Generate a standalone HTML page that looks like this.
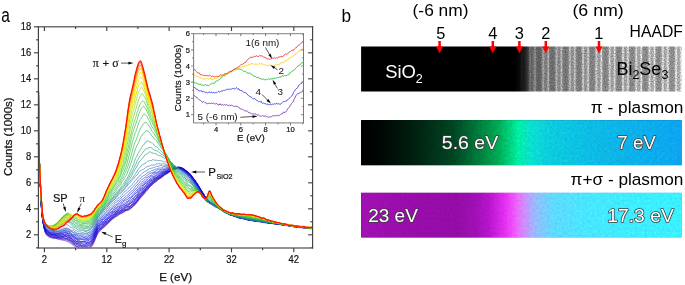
<!DOCTYPE html>
<html lang="en"><head><meta charset="utf-8"><title>EELS spectra and plasmon maps</title>
<style>
html,body{margin:0;padding:0;background:#fff;}
body{width:685px;height:285px;overflow:hidden;font-family:"Liberation Sans",sans-serif;}
svg{display:block;}
</style></head><body>
<svg width="685" height="285" viewBox="0 0 685 285" font-family="'Liberation Sans', sans-serif">
<defs>
<clipPath id="cm"><rect x="38.4" y="26.8" width="274.2" height="221.6"/></clipPath>
<clipPath id="ci"><rect x="193.6" y="33.6" width="109.9" height="89.3"/></clipPath>
<linearGradient id="gpi" x1="0" x2="1" y1="0" y2="0">
<stop offset="0" stop-color="#000000"/>
<stop offset="0.06" stop-color="#000603"/>
<stop offset="0.146" stop-color="#001a0c"/>
<stop offset="0.29" stop-color="#004422"/>
<stop offset="0.371" stop-color="#007c3c"/>
<stop offset="0.425" stop-color="#00a450"/>
<stop offset="0.464" stop-color="#00cc78"/>
<stop offset="0.49" stop-color="#00e8a0"/>
<stop offset="0.514" stop-color="#06e0b8"/>
<stop offset="0.534" stop-color="#0ad8cc"/>
<stop offset="0.589" stop-color="#0cc6d8"/>
<stop offset="0.745" stop-color="#0cb4e0"/>
<stop offset="1" stop-color="#0ca0ea"/>
</linearGradient>
<linearGradient id="gps" x1="0" x2="1" y1="0" y2="0">
<stop offset="0" stop-color="#9c10ae"/>
<stop offset="0.15" stop-color="#940ca6"/>
<stop offset="0.30" stop-color="#900ca2"/>
<stop offset="0.36" stop-color="#9c10b0"/>
<stop offset="0.40" stop-color="#b414c8"/>
<stop offset="0.445" stop-color="#da2ce8"/>
<stop offset="0.47" stop-color="#e848f4"/>
<stop offset="0.49" stop-color="#e06cf6"/>
<stop offset="0.515" stop-color="#c090f8"/>
<stop offset="0.545" stop-color="#90b8f8"/>
<stop offset="0.60" stop-color="#5cd4fa"/>
<stop offset="0.70" stop-color="#46e0fe"/>
<stop offset="0.85" stop-color="#3ce6ff"/>
<stop offset="1" stop-color="#38eaff"/>
</linearGradient>
<filter id="nz" x="0" y="0" width="100%" height="100%" color-interpolation-filters="sRGB">
<feTurbulence type="fractalNoise" baseFrequency="0.6" numOctaves="2" seed="3" result="t"/>
<feColorMatrix in="t" type="matrix" values="0 0 0 0 0  0 0 0 0 0  0 0 0 0 0  1.4 0 0 0 -0.45" result="a"/>
<feComposite in="SourceGraphic" in2="a" operator="in"/>
</filter>
</defs>
<rect width="685" height="285" fill="#fff"/>
<g clip-path="url(#cm)" fill="none" stroke-width="0.8" stroke-linejoin="round">
<path d="M38.2,-518.9 L38.3,-10.5 L38.5,89.7 L38.6,121.2 L38.8,134.0 L38.9,142.2 L39.1,149.7 L39.3,155.6 L39.4,160.5 L39.6,165.1 L39.7,170.0 L39.9,174.6 L40.0,178.3 L40.2,181.8 L40.3,185.4 L40.5,189.1 L40.7,192.8 L40.8,196.0 L41.0,199.3 L41.1,202.4 L41.3,205.1 L41.4,207.6 L41.6,209.9 L41.8,211.8 L41.9,213.3 L42.1,215.0 L42.2,216.6 L42.4,218.2 L42.5,219.3 L42.7,220.6 L42.8,221.5 L43.0,222.6 L43.2,223.4 L43.3,224.4 L43.5,225.3 L43.6,226.2 L43.8,227.1 L43.9,227.7 L44.1,228.5 L44.2,228.8 L44.4,229.4 L45.0,231.9 L45.6,233.7 L46.3,235.1 L46.9,235.6 L47.5,236.3 L48.1,236.8 L48.8,237.2 L49.4,237.6 L50.0,237.4 L50.6,237.7 L51.3,237.8 L51.9,238.3 L52.5,238.3 L53.1,238.7 L53.8,238.5 L54.4,238.5 L55.0,238.2 L55.6,238.4 L56.2,238.5 L56.9,238.9 L57.5,239.2 L58.1,239.4 L58.7,239.4 L59.4,239.5 L60.0,239.6 L60.6,239.9 L61.2,239.8 L61.9,240.0 L62.5,240.2 L63.1,240.3 L63.7,240.4 L64.4,240.6 L65.0,240.7 L65.6,241.1 L66.2,241.3 L66.8,241.8 L67.5,241.7 L68.1,241.9 L68.7,242.1 L69.3,242.8 L70.0,243.0 L70.6,243.4 L71.2,243.8 L71.8,244.3 L72.5,244.8 L73.1,245.3 L73.7,245.9 L74.3,246.3 L75.0,246.8 L75.6,247.0 L76.2,247.4 L76.8,247.9 L77.4,248.8 L78.1,249.0 L78.7,249.2 L79.3,249.1 L79.9,249.5 L80.6,249.9 L81.2,250.3 L81.8,250.6 L82.4,250.6 L83.1,250.5 L83.7,250.3 L84.3,250.0 L84.9,249.8 L85.6,249.9 L86.2,249.8 L86.8,249.7 L87.4,249.4 L88.0,249.3 L88.7,249.1 L89.3,248.8 L89.9,248.6 L90.5,248.3 L91.2,247.6 L91.8,246.7 L92.4,245.7 L93.0,244.6 L93.7,243.1 L94.3,241.8 L94.9,240.3 L95.5,239.0 L96.2,237.4 L96.8,236.0 L97.4,234.6 L98.0,233.3 L98.6,232.5 L99.3,231.8 L99.9,231.2 L100.5,230.6 L101.1,229.9 L101.8,229.5 L102.4,228.9 L103.0,228.1 L103.6,227.5 L104.3,227.0 L104.9,226.6 L105.5,226.2 L106.1,225.7 L106.8,225.0 L107.4,224.1 L108.0,223.2 L108.6,222.7 L109.2,222.3 L109.9,221.6 L110.5,220.8 L111.1,220.2 L111.7,219.7 L112.4,219.3 L113.0,218.9 L113.6,218.7 L114.2,218.4 L114.9,217.4 L115.5,217.0 L116.1,216.5 L116.7,216.4 L117.3,215.9 L118.0,215.6 L118.6,215.2 L119.2,214.6 L119.8,214.0 L120.5,213.8 L121.1,213.8 L121.7,213.6 L122.3,213.2 L123.0,212.8 L123.6,212.8 L124.2,212.1 L124.8,211.5 L125.5,211.1 L126.1,211.0 L126.7,210.6 L127.3,210.6 L127.9,210.5 L128.6,210.5 L129.2,209.8 L129.8,209.4 L130.4,209.0 L131.1,208.7 L131.7,207.9 L132.3,207.0 L132.9,206.5 L133.6,206.4 L134.2,205.7 L134.8,205.1 L135.4,204.4 L136.1,204.1 L136.7,203.1 L137.3,202.1 L137.9,201.3 L138.5,200.7 L139.2,200.0 L139.8,199.2 L140.4,198.0 L141.0,197.3 L141.7,196.8 L142.3,196.5 L142.9,195.5 L143.5,194.6 L144.2,194.0 L144.8,193.5 L145.4,192.7 L146.0,191.5 L146.7,190.8 L147.3,190.0 L147.9,189.3 L148.5,188.6 L149.1,188.1 L149.8,187.2 L150.4,186.2 L151.0,185.4 L151.6,185.0 L152.3,184.5 L152.9,184.0 L153.5,183.5 L154.1,183.2 L154.8,182.7 L155.4,182.1 L156.0,181.1 L156.6,180.6 L157.3,179.9 L157.9,179.7 L158.5,179.2 L159.1,178.7 L159.7,178.8 L160.4,178.3 L161.0,177.9 L161.6,177.5 L162.2,177.2 L162.9,176.8 L163.5,176.0 L164.1,175.5 L164.7,175.3 L165.4,174.9 L166.0,174.2 L166.6,173.7 L167.2,173.2 L167.9,173.0 L168.5,172.7 L169.1,172.1 L169.7,171.5 L170.3,171.0 L171.0,170.8 L171.6,170.7 L172.2,170.5 L172.8,170.0 L173.5,169.4 L174.1,169.1 L174.7,169.1 L175.3,168.9 L176.0,168.5 L176.6,168.1 L177.2,168.0 L177.8,167.7 L178.5,167.5 L179.1,167.2 L179.7,167.2 L180.3,167.1 L180.9,167.3 L181.6,167.7 L182.2,168.1 L182.8,168.5 L183.4,168.8 L184.1,169.1 L184.7,169.4 L185.3,169.9 L185.9,170.7 L186.6,171.1 L187.2,171.5 L187.8,171.6 L188.4,172.5 L189.1,172.8 L189.7,173.4 L190.3,173.9 L190.9,174.8 L191.5,175.7 L192.2,176.5 L192.8,177.3 L193.4,178.3 L194.0,178.9 L194.7,179.7 L195.3,180.5 L195.9,181.5 L196.5,182.8 L197.2,183.7 L197.8,184.8 L198.4,185.4 L199.0,186.5 L199.7,187.7 L200.3,188.5 L200.9,189.7 L201.5,190.7 L202.1,192.0 L202.8,193.0 L203.4,193.8 L204.0,194.9 L204.6,196.1 L205.3,197.1 L205.9,198.0 L206.5,198.3 L207.1,199.2 L207.8,199.9 L208.4,200.8 L209.0,201.3 L209.6,201.7 L210.3,202.1 L210.9,202.5 L211.5,202.8 L212.1,203.2 L212.7,203.9 L213.4,204.8 L214.0,205.3 L214.6,205.6 L215.2,205.9 L215.9,206.2 L216.5,206.4 L217.1,207.1 L217.7,207.5 L218.4,207.7 L219.0,207.6 L219.6,207.7 L220.2,208.4 L220.9,208.7 L221.5,209.1 L222.1,209.6 L222.7,210.5 L223.3,211.0 L224.0,211.5 L224.6,211.9 L225.2,212.4 L225.8,212.6 L226.5,212.9 L227.1,213.0 L227.7,213.6 L228.3,213.8 L229.0,213.9 L229.6,214.0 L230.2,214.0 L230.8,214.4 L231.5,214.4 L232.1,214.7 L232.7,215.3 L233.3,215.8 L233.9,216.2 L234.6,216.4 L235.2,216.6 L235.8,217.0 L236.4,217.2 L237.1,217.3 L237.7,217.3 L238.3,217.3 L238.9,217.7 L239.6,217.9 L240.2,218.0 L240.8,218.1 L241.4,218.2 L242.0,218.3 L242.7,218.4 L243.3,218.4 L243.9,218.5 L244.5,218.8 L245.2,219.1 L245.8,219.2 L246.4,219.3 L247.0,219.3 L247.7,219.9 L248.3,220.4 L248.9,220.4 L249.5,220.1 L250.2,219.6 L250.8,219.7 L251.4,219.8 L252.0,220.1 L252.6,220.6 L253.3,220.6 L253.9,220.8 L254.5,220.6 L255.1,220.8 L255.8,220.7 L256.4,220.8 L257.0,221.0 L257.6,221.2 L258.3,221.5 L258.9,221.6 L259.5,221.4 L260.1,221.4 L260.8,221.2 L261.4,221.5 L262.0,221.4 L262.6,221.5 L263.2,221.9 L263.9,222.0 L264.5,222.0 L265.1,222.0 L265.7,222.2 L266.4,222.6 L267.0,222.6 L267.6,222.8 L268.2,222.5 L268.9,222.7 L269.5,222.9 L270.1,222.9 L270.7,222.8 L271.4,222.6 L272.0,222.9 L272.6,223.2 L273.2,223.4 L273.8,223.4 L274.5,223.3 L275.1,223.2 L275.7,223.4 L276.3,223.6 L277.0,223.9 L277.6,223.8 L278.2,223.6 L278.8,223.7 L279.5,224.1 L280.1,224.2 L280.7,224.1 L281.3,224.0 L282.0,224.5 L282.6,224.7 L283.2,225.0 L283.8,224.9 L284.4,225.2 L285.1,225.0 L285.7,225.1 L286.3,224.9 L286.9,225.3 L287.6,225.5 L288.2,225.4 L288.8,225.6 L289.4,225.6 L290.1,225.8 L290.7,225.8 L291.3,225.8 L291.9,226.1 L292.6,225.9 L293.2,226.0 L293.8,226.0 L294.4,226.0 L295.0,226.0 L295.7,226.0 L296.3,226.5 L296.9,226.8 L297.5,227.0 L298.2,226.7 L298.8,226.7 L299.4,226.8 L300.0,227.2 L300.7,227.2 L301.3,227.5 L301.9,227.4 L302.5,227.6 L303.2,227.6 L303.8,227.7 L304.4,227.4 L305.0,227.5 L305.6,227.7 L306.3,227.8 L306.9,227.8 L307.5,227.5 L308.1,227.7 L308.8,227.7 L309.4,227.9 L310.0,227.8 L310.6,227.7 L311.3,227.8 L311.9,228.0 L312.5,228.2" stroke="rgb(125,80,205)" stroke-width="0.55"/>
<path d="M38.2,-519.6 L38.3,-10.9 L38.5,89.6 L38.6,121.7 L38.8,133.9 L38.9,141.8 L39.1,149.0 L39.3,155.1 L39.4,160.4 L39.6,165.4 L39.7,170.1 L39.9,174.5 L40.0,178.4 L40.2,182.0 L40.3,185.2 L40.5,188.5 L40.7,191.5 L40.8,195.1 L41.0,198.4 L41.1,201.9 L41.3,204.9 L41.4,207.7 L41.6,209.8 L41.8,211.8 L41.9,213.7 L42.1,215.3 L42.2,216.6 L42.4,217.5 L42.5,218.8 L42.7,219.8 L42.8,221.1 L43.0,222.0 L43.2,223.0 L43.3,223.8 L43.5,224.8 L43.6,225.6 L43.8,226.7 L43.9,227.2 L44.1,227.9 L44.2,228.6 L44.4,229.1 L45.0,231.4 L45.6,232.9 L46.3,234.3 L46.9,234.8 L47.5,235.4 L48.1,235.8 L48.8,236.4 L49.4,236.9 L50.0,237.2 L50.6,237.3 L51.3,237.3 L51.9,237.6 L52.5,238.1 L53.1,238.5 L53.8,238.7 L54.4,238.5 L55.0,238.5 L55.6,238.5 L56.2,238.6 L56.9,238.6 L57.5,238.7 L58.1,238.7 L58.7,239.0 L59.4,239.0 L60.0,239.6 L60.6,239.5 L61.2,239.6 L61.9,239.5 L62.5,239.9 L63.1,240.0 L63.7,240.1 L64.4,240.0 L65.0,240.3 L65.6,240.3 L66.2,240.7 L66.8,240.8 L67.5,241.2 L68.1,241.1 L68.7,241.6 L69.3,241.9 L70.0,242.3 L70.6,242.5 L71.2,243.0 L71.8,243.7 L72.5,244.1 L73.1,244.4 L73.7,245.1 L74.3,245.6 L75.0,246.1 L75.6,246.2 L76.2,246.8 L76.8,247.0 L77.4,247.6 L78.1,248.0 L78.7,248.6 L79.3,248.8 L79.9,248.9 L80.6,249.0 L81.2,249.3 L81.8,249.4 L82.4,249.6 L83.1,249.4 L83.7,249.7 L84.3,249.9 L84.9,250.1 L85.6,249.8 L86.2,249.8 L86.8,249.7 L87.4,249.5 L88.0,249.3 L88.7,248.8 L89.3,248.1 L89.9,247.2 L90.5,247.0 L91.2,246.6 L91.8,246.2 L92.4,245.3 L93.0,244.3 L93.7,242.7 L94.3,241.4 L94.9,239.7 L95.5,238.0 L96.2,236.2 L96.8,235.0 L97.4,234.1 L98.0,233.2 L98.6,232.3 L99.3,231.3 L99.9,230.7 L100.5,230.1 L101.1,229.5 L101.8,229.0 L102.4,228.4 L103.0,228.1 L103.6,227.3 L104.3,226.8 L104.9,225.9 L105.5,225.5 L106.1,224.8 L106.8,224.3 L107.4,223.7 L108.0,223.2 L108.6,222.7 L109.2,222.2 L109.9,221.6 L110.5,220.9 L111.1,220.3 L111.7,219.4 L112.4,219.0 L113.0,218.4 L113.6,217.9 L114.2,217.4 L114.9,216.8 L115.5,216.6 L116.1,216.1 L116.7,216.1 L117.3,216.0 L118.0,215.6 L118.6,214.9 L119.2,214.6 L119.8,214.2 L120.5,214.0 L121.1,213.2 L121.7,212.9 L122.3,212.6 L123.0,212.5 L123.6,212.2 L124.2,211.5 L124.8,210.7 L125.5,210.4 L126.1,210.2 L126.7,210.3 L127.3,210.1 L127.9,209.7 L128.6,209.5 L129.2,209.2 L129.8,209.1 L130.4,208.8 L131.1,208.2 L131.7,207.6 L132.3,206.8 L132.9,206.3 L133.6,205.7 L134.2,205.1 L134.8,204.7 L135.4,203.9 L136.1,203.1 L136.7,202.3 L137.3,201.7 L137.9,201.0 L138.5,200.0 L139.2,199.1 L139.8,198.4 L140.4,197.7 L141.0,197.0 L141.7,196.5 L142.3,195.9 L142.9,195.1 L143.5,194.4 L144.2,193.6 L144.8,192.9 L145.4,191.8 L146.0,191.4 L146.7,190.7 L147.3,190.3 L147.9,189.2 L148.5,188.2 L149.1,187.1 L149.8,186.4 L150.4,185.8 L151.0,185.2 L151.6,185.1 L152.3,184.6 L152.9,184.2 L153.5,183.4 L154.1,183.1 L154.8,182.3 L155.4,181.7 L156.0,181.2 L156.6,180.8 L157.3,180.4 L157.9,179.9 L158.5,179.5 L159.1,179.2 L159.7,178.9 L160.4,178.7 L161.0,178.0 L161.6,177.2 L162.2,176.5 L162.9,176.3 L163.5,176.0 L164.1,175.6 L164.7,174.9 L165.4,174.5 L166.0,174.2 L166.6,173.8 L167.2,173.2 L167.9,172.7 L168.5,172.6 L169.1,172.3 L169.7,171.6 L170.3,171.0 L171.0,170.5 L171.6,170.6 L172.2,170.1 L172.8,169.4 L173.5,168.7 L174.1,168.5 L174.7,168.7 L175.3,168.8 L176.0,168.6 L176.6,168.2 L177.2,167.7 L177.8,167.7 L178.5,167.7 L179.1,167.6 L179.7,167.6 L180.3,167.6 L180.9,167.9 L181.6,167.9 L182.2,168.0 L182.8,168.1 L183.4,168.7 L184.1,169.3 L184.7,170.0 L185.3,170.1 L185.9,170.7 L186.6,170.9 L187.2,171.4 L187.8,171.7 L188.4,172.5 L189.1,173.2 L189.7,174.0 L190.3,174.4 L190.9,174.9 L191.5,175.7 L192.2,176.7 L192.8,177.7 L193.4,178.4 L194.0,178.9 L194.7,179.7 L195.3,180.5 L195.9,181.8 L196.5,182.5 L197.2,183.4 L197.8,184.1 L198.4,185.3 L199.0,186.7 L199.7,188.1 L200.3,189.4 L200.9,190.0 L201.5,190.9 L202.1,191.7 L202.8,192.8 L203.4,193.7 L204.0,194.7 L204.6,195.8 L205.3,197.0 L205.9,198.1 L206.5,198.7 L207.1,199.3 L207.8,199.7 L208.4,200.3 L209.0,200.9 L209.6,201.6 L210.3,202.6 L210.9,202.8 L211.5,203.5 L212.1,203.9 L212.7,204.4 L213.4,204.8 L214.0,205.0 L214.6,205.3 L215.2,205.6 L215.9,206.0 L216.5,206.2 L217.1,206.2 L217.7,206.5 L218.4,207.1 L219.0,208.1 L219.6,208.4 L220.2,208.8 L220.9,209.1 L221.5,209.9 L222.1,210.4 L222.7,211.1 L223.3,211.0 L224.0,211.3 L224.6,211.9 L225.2,212.4 L225.8,212.5 L226.5,212.3 L227.1,213.2 L227.7,213.6 L228.3,214.0 L229.0,213.8 L229.6,214.1 L230.2,214.7 L230.8,215.1 L231.5,215.4 L232.1,215.2 L232.7,215.3 L233.3,215.5 L233.9,215.7 L234.6,216.1 L235.2,216.4 L235.8,216.7 L236.4,216.7 L237.1,216.8 L237.7,216.8 L238.3,217.0 L238.9,217.3 L239.6,217.6 L240.2,218.0 L240.8,218.2 L241.4,218.6 L242.0,218.4 L242.7,218.2 L243.3,218.4 L243.9,218.6 L244.5,218.7 L245.2,218.7 L245.8,218.9 L246.4,218.8 L247.0,218.9 L247.7,219.0 L248.3,219.3 L248.9,219.6 L249.5,220.0 L250.2,220.5 L250.8,220.5 L251.4,220.2 L252.0,220.3 L252.6,220.6 L253.3,220.8 L253.9,220.8 L254.5,220.6 L255.1,220.8 L255.8,220.8 L256.4,221.0 L257.0,221.1 L257.6,221.3 L258.3,221.5 L258.9,221.4 L259.5,220.9 L260.1,220.6 L260.8,221.2 L261.4,221.8 L262.0,221.8 L262.6,221.9 L263.2,222.1 L263.9,222.4 L264.5,222.4 L265.1,222.5 L265.7,222.4 L266.4,222.4 L267.0,222.4 L267.6,222.4 L268.2,222.5 L268.9,222.9 L269.5,223.1 L270.1,222.8 L270.7,222.5 L271.4,222.7 L272.0,223.3 L272.6,223.5 L273.2,223.4 L273.8,223.1 L274.5,223.0 L275.1,223.4 L275.7,223.8 L276.3,224.2 L277.0,224.3 L277.6,224.1 L278.2,224.2 L278.8,224.1 L279.5,224.2 L280.1,224.1 L280.7,224.1 L281.3,224.2 L282.0,224.4 L282.6,224.8 L283.2,225.0 L283.8,225.1 L284.4,225.0 L285.1,225.0 L285.7,225.2 L286.3,225.0 L286.9,225.2 L287.6,225.2 L288.2,225.4 L288.8,225.5 L289.4,225.5 L290.1,225.6 L290.7,225.5 L291.3,225.8 L291.9,226.2 L292.6,226.5 L293.2,226.5 L293.8,226.7 L294.4,226.8 L295.0,227.1 L295.7,227.0 L296.3,227.1 L296.9,226.9 L297.5,226.8 L298.2,226.6 L298.8,226.9 L299.4,227.2 L300.0,227.4 L300.7,227.1 L301.3,226.8 L301.9,226.9 L302.5,227.1 L303.2,227.1 L303.8,227.3 L304.4,227.4 L305.0,227.6 L305.6,227.4 L306.3,227.6 L306.9,227.6 L307.5,227.7 L308.1,227.5 L308.8,227.9 L309.4,228.2 L310.0,228.1 L310.6,227.9 L311.3,227.8 L311.9,228.1 L312.5,228.2" stroke="rgb(107,62,203)" stroke-width="0.55"/>
<path d="M38.2,-519.2 L38.3,-10.9 L38.5,89.6 L38.6,121.6 L38.8,134.6 L38.9,142.5 L39.1,149.4 L39.3,155.4 L39.4,160.7 L39.6,165.6 L39.7,170.0 L39.9,174.1 L40.0,178.2 L40.2,181.9 L40.3,185.3 L40.5,188.8 L40.7,192.2 L40.8,196.0 L41.0,199.3 L41.1,202.6 L41.3,205.2 L41.4,207.8 L41.6,209.7 L41.8,211.6 L41.9,213.1 L42.1,215.1 L42.2,216.6 L42.4,218.0 L42.5,218.9 L42.7,220.2 L42.8,221.3 L43.0,222.5 L43.2,223.4 L43.3,224.0 L43.5,224.8 L43.6,225.4 L43.8,226.2 L43.9,226.9 L44.1,227.6 L44.2,228.4 L44.4,229.0 L45.0,231.4 L45.6,233.0 L46.3,233.9 L46.9,234.8 L47.5,235.2 L48.1,235.9 L48.8,236.1 L49.4,236.2 L50.0,236.4 L50.6,236.7 L51.3,237.2 L51.9,237.4 L52.5,237.4 L53.1,237.5 L53.8,237.7 L54.4,237.7 L55.0,237.8 L55.6,238.0 L56.2,238.2 L56.9,238.6 L57.5,238.5 L58.1,238.8 L58.7,238.9 L59.4,239.0 L60.0,238.8 L60.6,238.6 L61.2,238.8 L61.9,239.2 L62.5,239.4 L63.1,239.5 L63.7,239.6 L64.4,239.8 L65.0,239.4 L65.6,239.4 L66.2,239.6 L66.8,240.0 L67.5,240.4 L68.1,240.4 L68.7,240.7 L69.3,241.1 L70.0,241.6 L70.6,241.9 L71.2,242.3 L71.8,243.0 L72.5,243.5 L73.1,244.1 L73.7,244.3 L74.3,244.7 L75.0,245.1 L75.6,245.6 L76.2,246.1 L76.8,246.3 L77.4,246.7 L78.1,246.9 L78.7,247.5 L79.3,247.8 L79.9,248.4 L80.6,248.8 L81.2,249.2 L81.8,249.3 L82.4,249.1 L83.1,248.7 L83.7,248.6 L84.3,248.7 L84.9,248.9 L85.6,248.6 L86.2,248.4 L86.8,248.3 L87.4,248.1 L88.0,247.8 L88.7,247.7 L89.3,247.5 L89.9,247.2 L90.5,246.7 L91.2,246.1 L91.8,245.5 L92.4,244.4 L93.0,243.3 L93.7,241.8 L94.3,240.7 L94.9,239.3 L95.5,238.1 L96.2,236.6 L96.8,235.0 L97.4,233.7 L98.0,232.3 L98.6,231.9 L99.3,230.8 L99.9,230.5 L100.5,229.6 L101.1,229.2 L101.8,228.8 L102.4,228.2 L103.0,227.5 L103.6,226.7 L104.3,226.3 L104.9,226.0 L105.5,225.5 L106.1,224.8 L106.8,224.2 L107.4,223.4 L108.0,223.1 L108.6,222.5 L109.2,222.0 L109.9,221.1 L110.5,220.4 L111.1,219.5 L111.7,219.1 L112.4,218.7 L113.0,218.4 L113.6,218.0 L114.2,217.4 L114.9,217.0 L115.5,216.5 L116.1,216.3 L116.7,215.9 L117.3,215.2 L118.0,214.7 L118.6,214.4 L119.2,214.2 L119.8,213.5 L120.5,213.2 L121.1,213.0 L121.7,213.0 L122.3,212.7 L123.0,212.2 L123.6,211.8 L124.2,211.2 L124.8,211.1 L125.5,210.7 L126.1,210.5 L126.7,210.2 L127.3,210.1 L127.9,209.9 L128.6,209.4 L129.2,209.0 L129.8,208.5 L130.4,208.3 L131.1,207.9 L131.7,207.5 L132.3,206.9 L132.9,206.3 L133.6,205.6 L134.2,205.1 L134.8,204.3 L135.4,203.5 L136.1,202.7 L136.7,202.2 L137.3,201.8 L137.9,200.9 L138.5,199.9 L139.2,198.9 L139.8,198.2 L140.4,197.4 L141.0,196.5 L141.7,195.7 L142.3,195.1 L142.9,194.3 L143.5,193.9 L144.2,192.9 L144.8,192.3 L145.4,191.2 L146.0,190.4 L146.7,189.5 L147.3,189.1 L147.9,189.0 L148.5,188.4 L149.1,187.7 L149.8,186.8 L150.4,186.1 L151.0,185.6 L151.6,185.3 L152.3,184.8 L152.9,183.9 L153.5,183.1 L154.1,182.6 L154.8,182.2 L155.4,181.8 L156.0,181.4 L156.6,180.9 L157.3,180.5 L157.9,179.9 L158.5,179.3 L159.1,178.5 L159.7,178.3 L160.4,178.0 L161.0,177.7 L161.6,177.3 L162.2,176.7 L162.9,176.2 L163.5,175.6 L164.1,175.2 L164.7,174.3 L165.4,174.2 L166.0,173.7 L166.6,173.6 L167.2,173.0 L167.9,172.9 L168.5,172.6 L169.1,172.1 L169.7,171.5 L170.3,171.1 L171.0,170.8 L171.6,170.2 L172.2,169.9 L172.8,169.8 L173.5,169.7 L174.1,169.7 L174.7,169.6 L175.3,169.3 L176.0,168.6 L176.6,167.9 L177.2,167.8 L177.8,168.0 L178.5,167.7 L179.1,167.5 L179.7,167.4 L180.3,167.7 L180.9,167.9 L181.6,167.9 L182.2,168.1 L182.8,168.4 L183.4,169.0 L184.1,169.4 L184.7,169.9 L185.3,170.0 L185.9,170.7 L186.6,171.1 L187.2,171.8 L187.8,172.3 L188.4,172.5 L189.1,172.9 L189.7,173.3 L190.3,174.1 L190.9,174.9 L191.5,176.0 L192.2,176.9 L192.8,177.7 L193.4,178.2 L194.0,179.2 L194.7,180.1 L195.3,181.0 L195.9,181.6 L196.5,182.4 L197.2,183.4 L197.8,184.3 L198.4,185.4 L199.0,186.5 L199.7,188.1 L200.3,188.8 L200.9,189.6 L201.5,190.2 L202.1,191.4 L202.8,192.6 L203.4,193.8 L204.0,195.0 L204.6,196.1 L205.3,197.0 L205.9,197.6 L206.5,198.3 L207.1,199.0 L207.8,200.0 L208.4,200.9 L209.0,201.2 L209.6,201.6 L210.3,202.0 L210.9,202.8 L211.5,203.5 L212.1,203.9 L212.7,204.1 L213.4,204.4 L214.0,204.8 L214.6,205.3 L215.2,205.6 L215.9,206.1 L216.5,206.5 L217.1,207.0 L217.7,207.0 L218.4,207.5 L219.0,207.7 L219.6,208.1 L220.2,208.4 L220.9,209.0 L221.5,209.7 L222.1,210.0 L222.7,210.5 L223.3,210.9 L224.0,211.0 L224.6,211.3 L225.2,211.8 L225.8,212.6 L226.5,212.9 L227.1,213.4 L227.7,213.7 L228.3,213.9 L229.0,214.1 L229.6,214.0 L230.2,214.2 L230.8,214.3 L231.5,214.6 L232.1,214.8 L232.7,215.1 L233.3,215.5 L233.9,216.2 L234.6,216.4 L235.2,216.3 L235.8,216.1 L236.4,216.4 L237.1,217.0 L237.7,217.4 L238.3,217.4 L238.9,217.5 L239.6,217.5 L240.2,217.7 L240.8,217.9 L241.4,218.1 L242.0,218.2 L242.7,218.3 L243.3,218.4 L243.9,218.3 L244.5,218.3 L245.2,218.5 L245.8,219.2 L246.4,219.4 L247.0,219.8 L247.7,219.9 L248.3,220.0 L248.9,219.7 L249.5,219.6 L250.2,220.1 L250.8,220.4 L251.4,220.6 L252.0,220.3 L252.6,220.0 L253.3,220.0 L253.9,220.3 L254.5,220.9 L255.1,221.1 L255.8,221.1 L256.4,221.2 L257.0,221.2 L257.6,221.5 L258.3,221.2 L258.9,221.2 L259.5,220.9 L260.1,221.3 L260.8,221.4 L261.4,221.7 L262.0,221.8 L262.6,222.0 L263.2,222.3 L263.9,222.5 L264.5,222.4 L265.1,222.4 L265.7,222.2 L266.4,222.2 L267.0,222.6 L267.6,222.8 L268.2,223.0 L268.9,222.8 L269.5,222.8 L270.1,222.8 L270.7,222.9 L271.4,223.1 L272.0,223.5 L272.6,223.5 L273.2,223.3 L273.8,223.5 L274.5,223.5 L275.1,223.6 L275.7,223.2 L276.3,223.5 L277.0,223.7 L277.6,224.2 L278.2,223.8 L278.8,223.9 L279.5,223.5 L280.1,224.1 L280.7,224.1 L281.3,224.7 L282.0,224.8 L282.6,224.7 L283.2,224.8 L283.8,224.6 L284.4,224.8 L285.1,224.9 L285.7,225.2 L286.3,225.5 L286.9,225.4 L287.6,225.5 L288.2,225.7 L288.8,225.8 L289.4,226.0 L290.1,226.1 L290.7,226.2 L291.3,226.0 L291.9,226.1 L292.6,226.2 L293.2,226.6 L293.8,226.6 L294.4,226.5 L295.0,226.6 L295.7,226.3 L296.3,226.6 L296.9,226.6 L297.5,226.9 L298.2,227.0 L298.8,227.0 L299.4,227.1 L300.0,226.9 L300.7,227.1 L301.3,227.3 L301.9,227.5 L302.5,227.5 L303.2,227.3 L303.8,227.5 L304.4,227.6 L305.0,228.0 L305.6,227.9 L306.3,228.1 L306.9,228.2 L307.5,228.3 L308.1,228.1 L308.8,228.1 L309.4,228.3 L310.0,228.6 L310.6,228.6 L311.3,228.4 L311.9,228.5 L312.5,228.4" stroke="rgb(87,42,200)" stroke-width="0.7"/>
<path d="M38.2,-518.7 L38.3,-10.2 L38.5,89.9 L38.6,122.0 L38.8,134.6 L38.9,142.8 L39.1,149.5 L39.3,155.4 L39.4,160.3 L39.6,165.1 L39.7,169.7 L39.9,173.9 L40.0,177.7 L40.2,181.4 L40.3,184.9 L40.5,188.6 L40.7,191.7 L40.8,195.2 L41.0,198.5 L41.1,201.7 L41.3,204.4 L41.4,207.2 L41.6,209.5 L41.8,211.5 L41.9,213.0 L42.1,214.6 L42.2,216.0 L42.4,217.6 L42.5,218.6 L42.7,220.0 L42.8,221.1 L43.0,222.4 L43.2,223.0 L43.3,223.6 L43.5,224.1 L43.6,224.9 L43.8,225.7 L43.9,227.0 L44.1,228.1 L44.2,228.5 L44.4,228.8 L45.0,231.1 L45.6,233.0 L46.3,233.9 L46.9,234.6 L47.5,234.8 L48.1,235.1 L48.8,235.6 L49.4,236.1 L50.0,236.7 L50.6,236.8 L51.3,237.1 L51.9,237.3 L52.5,237.2 L53.1,237.1 L53.8,237.0 L54.4,237.1 L55.0,237.1 L55.6,237.3 L56.2,237.8 L56.9,238.1 L57.5,238.0 L58.1,238.2 L58.7,237.8 L59.4,238.1 L60.0,238.2 L60.6,238.6 L61.2,238.5 L61.9,238.5 L62.5,238.3 L63.1,238.5 L63.7,238.6 L64.4,238.6 L65.0,238.6 L65.6,238.7 L66.2,238.9 L66.8,239.0 L67.5,239.4 L68.1,240.2 L68.7,240.3 L69.3,240.5 L70.0,240.3 L70.6,241.1 L71.2,241.3 L71.8,241.9 L72.5,242.3 L73.1,243.2 L73.7,243.8 L74.3,244.4 L75.0,244.8 L75.6,245.5 L76.2,245.8 L76.8,246.1 L77.4,246.4 L78.1,246.6 L78.7,246.8 L79.3,246.9 L79.9,247.3 L80.6,247.8 L81.2,247.9 L81.8,248.3 L82.4,248.3 L83.1,248.5 L83.7,248.2 L84.3,248.1 L84.9,248.1 L85.6,247.7 L86.2,247.5 L86.8,247.4 L87.4,247.7 L88.0,247.5 L88.7,247.0 L89.3,246.7 L89.9,246.3 L90.5,246.1 L91.2,245.4 L91.8,244.7 L92.4,243.4 L93.0,242.3 L93.7,241.1 L94.3,239.8 L94.9,238.6 L95.5,237.0 L96.2,235.5 L96.8,233.7 L97.4,232.4 L98.0,231.5 L98.6,230.8 L99.3,230.4 L99.9,229.7 L100.5,229.3 L101.1,228.8 L101.8,228.5 L102.4,227.9 L103.0,227.1 L103.6,226.5 L104.3,225.8 L104.9,225.2 L105.5,224.6 L106.1,224.3 L106.8,223.7 L107.4,223.0 L108.0,222.6 L108.6,222.2 L109.2,221.6 L109.9,220.9 L110.5,220.3 L111.1,220.0 L111.7,219.1 L112.4,218.5 L113.0,217.7 L113.6,217.1 L114.2,216.7 L114.9,216.3 L115.5,215.8 L116.1,215.5 L116.7,215.0 L117.3,215.1 L118.0,214.4 L118.6,213.8 L119.2,213.2 L119.8,213.0 L120.5,212.6 L121.1,212.4 L121.7,212.0 L122.3,212.0 L123.0,211.7 L123.6,211.2 L124.2,210.7 L124.8,210.1 L125.5,209.9 L126.1,209.8 L126.7,209.5 L127.3,209.8 L127.9,209.5 L128.6,209.3 L129.2,208.8 L129.8,208.4 L130.4,208.1 L131.1,207.3 L131.7,206.9 L132.3,206.3 L132.9,205.6 L133.6,205.2 L134.2,204.7 L134.8,204.1 L135.4,203.3 L136.1,202.7 L136.7,201.7 L137.3,200.8 L137.9,199.7 L138.5,198.8 L139.2,197.9 L139.8,197.4 L140.4,197.1 L141.0,196.6 L141.7,195.7 L142.3,194.9 L142.9,193.9 L143.5,193.0 L144.2,192.3 L144.8,191.5 L145.4,191.1 L146.0,190.5 L146.7,190.2 L147.3,189.5 L147.9,188.9 L148.5,188.0 L149.1,187.0 L149.8,186.3 L150.4,185.7 L151.0,185.1 L151.6,184.3 L152.3,183.6 L152.9,183.3 L153.5,182.6 L154.1,182.0 L154.8,181.6 L155.4,181.7 L156.0,181.6 L156.6,180.9 L157.3,180.1 L157.9,179.0 L158.5,178.6 L159.1,178.3 L159.7,178.0 L160.4,177.5 L161.0,177.0 L161.6,176.7 L162.2,176.2 L162.9,175.9 L163.5,175.5 L164.1,175.2 L164.7,174.5 L165.4,174.1 L166.0,174.1 L166.6,173.7 L167.2,172.9 L167.9,172.2 L168.5,171.8 L169.1,171.4 L169.7,171.1 L170.3,170.9 L171.0,170.4 L171.6,170.3 L172.2,169.8 L172.8,169.8 L173.5,169.0 L174.1,168.8 L174.7,168.6 L175.3,168.8 L176.0,168.5 L176.6,168.2 L177.2,167.6 L177.8,167.6 L178.5,167.6 L179.1,167.8 L179.7,167.8 L180.3,168.0 L180.9,167.8 L181.6,168.0 L182.2,168.2 L182.8,168.8 L183.4,169.2 L184.1,169.7 L184.7,170.0 L185.3,170.3 L185.9,170.8 L186.6,171.1 L187.2,171.8 L187.8,172.1 L188.4,172.9 L189.1,173.3 L189.7,174.0 L190.3,174.4 L190.9,175.0 L191.5,175.5 L192.2,176.5 L192.8,177.4 L193.4,178.2 L194.0,179.2 L194.7,180.2 L195.3,181.3 L195.9,181.7 L196.5,182.6 L197.2,183.4 L197.8,184.4 L198.4,185.3 L199.0,186.5 L199.7,187.5 L200.3,188.6 L200.9,189.8 L201.5,191.0 L202.1,192.0 L202.8,192.7 L203.4,193.8 L204.0,195.1 L204.6,196.3 L205.3,197.3 L205.9,198.0 L206.5,198.6 L207.1,199.6 L207.8,200.4 L208.4,201.2 L209.0,201.5 L209.6,202.1 L210.3,202.6 L210.9,203.3 L211.5,203.7 L212.1,204.1 L212.7,204.6 L213.4,204.8 L214.0,205.0 L214.6,205.4 L215.2,205.8 L215.9,206.3 L216.5,206.7 L217.1,207.2 L217.7,207.6 L218.4,207.9 L219.0,208.2 L219.6,207.9 L220.2,208.5 L220.9,208.7 L221.5,209.9 L222.1,210.2 L222.7,210.8 L223.3,211.0 L224.0,211.2 L224.6,211.5 L225.2,212.1 L225.8,212.6 L226.5,213.1 L227.1,213.3 L227.7,213.4 L228.3,213.4 L229.0,213.5 L229.6,213.9 L230.2,214.3 L230.8,214.9 L231.5,215.3 L232.1,215.6 L232.7,215.5 L233.3,215.5 L233.9,215.5 L234.6,216.0 L235.2,216.0 L235.8,216.1 L236.4,216.2 L237.1,216.6 L237.7,216.9 L238.3,217.1 L238.9,217.3 L239.6,217.5 L240.2,217.7 L240.8,217.8 L241.4,218.3 L242.0,218.7 L242.7,218.6 L243.3,218.7 L243.9,218.5 L244.5,218.9 L245.2,218.8 L245.8,219.1 L246.4,219.1 L247.0,219.2 L247.7,219.3 L248.3,219.8 L248.9,220.0 L249.5,220.1 L250.2,220.2 L250.8,220.3 L251.4,220.2 L252.0,220.0 L252.6,220.1 L253.3,220.4 L253.9,220.4 L254.5,220.4 L255.1,220.1 L255.8,220.3 L256.4,220.7 L257.0,221.0 L257.6,220.8 L258.3,220.7 L258.9,221.0 L259.5,221.5 L260.1,221.3 L260.8,221.4 L261.4,221.5 L262.0,221.8 L262.6,222.1 L263.2,222.2 L263.9,222.5 L264.5,222.4 L265.1,222.3 L265.7,222.1 L266.4,222.2 L267.0,222.3 L267.6,222.5 L268.2,222.8 L268.9,222.9 L269.5,223.0 L270.1,222.8 L270.7,223.4 L271.4,223.4 L272.0,223.5 L272.6,223.1 L273.2,223.1 L273.8,223.2 L274.5,223.0 L275.1,223.2 L275.7,223.1 L276.3,223.9 L277.0,224.4 L277.6,224.3 L278.2,223.9 L278.8,223.6 L279.5,224.0 L280.1,224.1 L280.7,224.2 L281.3,224.4 L282.0,224.3 L282.6,224.6 L283.2,224.5 L283.8,224.9 L284.4,224.8 L285.1,224.7 L285.7,224.9 L286.3,225.0 L286.9,225.3 L287.6,225.1 L288.2,225.2 L288.8,225.4 L289.4,225.6 L290.1,225.5 L290.7,225.4 L291.3,225.5 L291.9,225.8 L292.6,226.2 L293.2,226.4 L293.8,226.6 L294.4,226.5 L295.0,226.7 L295.7,226.7 L296.3,226.6 L296.9,226.3 L297.5,226.5 L298.2,226.8 L298.8,227.0 L299.4,226.9 L300.0,227.0 L300.7,227.0 L301.3,227.1 L301.9,227.1 L302.5,227.5 L303.2,227.7 L303.8,227.7 L304.4,227.8 L305.0,227.3 L305.6,227.4 L306.3,227.3 L306.9,227.9 L307.5,227.9 L308.1,227.8 L308.8,227.7 L309.4,228.0 L310.0,228.2 L310.6,228.6 L311.3,228.2 L311.9,228.1 L312.5,227.9" stroke="rgb(75,34,201)" stroke-width="0.7"/>
<path d="M38.2,-519.1 L38.3,-10.5 L38.5,89.6 L38.6,121.4 L38.8,134.0 L38.9,142.1 L39.1,149.5 L39.3,155.5 L39.4,160.9 L39.6,166.0 L39.7,170.2 L39.9,174.2 L40.0,177.4 L40.2,181.1 L40.3,184.5 L40.5,188.4 L40.7,191.7 L40.8,195.1 L41.0,198.0 L41.1,201.4 L41.3,204.1 L41.4,207.2 L41.6,209.0 L41.8,211.0 L41.9,212.5 L42.1,214.3 L42.2,215.9 L42.4,217.1 L42.5,218.7 L42.7,219.6 L42.8,221.0 L43.0,222.1 L43.2,223.2 L43.3,224.1 L43.5,224.6 L43.6,225.2 L43.8,225.6 L43.9,226.4 L44.1,227.1 L44.2,227.8 L44.4,228.3 L45.0,230.4 L45.6,232.0 L46.3,233.4 L46.9,234.2 L47.5,234.8 L48.1,234.9 L48.8,235.4 L49.4,235.8 L50.0,236.4 L50.6,236.3 L51.3,236.4 L51.9,236.7 L52.5,237.0 L53.1,237.2 L53.8,237.0 L54.4,237.2 L55.0,237.3 L55.6,237.6 L56.2,237.5 L56.9,237.5 L57.5,237.8 L58.1,237.5 L58.7,237.6 L59.4,237.5 L60.0,238.0 L60.6,238.1 L61.2,238.1 L61.9,237.9 L62.5,237.9 L63.1,237.9 L63.7,238.3 L64.4,238.5 L65.0,238.8 L65.6,238.7 L66.2,238.6 L66.8,238.9 L67.5,239.2 L68.1,239.4 L68.7,239.4 L69.3,239.8 L70.0,240.2 L70.6,240.7 L71.2,241.0 L71.8,241.2 L72.5,241.9 L73.1,242.4 L73.7,243.2 L74.3,243.5 L75.0,243.9 L75.6,244.2 L76.2,244.4 L76.8,244.5 L77.4,244.9 L78.1,245.4 L78.7,246.0 L79.3,246.1 L79.9,246.5 L80.6,246.3 L81.2,246.9 L81.8,246.9 L82.4,247.4 L83.1,247.2 L83.7,247.3 L84.3,246.9 L84.9,246.9 L85.6,246.7 L86.2,246.9 L86.8,246.8 L87.4,246.7 L88.0,246.1 L88.7,245.7 L89.3,245.6 L89.9,245.3 L90.5,245.4 L91.2,244.3 L91.8,244.1 L92.4,243.0 L93.0,242.0 L93.7,240.5 L94.3,239.3 L94.9,237.9 L95.5,236.6 L96.2,235.1 L96.8,233.6 L97.4,232.2 L98.0,230.9 L98.6,230.3 L99.3,229.5 L99.9,229.0 L100.5,228.6 L101.1,228.0 L101.8,227.4 L102.4,226.7 L103.0,226.2 L103.6,225.7 L104.3,225.3 L104.9,224.9 L105.5,224.7 L106.1,223.9 L106.8,223.0 L107.4,222.2 L108.0,222.0 L108.6,221.7 L109.2,221.0 L109.9,220.1 L110.5,219.4 L111.1,218.7 L111.7,218.1 L112.4,217.8 L113.0,217.4 L113.6,217.2 L114.2,216.5 L114.9,215.9 L115.5,215.1 L116.1,214.6 L116.7,214.5 L117.3,214.4 L118.0,214.0 L118.6,213.7 L119.2,213.3 L119.8,212.9 L120.5,212.2 L121.1,211.9 L121.7,211.6 L122.3,211.2 L123.0,210.8 L123.6,210.8 L124.2,210.6 L124.8,210.3 L125.5,209.8 L126.1,209.5 L126.7,209.5 L127.3,208.9 L127.9,208.6 L128.6,208.1 L129.2,208.0 L129.8,207.7 L130.4,207.3 L131.1,207.3 L131.7,207.3 L132.3,206.3 L132.9,205.5 L133.6,204.5 L134.2,204.1 L134.8,203.4 L135.4,202.5 L136.1,202.0 L136.7,201.1 L137.3,200.9 L137.9,199.8 L138.5,199.0 L139.2,197.8 L139.8,197.1 L140.4,196.4 L141.0,195.6 L141.7,194.8 L142.3,194.2 L142.9,193.4 L143.5,193.0 L144.2,192.1 L144.8,191.5 L145.4,190.6 L146.0,190.0 L146.7,189.2 L147.3,188.6 L147.9,188.1 L148.5,187.3 L149.1,186.5 L149.8,185.6 L150.4,185.0 L151.0,184.6 L151.6,184.0 L152.3,183.7 L152.9,182.9 L153.5,182.5 L154.1,181.8 L154.8,181.2 L155.4,180.7 L156.0,180.4 L156.6,179.9 L157.3,179.2 L157.9,178.5 L158.5,178.1 L159.1,178.1 L159.7,177.8 L160.4,177.5 L161.0,177.1 L161.6,176.7 L162.2,176.2 L162.9,175.8 L163.5,175.5 L164.1,175.1 L164.7,174.3 L165.4,173.7 L166.0,173.5 L166.6,173.4 L167.2,173.2 L167.9,172.6 L168.5,172.2 L169.1,171.8 L169.7,171.3 L170.3,170.7 L171.0,170.3 L171.6,170.2 L172.2,170.0 L172.8,169.6 L173.5,169.0 L174.1,168.5 L174.7,168.5 L175.3,168.4 L176.0,168.6 L176.6,168.7 L177.2,168.6 L177.8,168.6 L178.5,167.8 L179.1,167.6 L179.7,167.5 L180.3,167.8 L180.9,168.0 L181.6,167.8 L182.2,168.0 L182.8,168.1 L183.4,168.7 L184.1,169.0 L184.7,169.4 L185.3,169.8 L185.9,170.4 L186.6,170.9 L187.2,171.6 L187.8,171.9 L188.4,172.6 L189.1,173.3 L189.7,173.8 L190.3,174.4 L190.9,175.0 L191.5,176.2 L192.2,177.0 L192.8,177.9 L193.4,178.7 L194.0,179.3 L194.7,180.2 L195.3,181.1 L195.9,182.0 L196.5,182.8 L197.2,183.9 L197.8,185.1 L198.4,186.1 L199.0,186.8 L199.7,187.8 L200.3,189.1 L200.9,190.3 L201.5,191.4 L202.1,192.3 L202.8,192.8 L203.4,193.8 L204.0,195.0 L204.6,196.1 L205.3,197.0 L205.9,197.8 L206.5,198.7 L207.1,199.5 L207.8,200.1 L208.4,200.6 L209.0,201.4 L209.6,201.9 L210.3,202.5 L210.9,202.7 L211.5,203.5 L212.1,204.0 L212.7,204.6 L213.4,205.1 L214.0,205.4 L214.6,205.6 L215.2,205.5 L215.9,205.9 L216.5,206.2 L217.1,206.5 L217.7,206.7 L218.4,206.9 L219.0,207.1 L219.6,207.5 L220.2,208.1 L220.9,208.6 L221.5,209.3 L222.1,209.9 L222.7,210.6 L223.3,211.1 L224.0,211.3 L224.6,211.5 L225.2,211.8 L225.8,212.5 L226.5,212.9 L227.1,212.9 L227.7,213.3 L228.3,213.7 L229.0,214.2 L229.6,214.5 L230.2,214.9 L230.8,215.2 L231.5,215.1 L232.1,215.3 L232.7,215.4 L233.3,215.7 L233.9,215.9 L234.6,216.0 L235.2,216.1 L235.8,216.1 L236.4,216.5 L237.1,217.0 L237.7,217.4 L238.3,217.2 L238.9,217.2 L239.6,217.4 L240.2,217.9 L240.8,218.3 L241.4,218.4 L242.0,218.5 L242.7,218.5 L243.3,218.5 L243.9,218.5 L244.5,218.5 L245.2,219.1 L245.8,219.1 L246.4,219.3 L247.0,219.4 L247.7,219.3 L248.3,219.5 L248.9,219.6 L249.5,219.9 L250.2,219.9 L250.8,220.1 L251.4,220.2 L252.0,220.6 L252.6,220.4 L253.3,220.7 L253.9,220.6 L254.5,220.6 L255.1,220.7 L255.8,220.7 L256.4,220.8 L257.0,220.8 L257.6,220.9 L258.3,221.1 L258.9,221.2 L259.5,221.1 L260.1,221.0 L260.8,220.9 L261.4,221.3 L262.0,221.6 L262.6,221.9 L263.2,221.7 L263.9,221.6 L264.5,222.0 L265.1,222.2 L265.7,222.7 L266.4,222.7 L267.0,222.9 L267.6,222.9 L268.2,222.6 L268.9,222.7 L269.5,222.7 L270.1,223.1 L270.7,222.9 L271.4,223.2 L272.0,223.0 L272.6,223.4 L273.2,223.3 L273.8,223.7 L274.5,223.5 L275.1,223.0 L275.7,223.0 L276.3,223.3 L277.0,223.8 L277.6,224.2 L278.2,224.0 L278.8,224.0 L279.5,224.0 L280.1,224.0 L280.7,224.4 L281.3,224.5 L282.0,224.9 L282.6,224.9 L283.2,225.1 L283.8,224.9 L284.4,225.1 L285.1,225.0 L285.7,225.0 L286.3,224.7 L286.9,224.6 L287.6,225.3 L288.2,225.7 L288.8,226.0 L289.4,225.9 L290.1,226.0 L290.7,226.2 L291.3,226.1 L291.9,226.1 L292.6,226.3 L293.2,226.7 L293.8,226.7 L294.4,226.9 L295.0,226.6 L295.7,226.8 L296.3,226.7 L296.9,226.9 L297.5,226.9 L298.2,226.8 L298.8,227.1 L299.4,227.4 L300.0,227.3 L300.7,227.1 L301.3,227.3 L301.9,227.4 L302.5,227.7 L303.2,227.1 L303.8,227.1 L304.4,226.9 L305.0,227.2 L305.6,227.7 L306.3,227.7 L306.9,227.9 L307.5,227.6 L308.1,227.9 L308.8,228.1 L309.4,228.4 L310.0,228.4 L310.6,228.3 L311.3,228.2 L311.9,228.4 L312.5,228.4" stroke="rgb(62,27,203)" stroke-width="0.7"/>
<path d="M38.2,-518.9 L38.3,-10.5 L38.5,89.7 L38.6,121.5 L38.8,134.2 L38.9,142.2 L39.1,149.2 L39.3,155.2 L39.4,160.6 L39.6,165.6 L39.7,170.3 L39.9,174.4 L40.0,178.1 L40.2,181.7 L40.3,185.3 L40.5,188.6 L40.7,192.1 L40.8,195.3 L41.0,198.5 L41.1,201.4 L41.3,204.4 L41.4,207.2 L41.6,209.2 L41.8,211.0 L41.9,212.9 L42.1,214.6 L42.2,215.9 L42.4,216.8 L42.5,217.9 L42.7,219.3 L42.8,220.8 L43.0,221.9 L43.2,222.8 L43.3,223.4 L43.5,223.9 L43.6,224.6 L43.8,225.3 L43.9,226.1 L44.1,226.8 L44.2,227.6 L44.4,228.4 L45.0,230.3 L45.6,231.6 L46.3,232.6 L46.9,233.4 L47.5,234.0 L48.1,234.6 L48.8,235.1 L49.4,235.5 L50.0,235.8 L50.6,236.0 L51.3,236.2 L51.9,236.2 L52.5,236.3 L53.1,236.8 L53.8,237.0 L54.4,237.3 L55.0,237.0 L55.6,237.1 L56.2,237.2 L56.9,237.5 L57.5,237.5 L58.1,237.3 L58.7,237.4 L59.4,237.8 L60.0,237.9 L60.6,237.8 L61.2,237.6 L61.9,237.5 L62.5,237.4 L63.1,237.4 L63.7,237.6 L64.4,237.7 L65.0,237.7 L65.6,238.0 L66.2,238.2 L66.8,238.5 L67.5,238.4 L68.1,238.8 L68.7,239.0 L69.3,239.3 L70.0,239.6 L70.6,240.0 L71.2,240.6 L71.8,240.8 L72.5,241.0 L73.1,241.6 L73.7,242.6 L74.3,243.1 L75.0,243.5 L75.6,243.7 L76.2,244.0 L76.8,244.2 L77.4,244.5 L78.1,245.0 L78.7,245.3 L79.3,245.5 L79.9,245.4 L80.6,245.5 L81.2,245.9 L81.8,246.2 L82.4,246.4 L83.1,246.6 L83.7,246.7 L84.3,246.5 L84.9,246.3 L85.6,246.0 L86.2,246.1 L86.8,245.9 L87.4,246.1 L88.0,245.5 L88.7,245.1 L89.3,244.5 L89.9,244.5 L90.5,244.3 L91.2,243.7 L91.8,243.1 L92.4,241.8 L93.0,241.0 L93.7,239.3 L94.3,238.4 L94.9,237.3 L95.5,235.9 L96.2,234.3 L96.8,232.6 L97.4,231.3 L98.0,230.4 L98.6,229.8 L99.3,229.5 L99.9,229.1 L100.5,228.7 L101.1,228.2 L101.8,227.6 L102.4,226.9 L103.0,226.3 L103.6,225.7 L104.3,224.9 L104.9,224.2 L105.5,223.6 L106.1,223.3 L106.8,222.7 L107.4,222.1 L108.0,221.4 L108.6,221.1 L109.2,220.6 L109.9,219.9 L110.5,218.9 L111.1,218.3 L111.7,217.6 L112.4,217.6 L113.0,217.2 L113.6,217.0 L114.2,216.3 L114.9,215.8 L115.5,215.3 L116.1,214.6 L116.7,214.1 L117.3,213.5 L118.0,213.4 L118.6,213.0 L119.2,213.1 L119.8,212.7 L120.5,212.3 L121.1,211.7 L121.7,211.5 L122.3,211.4 L123.0,210.6 L123.6,210.3 L124.2,209.9 L124.8,210.3 L125.5,210.1 L126.1,209.6 L126.7,209.1 L127.3,209.0 L127.9,208.8 L128.6,208.2 L129.2,207.5 L129.8,207.0 L130.4,206.7 L131.1,205.9 L131.7,205.5 L132.3,204.8 L132.9,204.9 L133.6,204.3 L134.2,204.0 L134.8,203.1 L135.4,202.4 L136.1,201.6 L136.7,201.2 L137.3,200.3 L137.9,199.2 L138.5,198.0 L139.2,197.3 L139.8,196.6 L140.4,195.8 L141.0,195.0 L141.7,194.1 L142.3,193.5 L142.9,192.9 L143.5,192.6 L144.2,191.5 L144.8,190.9 L145.4,189.9 L146.0,189.4 L146.7,188.7 L147.3,188.1 L147.9,187.5 L148.5,186.7 L149.1,186.1 L149.8,185.6 L150.4,185.1 L151.0,184.5 L151.6,183.8 L152.3,183.0 L152.9,182.2 L153.5,181.7 L154.1,181.4 L154.8,180.9 L155.4,180.4 L156.0,179.7 L156.6,179.3 L157.3,178.8 L157.9,178.5 L158.5,178.0 L159.1,177.8 L159.7,177.4 L160.4,177.1 L161.0,176.3 L161.6,175.9 L162.2,175.4 L162.9,175.3 L163.5,175.2 L164.1,174.7 L164.7,174.1 L165.4,173.3 L166.0,173.3 L166.6,172.9 L167.2,172.7 L167.9,172.4 L168.5,172.0 L169.1,171.8 L169.7,171.1 L170.3,171.1 L171.0,170.8 L171.6,170.6 L172.2,170.2 L172.8,169.7 L173.5,169.1 L174.1,168.6 L174.7,168.3 L175.3,168.1 L176.0,167.8 L176.6,167.8 L177.2,168.1 L177.8,168.0 L178.5,167.9 L179.1,167.7 L179.7,167.7 L180.3,167.8 L180.9,168.1 L181.6,168.4 L182.2,168.8 L182.8,168.7 L183.4,169.1 L184.1,169.4 L184.7,170.0 L185.3,170.5 L185.9,171.1 L186.6,171.5 L187.2,172.0 L187.8,172.3 L188.4,172.9 L189.1,173.4 L189.7,174.4 L190.3,175.1 L190.9,175.9 L191.5,176.7 L192.2,177.2 L192.8,178.1 L193.4,178.7 L194.0,179.5 L194.7,180.1 L195.3,180.9 L195.9,182.2 L196.5,183.4 L197.2,184.3 L197.8,184.8 L198.4,185.8 L199.0,186.9 L199.7,188.0 L200.3,188.9 L200.9,189.8 L201.5,190.9 L202.1,192.0 L202.8,192.7 L203.4,193.9 L204.0,195.0 L204.6,196.4 L205.3,197.2 L205.9,198.0 L206.5,198.7 L207.1,199.3 L207.8,199.7 L208.4,200.4 L209.0,201.2 L209.6,202.1 L210.3,202.8 L210.9,203.4 L211.5,203.8 L212.1,203.9 L212.7,203.7 L213.4,203.9 L214.0,204.2 L214.6,204.7 L215.2,205.4 L215.9,205.9 L216.5,206.6 L217.1,206.9 L217.7,206.9 L218.4,207.2 L219.0,207.7 L219.6,208.5 L220.2,208.7 L220.9,209.0 L221.5,209.3 L222.1,210.0 L222.7,210.6 L223.3,211.2 L224.0,211.4 L224.6,211.5 L225.2,212.0 L225.8,212.3 L226.5,212.9 L227.1,213.0 L227.7,213.5 L228.3,214.0 L229.0,214.1 L229.6,214.2 L230.2,214.6 L230.8,214.9 L231.5,215.3 L232.1,215.3 L232.7,215.6 L233.3,215.9 L233.9,215.9 L234.6,216.2 L235.2,215.9 L235.8,216.2 L236.4,216.3 L237.1,216.7 L237.7,216.6 L238.3,217.0 L238.9,217.4 L239.6,217.9 L240.2,217.8 L240.8,217.7 L241.4,217.7 L242.0,218.0 L242.7,218.5 L243.3,218.5 L243.9,218.7 L244.5,218.6 L245.2,219.0 L245.8,219.0 L246.4,219.2 L247.0,219.2 L247.7,219.4 L248.3,219.6 L248.9,219.8 L249.5,219.9 L250.2,219.9 L250.8,219.8 L251.4,219.7 L252.0,220.1 L252.6,220.6 L253.3,221.0 L253.9,220.7 L254.5,220.5 L255.1,220.9 L255.8,220.9 L256.4,220.9 L257.0,221.0 L257.6,221.4 L258.3,221.6 L258.9,221.5 L259.5,221.5 L260.1,221.5 L260.8,221.5 L261.4,221.4 L262.0,221.6 L262.6,221.5 L263.2,221.8 L263.9,222.1 L264.5,222.7 L265.1,222.8 L265.7,222.7 L266.4,222.4 L267.0,222.8 L267.6,222.9 L268.2,223.3 L268.9,222.8 L269.5,222.9 L270.1,222.8 L270.7,222.8 L271.4,222.7 L272.0,222.9 L272.6,223.1 L273.2,223.2 L273.8,223.2 L274.5,223.7 L275.1,223.9 L275.7,224.2 L276.3,224.0 L277.0,223.9 L277.6,223.8 L278.2,223.6 L278.8,223.9 L279.5,224.0 L280.1,224.3 L280.7,224.4 L281.3,224.5 L282.0,224.4 L282.6,224.2 L283.2,224.4 L283.8,224.5 L284.4,224.9 L285.1,224.7 L285.7,224.6 L286.3,224.6 L286.9,224.9 L287.6,225.4 L288.2,225.6 L288.8,225.8 L289.4,225.7 L290.1,226.0 L290.7,225.8 L291.3,225.9 L291.9,225.6 L292.6,225.9 L293.2,226.0 L293.8,226.0 L294.4,226.0 L295.0,226.3 L295.7,226.6 L296.3,226.9 L296.9,226.9 L297.5,226.6 L298.2,226.9 L298.8,226.6 L299.4,227.2 L300.0,226.9 L300.7,227.3 L301.3,227.4 L301.9,227.7 L302.5,227.6 L303.2,227.5 L303.8,227.4 L304.4,227.8 L305.0,227.5 L305.6,227.7 L306.3,227.2 L306.9,227.5 L307.5,227.5 L308.1,227.9 L308.8,227.8 L309.4,228.0 L310.0,227.8 L310.6,228.2 L311.3,228.2 L311.9,228.3 L312.5,228.2" stroke="rgb(47,19,204)" stroke-width="0.7"/>
<path d="M38.2,-519.4 L38.3,-11.2 L38.5,89.2 L38.6,121.3 L38.8,134.4 L38.9,142.3 L39.1,149.5 L39.3,155.4 L39.4,160.9 L39.6,165.5 L39.7,170.0 L39.9,173.7 L40.0,177.8 L40.2,181.4 L40.3,184.9 L40.5,188.1 L40.7,191.4 L40.8,194.8 L41.0,198.0 L41.1,201.2 L41.3,204.2 L41.4,206.8 L41.6,209.1 L41.8,211.1 L41.9,213.0 L42.1,214.5 L42.2,215.9 L42.4,217.4 L42.5,218.6 L42.7,219.5 L42.8,220.4 L43.0,221.5 L43.2,222.5 L43.3,223.1 L43.5,223.8 L43.6,224.5 L43.8,225.2 L43.9,225.8 L44.1,226.6 L44.2,227.4 L44.4,227.9 L45.0,229.6 L45.6,231.3 L46.3,232.4 L46.9,233.5 L47.5,234.2 L48.1,234.5 L48.8,234.7 L49.4,235.0 L50.0,235.0 L50.6,235.2 L51.3,235.2 L51.9,235.5 L52.5,235.6 L53.1,236.0 L53.8,236.1 L54.4,236.3 L55.0,236.5 L55.6,236.6 L56.2,236.8 L56.9,236.5 L57.5,236.7 L58.1,236.7 L58.7,236.8 L59.4,236.9 L60.0,236.8 L60.6,236.9 L61.2,236.7 L61.9,236.9 L62.5,236.7 L63.1,236.7 L63.7,236.7 L64.4,236.8 L65.0,236.8 L65.6,236.6 L66.2,237.0 L66.8,237.2 L67.5,237.7 L68.1,237.7 L68.7,238.3 L69.3,238.6 L70.0,239.1 L70.6,239.2 L71.2,239.6 L71.8,240.1 L72.5,240.7 L73.1,241.6 L73.7,241.8 L74.3,242.0 L75.0,242.0 L75.6,242.7 L76.2,243.3 L76.8,243.8 L77.4,243.6 L78.1,243.7 L78.7,244.2 L79.3,244.7 L79.9,245.0 L80.6,245.2 L81.2,245.6 L81.8,245.7 L82.4,245.7 L83.1,245.6 L83.7,245.7 L84.3,245.8 L84.9,245.8 L85.6,245.5 L86.2,245.2 L86.8,245.2 L87.4,245.0 L88.0,244.7 L88.7,243.9 L89.3,243.8 L89.9,243.5 L90.5,243.6 L91.2,242.9 L91.8,241.7 L92.4,240.8 L93.0,240.1 L93.7,239.1 L94.3,237.8 L94.9,236.5 L95.5,235.1 L96.2,233.5 L96.8,231.8 L97.4,230.5 L98.0,229.4 L98.6,228.9 L99.3,228.2 L99.9,228.2 L100.5,227.8 L101.1,227.3 L101.8,226.5 L102.4,225.7 L103.0,225.2 L103.6,224.4 L104.3,223.8 L104.9,223.2 L105.5,222.8 L106.1,222.5 L106.8,222.2 L107.4,221.7 L108.0,221.2 L108.6,220.5 L109.2,219.9 L109.9,219.1 L110.5,218.5 L111.1,218.2 L111.7,217.7 L112.4,217.1 L113.0,216.2 L113.6,215.6 L114.2,215.3 L114.9,215.1 L115.5,214.5 L116.1,213.8 L116.7,213.0 L117.3,212.6 L118.0,212.4 L118.6,212.2 L119.2,212.1 L119.8,211.5 L120.5,211.1 L121.1,210.8 L121.7,210.5 L122.3,210.5 L123.0,210.2 L123.6,210.0 L124.2,209.4 L124.8,209.1 L125.5,208.6 L126.1,208.1 L126.7,207.7 L127.3,207.4 L127.9,207.2 L128.6,207.0 L129.2,206.8 L129.8,206.5 L130.4,206.0 L131.1,205.5 L131.7,204.8 L132.3,204.5 L132.9,203.8 L133.6,203.4 L134.2,202.7 L134.8,202.2 L135.4,201.5 L136.1,200.7 L136.7,200.0 L137.3,199.3 L137.9,198.7 L138.5,197.6 L139.2,196.7 L139.8,195.9 L140.4,195.4 L141.0,194.9 L141.7,193.7 L142.3,193.2 L142.9,192.2 L143.5,191.6 L144.2,190.9 L144.8,190.2 L145.4,189.4 L146.0,188.5 L146.7,187.8 L147.3,187.1 L147.9,186.5 L148.5,185.9 L149.1,185.4 L149.8,184.7 L150.4,184.3 L151.0,183.6 L151.6,183.2 L152.3,182.6 L152.9,182.1 L153.5,181.3 L154.1,180.5 L154.8,180.1 L155.4,179.8 L156.0,179.5 L156.6,179.0 L157.3,178.7 L157.9,178.5 L158.5,178.1 L159.1,177.8 L159.7,177.2 L160.4,177.0 L161.0,176.7 L161.6,176.3 L162.2,175.6 L162.9,174.7 L163.5,174.2 L164.1,173.7 L164.7,173.7 L165.4,173.6 L166.0,173.3 L166.6,172.9 L167.2,172.3 L167.9,171.9 L168.5,171.5 L169.1,171.3 L169.7,171.2 L170.3,171.0 L171.0,170.5 L171.6,170.0 L172.2,169.5 L172.8,168.9 L173.5,168.6 L174.1,168.4 L174.7,168.3 L175.3,167.9 L176.0,167.7 L176.6,167.8 L177.2,167.6 L177.8,167.3 L178.5,167.1 L179.1,167.3 L179.7,167.6 L180.3,167.7 L180.9,167.8 L181.6,168.2 L182.2,168.4 L182.8,168.9 L183.4,169.2 L184.1,169.8 L184.7,170.2 L185.3,170.5 L185.9,170.9 L186.6,171.4 L187.2,172.0 L187.8,172.6 L188.4,173.3 L189.1,174.0 L189.7,174.5 L190.3,174.8 L190.9,175.3 L191.5,176.1 L192.2,176.9 L192.8,177.8 L193.4,178.5 L194.0,179.4 L194.7,180.1 L195.3,181.1 L195.9,182.2 L196.5,183.3 L197.2,184.1 L197.8,184.9 L198.4,185.8 L199.0,187.0 L199.7,188.1 L200.3,189.1 L200.9,190.3 L201.5,191.2 L202.1,192.5 L202.8,193.3 L203.4,194.4 L204.0,195.5 L204.6,196.7 L205.3,197.6 L205.9,198.2 L206.5,199.1 L207.1,199.6 L207.8,199.8 L208.4,200.4 L209.0,201.0 L209.6,202.2 L210.3,202.4 L210.9,203.2 L211.5,203.8 L212.1,204.2 L212.7,204.3 L213.4,204.2 L214.0,204.8 L214.6,205.1 L215.2,205.2 L215.9,205.6 L216.5,206.1 L217.1,207.0 L217.7,207.2 L218.4,207.4 L219.0,207.8 L219.6,208.3 L220.2,208.8 L220.9,208.9 L221.5,209.0 L222.1,209.9 L222.7,210.7 L223.3,211.4 L224.0,211.3 L224.6,211.7 L225.2,211.7 L225.8,212.0 L226.5,212.2 L227.1,212.8 L227.7,213.3 L228.3,213.7 L229.0,213.8 L229.6,213.9 L230.2,214.3 L230.8,214.5 L231.5,214.8 L232.1,215.0 L232.7,215.5 L233.3,215.9 L233.9,216.2 L234.6,216.7 L235.2,216.6 L235.8,216.6 L236.4,216.4 L237.1,216.6 L237.7,216.8 L238.3,216.9 L238.9,217.6 L239.6,217.9 L240.2,218.0 L240.8,217.6 L241.4,217.4 L242.0,217.4 L242.7,218.0 L243.3,218.8 L243.9,219.0 L244.5,219.0 L245.2,218.7 L245.8,218.9 L246.4,219.0 L247.0,219.5 L247.7,219.6 L248.3,219.8 L248.9,219.6 L249.5,219.7 L250.2,219.8 L250.8,219.9 L251.4,220.1 L252.0,220.1 L252.6,220.2 L253.3,220.3 L253.9,220.6 L254.5,220.6 L255.1,220.6 L255.8,220.4 L256.4,220.8 L257.0,220.9 L257.6,221.3 L258.3,221.4 L258.9,221.4 L259.5,221.3 L260.1,221.6 L260.8,221.8 L261.4,222.0 L262.0,221.6 L262.6,222.0 L263.2,222.0 L263.9,222.4 L264.5,222.1 L265.1,222.3 L265.7,222.2 L266.4,222.2 L267.0,222.1 L267.6,222.2 L268.2,222.5 L268.9,222.7 L269.5,222.8 L270.1,223.0 L270.7,223.1 L271.4,223.2 L272.0,223.3 L272.6,223.2 L273.2,223.2 L273.8,223.4 L274.5,223.3 L275.1,223.3 L275.7,223.1 L276.3,223.3 L277.0,223.5 L277.6,223.9 L278.2,224.1 L278.8,224.0 L279.5,224.0 L280.1,224.3 L280.7,224.5 L281.3,224.8 L282.0,224.7 L282.6,224.9 L283.2,225.0 L283.8,225.1 L284.4,225.0 L285.1,225.2 L285.7,225.2 L286.3,224.9 L286.9,225.0 L287.6,225.0 L288.2,225.5 L288.8,225.4 L289.4,225.8 L290.1,226.1 L290.7,225.9 L291.3,225.9 L291.9,225.9 L292.6,226.2 L293.2,226.6 L293.8,226.6 L294.4,226.5 L295.0,226.7 L295.7,226.8 L296.3,227.0 L296.9,226.6 L297.5,226.4 L298.2,226.6 L298.8,226.9 L299.4,227.1 L300.0,227.2 L300.7,227.2 L301.3,227.2 L301.9,226.9 L302.5,226.9 L303.2,227.2 L303.8,227.4 L304.4,227.8 L305.0,227.8 L305.6,228.1 L306.3,227.6 L306.9,227.5 L307.5,227.4 L308.1,227.8 L308.8,228.4 L309.4,228.3 L310.0,228.1 L310.6,227.9 L311.3,228.0 L311.9,228.1 L312.5,228.1" stroke="rgb(38,14,206)" stroke-width="0.7"/>
<path d="M38.2,-519.4 L38.3,-11.1 L38.5,89.1 L38.6,120.9 L38.8,134.0 L38.9,142.3 L39.1,150.0 L39.3,155.9 L39.4,160.8 L39.6,165.4 L39.7,169.7 L39.9,174.2 L40.0,178.0 L40.2,181.8 L40.3,184.6 L40.5,187.8 L40.7,190.9 L40.8,194.4 L41.0,197.7 L41.1,200.8 L41.3,203.6 L41.4,206.4 L41.6,208.8 L41.8,210.8 L41.9,212.5 L42.1,214.1 L42.2,215.6 L42.4,216.8 L42.5,218.3 L42.7,219.2 L42.8,220.5 L43.0,221.4 L43.2,222.6 L43.3,223.3 L43.5,224.0 L43.6,224.5 L43.8,225.2 L43.9,225.8 L44.1,226.2 L44.2,226.6 L44.4,227.3 L45.0,229.4 L45.6,230.8 L46.3,231.7 L46.9,232.5 L47.5,233.1 L48.1,234.0 L48.8,234.6 L49.4,234.8 L50.0,234.9 L50.6,234.9 L51.3,235.0 L51.9,235.2 L52.5,235.2 L53.1,235.3 L53.8,235.1 L54.4,235.3 L55.0,235.4 L55.6,235.4 L56.2,235.6 L56.9,235.8 L57.5,236.2 L58.1,236.3 L58.7,236.6 L59.4,236.8 L60.0,236.6 L60.6,236.3 L61.2,236.4 L61.9,236.7 L62.5,236.9 L63.1,236.7 L63.7,236.4 L64.4,236.3 L65.0,236.1 L65.6,236.1 L66.2,236.2 L66.8,236.8 L67.5,237.2 L68.1,237.5 L68.7,237.6 L69.3,237.6 L70.0,237.9 L70.6,238.3 L71.2,238.6 L71.8,239.4 L72.5,240.1 L73.1,240.7 L73.7,240.8 L74.3,241.4 L75.0,241.8 L75.6,242.3 L76.2,242.4 L76.8,242.9 L77.4,243.0 L78.1,243.4 L78.7,243.6 L79.3,243.9 L79.9,244.0 L80.6,244.5 L81.2,245.1 L81.8,245.2 L82.4,245.2 L83.1,245.0 L83.7,244.9 L84.3,244.9 L84.9,244.7 L85.6,244.4 L86.2,244.3 L86.8,244.2 L87.4,244.1 L88.0,243.6 L88.7,243.3 L89.3,243.0 L89.9,243.1 L90.5,242.4 L91.2,241.8 L91.8,240.7 L92.4,240.1 L93.0,239.3 L93.7,238.2 L94.3,236.8 L94.9,235.5 L95.5,234.4 L96.2,233.0 L96.8,231.4 L97.4,229.6 L98.0,228.8 L98.6,228.1 L99.3,227.9 L99.9,227.5 L100.5,227.0 L101.1,226.3 L101.8,225.5 L102.4,225.0 L103.0,224.9 L103.6,224.2 L104.3,223.5 L104.9,222.7 L105.5,222.3 L106.1,221.8 L106.8,221.3 L107.4,220.7 L108.0,220.1 L108.6,219.9 L109.2,219.4 L109.9,218.9 L110.5,218.1 L111.1,217.5 L111.7,216.9 L112.4,216.2 L113.0,215.5 L113.6,215.0 L114.2,214.6 L114.9,214.2 L115.5,213.9 L116.1,213.7 L116.7,213.1 L117.3,212.7 L118.0,212.2 L118.6,212.1 L119.2,211.7 L119.8,211.4 L120.5,211.0 L121.1,210.4 L121.7,209.9 L122.3,209.7 L123.0,209.5 L123.6,209.1 L124.2,208.4 L124.8,207.9 L125.5,207.5 L126.1,207.1 L126.7,206.8 L127.3,206.7 L127.9,206.5 L128.6,206.4 L129.2,206.3 L129.8,206.2 L130.4,205.4 L131.1,204.7 L131.7,204.3 L132.3,204.2 L132.9,203.2 L133.6,202.2 L134.2,201.5 L134.8,201.1 L135.4,200.4 L136.1,199.6 L136.7,198.7 L137.3,197.9 L137.9,197.2 L138.5,196.4 L139.2,195.6 L139.8,194.9 L140.4,194.3 L141.0,193.7 L141.7,192.8 L142.3,192.2 L142.9,191.4 L143.5,191.1 L144.2,190.6 L144.8,189.6 L145.4,188.8 L146.0,187.9 L146.7,187.5 L147.3,186.6 L147.9,185.9 L148.5,185.4 L149.1,184.9 L149.8,184.4 L150.4,183.6 L151.0,183.0 L151.6,182.5 L152.3,181.9 L152.9,181.1 L153.5,180.5 L154.1,180.2 L154.8,179.8 L155.4,179.5 L156.0,178.8 L156.6,178.2 L157.3,177.8 L157.9,177.4 L158.5,177.5 L159.1,177.1 L159.7,176.8 L160.4,176.0 L161.0,175.5 L161.6,175.1 L162.2,174.7 L162.9,174.6 L163.5,174.0 L164.1,173.7 L164.7,173.1 L165.4,172.9 L166.0,172.7 L166.6,172.5 L167.2,172.0 L167.9,172.0 L168.5,171.7 L169.1,171.4 L169.7,170.8 L170.3,170.7 L171.0,170.5 L171.6,170.2 L172.2,169.4 L172.8,168.9 L173.5,168.5 L174.1,168.7 L174.7,168.7 L175.3,168.7 L176.0,168.2 L176.6,167.7 L177.2,167.4 L177.8,167.1 L178.5,167.1 L179.1,167.1 L179.7,167.6 L180.3,168.0 L180.9,168.5 L181.6,168.4 L182.2,168.7 L182.8,168.6 L183.4,169.1 L184.1,169.8 L184.7,170.3 L185.3,170.6 L185.9,170.5 L186.6,171.3 L187.2,172.0 L187.8,172.8 L188.4,173.4 L189.1,174.0 L189.7,174.8 L190.3,174.9 L190.9,175.5 L191.5,176.2 L192.2,177.5 L192.8,178.2 L193.4,178.7 L194.0,179.3 L194.7,180.1 L195.3,181.1 L195.9,182.2 L196.5,183.3 L197.2,184.5 L197.8,185.2 L198.4,186.1 L199.0,186.8 L199.7,188.2 L200.3,189.1 L200.9,190.4 L201.5,191.5 L202.1,192.5 L202.8,193.5 L203.4,194.2 L204.0,195.2 L204.6,196.1 L205.3,197.1 L205.9,197.9 L206.5,199.1 L207.1,200.0 L207.8,200.4 L208.4,200.7 L209.0,201.1 L209.6,201.9 L210.3,202.5 L210.9,202.8 L211.5,203.1 L212.1,203.2 L212.7,203.8 L213.4,204.3 L214.0,205.2 L214.6,205.6 L215.2,206.2 L215.9,206.5 L216.5,206.7 L217.1,206.7 L217.7,206.7 L218.4,207.3 L219.0,207.8 L219.6,208.3 L220.2,208.7 L220.9,209.1 L221.5,209.4 L222.1,210.3 L222.7,210.6 L223.3,211.2 L224.0,211.1 L224.6,211.4 L225.2,211.9 L225.8,212.2 L226.5,212.6 L227.1,213.0 L227.7,213.5 L228.3,213.9 L229.0,214.4 L229.6,214.6 L230.2,214.9 L230.8,214.8 L231.5,215.2 L232.1,215.6 L232.7,215.5 L233.3,215.3 L233.9,215.4 L234.6,216.0 L235.2,216.4 L235.8,216.6 L236.4,216.7 L237.1,217.0 L237.7,217.1 L238.3,217.0 L238.9,217.5 L239.6,217.6 L240.2,217.9 L240.8,217.5 L241.4,217.8 L242.0,217.9 L242.7,218.0 L243.3,218.6 L243.9,218.6 L244.5,218.9 L245.2,218.9 L245.8,219.7 L246.4,219.8 L247.0,219.8 L247.7,219.4 L248.3,219.5 L248.9,219.5 L249.5,219.6 L250.2,219.7 L250.8,219.7 L251.4,219.8 L252.0,219.9 L252.6,220.0 L253.3,220.1 L253.9,220.5 L254.5,220.8 L255.1,221.0 L255.8,221.0 L256.4,221.3 L257.0,221.4 L257.6,221.4 L258.3,221.2 L258.9,221.0 L259.5,221.2 L260.1,221.4 L260.8,221.8 L261.4,221.9 L262.0,222.0 L262.6,222.3 L263.2,222.3 L263.9,222.1 L264.5,221.7 L265.1,222.0 L265.7,222.3 L266.4,222.3 L267.0,222.2 L267.6,222.2 L268.2,222.6 L268.9,222.5 L269.5,222.5 L270.1,222.2 L270.7,222.4 L271.4,222.6 L272.0,223.2 L272.6,223.4 L273.2,223.7 L273.8,223.6 L274.5,223.8 L275.1,223.6 L275.7,223.8 L276.3,223.6 L277.0,224.1 L277.6,224.0 L278.2,223.8 L278.8,223.8 L279.5,223.9 L280.1,224.3 L280.7,224.2 L281.3,224.3 L282.0,224.4 L282.6,224.6 L283.2,224.8 L283.8,225.0 L284.4,225.2 L285.1,225.1 L285.7,225.2 L286.3,225.0 L286.9,225.2 L287.6,225.3 L288.2,225.3 L288.8,225.7 L289.4,225.5 L290.1,225.5 L290.7,225.6 L291.3,226.0 L291.9,226.4 L292.6,226.1 L293.2,226.1 L293.8,226.2 L294.4,226.5 L295.0,226.6 L295.7,226.5 L296.3,226.8 L296.9,227.2 L297.5,227.4 L298.2,227.5 L298.8,227.5 L299.4,227.6 L300.0,227.6 L300.7,227.4 L301.3,227.1 L301.9,227.0 L302.5,227.3 L303.2,227.6 L303.8,227.7 L304.4,227.6 L305.0,227.4 L305.6,227.5 L306.3,227.6 L306.9,227.8 L307.5,228.0 L308.1,228.2 L308.8,228.2 L309.4,228.3 L310.0,228.2 L310.6,228.2 L311.3,228.1 L311.9,228.0 L312.5,228.2" stroke="rgb(34,13,208)" stroke-width="0.7"/>
<path d="M38.2,-519.0 L38.3,-10.8 L38.5,89.8 L38.6,121.0 L38.8,133.9 L38.9,141.8 L39.1,149.2 L39.3,155.4 L39.4,160.8 L39.6,165.5 L39.7,169.8 L39.9,174.0 L40.0,177.7 L40.2,181.1 L40.3,184.5 L40.5,188.0 L40.7,191.7 L40.8,194.6 L41.0,197.8 L41.1,200.3 L41.3,203.3 L41.4,205.6 L41.6,207.9 L41.8,209.8 L41.9,211.6 L42.1,213.6 L42.2,214.9 L42.4,216.7 L42.5,217.8 L42.7,219.1 L42.8,219.9 L43.0,221.0 L43.2,222.2 L43.3,223.0 L43.5,223.5 L43.6,224.0 L43.8,224.6 L43.9,225.6 L44.1,226.2 L44.2,227.0 L44.4,227.4 L45.0,229.5 L45.6,230.5 L46.3,231.4 L46.9,232.0 L47.5,232.7 L48.1,233.3 L48.8,233.7 L49.4,233.9 L50.0,234.1 L50.6,234.3 L51.3,234.7 L51.9,234.7 L52.5,234.8 L53.1,234.8 L53.8,235.0 L54.4,235.0 L55.0,235.2 L55.6,235.4 L56.2,235.9 L56.9,235.8 L57.5,235.9 L58.1,235.9 L58.7,235.9 L59.4,235.6 L60.0,235.4 L60.6,235.9 L61.2,236.2 L61.9,236.4 L62.5,236.2 L63.1,236.1 L63.7,235.6 L64.4,235.5 L65.0,235.6 L65.6,235.8 L66.2,235.8 L66.8,235.9 L67.5,236.3 L68.1,236.6 L68.7,236.9 L69.3,237.4 L70.0,238.0 L70.6,238.2 L71.2,238.2 L71.8,238.5 L72.5,239.3 L73.1,239.9 L73.7,240.5 L74.3,240.8 L75.0,241.0 L75.6,241.2 L76.2,241.2 L76.8,241.8 L77.4,242.1 L78.1,242.3 L78.7,242.7 L79.3,243.1 L79.9,243.5 L80.6,243.5 L81.2,243.5 L81.8,243.5 L82.4,243.8 L83.1,244.1 L83.7,244.3 L84.3,244.2 L84.9,243.7 L85.6,243.7 L86.2,243.4 L86.8,243.7 L87.4,243.2 L88.0,243.0 L88.7,242.5 L89.3,242.3 L89.9,241.8 L90.5,241.5 L91.2,241.0 L91.8,240.7 L92.4,239.6 L93.0,238.5 L93.7,237.3 L94.3,236.3 L94.9,234.6 L95.5,233.0 L96.2,231.4 L96.8,230.3 L97.4,229.1 L98.0,228.3 L98.6,227.7 L99.3,227.1 L99.9,226.8 L100.5,225.8 L101.1,225.2 L101.8,224.3 L102.4,224.2 L103.0,223.9 L103.6,223.3 L104.3,222.7 L104.9,222.0 L105.5,221.8 L106.1,221.2 L106.8,220.4 L107.4,219.7 L108.0,219.0 L108.6,218.7 L109.2,217.9 L109.9,217.3 L110.5,216.8 L111.1,216.5 L111.7,216.1 L112.4,215.6 L113.0,215.1 L113.6,214.6 L114.2,214.1 L114.9,213.7 L115.5,213.3 L116.1,212.5 L116.7,211.8 L117.3,211.4 L118.0,211.0 L118.6,210.8 L119.2,210.8 L119.8,211.1 L120.5,210.8 L121.1,210.1 L121.7,209.2 L122.3,209.0 L123.0,208.5 L123.6,208.5 L124.2,207.7 L124.8,207.5 L125.5,206.9 L126.1,206.5 L126.7,206.2 L127.3,206.1 L127.9,205.8 L128.6,205.3 L129.2,204.6 L129.8,203.9 L130.4,203.4 L131.1,203.0 L131.7,202.6 L132.3,202.2 L132.9,201.9 L133.6,201.9 L134.2,201.1 L134.8,200.2 L135.4,199.0 L136.1,198.6 L136.7,197.9 L137.3,196.9 L137.9,196.1 L138.5,195.5 L139.2,195.1 L139.8,194.2 L140.4,193.4 L141.0,193.0 L141.7,192.9 L142.3,192.2 L142.9,191.0 L143.5,189.9 L144.2,189.1 L144.8,188.8 L145.4,188.1 L146.0,187.4 L146.7,186.6 L147.3,186.0 L147.9,185.5 L148.5,184.5 L149.1,184.2 L149.8,183.5 L150.4,183.4 L151.0,182.3 L151.6,181.8 L152.3,181.1 L152.9,180.6 L153.5,180.0 L154.1,179.4 L154.8,179.3 L155.4,178.7 L156.0,178.5 L156.6,177.8 L157.3,177.3 L157.9,176.7 L158.5,176.0 L159.1,176.2 L159.7,176.2 L160.4,175.9 L161.0,175.4 L161.6,174.9 L162.2,174.4 L162.9,173.8 L163.5,173.5 L164.1,173.4 L164.7,173.0 L165.4,172.5 L166.0,172.3 L166.6,172.0 L167.2,171.9 L167.9,171.6 L168.5,171.4 L169.1,170.8 L169.7,170.5 L170.3,170.2 L171.0,169.8 L171.6,169.5 L172.2,169.1 L172.8,168.8 L173.5,168.6 L174.1,168.5 L174.7,168.4 L175.3,168.2 L176.0,167.9 L176.6,168.1 L177.2,168.1 L177.8,168.5 L178.5,168.2 L179.1,168.1 L179.7,167.9 L180.3,167.9 L180.9,168.1 L181.6,168.8 L182.2,169.4 L182.8,169.5 L183.4,169.2 L184.1,169.5 L184.7,170.4 L185.3,170.7 L185.9,171.5 L186.6,171.7 L187.2,172.5 L187.8,172.7 L188.4,173.5 L189.1,174.1 L189.7,174.6 L190.3,175.2 L190.9,176.0 L191.5,176.9 L192.2,177.6 L192.8,178.3 L193.4,179.2 L194.0,180.0 L194.7,180.8 L195.3,181.8 L195.9,182.7 L196.5,183.7 L197.2,184.4 L197.8,185.6 L198.4,186.8 L199.0,187.7 L199.7,188.4 L200.3,189.2 L200.9,190.3 L201.5,191.3 L202.1,192.3 L202.8,193.1 L203.4,194.1 L204.0,195.4 L204.6,196.5 L205.3,197.8 L205.9,198.5 L206.5,199.4 L207.1,199.8 L207.8,200.4 L208.4,200.9 L209.0,201.7 L209.6,202.4 L210.3,203.0 L210.9,203.2 L211.5,203.5 L212.1,204.0 L212.7,204.2 L213.4,204.5 L214.0,204.7 L214.6,205.1 L215.2,205.8 L215.9,206.2 L216.5,206.6 L217.1,207.0 L217.7,207.4 L218.4,208.0 L219.0,208.0 L219.6,208.2 L220.2,208.5 L220.9,209.1 L221.5,210.1 L222.1,210.3 L222.7,210.7 L223.3,210.5 L224.0,211.4 L224.6,211.8 L225.2,212.4 L225.8,212.8 L226.5,213.4 L227.1,213.6 L227.7,213.4 L228.3,213.6 L229.0,213.9 L229.6,214.2 L230.2,214.5 L230.8,214.8 L231.5,215.2 L232.1,215.4 L232.7,215.5 L233.3,215.3 L233.9,215.6 L234.6,215.6 L235.2,216.0 L235.8,216.0 L236.4,216.5 L237.1,216.9 L237.7,217.3 L238.3,217.2 L238.9,217.2 L239.6,217.3 L240.2,217.5 L240.8,217.5 L241.4,217.8 L242.0,218.1 L242.7,218.3 L243.3,218.5 L243.9,218.3 L244.5,218.5 L245.2,218.6 L245.8,219.1 L246.4,219.0 L247.0,219.0 L247.7,219.0 L248.3,219.5 L248.9,220.0 L249.5,220.1 L250.2,220.0 L250.8,219.6 L251.4,220.0 L252.0,220.3 L252.6,220.9 L253.3,220.9 L253.9,221.0 L254.5,220.7 L255.1,220.7 L255.8,220.9 L256.4,221.2 L257.0,221.0 L257.6,220.6 L258.3,220.9 L258.9,221.2 L259.5,221.7 L260.1,221.4 L260.8,221.4 L261.4,221.2 L262.0,221.6 L262.6,221.8 L263.2,222.1 L263.9,222.2 L264.5,222.4 L265.1,222.6 L265.7,222.1 L266.4,222.1 L267.0,222.2 L267.6,222.7 L268.2,222.6 L268.9,222.6 L269.5,222.5 L270.1,222.8 L270.7,222.6 L271.4,222.7 L272.0,222.9 L272.6,223.2 L273.2,223.7 L273.8,223.7 L274.5,223.7 L275.1,223.6 L275.7,223.7 L276.3,224.0 L277.0,223.6 L277.6,223.8 L278.2,223.8 L278.8,224.3 L279.5,224.4 L280.1,224.2 L280.7,224.5 L281.3,224.5 L282.0,224.8 L282.6,224.6 L283.2,224.6 L283.8,224.5 L284.4,224.7 L285.1,224.9 L285.7,224.8 L286.3,224.6 L286.9,224.6 L287.6,225.0 L288.2,225.1 L288.8,225.3 L289.4,225.5 L290.1,225.9 L290.7,226.0 L291.3,225.9 L291.9,225.7 L292.6,225.9 L293.2,225.9 L293.8,226.2 L294.4,226.0 L295.0,226.3 L295.7,226.4 L296.3,226.8 L296.9,227.0 L297.5,227.0 L298.2,226.8 L298.8,226.9 L299.4,227.2 L300.0,227.4 L300.7,227.1 L301.3,226.7 L301.9,226.8 L302.5,227.3 L303.2,227.5 L303.8,227.6 L304.4,227.7 L305.0,227.8 L305.6,227.9 L306.3,228.0 L306.9,228.1 L307.5,228.0 L308.1,228.1 L308.8,228.1 L309.4,228.4 L310.0,228.4 L310.6,228.6 L311.3,227.9 L311.9,227.6 L312.5,227.5" stroke="rgb(29,12,210)" stroke-width="0.7"/>
<path d="M38.2,-519.2 L38.3,-10.6 L38.5,90.3 L38.6,122.1 L38.8,134.5 L38.9,142.1 L39.1,149.2 L39.3,155.3 L39.4,160.7 L39.6,165.1 L39.7,169.8 L39.9,173.6 L40.0,177.3 L40.2,180.7 L40.3,184.1 L40.5,187.9 L40.7,191.2 L40.8,194.8 L41.0,197.9 L41.1,200.7 L41.3,203.2 L41.4,205.7 L41.6,208.2 L41.8,210.1 L41.9,211.8 L42.1,213.4 L42.2,215.1 L42.4,216.5 L42.5,218.0 L42.7,218.8 L42.8,220.0 L43.0,221.0 L43.2,222.0 L43.3,222.9 L43.5,223.3 L43.6,224.0 L43.8,224.3 L43.9,225.3 L44.1,225.6 L44.2,226.3 L44.4,226.5 L45.0,228.4 L45.6,229.9 L46.3,231.0 L46.9,232.0 L47.5,232.3 L48.1,232.6 L48.8,232.9 L49.4,233.2 L50.0,233.9 L50.6,234.2 L51.3,234.4 L51.9,234.2 L52.5,234.5 L53.1,234.6 L53.8,234.8 L54.4,235.0 L55.0,235.3 L55.6,235.4 L56.2,235.4 L56.9,235.5 L57.5,235.5 L58.1,235.3 L58.7,235.1 L59.4,235.2 L60.0,235.3 L60.6,235.3 L61.2,235.3 L61.9,235.2 L62.5,234.9 L63.1,234.9 L63.7,234.9 L64.4,235.1 L65.0,235.2 L65.6,235.2 L66.2,235.1 L66.8,235.2 L67.5,235.4 L68.1,235.9 L68.7,235.9 L69.3,236.2 L70.0,236.5 L70.6,237.3 L71.2,237.9 L71.8,238.5 L72.5,238.9 L73.1,239.3 L73.7,239.4 L74.3,239.6 L75.0,240.0 L75.6,240.9 L76.2,241.3 L76.8,241.8 L77.4,241.7 L78.1,241.9 L78.7,241.9 L79.3,242.2 L79.9,242.4 L80.6,242.5 L81.2,242.6 L81.8,242.8 L82.4,243.0 L83.1,243.0 L83.7,242.7 L84.3,242.6 L84.9,242.4 L85.6,242.6 L86.2,242.5 L86.8,242.9 L87.4,242.5 L88.0,242.4 L88.7,242.0 L89.3,241.6 L89.9,241.2 L90.5,240.7 L91.2,240.1 L91.8,239.3 L92.4,238.3 L93.0,237.5 L93.7,236.2 L94.3,234.9 L94.9,233.6 L95.5,232.0 L96.2,230.8 L96.8,229.5 L97.4,228.5 L98.0,227.4 L98.6,226.6 L99.3,226.1 L99.9,225.6 L100.5,224.9 L101.1,224.4 L101.8,224.1 L102.4,223.8 L103.0,223.1 L103.6,222.4 L104.3,221.9 L104.9,221.7 L105.5,221.1 L106.1,220.6 L106.8,219.6 L107.4,219.0 L108.0,218.3 L108.6,218.0 L109.2,217.4 L109.9,217.2 L110.5,216.6 L111.1,215.9 L111.7,215.0 L112.4,214.7 L113.0,214.3 L113.6,214.1 L114.2,213.4 L114.9,213.0 L115.5,212.5 L116.1,211.7 L116.7,211.5 L117.3,211.2 L118.0,211.0 L118.6,210.7 L119.2,210.0 L119.8,209.3 L120.5,208.7 L121.1,208.5 L121.7,208.4 L122.3,207.9 L123.0,207.7 L123.6,207.1 L124.2,207.0 L124.8,206.3 L125.5,206.0 L126.1,205.1 L126.7,205.2 L127.3,204.9 L127.9,205.1 L128.6,204.5 L129.2,204.0 L129.8,203.6 L130.4,203.3 L131.1,203.2 L131.7,202.5 L132.3,201.5 L132.9,200.5 L133.6,199.9 L134.2,199.6 L134.8,199.2 L135.4,198.7 L136.1,198.1 L136.7,197.2 L137.3,196.2 L137.9,195.1 L138.5,194.6 L139.2,193.6 L139.8,192.6 L140.4,192.0 L141.0,191.5 L141.7,191.2 L142.3,190.1 L142.9,189.2 L143.5,188.5 L144.2,187.6 L144.8,187.1 L145.4,186.6 L146.0,186.6 L146.7,186.0 L147.3,185.2 L147.9,184.4 L148.5,183.7 L149.1,183.0 L149.8,182.3 L150.4,181.7 L151.0,181.1 L151.6,180.5 L152.3,180.2 L152.9,179.8 L153.5,179.4 L154.1,178.5 L154.8,178.2 L155.4,178.1 L156.0,177.9 L156.6,177.4 L157.3,176.8 L157.9,176.4 L158.5,176.0 L159.1,175.4 L159.7,175.3 L160.4,175.1 L161.0,174.9 L161.6,174.5 L162.2,173.9 L162.9,173.4 L163.5,173.0 L164.1,172.6 L164.7,172.3 L165.4,171.8 L166.0,171.6 L166.6,171.4 L167.2,171.3 L167.9,171.1 L168.5,170.9 L169.1,170.7 L169.7,170.3 L170.3,169.8 L171.0,169.6 L171.6,169.0 L172.2,169.0 L172.8,168.5 L173.5,168.5 L174.1,168.0 L174.7,168.0 L175.3,168.0 L176.0,168.2 L176.6,167.8 L177.2,167.6 L177.8,167.5 L178.5,167.6 L179.1,167.4 L179.7,167.5 L180.3,167.6 L180.9,168.3 L181.6,168.5 L182.2,169.1 L182.8,169.2 L183.4,169.7 L184.1,170.0 L184.7,170.8 L185.3,171.3 L185.9,171.6 L186.6,172.0 L187.2,172.5 L187.8,173.1 L188.4,173.7 L189.1,174.2 L189.7,174.7 L190.3,175.1 L190.9,175.7 L191.5,176.6 L192.2,177.3 L192.8,178.0 L193.4,178.8 L194.0,179.8 L194.7,180.9 L195.3,181.8 L195.9,183.0 L196.5,183.6 L197.2,184.4 L197.8,185.2 L198.4,186.4 L199.0,187.5 L199.7,188.6 L200.3,189.5 L200.9,190.2 L201.5,191.4 L202.1,192.2 L202.8,193.5 L203.4,194.6 L204.0,195.7 L204.6,196.5 L205.3,197.0 L205.9,197.9 L206.5,198.8 L207.1,200.0 L207.8,200.6 L208.4,201.2 L209.0,201.6 L209.6,202.2 L210.3,202.8 L210.9,202.8 L211.5,203.4 L212.1,203.8 L212.7,204.9 L213.4,205.1 L214.0,205.3 L214.6,205.4 L215.2,205.8 L215.9,206.0 L216.5,206.3 L217.1,206.4 L217.7,207.0 L218.4,207.7 L219.0,208.3 L219.6,208.8 L220.2,208.8 L220.9,209.3 L221.5,209.6 L222.1,210.2 L222.7,210.7 L223.3,211.2 L224.0,211.4 L224.6,211.7 L225.2,212.0 L225.8,212.5 L226.5,212.9 L227.1,213.2 L227.7,213.5 L228.3,213.8 L229.0,214.0 L229.6,214.3 L230.2,214.7 L230.8,215.1 L231.5,215.0 L232.1,214.9 L232.7,214.9 L233.3,215.3 L233.9,215.5 L234.6,215.6 L235.2,216.0 L235.8,216.6 L236.4,217.1 L237.1,217.3 L237.7,217.0 L238.3,216.8 L238.9,216.9 L239.6,217.4 L240.2,217.6 L240.8,217.4 L241.4,217.6 L242.0,217.9 L242.7,218.3 L243.3,218.4 L243.9,218.7 L244.5,218.9 L245.2,219.0 L245.8,219.3 L246.4,219.4 L247.0,219.4 L247.7,219.2 L248.3,219.2 L248.9,219.3 L249.5,219.5 L250.2,219.5 L250.8,219.7 L251.4,219.8 L252.0,220.0 L252.6,220.1 L253.3,220.4 L253.9,220.8 L254.5,221.0 L255.1,220.9 L255.8,221.0 L256.4,220.8 L257.0,220.8 L257.6,220.8 L258.3,221.1 L258.9,221.1 L259.5,221.1 L260.1,220.8 L260.8,221.2 L261.4,221.4 L262.0,221.6 L262.6,221.8 L263.2,221.8 L263.9,222.1 L264.5,222.0 L265.1,222.3 L265.7,222.4 L266.4,222.7 L267.0,222.4 L267.6,222.6 L268.2,222.5 L268.9,222.7 L269.5,222.7 L270.1,222.8 L270.7,222.8 L271.4,223.0 L272.0,223.1 L272.6,223.4 L273.2,223.6 L273.8,223.8 L274.5,223.9 L275.1,224.0 L275.7,224.0 L276.3,223.9 L277.0,223.7 L277.6,223.7 L278.2,223.9 L278.8,224.0 L279.5,223.6 L280.1,223.9 L280.7,224.0 L281.3,224.7 L282.0,224.4 L282.6,224.6 L283.2,224.4 L283.8,224.6 L284.4,224.6 L285.1,225.2 L285.7,225.5 L286.3,225.7 L286.9,225.6 L287.6,225.4 L288.2,225.3 L288.8,225.4 L289.4,225.7 L290.1,225.9 L290.7,225.5 L291.3,225.4 L291.9,225.5 L292.6,226.0 L293.2,226.2 L293.8,226.4 L294.4,226.4 L295.0,226.5 L295.7,226.6 L296.3,226.7 L296.9,226.5 L297.5,226.5 L298.2,226.3 L298.8,226.7 L299.4,226.8 L300.0,227.3 L300.7,227.4 L301.3,227.2 L301.9,227.1 L302.5,227.4 L303.2,227.5 L303.8,227.7 L304.4,227.5 L305.0,227.8 L305.6,228.0 L306.3,227.8 L306.9,227.7 L307.5,227.5 L308.1,227.7 L308.8,228.0 L309.4,228.1 L310.0,228.3 L310.6,228.5 L311.3,228.5 L311.9,228.6 L312.5,228.4" stroke="rgb(24,11,213)" stroke-width="0.7"/>
<path d="M38.2,-518.8 L38.3,-10.5 L38.5,89.6 L38.6,121.3 L38.8,134.1 L38.9,142.3 L39.1,149.4 L39.3,155.7 L39.4,160.4 L39.6,165.2 L39.7,169.5 L39.9,173.8 L40.0,177.6 L40.2,181.0 L40.3,184.1 L40.5,187.4 L40.7,190.5 L40.8,193.8 L41.0,197.1 L41.1,200.5 L41.3,203.7 L41.4,206.2 L41.6,208.2 L41.8,209.7 L41.9,211.5 L42.1,213.2 L42.2,215.0 L42.4,216.4 L42.5,218.1 L42.7,219.0 L42.8,220.1 L43.0,220.8 L43.2,221.7 L43.3,222.3 L43.5,223.2 L43.6,223.7 L43.8,224.2 L43.9,224.5 L44.1,225.4 L44.2,226.3 L44.4,227.2 L45.0,228.8 L45.6,229.9 L46.3,230.7 L46.9,231.1 L47.5,231.7 L48.1,231.9 L48.8,232.5 L49.4,233.1 L50.0,233.4 L50.6,233.7 L51.3,233.9 L51.9,234.1 L52.5,234.1 L53.1,233.8 L53.8,233.9 L54.4,234.4 L55.0,234.6 L55.6,234.9 L56.2,234.8 L56.9,234.8 L57.5,234.6 L58.1,234.5 L58.7,234.6 L59.4,234.6 L60.0,234.4 L60.6,234.1 L61.2,234.4 L61.9,234.8 L62.5,234.8 L63.1,234.7 L63.7,234.6 L64.4,234.7 L65.0,234.4 L65.6,234.3 L66.2,234.2 L66.8,234.6 L67.5,234.9 L68.1,235.3 L68.7,235.5 L69.3,235.7 L70.0,236.1 L70.6,236.5 L71.2,237.0 L71.8,237.0 L72.5,237.0 L73.1,237.5 L73.7,237.9 L74.3,238.6 L75.0,238.8 L75.6,239.1 L76.2,239.4 L76.8,240.0 L77.4,240.8 L78.1,241.1 L78.7,241.3 L79.3,241.5 L79.9,241.5 L80.6,241.8 L81.2,241.8 L81.8,241.8 L82.4,241.6 L83.1,241.6 L83.7,241.6 L84.3,241.6 L84.9,241.6 L85.6,241.7 L86.2,242.2 L86.8,242.0 L87.4,241.5 L88.0,240.9 L88.7,240.3 L89.3,239.9 L89.9,239.4 L90.5,239.2 L91.2,239.0 L91.8,238.5 L92.4,237.6 L93.0,236.5 L93.7,235.3 L94.3,234.3 L94.9,232.9 L95.5,231.8 L96.2,230.4 L96.8,229.1 L97.4,227.5 L98.0,226.4 L98.6,225.7 L99.3,225.3 L99.9,225.0 L100.5,224.2 L101.1,223.5 L101.8,222.8 L102.4,222.6 L103.0,222.3 L103.6,221.6 L104.3,221.0 L104.9,220.2 L105.5,219.6 L106.1,219.3 L106.8,218.9 L107.4,218.5 L108.0,217.7 L108.6,217.1 L109.2,216.6 L109.9,216.2 L110.5,215.6 L111.1,215.0 L111.7,214.4 L112.4,213.6 L113.0,213.1 L113.6,212.4 L114.2,212.2 L114.9,211.8 L115.5,211.8 L116.1,211.5 L116.7,211.3 L117.3,210.6 L118.0,209.8 L118.6,209.4 L119.2,208.9 L119.8,208.4 L120.5,207.8 L121.1,207.6 L121.7,207.4 L122.3,207.1 L123.0,206.4 L123.6,206.0 L124.2,205.5 L124.8,205.5 L125.5,205.2 L126.1,204.9 L126.7,204.4 L127.3,204.1 L127.9,203.8 L128.6,203.5 L129.2,202.8 L129.8,202.4 L130.4,202.0 L131.1,201.6 L131.7,201.0 L132.3,200.4 L132.9,199.7 L133.6,198.8 L134.2,198.1 L134.8,197.4 L135.4,196.8 L136.1,196.2 L136.7,196.0 L137.3,195.1 L137.9,194.2 L138.5,193.2 L139.2,192.2 L139.8,191.4 L140.4,190.4 L141.0,190.2 L141.7,189.6 L142.3,189.0 L142.9,188.5 L143.5,187.9 L144.2,187.3 L144.8,186.6 L145.4,185.9 L146.0,184.9 L146.7,183.9 L147.3,183.5 L147.9,183.3 L148.5,182.7 L149.1,182.1 L149.8,181.5 L150.4,181.1 L151.0,180.4 L151.6,179.7 L152.3,179.4 L152.9,178.8 L153.5,178.6 L154.1,177.9 L154.8,177.9 L155.4,177.5 L156.0,177.1 L156.6,177.0 L157.3,176.8 L157.9,176.6 L158.5,175.9 L159.1,175.5 L159.7,175.1 L160.4,174.3 L161.0,173.8 L161.6,173.3 L162.2,173.0 L162.9,172.5 L163.5,172.1 L164.1,172.2 L164.7,172.2 L165.4,171.7 L166.0,171.4 L166.6,171.2 L167.2,170.9 L167.9,170.3 L168.5,169.9 L169.1,169.7 L169.7,169.7 L170.3,169.6 L171.0,169.3 L171.6,168.8 L172.2,168.6 L172.8,168.6 L173.5,168.4 L174.1,168.0 L174.7,167.9 L175.3,168.2 L176.0,168.3 L176.6,168.0 L177.2,167.5 L177.8,167.4 L178.5,167.8 L179.1,168.0 L179.7,168.4 L180.3,168.4 L180.9,168.3 L181.6,168.5 L182.2,168.7 L182.8,169.5 L183.4,169.7 L184.1,170.0 L184.7,170.5 L185.3,171.0 L185.9,171.7 L186.6,172.3 L187.2,172.9 L187.8,173.3 L188.4,173.7 L189.1,174.3 L189.7,175.3 L190.3,175.9 L190.9,176.5 L191.5,176.7 L192.2,177.7 L192.8,178.8 L193.4,180.1 L194.0,181.0 L194.7,181.6 L195.3,182.2 L195.9,183.2 L196.5,184.2 L197.2,185.0 L197.8,185.8 L198.4,186.7 L199.0,187.9 L199.7,189.2 L200.3,190.4 L200.9,191.5 L201.5,192.0 L202.1,192.7 L202.8,193.6 L203.4,194.7 L204.0,195.8 L204.6,196.6 L205.3,197.6 L205.9,198.5 L206.5,199.2 L207.1,200.0 L207.8,200.6 L208.4,201.3 L209.0,201.6 L209.6,202.1 L210.3,202.5 L210.9,202.9 L211.5,203.1 L212.1,203.6 L212.7,203.8 L213.4,204.4 L214.0,204.9 L214.6,205.5 L215.2,205.9 L215.9,206.4 L216.5,207.0 L217.1,207.1 L217.7,207.4 L218.4,207.8 L219.0,208.1 L219.6,208.3 L220.2,208.5 L220.9,209.3 L221.5,209.8 L222.1,210.3 L222.7,210.5 L223.3,211.0 L224.0,211.3 L224.6,211.7 L225.2,212.2 L225.8,212.6 L226.5,213.1 L227.1,213.3 L227.7,213.4 L228.3,213.5 L229.0,214.1 L229.6,214.2 L230.2,214.6 L230.8,214.5 L231.5,215.0 L232.1,215.2 L232.7,215.2 L233.3,215.4 L233.9,215.6 L234.6,215.8 L235.2,215.9 L235.8,216.3 L236.4,216.8 L237.1,217.4 L237.7,217.8 L238.3,217.7 L238.9,217.6 L239.6,217.5 L240.2,217.6 L240.8,217.7 L241.4,217.7 L242.0,217.7 L242.7,218.0 L243.3,218.1 L243.9,218.3 L244.5,218.5 L245.2,218.8 L245.8,219.2 L246.4,219.4 L247.0,219.6 L247.7,219.9 L248.3,219.7 L248.9,220.0 L249.5,219.9 L250.2,219.9 L250.8,219.9 L251.4,220.1 L252.0,220.3 L252.6,220.3 L253.3,220.1 L253.9,220.4 L254.5,220.4 L255.1,220.7 L255.8,220.7 L256.4,220.8 L257.0,220.8 L257.6,220.7 L258.3,221.0 L258.9,221.4 L259.5,221.5 L260.1,221.6 L260.8,221.4 L261.4,221.3 L262.0,221.5 L262.6,221.3 L263.2,221.4 L263.9,221.6 L264.5,222.1 L265.1,222.4 L265.7,222.4 L266.4,222.3 L267.0,222.4 L267.6,222.6 L268.2,222.5 L268.9,222.5 L269.5,222.4 L270.1,222.5 L270.7,222.6 L271.4,223.1 L272.0,223.3 L272.6,223.5 L273.2,223.1 L273.8,223.5 L274.5,223.5 L275.1,223.6 L275.7,223.2 L276.3,223.2 L277.0,223.2 L277.6,223.5 L278.2,223.7 L278.8,224.1 L279.5,224.1 L280.1,223.9 L280.7,223.7 L281.3,224.1 L282.0,224.6 L282.6,224.9 L283.2,224.6 L283.8,224.5 L284.4,224.6 L285.1,225.0 L285.7,225.0 L286.3,225.1 L286.9,225.2 L287.6,225.5 L288.2,225.7 L288.8,225.4 L289.4,225.5 L290.1,225.5 L290.7,225.7 L291.3,225.7 L291.9,225.9 L292.6,226.2 L293.2,226.2 L293.8,226.3 L294.4,226.4 L295.0,226.6 L295.7,226.6 L296.3,226.4 L296.9,226.4 L297.5,226.4 L298.2,226.8 L298.8,226.9 L299.4,227.3 L300.0,227.3 L300.7,227.4 L301.3,227.3 L301.9,227.4 L302.5,227.1 L303.2,227.3 L303.8,227.2 L304.4,227.3 L305.0,227.1 L305.6,227.4 L306.3,227.6 L306.9,227.8 L307.5,227.8 L308.1,227.8 L308.8,227.8 L309.4,227.8 L310.0,227.9 L310.6,227.9 L311.3,228.1 L311.9,228.3 L312.5,228.3" stroke="rgb(21,12,216)" stroke-width="0.7"/>
<path d="M38.2,-519.2 L38.3,-11.0 L38.5,89.1 L38.6,120.8 L38.8,133.8 L38.9,142.0 L39.1,149.5 L39.3,155.8 L39.4,161.2 L39.6,165.8 L39.7,170.1 L39.9,174.0 L40.0,177.5 L40.2,180.8 L40.3,184.0 L40.5,187.4 L40.7,190.7 L40.8,194.3 L41.0,197.3 L41.1,200.5 L41.3,203.0 L41.4,205.8 L41.6,207.8 L41.8,209.8 L41.9,211.6 L42.1,213.0 L42.2,214.8 L42.4,216.0 L42.5,217.7 L42.7,218.5 L42.8,219.8 L43.0,220.4 L43.2,221.3 L43.3,222.2 L43.5,223.0 L43.6,223.8 L43.8,223.9 L43.9,224.3 L44.1,224.8 L44.2,225.4 L44.4,226.0 L45.0,227.8 L45.6,229.1 L46.3,229.9 L46.9,230.6 L47.5,231.1 L48.1,231.5 L48.8,231.9 L49.4,232.4 L50.0,233.0 L50.6,233.3 L51.3,233.5 L51.9,233.8 L52.5,234.2 L53.1,234.1 L53.8,234.0 L54.4,234.0 L55.0,234.0 L55.6,234.2 L56.2,233.9 L56.9,234.0 L57.5,234.0 L58.1,234.0 L58.7,234.1 L59.4,234.1 L60.0,234.3 L60.6,234.2 L61.2,234.1 L61.9,233.9 L62.5,233.7 L63.1,233.6 L63.7,233.5 L64.4,233.1 L65.0,232.9 L65.6,233.3 L66.2,233.5 L66.8,233.7 L67.5,233.6 L68.1,234.2 L68.7,234.7 L69.3,235.2 L70.0,235.6 L70.6,235.7 L71.2,235.9 L71.8,236.1 L72.5,236.8 L73.1,237.2 L73.7,237.6 L74.3,237.7 L75.0,238.3 L75.6,238.4 L76.2,238.9 L76.8,238.8 L77.4,239.7 L78.1,239.9 L78.7,240.4 L79.3,240.7 L79.9,241.0 L80.6,241.4 L81.2,241.4 L81.8,241.6 L82.4,241.6 L83.1,241.4 L83.7,241.1 L84.3,240.9 L84.9,241.0 L85.6,241.0 L86.2,240.7 L86.8,240.5 L87.4,240.2 L88.0,240.3 L88.7,239.9 L89.3,239.4 L89.9,238.7 L90.5,238.3 L91.2,237.7 L91.8,237.2 L92.4,236.3 L93.0,235.6 L93.7,234.4 L94.3,233.2 L94.9,232.0 L95.5,230.6 L96.2,229.3 L96.8,228.0 L97.4,227.1 L98.0,226.5 L98.6,225.7 L99.3,224.7 L99.9,223.9 L100.5,223.0 L101.1,222.1 L101.8,221.7 L102.4,221.7 L103.0,221.7 L103.6,221.4 L104.3,220.6 L104.9,220.0 L105.5,218.9 L106.1,218.5 L106.8,217.9 L107.4,217.6 L108.0,216.8 L108.6,216.3 L109.2,215.4 L109.9,214.8 L110.5,214.2 L111.1,213.8 L111.7,213.2 L112.4,212.5 L113.0,212.3 L113.6,211.9 L114.2,211.7 L114.9,211.1 L115.5,210.5 L116.1,210.0 L116.7,209.9 L117.3,209.5 L118.0,209.2 L118.6,208.3 L119.2,207.9 L119.8,207.0 L120.5,206.5 L121.1,206.3 L121.7,206.1 L122.3,205.7 L123.0,205.1 L123.6,204.8 L124.2,204.6 L124.8,204.2 L125.5,204.0 L126.1,203.3 L126.7,202.8 L127.3,202.5 L127.9,202.1 L128.6,201.8 L129.2,201.1 L129.8,200.8 L130.4,200.1 L131.1,200.0 L131.7,199.5 L132.3,199.0 L132.9,198.0 L133.6,197.7 L134.2,197.3 L134.8,196.6 L135.4,195.4 L136.1,194.8 L136.7,194.2 L137.3,193.6 L137.9,192.5 L138.5,191.6 L139.2,190.7 L139.8,189.9 L140.4,189.5 L141.0,189.0 L141.7,188.6 L142.3,187.7 L142.9,186.8 L143.5,185.8 L144.2,184.8 L144.8,184.2 L145.4,183.6 L146.0,183.2 L146.7,182.9 L147.3,182.5 L147.9,182.0 L148.5,181.3 L149.1,180.6 L149.8,180.3 L150.4,180.1 L151.0,179.8 L151.6,178.9 L152.3,178.3 L152.9,177.6 L153.5,177.4 L154.1,177.0 L154.8,176.8 L155.4,176.4 L156.0,176.0 L156.6,175.5 L157.3,175.3 L157.9,174.9 L158.5,174.8 L159.1,174.3 L159.7,173.9 L160.4,173.3 L161.0,173.1 L161.6,172.9 L162.2,172.7 L162.9,172.0 L163.5,172.0 L164.1,171.8 L164.7,171.7 L165.4,171.3 L166.0,171.0 L166.6,170.8 L167.2,170.4 L167.9,170.2 L168.5,169.8 L169.1,169.8 L169.7,169.4 L170.3,169.2 L171.0,168.6 L171.6,168.8 L172.2,168.4 L172.8,168.5 L173.5,168.2 L174.1,168.1 L174.7,168.1 L175.3,168.1 L176.0,167.9 L176.6,167.8 L177.2,168.1 L177.8,168.2 L178.5,168.3 L179.1,168.0 L179.7,168.3 L180.3,168.5 L180.9,168.9 L181.6,169.1 L182.2,169.2 L182.8,169.7 L183.4,170.4 L184.1,171.1 L184.7,171.1 L185.3,171.4 L185.9,171.8 L186.6,172.5 L187.2,172.8 L187.8,173.4 L188.4,174.0 L189.1,174.7 L189.7,175.1 L190.3,175.6 L190.9,176.5 L191.5,177.4 L192.2,178.7 L192.8,179.4 L193.4,180.3 L194.0,180.9 L194.7,181.5 L195.3,182.3 L195.9,183.2 L196.5,184.2 L197.2,184.8 L197.8,185.9 L198.4,186.8 L199.0,188.2 L199.7,189.3 L200.3,190.6 L200.9,191.5 L201.5,192.3 L202.1,193.2 L202.8,194.3 L203.4,195.3 L204.0,196.3 L204.6,197.3 L205.3,198.1 L205.9,199.1 L206.5,199.7 L207.1,200.5 L207.8,200.7 L208.4,201.5 L209.0,202.2 L209.6,202.8 L210.3,202.9 L210.9,203.3 L211.5,203.7 L212.1,204.2 L212.7,204.5 L213.4,204.8 L214.0,205.3 L214.6,205.4 L215.2,205.6 L215.9,205.9 L216.5,206.5 L217.1,207.0 L217.7,207.6 L218.4,208.1 L219.0,208.5 L219.6,208.3 L220.2,208.4 L220.9,208.8 L221.5,209.6 L222.1,210.2 L222.7,210.6 L223.3,211.1 L224.0,211.6 L224.6,212.2 L225.2,212.4 L225.8,213.3 L226.5,213.2 L227.1,213.5 L227.7,213.5 L228.3,214.1 L229.0,214.5 L229.6,214.6 L230.2,214.6 L230.8,214.5 L231.5,214.8 L232.1,215.2 L232.7,215.5 L233.3,215.7 L233.9,216.0 L234.6,216.2 L235.2,216.3 L235.8,216.5 L236.4,216.6 L237.1,217.0 L237.7,217.4 L238.3,217.9 L238.9,217.9 L239.6,217.9 L240.2,217.8 L240.8,218.1 L241.4,218.2 L242.0,218.3 L242.7,218.6 L243.3,218.7 L243.9,218.7 L244.5,218.3 L245.2,218.3 L245.8,218.7 L246.4,219.2 L247.0,219.5 L247.7,219.5 L248.3,219.4 L248.9,219.3 L249.5,219.4 L250.2,219.8 L250.8,219.8 L251.4,220.0 L252.0,220.1 L252.6,220.2 L253.3,220.5 L253.9,220.6 L254.5,220.9 L255.1,221.0 L255.8,221.1 L256.4,221.1 L257.0,221.0 L257.6,221.0 L258.3,221.1 L258.9,221.2 L259.5,221.1 L260.1,221.2 L260.8,221.2 L261.4,221.5 L262.0,221.6 L262.6,221.8 L263.2,221.7 L263.9,221.9 L264.5,221.9 L265.1,222.0 L265.7,222.2 L266.4,222.3 L267.0,222.5 L267.6,222.6 L268.2,222.8 L268.9,222.9 L269.5,222.9 L270.1,223.0 L270.7,223.1 L271.4,223.3 L272.0,222.9 L272.6,223.0 L273.2,222.9 L273.8,223.4 L274.5,223.5 L275.1,223.7 L275.7,224.0 L276.3,224.1 L277.0,223.9 L277.6,224.0 L278.2,224.0 L278.8,224.2 L279.5,224.3 L280.1,224.0 L280.7,224.3 L281.3,223.9 L282.0,224.4 L282.6,224.6 L283.2,224.7 L283.8,224.8 L284.4,224.9 L285.1,225.0 L285.7,225.0 L286.3,225.1 L286.9,225.4 L287.6,225.4 L288.2,225.4 L288.8,225.2 L289.4,225.3 L290.1,225.3 L290.7,225.8 L291.3,225.8 L291.9,226.0 L292.6,226.1 L293.2,226.4 L293.8,226.4 L294.4,226.5 L295.0,227.0 L295.7,227.2 L296.3,227.2 L296.9,226.7 L297.5,226.9 L298.2,226.9 L298.8,227.2 L299.4,227.1 L300.0,226.9 L300.7,226.7 L301.3,226.5 L301.9,227.0 L302.5,227.4 L303.2,227.7 L303.8,227.7 L304.4,227.5 L305.0,227.2 L305.6,227.3 L306.3,227.3 L306.9,227.9 L307.5,227.7 L308.1,227.9 L308.8,228.2 L309.4,228.5 L310.0,228.6 L310.6,228.6 L311.3,228.6 L311.9,228.5 L312.5,228.3" stroke="rgb(23,19,218)" stroke-width="0.68"/>
<path d="M38.2,-519.4 L38.3,-11.0 L38.5,89.7 L38.6,122.0 L38.8,134.7 L38.9,142.7 L39.1,149.8 L39.3,155.9 L39.4,161.0 L39.6,165.9 L39.7,170.1 L39.9,174.3 L40.0,177.4 L40.2,180.9 L40.3,183.9 L40.5,187.2 L40.7,190.6 L40.8,193.6 L41.0,196.9 L41.1,199.7 L41.3,202.4 L41.4,205.1 L41.6,207.7 L41.8,209.8 L41.9,211.5 L42.1,213.3 L42.2,214.5 L42.4,216.2 L42.5,217.5 L42.7,219.2 L42.8,219.9 L43.0,220.3 L43.2,221.0 L43.3,221.8 L43.5,222.7 L43.6,223.3 L43.8,223.9 L43.9,224.6 L44.1,225.0 L44.2,225.5 L44.4,226.1 L45.0,227.8 L45.6,229.1 L46.3,229.5 L46.9,230.3 L47.5,231.1 L48.1,231.9 L48.8,232.2 L49.4,232.5 L50.0,232.8 L50.6,232.9 L51.3,233.1 L51.9,233.2 L52.5,233.5 L53.1,233.4 L53.8,233.2 L54.4,233.4 L55.0,233.8 L55.6,234.0 L56.2,233.8 L56.9,233.9 L57.5,233.9 L58.1,233.9 L58.7,233.6 L59.4,233.4 L60.0,233.4 L60.6,233.5 L61.2,233.6 L61.9,233.3 L62.5,233.2 L63.1,232.8 L63.7,233.1 L64.4,232.4 L65.0,232.8 L65.6,232.3 L66.2,233.0 L66.8,232.8 L67.5,233.3 L68.1,233.6 L68.7,233.5 L69.3,233.9 L70.0,234.3 L70.6,234.9 L71.2,235.2 L71.8,235.5 L72.5,236.0 L73.1,236.5 L73.7,236.7 L74.3,237.0 L75.0,237.4 L75.6,237.9 L76.2,238.2 L76.8,238.4 L77.4,238.8 L78.1,239.3 L78.7,239.6 L79.3,239.6 L79.9,239.4 L80.6,239.5 L81.2,239.6 L81.8,239.8 L82.4,239.7 L83.1,239.7 L83.7,239.7 L84.3,239.7 L84.9,239.7 L85.6,239.7 L86.2,239.5 L86.8,239.5 L87.4,239.6 L88.0,239.5 L88.7,238.8 L89.3,238.3 L89.9,237.7 L90.5,237.3 L91.2,236.7 L91.8,236.6 L92.4,235.9 L93.0,234.9 L93.7,233.6 L94.3,232.3 L94.9,231.1 L95.5,229.5 L96.2,228.3 L96.8,227.0 L97.4,225.9 L98.0,224.7 L98.6,223.9 L99.3,223.4 L99.9,223.0 L100.5,222.4 L101.1,221.7 L101.8,221.4 L102.4,220.7 L103.0,220.2 L103.6,219.2 L104.3,218.9 L104.9,218.2 L105.5,217.9 L106.1,217.3 L106.8,216.3 L107.4,215.8 L108.0,215.0 L108.6,214.7 L109.2,214.2 L109.9,213.7 L110.5,213.1 L111.1,212.4 L111.7,212.2 L112.4,211.8 L113.0,211.5 L113.6,210.8 L114.2,210.4 L114.9,209.9 L115.5,209.1 L116.1,208.6 L116.7,208.4 L117.3,208.0 L118.0,207.6 L118.6,206.8 L119.2,206.8 L119.8,206.3 L120.5,206.0 L121.1,205.1 L121.7,204.7 L122.3,204.1 L123.0,203.9 L123.6,203.8 L124.2,203.3 L124.8,202.8 L125.5,202.1 L126.1,201.9 L126.7,201.7 L127.3,201.5 L127.9,201.1 L128.6,200.6 L129.2,199.6 L129.8,198.9 L130.4,198.2 L131.1,198.0 L131.7,197.3 L132.3,197.0 L132.9,196.0 L133.6,195.4 L134.2,194.7 L134.8,194.3 L135.4,193.6 L136.1,193.0 L136.7,192.6 L137.3,191.9 L137.9,190.7 L138.5,189.9 L139.2,189.2 L139.8,189.0 L140.4,188.0 L141.0,187.6 L141.7,186.6 L142.3,186.0 L142.9,185.2 L143.5,184.9 L144.2,184.1 L144.8,183.5 L145.4,182.8 L146.0,182.4 L146.7,182.0 L147.3,181.4 L147.9,181.1 L148.5,180.4 L149.1,179.9 L149.8,179.2 L150.4,178.7 L151.0,178.3 L151.6,177.7 L152.3,177.2 L152.9,176.8 L153.5,176.5 L154.1,176.2 L154.8,175.8 L155.4,175.4 L156.0,175.2 L156.6,174.6 L157.3,174.3 L157.9,173.8 L158.5,173.7 L159.1,173.7 L159.7,173.3 L160.4,173.1 L161.0,172.5 L161.6,172.1 L162.2,172.0 L162.9,171.7 L163.5,171.5 L164.1,171.1 L164.7,171.0 L165.4,170.7 L166.0,170.4 L166.6,170.1 L167.2,170.0 L167.9,169.8 L168.5,169.3 L169.1,168.9 L169.7,168.8 L170.3,168.8 L171.0,168.9 L171.6,168.5 L172.2,168.3 L172.8,168.0 L173.5,167.7 L174.1,167.6 L174.7,167.5 L175.3,167.7 L176.0,167.8 L176.6,167.9 L177.2,168.0 L177.8,168.0 L178.5,167.9 L179.1,167.9 L179.7,168.4 L180.3,169.0 L180.9,169.4 L181.6,169.3 L182.2,169.6 L182.8,170.0 L183.4,170.5 L184.1,170.9 L184.7,171.2 L185.3,171.6 L185.9,172.1 L186.6,172.8 L187.2,173.3 L187.8,173.9 L188.4,174.5 L189.1,175.1 L189.7,175.4 L190.3,176.3 L190.9,176.7 L191.5,177.8 L192.2,178.1 L192.8,179.5 L193.4,180.1 L194.0,181.1 L194.7,181.7 L195.3,182.8 L195.9,183.7 L196.5,184.5 L197.2,185.5 L197.8,186.5 L198.4,187.6 L199.0,188.8 L199.7,189.8 L200.3,190.7 L200.9,191.6 L201.5,192.8 L202.1,193.8 L202.8,194.7 L203.4,195.5 L204.0,196.4 L204.6,197.5 L205.3,198.2 L205.9,198.8 L206.5,199.2 L207.1,199.9 L207.8,200.4 L208.4,201.0 L209.0,201.4 L209.6,202.1 L210.3,202.7 L210.9,203.2 L211.5,203.7 L212.1,204.2 L212.7,204.6 L213.4,205.0 L214.0,205.6 L214.6,206.1 L215.2,206.5 L215.9,206.3 L216.5,206.9 L217.1,207.2 L217.7,207.5 L218.4,208.0 L219.0,208.3 L219.6,209.0 L220.2,209.3 L220.9,209.7 L221.5,210.2 L222.1,210.7 L222.7,211.2 L223.3,211.7 L224.0,211.5 L224.6,211.8 L225.2,212.1 L225.8,212.6 L226.5,212.7 L227.1,213.0 L227.7,213.5 L228.3,214.1 L229.0,214.2 L229.6,214.2 L230.2,214.7 L230.8,214.9 L231.5,215.3 L232.1,215.5 L232.7,215.6 L233.3,215.7 L233.9,215.7 L234.6,216.1 L235.2,216.2 L235.8,216.4 L236.4,216.5 L237.1,216.6 L237.7,216.9 L238.3,216.9 L238.9,217.1 L239.6,217.0 L240.2,217.3 L240.8,217.6 L241.4,217.9 L242.0,218.2 L242.7,218.2 L243.3,218.1 L243.9,218.0 L244.5,217.6 L245.2,217.8 L245.8,217.9 L246.4,218.6 L247.0,219.1 L247.7,219.5 L248.3,219.6 L248.9,219.8 L249.5,219.9 L250.2,220.0 L250.8,219.9 L251.4,219.8 L252.0,219.9 L252.6,220.0 L253.3,220.0 L253.9,220.2 L254.5,220.4 L255.1,220.5 L255.8,220.4 L256.4,220.7 L257.0,221.0 L257.6,221.0 L258.3,220.8 L258.9,220.7 L259.5,221.3 L260.1,221.4 L260.8,222.0 L261.4,221.7 L262.0,222.1 L262.6,221.6 L263.2,221.9 L263.9,221.8 L264.5,222.1 L265.1,222.1 L265.7,222.4 L266.4,222.4 L267.0,222.6 L267.6,222.1 L268.2,222.3 L268.9,222.3 L269.5,222.8 L270.1,222.6 L270.7,222.5 L271.4,222.4 L272.0,222.6 L272.6,223.0 L273.2,223.3 L273.8,223.4 L274.5,223.5 L275.1,223.4 L275.7,224.0 L276.3,224.0 L277.0,223.9 L277.6,223.8 L278.2,224.0 L278.8,224.1 L279.5,224.1 L280.1,224.4 L280.7,224.7 L281.3,224.9 L282.0,224.7 L282.6,224.6 L283.2,224.5 L283.8,224.5 L284.4,224.6 L285.1,224.7 L285.7,224.5 L286.3,224.7 L286.9,224.7 L287.6,225.3 L288.2,225.2 L288.8,225.4 L289.4,225.4 L290.1,225.8 L290.7,226.0 L291.3,225.7 L291.9,225.6 L292.6,225.7 L293.2,226.0 L293.8,226.3 L294.4,226.6 L295.0,226.7 L295.7,226.9 L296.3,226.9 L296.9,226.8 L297.5,226.8 L298.2,227.1 L298.8,227.1 L299.4,227.1 L300.0,226.8 L300.7,227.2 L301.3,227.3 L301.9,227.5 L302.5,227.2 L303.2,227.4 L303.8,227.3 L304.4,227.6 L305.0,227.4 L305.6,227.7 L306.3,228.0 L306.9,228.0 L307.5,228.1 L308.1,227.8 L308.8,227.9 L309.4,228.1 L310.0,228.3 L310.6,228.5 L311.3,228.2 L311.9,228.1 L312.5,228.1" stroke="rgb(25,26,220)" stroke-width="0.68"/>
<path d="M38.2,-519.0 L38.3,-10.7 L38.5,89.7 L38.6,121.2 L38.8,133.9 L38.9,141.9 L39.1,149.3 L39.3,155.3 L39.4,160.1 L39.6,165.0 L39.7,169.4 L39.9,173.7 L40.0,177.2 L40.2,180.6 L40.3,183.9 L40.5,186.9 L40.7,190.4 L40.8,193.6 L41.0,196.8 L41.1,199.7 L41.3,202.5 L41.4,205.2 L41.6,207.5 L41.8,209.5 L41.9,211.1 L42.1,212.7 L42.2,214.2 L42.4,215.7 L42.5,216.9 L42.7,218.2 L42.8,219.2 L43.0,220.3 L43.2,221.0 L43.3,221.6 L43.5,222.2 L43.6,223.0 L43.8,223.4 L43.9,223.8 L44.1,224.4 L44.2,225.2 L44.4,225.7 L45.0,227.0 L45.6,228.2 L46.3,229.2 L46.9,229.8 L47.5,230.6 L48.1,231.2 L48.8,232.0 L49.4,232.2 L50.0,232.4 L50.6,232.5 L51.3,232.4 L51.9,232.7 L52.5,232.3 L53.1,232.5 L53.8,232.5 L54.4,233.1 L55.0,233.3 L55.6,233.6 L56.2,233.5 L56.9,233.6 L57.5,233.4 L58.1,233.5 L58.7,233.4 L59.4,233.2 L60.0,233.1 L60.6,232.7 L61.2,232.8 L61.9,232.5 L62.5,232.7 L63.1,232.3 L63.7,232.1 L64.4,231.9 L65.0,231.9 L65.6,231.8 L66.2,232.0 L66.8,232.1 L67.5,232.5 L68.1,232.8 L68.7,233.2 L69.3,233.6 L70.0,233.7 L70.6,234.0 L71.2,234.4 L71.8,234.8 L72.5,235.2 L73.1,235.8 L73.7,236.1 L74.3,236.4 L75.0,236.6 L75.6,237.0 L76.2,237.5 L76.8,237.8 L77.4,238.1 L78.1,238.4 L78.7,238.6 L79.3,238.6 L79.9,238.4 L80.6,238.6 L81.2,239.0 L81.8,239.1 L82.4,239.1 L83.1,239.1 L83.7,239.1 L84.3,239.0 L84.9,238.6 L85.6,238.6 L86.2,238.5 L86.8,238.6 L87.4,238.4 L88.0,238.3 L88.7,238.0 L89.3,237.6 L89.9,236.8 L90.5,235.9 L91.2,235.3 L91.8,235.3 L92.4,234.9 L93.0,233.7 L93.7,232.3 L94.3,231.0 L94.9,229.8 L95.5,228.5 L96.2,227.3 L96.8,226.3 L97.4,225.1 L98.0,224.2 L98.6,223.4 L99.3,222.4 L99.9,221.7 L100.5,220.8 L101.1,220.4 L101.8,220.1 L102.4,219.7 L103.0,219.2 L103.6,218.6 L104.3,218.1 L104.9,217.3 L105.5,216.4 L106.1,215.8 L106.8,215.5 L107.4,215.2 L108.0,214.5 L108.6,213.6 L109.2,213.1 L109.9,212.7 L110.5,212.4 L111.1,212.1 L111.7,211.4 L112.4,210.8 L113.0,210.3 L113.6,209.6 L114.2,209.3 L114.9,208.5 L115.5,208.2 L116.1,207.7 L116.7,207.1 L117.3,206.7 L118.0,206.5 L118.6,205.9 L119.2,205.4 L119.8,204.5 L120.5,204.1 L121.1,203.5 L121.7,203.1 L122.3,202.8 L123.0,202.1 L123.6,201.4 L124.2,200.8 L124.8,200.6 L125.5,200.1 L126.1,200.1 L126.7,199.9 L127.3,199.6 L127.9,198.8 L128.6,198.3 L129.2,197.8 L129.8,197.6 L130.4,197.0 L131.1,196.8 L131.7,196.1 L132.3,195.2 L132.9,194.5 L133.6,193.7 L134.2,193.4 L134.8,192.8 L135.4,191.8 L136.1,191.0 L136.7,190.1 L137.3,189.8 L137.9,189.3 L138.5,188.6 L139.2,187.7 L139.8,186.8 L140.4,186.2 L141.0,185.8 L141.7,184.9 L142.3,184.2 L142.9,183.4 L143.5,182.7 L144.2,182.3 L144.8,182.0 L145.4,181.6 L146.0,180.9 L146.7,180.0 L147.3,179.3 L147.9,178.8 L148.5,178.3 L149.1,177.9 L149.8,177.3 L150.4,176.8 L151.0,176.5 L151.6,176.0 L152.3,175.9 L152.9,175.6 L153.5,175.0 L154.1,174.3 L154.8,173.8 L155.4,173.5 L156.0,173.5 L156.6,173.3 L157.3,173.1 L157.9,172.5 L158.5,172.2 L159.1,172.0 L159.7,171.9 L160.4,171.8 L161.0,171.9 L161.6,171.6 L162.2,171.4 L162.9,170.7 L163.5,170.4 L164.1,169.9 L164.7,169.8 L165.4,169.8 L166.0,169.8 L166.6,169.6 L167.2,169.1 L167.9,168.7 L168.5,168.6 L169.1,168.8 L169.7,168.5 L170.3,168.4 L171.0,167.9 L171.6,167.8 L172.2,167.4 L172.8,167.2 L173.5,167.2 L174.1,167.6 L174.7,167.3 L175.3,167.7 L176.0,167.6 L176.6,168.1 L177.2,168.0 L177.8,168.2 L178.5,168.3 L179.1,168.6 L179.7,168.8 L180.3,169.0 L180.9,169.4 L181.6,169.7 L182.2,170.1 L182.8,170.2 L183.4,170.7 L184.1,171.2 L184.7,171.7 L185.3,172.3 L185.9,172.6 L186.6,173.0 L187.2,173.4 L187.8,173.8 L188.4,174.2 L189.1,174.9 L189.7,175.5 L190.3,176.3 L190.9,176.8 L191.5,178.1 L192.2,178.7 L192.8,179.7 L193.4,180.4 L194.0,181.6 L194.7,182.8 L195.3,183.8 L195.9,184.7 L196.5,185.0 L197.2,185.7 L197.8,186.6 L198.4,187.6 L199.0,188.6 L199.7,189.7 L200.3,191.0 L200.9,192.4 L201.5,193.3 L202.1,194.4 L202.8,195.0 L203.4,196.2 L204.0,196.8 L204.6,197.6 L205.3,198.3 L205.9,199.1 L206.5,199.6 L207.1,200.2 L207.8,200.6 L208.4,201.3 L209.0,202.0 L209.6,202.6 L210.3,203.4 L210.9,203.5 L211.5,204.0 L212.1,204.0 L212.7,204.4 L213.4,204.7 L214.0,205.2 L214.6,205.2 L215.2,205.5 L215.9,205.6 L216.5,206.4 L217.1,207.0 L217.7,207.5 L218.4,207.9 L219.0,208.1 L219.6,208.7 L220.2,208.6 L220.9,208.8 L221.5,208.8 L222.1,209.5 L222.7,210.1 L223.3,210.9 L224.0,211.1 L224.6,211.6 L225.2,212.0 L225.8,212.8 L226.5,212.8 L227.1,213.1 L227.7,213.1 L228.3,213.4 L229.0,213.2 L229.6,213.4 L230.2,214.2 L230.8,215.2 L231.5,215.6 L232.1,215.2 L232.7,215.3 L233.3,215.5 L233.9,216.2 L234.6,216.3 L235.2,216.4 L235.8,216.4 L236.4,216.5 L237.1,216.6 L237.7,216.8 L238.3,217.1 L238.9,217.8 L239.6,218.2 L240.2,218.0 L240.8,218.0 L241.4,218.0 L242.0,218.5 L242.7,218.5 L243.3,218.5 L243.9,218.6 L244.5,218.9 L245.2,219.0 L245.8,219.3 L246.4,219.2 L247.0,219.5 L247.7,219.5 L248.3,219.5 L248.9,219.4 L249.5,219.3 L250.2,219.7 L250.8,219.9 L251.4,220.3 L252.0,220.4 L252.6,220.6 L253.3,220.5 L253.9,220.5 L254.5,220.5 L255.1,220.8 L255.8,220.9 L256.4,221.0 L257.0,220.6 L257.6,220.8 L258.3,220.8 L258.9,221.1 L259.5,220.7 L260.1,220.8 L260.8,220.6 L261.4,221.0 L262.0,221.4 L262.6,221.9 L263.2,222.1 L263.9,222.2 L264.5,222.1 L265.1,222.3 L265.7,222.2 L266.4,222.6 L267.0,222.3 L267.6,222.6 L268.2,222.4 L268.9,222.9 L269.5,222.8 L270.1,222.7 L270.7,222.5 L271.4,222.9 L272.0,223.1 L272.6,223.2 L273.2,222.8 L273.8,223.0 L274.5,223.3 L275.1,223.9 L275.7,223.5 L276.3,223.6 L277.0,223.4 L277.6,224.0 L278.2,224.0 L278.8,223.9 L279.5,223.7 L280.1,223.9 L280.7,224.3 L281.3,224.4 L282.0,224.5 L282.6,224.1 L283.2,224.2 L283.8,224.3 L284.4,224.5 L285.1,224.9 L285.7,225.0 L286.3,225.2 L286.9,225.0 L287.6,225.3 L288.2,225.4 L288.8,225.5 L289.4,225.3 L290.1,225.4 L290.7,225.8 L291.3,226.0 L291.9,226.3 L292.6,226.2 L293.2,226.4 L293.8,225.9 L294.4,226.0 L295.0,226.2 L295.7,226.8 L296.3,226.8 L296.9,226.7 L297.5,226.4 L298.2,226.6 L298.8,226.4 L299.4,226.6 L300.0,226.8 L300.7,227.0 L301.3,227.3 L301.9,227.2 L302.5,227.4 L303.2,227.3 L303.8,227.5 L304.4,227.5 L305.0,227.8 L305.6,227.9 L306.3,227.9 L306.9,227.8 L307.5,228.0 L308.1,228.4 L308.8,228.4 L309.4,228.1 L310.0,228.0 L310.6,227.9 L311.3,228.2 L311.9,228.3 L312.5,228.4" stroke="rgb(28,34,223)" stroke-width="0.68"/>
<path d="M38.2,-519.3 L38.3,-11.0 L38.5,89.4 L38.6,121.3 L38.8,134.4 L38.9,142.3 L39.1,149.7 L39.3,155.5 L39.4,160.7 L39.6,165.5 L39.7,169.8 L39.9,173.7 L40.0,177.3 L40.2,180.5 L40.3,183.7 L40.5,186.9 L40.7,190.6 L40.8,193.8 L41.0,196.7 L41.1,199.6 L41.3,202.2 L41.4,204.8 L41.6,207.1 L41.8,209.4 L41.9,211.2 L42.1,212.9 L42.2,214.4 L42.4,216.1 L42.5,217.2 L42.7,218.2 L42.8,219.2 L43.0,220.1 L43.2,221.2 L43.3,221.7 L43.5,222.5 L43.6,223.0 L43.8,223.6 L43.9,224.3 L44.1,224.5 L44.2,224.9 L44.4,224.9 L45.0,226.7 L45.6,227.6 L46.3,228.7 L46.9,229.1 L47.5,229.9 L48.1,230.1 L48.8,230.5 L49.4,230.8 L50.0,231.3 L50.6,232.1 L51.3,232.3 L51.9,232.4 L52.5,232.2 L53.1,232.3 L53.8,232.1 L54.4,232.1 L55.0,232.3 L55.6,232.7 L56.2,232.7 L56.9,232.5 L57.5,232.3 L58.1,232.2 L58.7,232.4 L59.4,232.5 L60.0,232.3 L60.6,232.0 L61.2,232.0 L61.9,232.1 L62.5,231.9 L63.1,231.4 L63.7,231.2 L64.4,230.9 L65.0,230.8 L65.6,230.5 L66.2,230.8 L66.8,231.4 L67.5,231.6 L68.1,231.6 L68.7,231.6 L69.3,232.2 L70.0,232.7 L70.6,233.3 L71.2,233.8 L71.8,234.3 L72.5,235.0 L73.1,235.1 L73.7,235.4 L74.3,235.2 L75.0,235.1 L75.6,235.5 L76.2,236.1 L76.8,236.6 L77.4,236.9 L78.1,237.0 L78.7,237.6 L79.3,237.9 L79.9,238.0 L80.6,238.0 L81.2,238.1 L81.8,238.0 L82.4,237.9 L83.1,237.6 L83.7,237.8 L84.3,237.7 L84.9,238.1 L85.6,237.9 L86.2,238.1 L86.8,237.9 L87.4,237.5 L88.0,237.2 L88.7,236.4 L89.3,235.9 L89.9,235.2 L90.5,235.0 L91.2,234.8 L91.8,234.3 L92.4,233.4 L93.0,232.5 L93.7,231.2 L94.3,230.2 L94.9,228.8 L95.5,227.8 L96.2,226.3 L96.8,225.0 L97.4,223.7 L98.0,222.6 L98.6,221.7 L99.3,220.7 L99.9,220.5 L100.5,220.1 L101.1,219.9 L101.8,219.1 L102.4,218.8 L103.0,217.9 L103.6,217.4 L104.3,216.6 L104.9,215.9 L105.5,215.3 L106.1,214.7 L106.8,214.3 L107.4,213.7 L108.0,213.2 L108.6,212.7 L109.2,212.2 L109.9,211.4 L110.5,210.6 L111.1,209.9 L111.7,209.4 L112.4,208.9 L113.0,208.3 L113.6,208.2 L114.2,207.8 L114.9,207.2 L115.5,206.3 L116.1,205.8 L116.7,205.6 L117.3,205.1 L118.0,204.6 L118.6,203.9 L119.2,203.5 L119.8,202.9 L120.5,202.5 L121.1,201.8 L121.7,201.4 L122.3,200.9 L123.0,200.7 L123.6,200.3 L124.2,199.9 L124.8,199.3 L125.5,198.6 L126.1,198.1 L126.7,197.8 L127.3,197.5 L127.9,197.0 L128.6,196.2 L129.2,195.6 L129.8,195.0 L130.4,194.5 L131.1,193.9 L131.7,193.2 L132.3,193.0 L132.9,192.2 L133.6,191.4 L134.2,190.6 L134.8,189.9 L135.4,189.2 L136.1,188.9 L136.7,188.1 L137.3,187.7 L137.9,186.5 L138.5,185.9 L139.2,185.0 L139.8,184.4 L140.4,183.8 L141.0,183.3 L141.7,182.7 L142.3,182.1 L142.9,181.5 L143.5,180.8 L144.2,180.2 L144.8,179.6 L145.4,179.2 L146.0,178.6 L146.7,178.0 L147.3,177.2 L147.9,177.0 L148.5,176.5 L149.1,176.3 L149.8,175.9 L150.4,175.7 L151.0,175.5 L151.6,174.7 L152.3,174.1 L152.9,173.3 L153.5,173.1 L154.1,172.7 L154.8,172.6 L155.4,172.3 L156.0,172.4 L156.6,172.3 L157.3,172.2 L157.9,171.8 L158.5,171.6 L159.1,171.4 L159.7,170.9 L160.4,170.4 L161.0,170.1 L161.6,170.1 L162.2,170.0 L162.9,169.9 L163.5,169.7 L164.1,169.5 L164.7,169.3 L165.4,169.1 L166.0,168.9 L166.6,168.7 L167.2,168.5 L167.9,168.5 L168.5,168.5 L169.1,168.5 L169.7,168.4 L170.3,167.9 L171.0,167.8 L171.6,167.5 L172.2,167.5 L172.8,167.1 L173.5,167.1 L174.1,167.3 L174.7,167.5 L175.3,167.3 L176.0,167.4 L176.6,167.4 L177.2,167.6 L177.8,167.9 L178.5,168.0 L179.1,168.3 L179.7,168.6 L180.3,168.9 L180.9,169.2 L181.6,169.3 L182.2,169.7 L182.8,170.2 L183.4,170.6 L184.1,171.3 L184.7,172.0 L185.3,172.7 L185.9,173.1 L186.6,173.4 L187.2,174.0 L187.8,174.6 L188.4,175.4 L189.1,175.7 L189.7,176.0 L190.3,176.5 L190.9,177.3 L191.5,178.2 L192.2,179.2 L192.8,180.3 L193.4,181.2 L194.0,181.8 L194.7,182.9 L195.3,184.0 L195.9,184.9 L196.5,185.7 L197.2,186.4 L197.8,187.2 L198.4,187.8 L199.0,189.1 L199.7,190.3 L200.3,191.4 L200.9,192.3 L201.5,193.3 L202.1,194.4 L202.8,195.3 L203.4,196.4 L204.0,197.2 L204.6,197.8 L205.3,198.3 L205.9,199.1 L206.5,200.0 L207.1,200.9 L207.8,201.2 L208.4,201.7 L209.0,201.9 L209.6,202.5 L210.3,203.1 L210.9,203.6 L211.5,204.2 L212.1,204.5 L212.7,204.8 L213.4,205.0 L214.0,205.8 L214.6,206.4 L215.2,206.4 L215.9,206.4 L216.5,206.8 L217.1,207.5 L217.7,207.6 L218.4,207.9 L219.0,208.3 L219.6,208.7 L220.2,209.0 L220.9,209.1 L221.5,210.0 L222.1,210.2 L222.7,210.7 L223.3,210.6 L224.0,211.0 L224.6,211.4 L225.2,212.0 L225.8,212.5 L226.5,212.4 L227.1,212.6 L227.7,212.7 L228.3,213.3 L229.0,214.0 L229.6,214.6 L230.2,214.7 L230.8,214.6 L231.5,214.8 L232.1,215.1 L232.7,215.4 L233.3,215.1 L233.9,215.5 L234.6,215.8 L235.2,216.3 L235.8,216.3 L236.4,216.3 L237.1,216.5 L237.7,216.8 L238.3,217.0 L238.9,217.3 L239.6,217.5 L240.2,217.6 L240.8,217.8 L241.4,217.7 L242.0,218.2 L242.7,218.6 L243.3,218.5 L243.9,218.6 L244.5,218.3 L245.2,218.8 L245.8,218.6 L246.4,218.5 L247.0,218.6 L247.7,218.8 L248.3,219.3 L248.9,219.4 L249.5,219.8 L250.2,219.7 L250.8,219.9 L251.4,219.9 L252.0,220.3 L252.6,220.4 L253.3,220.2 L253.9,220.5 L254.5,220.7 L255.1,220.9 L255.8,220.8 L256.4,220.8 L257.0,220.9 L257.6,221.1 L258.3,221.1 L258.9,221.5 L259.5,221.7 L260.1,221.8 L260.8,221.8 L261.4,221.8 L262.0,222.1 L262.6,222.0 L263.2,222.0 L263.9,221.9 L264.5,222.0 L265.1,221.7 L265.7,221.9 L266.4,221.8 L267.0,222.3 L267.6,222.4 L268.2,222.7 L268.9,222.8 L269.5,222.4 L270.1,222.7 L270.7,222.7 L271.4,222.9 L272.0,222.8 L272.6,222.6 L273.2,223.0 L273.8,223.1 L274.5,223.5 L275.1,223.2 L275.7,223.5 L276.3,223.8 L277.0,224.2 L277.6,224.0 L278.2,223.9 L278.8,224.0 L279.5,224.2 L280.1,224.1 L280.7,224.0 L281.3,224.1 L282.0,224.4 L282.6,224.6 L283.2,224.7 L283.8,224.4 L284.4,224.6 L285.1,224.5 L285.7,225.0 L286.3,225.0 L286.9,225.3 L287.6,225.3 L288.2,225.5 L288.8,225.5 L289.4,225.4 L290.1,225.5 L290.7,225.5 L291.3,225.7 L291.9,225.9 L292.6,225.9 L293.2,226.1 L293.8,226.2 L294.4,226.5 L295.0,226.5 L295.7,226.7 L296.3,226.9 L296.9,227.2 L297.5,227.2 L298.2,227.1 L298.8,227.0 L299.4,226.7 L300.0,226.7 L300.7,226.9 L301.3,227.4 L301.9,227.6 L302.5,227.8 L303.2,227.9 L303.8,228.0 L304.4,227.7 L305.0,227.6 L305.6,227.6 L306.3,227.8 L306.9,227.9 L307.5,228.0 L308.1,228.2 L308.8,228.1 L309.4,228.2 L310.0,228.1 L310.6,228.5 L311.3,228.3 L311.9,228.1 L312.5,227.9" stroke="rgb(33,48,223)" stroke-width="0.68"/>
<path d="M38.2,-519.3 L38.3,-11.2 L38.5,89.0 L38.6,121.1 L38.8,134.2 L38.9,142.4 L39.1,149.9 L39.3,156.0 L39.4,161.0 L39.6,165.5 L39.7,169.6 L39.9,173.7 L40.0,177.5 L40.2,181.1 L40.3,184.3 L40.5,187.3 L40.7,190.3 L40.8,193.3 L41.0,196.5 L41.1,199.6 L41.3,202.2 L41.4,204.9 L41.6,207.0 L41.8,208.9 L41.9,210.8 L42.1,212.6 L42.2,214.6 L42.4,215.6 L42.5,216.9 L42.7,218.1 L42.8,219.2 L43.0,219.9 L43.2,221.0 L43.3,221.6 L43.5,221.9 L43.6,222.1 L43.8,222.8 L43.9,223.6 L44.1,224.6 L44.2,224.8 L44.4,224.9 L45.0,225.8 L45.6,227.4 L46.3,228.5 L46.9,229.3 L47.5,229.5 L48.1,229.8 L48.8,230.6 L49.4,231.1 L50.0,231.5 L50.6,231.3 L51.3,231.3 L51.9,231.3 L52.5,231.4 L53.1,231.7 L53.8,231.7 L54.4,231.9 L55.0,232.1 L55.6,232.2 L56.2,231.9 L56.9,231.6 L57.5,231.5 L58.1,231.6 L58.7,232.0 L59.4,231.9 L60.0,231.8 L60.6,231.7 L61.2,231.7 L61.9,231.7 L62.5,231.0 L63.1,230.8 L63.7,230.4 L64.4,230.4 L65.0,230.5 L65.6,230.8 L66.2,230.8 L66.8,230.8 L67.5,230.7 L68.1,231.0 L68.7,231.4 L69.3,231.6 L70.0,231.9 L70.6,232.3 L71.2,233.0 L71.8,233.8 L72.5,234.3 L73.1,234.5 L73.7,234.3 L74.3,234.5 L75.0,234.7 L75.6,235.0 L76.2,234.8 L76.8,235.1 L77.4,235.3 L78.1,235.8 L78.7,236.2 L79.3,237.0 L79.9,237.1 L80.6,236.9 L81.2,236.3 L81.8,236.5 L82.4,236.6 L83.1,237.0 L83.7,237.2 L84.3,237.2 L84.9,237.1 L85.6,236.8 L86.2,236.5 L86.8,236.4 L87.4,236.0 L88.0,236.0 L88.7,235.6 L89.3,235.3 L89.9,234.6 L90.5,234.1 L91.2,233.7 L91.8,232.9 L92.4,231.9 L93.0,230.8 L93.7,230.0 L94.3,229.1 L94.9,227.9 L95.5,226.5 L96.2,225.3 L96.8,223.9 L97.4,222.7 L98.0,221.4 L98.6,220.7 L99.3,220.2 L99.9,219.6 L100.5,219.2 L101.1,218.3 L101.8,217.7 L102.4,216.8 L103.0,216.5 L103.6,215.7 L104.3,215.0 L104.9,214.5 L105.5,214.0 L106.1,213.5 L106.8,212.9 L107.4,212.2 L108.0,211.3 L108.6,210.8 L109.2,210.4 L109.9,210.2 L110.5,209.6 L111.1,209.2 L111.7,208.4 L112.4,207.9 L113.0,207.4 L113.6,206.9 L114.2,206.2 L114.9,205.3 L115.5,204.9 L116.1,204.4 L116.7,204.2 L117.3,203.8 L118.0,203.2 L118.6,202.4 L119.2,201.4 L119.8,201.0 L120.5,200.5 L121.1,200.1 L121.7,199.6 L122.3,199.3 L123.0,198.8 L123.6,198.4 L124.2,197.7 L124.8,197.3 L125.5,196.7 L126.1,196.3 L126.7,195.7 L127.3,195.3 L127.9,194.9 L128.6,194.4 L129.2,193.5 L129.8,192.7 L130.4,191.9 L131.1,191.4 L131.7,191.0 L132.3,190.7 L132.9,190.0 L133.6,189.2 L134.2,188.3 L134.8,187.5 L135.4,186.4 L136.1,185.9 L136.7,185.2 L137.3,185.0 L137.9,184.0 L138.5,183.5 L139.2,182.5 L139.8,182.2 L140.4,181.1 L141.0,180.4 L141.7,179.5 L142.3,179.2 L142.9,178.7 L143.5,178.4 L144.2,178.0 L144.8,177.3 L145.4,176.9 L146.0,176.4 L146.7,175.9 L147.3,175.0 L147.9,174.5 L148.5,174.3 L149.1,173.9 L149.8,173.6 L150.4,173.3 L151.0,173.3 L151.6,172.9 L152.3,172.6 L152.9,172.0 L153.5,172.1 L154.1,172.0 L154.8,171.8 L155.4,171.3 L156.0,170.8 L156.6,170.2 L157.3,169.8 L157.9,169.7 L158.5,169.8 L159.1,169.7 L159.7,169.8 L160.4,169.5 L161.0,169.4 L161.6,169.1 L162.2,169.1 L162.9,169.0 L163.5,168.9 L164.1,168.7 L164.7,168.2 L165.4,168.0 L166.0,167.6 L166.6,167.6 L167.2,167.5 L167.9,167.5 L168.5,167.5 L169.1,167.3 L169.7,167.2 L170.3,167.1 L171.0,166.9 L171.6,167.0 L172.2,167.1 L172.8,167.4 L173.5,167.2 L174.1,167.2 L174.7,167.1 L175.3,167.3 L176.0,167.3 L176.6,167.8 L177.2,167.8 L177.8,168.0 L178.5,168.2 L179.1,168.5 L179.7,168.8 L180.3,169.1 L180.9,169.8 L181.6,170.2 L182.2,170.6 L182.8,171.0 L183.4,171.5 L184.1,171.9 L184.7,172.3 L185.3,172.6 L185.9,172.9 L186.6,173.1 L187.2,173.9 L187.8,174.8 L188.4,175.8 L189.1,176.4 L189.7,177.2 L190.3,177.6 L190.9,178.4 L191.5,178.9 L192.2,179.8 L192.8,180.5 L193.4,181.4 L194.0,182.6 L194.7,183.6 L195.3,184.6 L195.9,185.1 L196.5,185.8 L197.2,186.8 L197.8,187.7 L198.4,188.7 L199.0,189.7 L199.7,191.0 L200.3,191.8 L200.9,192.7 L201.5,193.5 L202.1,194.5 L202.8,195.8 L203.4,196.6 L204.0,197.8 L204.6,198.4 L205.3,199.7 L205.9,200.2 L206.5,200.8 L207.1,200.8 L207.8,201.4 L208.4,202.2 L209.0,203.0 L209.6,203.3 L210.3,203.2 L210.9,203.5 L211.5,204.1 L212.1,204.7 L212.7,205.2 L213.4,205.3 L214.0,205.6 L214.6,205.9 L215.2,206.2 L215.9,206.8 L216.5,207.3 L217.1,207.5 L217.7,207.4 L218.4,207.6 L219.0,208.1 L219.6,208.5 L220.2,208.7 L220.9,209.2 L221.5,209.8 L222.1,210.2 L222.7,210.7 L223.3,211.1 L224.0,211.5 L224.6,211.9 L225.2,212.1 L225.8,212.6 L226.5,212.8 L227.1,213.0 L227.7,213.3 L228.3,213.9 L229.0,214.4 L229.6,214.8 L230.2,215.0 L230.8,214.8 L231.5,214.9 L232.1,215.1 L232.7,215.2 L233.3,215.3 L233.9,215.5 L234.6,215.9 L235.2,216.1 L235.8,216.0 L236.4,216.2 L237.1,216.5 L237.7,216.7 L238.3,217.2 L238.9,216.9 L239.6,217.2 L240.2,217.4 L240.8,217.5 L241.4,217.9 L242.0,218.1 L242.7,218.3 L243.3,218.4 L243.9,218.2 L244.5,218.7 L245.2,218.7 L245.8,218.7 L246.4,219.1 L247.0,218.8 L247.7,218.9 L248.3,218.8 L248.9,219.2 L249.5,219.4 L250.2,219.4 L250.8,219.5 L251.4,219.5 L252.0,219.7 L252.6,219.9 L253.3,220.1 L253.9,220.4 L254.5,220.4 L255.1,220.7 L255.8,221.0 L256.4,221.1 L257.0,221.2 L257.6,221.0 L258.3,221.1 L258.9,221.4 L259.5,221.5 L260.1,221.4 L260.8,221.3 L261.4,221.1 L262.0,221.7 L262.6,222.0 L263.2,222.5 L263.9,222.5 L264.5,222.2 L265.1,222.2 L265.7,222.2 L266.4,222.6 L267.0,222.4 L267.6,222.7 L268.2,222.9 L268.9,223.3 L269.5,223.1 L270.1,222.8 L270.7,222.6 L271.4,222.8 L272.0,222.9 L272.6,223.4 L273.2,222.9 L273.8,223.1 L274.5,223.2 L275.1,223.5 L275.7,223.6 L276.3,223.2 L277.0,223.3 L277.6,223.7 L278.2,223.9 L278.8,224.1 L279.5,224.0 L280.1,224.2 L280.7,224.3 L281.3,224.3 L282.0,224.2 L282.6,224.2 L283.2,224.3 L283.8,224.3 L284.4,224.5 L285.1,224.5 L285.7,224.8 L286.3,224.7 L286.9,225.0 L287.6,225.1 L288.2,225.2 L288.8,225.1 L289.4,225.2 L290.1,225.5 L290.7,225.5 L291.3,225.7 L291.9,225.7 L292.6,225.9 L293.2,226.0 L293.8,226.2 L294.4,226.4 L295.0,226.0 L295.7,226.0 L296.3,226.0 L296.9,226.5 L297.5,226.6 L298.2,226.7 L298.8,226.8 L299.4,227.1 L300.0,227.2 L300.7,227.3 L301.3,227.4 L301.9,227.4 L302.5,227.6 L303.2,227.4 L303.8,227.4 L304.4,227.3 L305.0,227.6 L305.6,227.7 L306.3,227.7 L306.9,227.7 L307.5,227.9 L308.1,227.9 L308.8,228.1 L309.4,228.1 L310.0,228.1 L310.6,228.1 L311.3,228.3 L311.9,228.5 L312.5,228.5" stroke="rgb(43,68,217)" stroke-width="0.68"/>
<path d="M38.2,-519.5 L38.3,-10.9 L38.5,89.3 L38.6,121.4 L38.8,134.1 L38.9,142.5 L39.1,149.9 L39.3,155.9 L39.4,160.9 L39.6,165.3 L39.7,169.4 L39.9,173.7 L40.0,177.6 L40.2,180.8 L40.3,183.6 L40.5,186.2 L40.7,189.4 L40.8,192.8 L41.0,196.0 L41.1,199.0 L41.3,201.5 L41.4,204.4 L41.6,206.8 L41.8,208.9 L41.9,210.4 L42.1,212.0 L42.2,213.3 L42.4,214.9 L42.5,216.2 L42.7,217.6 L42.8,218.7 L43.0,219.9 L43.2,220.6 L43.3,221.0 L43.5,221.5 L43.6,222.1 L43.8,222.8 L43.9,223.2 L44.1,223.8 L44.2,224.1 L44.4,224.3 L45.0,225.6 L45.6,226.5 L46.3,227.7 L46.9,228.3 L47.5,229.2 L48.1,229.6 L48.8,230.1 L49.4,230.4 L50.0,230.8 L50.6,230.8 L51.3,230.6 L51.9,230.9 L52.5,231.0 L53.1,231.5 L53.8,231.5 L54.4,231.7 L55.0,231.5 L55.6,231.6 L56.2,231.7 L56.9,231.7 L57.5,231.6 L58.1,231.5 L58.7,231.3 L59.4,230.9 L60.0,230.6 L60.6,230.6 L61.2,230.5 L61.9,230.5 L62.5,230.4 L63.1,230.3 L63.7,230.0 L64.4,229.8 L65.0,229.5 L65.6,229.5 L66.2,229.4 L66.8,229.2 L67.5,229.5 L68.1,229.9 L68.7,230.4 L69.3,230.9 L70.0,231.0 L70.6,231.2 L71.2,231.3 L71.8,231.9 L72.5,232.3 L73.1,232.6 L73.7,232.9 L74.3,233.4 L75.0,234.2 L75.6,234.4 L76.2,234.6 L76.8,234.7 L77.4,235.0 L78.1,235.1 L78.7,235.3 L79.3,235.6 L79.9,235.8 L80.6,235.5 L81.2,235.9 L81.8,236.0 L82.4,236.2 L83.1,235.7 L83.7,235.8 L84.3,236.1 L84.9,236.4 L85.6,236.1 L86.2,235.4 L86.8,234.8 L87.4,234.6 L88.0,234.5 L88.7,234.3 L89.3,233.9 L89.9,233.3 L90.5,232.9 L91.2,232.1 L91.8,231.5 L92.4,230.8 L93.0,230.0 L93.7,228.8 L94.3,227.6 L94.9,226.6 L95.5,225.4 L96.2,223.8 L96.8,222.3 L97.4,221.1 L98.0,220.1 L98.6,219.6 L99.3,219.2 L99.9,218.8 L100.5,218.0 L101.1,217.3 L101.8,216.5 L102.4,215.9 L103.0,215.2 L103.6,214.8 L104.3,214.2 L104.9,213.3 L105.5,212.4 L106.1,211.6 L106.8,211.1 L107.4,210.5 L108.0,209.8 L108.6,209.3 L109.2,208.5 L109.9,208.1 L110.5,207.8 L111.1,207.5 L111.7,206.9 L112.4,206.0 L113.0,205.3 L113.6,204.7 L114.2,204.2 L114.9,203.5 L115.5,202.9 L116.1,202.1 L116.7,201.9 L117.3,201.3 L118.0,200.9 L118.6,200.0 L119.2,199.5 L119.8,199.1 L120.5,198.8 L121.1,198.0 L121.7,197.3 L122.3,196.8 L123.0,196.3 L123.6,195.9 L124.2,195.2 L124.8,194.7 L125.5,194.2 L126.1,193.5 L126.7,192.9 L127.3,192.2 L127.9,191.5 L128.6,191.0 L129.2,190.7 L129.8,190.3 L130.4,189.6 L131.1,188.7 L131.7,187.9 L132.3,187.1 L132.9,186.5 L133.6,185.9 L134.2,185.5 L134.8,184.6 L135.4,184.0 L136.1,183.2 L136.7,182.8 L137.3,182.1 L137.9,180.9 L138.5,179.9 L139.2,179.4 L139.8,179.0 L140.4,178.4 L141.0,177.5 L141.7,176.9 L142.3,176.5 L142.9,176.0 L143.5,175.7 L144.2,175.4 L144.8,175.1 L145.4,174.7 L146.0,173.8 L146.7,173.1 L147.3,172.7 L147.9,172.5 L148.5,172.3 L149.1,172.0 L149.8,172.0 L150.4,171.7 L151.0,171.1 L151.6,170.6 L152.3,170.7 L152.9,170.5 L153.5,170.2 L154.1,169.7 L154.8,169.5 L155.4,169.4 L156.0,169.0 L156.6,168.8 L157.3,168.5 L157.9,168.4 L158.5,168.2 L159.1,168.2 L159.7,168.1 L160.4,168.0 L161.0,168.0 L161.6,167.9 L162.2,167.7 L162.9,167.4 L163.5,167.0 L164.1,166.7 L164.7,166.6 L165.4,166.6 L166.0,166.5 L166.6,166.4 L167.2,166.6 L167.9,166.9 L168.5,167.0 L169.1,167.0 L169.7,166.9 L170.3,166.7 L171.0,166.4 L171.6,166.4 L172.2,166.5 L172.8,166.6 L173.5,166.8 L174.1,166.9 L174.7,167.2 L175.3,167.3 L176.0,167.5 L176.6,167.5 L177.2,167.7 L177.8,167.7 L178.5,168.2 L179.1,168.8 L179.7,169.4 L180.3,169.6 L180.9,169.7 L181.6,170.2 L182.2,170.7 L182.8,171.3 L183.4,171.4 L184.1,171.6 L184.7,172.3 L185.3,173.0 L185.9,173.9 L186.6,174.2 L187.2,174.6 L187.8,175.2 L188.4,176.0 L189.1,176.7 L189.7,177.2 L190.3,177.9 L190.9,178.8 L191.5,179.7 L192.2,180.4 L192.8,181.1 L193.4,182.2 L194.0,183.1 L194.7,184.3 L195.3,185.0 L195.9,185.6 L196.5,186.5 L197.2,187.5 L197.8,188.5 L198.4,189.2 L199.0,190.4 L199.7,191.4 L200.3,192.6 L200.9,193.1 L201.5,194.3 L202.1,195.1 L202.8,196.2 L203.4,197.0 L204.0,197.7 L204.6,198.4 L205.3,199.1 L205.9,199.7 L206.5,200.3 L207.1,200.8 L207.8,201.5 L208.4,202.1 L209.0,202.6 L209.6,202.9 L210.3,203.3 L210.9,203.7 L211.5,204.0 L212.1,204.5 L212.7,204.8 L213.4,205.1 L214.0,205.6 L214.6,206.0 L215.2,206.2 L215.9,206.6 L216.5,206.7 L217.1,207.5 L217.7,207.6 L218.4,208.3 L219.0,208.6 L219.6,209.1 L220.2,209.4 L220.9,209.6 L221.5,209.8 L222.1,210.0 L222.7,210.5 L223.3,210.7 L224.0,211.1 L224.6,211.4 L225.2,212.2 L225.8,212.6 L226.5,212.8 L227.1,213.0 L227.7,213.3 L228.3,213.5 L229.0,213.8 L229.6,214.1 L230.2,214.4 L230.8,214.5 L231.5,214.9 L232.1,215.2 L232.7,215.5 L233.3,215.4 L233.9,215.2 L234.6,215.5 L235.2,216.0 L235.8,216.6 L236.4,216.9 L237.1,217.0 L237.7,217.0 L238.3,217.2 L238.9,217.2 L239.6,217.3 L240.2,217.1 L240.8,217.1 L241.4,217.2 L242.0,217.3 L242.7,217.8 L243.3,218.0 L243.9,218.5 L244.5,218.5 L245.2,218.5 L245.8,218.7 L246.4,218.6 L247.0,218.7 L247.7,218.8 L248.3,219.1 L248.9,219.5 L249.5,220.1 L250.2,220.3 L250.8,220.2 L251.4,219.9 L252.0,220.1 L252.6,220.4 L253.3,220.2 L253.9,220.1 L254.5,220.0 L255.1,220.4 L255.8,220.5 L256.4,220.5 L257.0,220.4 L257.6,220.7 L258.3,221.0 L258.9,221.3 L259.5,221.4 L260.1,221.4 L260.8,221.5 L261.4,221.5 L262.0,221.5 L262.6,221.5 L263.2,221.5 L263.9,221.8 L264.5,222.0 L265.1,222.2 L265.7,222.3 L266.4,222.6 L267.0,222.8 L267.6,222.9 L268.2,222.5 L268.9,222.5 L269.5,222.5 L270.1,222.7 L270.7,222.7 L271.4,222.8 L272.0,222.7 L272.6,222.7 L273.2,223.1 L273.8,223.2 L274.5,223.4 L275.1,223.0 L275.7,223.2 L276.3,223.3 L277.0,223.2 L277.6,223.0 L278.2,223.0 L278.8,223.2 L279.5,223.4 L280.1,223.6 L280.7,224.0 L281.3,223.9 L282.0,224.1 L282.6,224.0 L283.2,224.4 L283.8,224.4 L284.4,224.9 L285.1,225.0 L285.7,225.4 L286.3,225.3 L286.9,225.7 L287.6,225.9 L288.2,225.7 L288.8,225.6 L289.4,225.5 L290.1,225.7 L290.7,225.9 L291.3,226.1 L291.9,226.4 L292.6,226.4 L293.2,226.7 L293.8,226.6 L294.4,226.6 L295.0,226.1 L295.7,226.0 L296.3,226.1 L296.9,226.5 L297.5,226.7 L298.2,226.7 L298.8,226.6 L299.4,227.0 L300.0,227.1 L300.7,227.0 L301.3,226.8 L301.9,227.0 L302.5,227.2 L303.2,227.3 L303.8,227.3 L304.4,227.4 L305.0,227.4 L305.6,227.5 L306.3,227.6 L306.9,227.8 L307.5,228.1 L308.1,228.1 L308.8,228.1 L309.4,228.0 L310.0,228.4 L310.6,228.2 L311.3,228.3 L311.9,227.8 L312.5,228.1" stroke="rgb(54,92,211)" stroke-width="0.68"/>
<path d="M38.2,-518.8 L38.3,-10.3 L38.5,90.0 L38.6,121.5 L38.8,134.3 L38.9,142.2 L39.1,149.4 L39.3,155.3 L39.4,160.8 L39.6,165.6 L39.7,169.6 L39.9,173.0 L40.0,176.5 L40.2,179.7 L40.3,183.3 L40.5,186.7 L40.7,190.3 L40.8,193.5 L41.0,196.5 L41.1,199.1 L41.3,201.8 L41.4,204.2 L41.6,206.6 L41.8,208.5 L41.9,210.6 L42.1,211.8 L42.2,213.2 L42.4,214.7 L42.5,216.4 L42.7,217.4 L42.8,218.4 L43.0,219.1 L43.2,219.9 L43.3,220.8 L43.5,221.3 L43.6,222.1 L43.8,222.4 L43.9,223.1 L44.1,223.4 L44.2,223.6 L44.4,223.8 L45.0,225.2 L45.6,226.1 L46.3,226.7 L46.9,227.0 L47.5,227.6 L48.1,228.1 L48.8,228.6 L49.4,229.1 L50.0,229.6 L50.6,230.1 L51.3,230.2 L51.9,230.2 L52.5,230.7 L53.1,230.9 L53.8,231.0 L54.4,231.1 L55.0,231.3 L55.6,231.1 L56.2,231.0 L56.9,230.9 L57.5,231.0 L58.1,230.8 L58.7,230.7 L59.4,230.7 L60.0,230.5 L60.6,230.2 L61.2,229.9 L61.9,229.5 L62.5,229.1 L63.1,228.7 L63.7,228.6 L64.4,228.4 L65.0,228.4 L65.6,228.4 L66.2,228.5 L66.8,228.6 L67.5,228.9 L68.1,229.1 L68.7,229.4 L69.3,229.6 L70.0,230.1 L70.6,231.0 L71.2,231.1 L71.8,231.4 L72.5,231.7 L73.1,232.2 L73.7,232.7 L74.3,232.6 L75.0,233.0 L75.6,233.0 L76.2,233.3 L76.8,233.4 L77.4,233.8 L78.1,233.8 L78.7,234.2 L79.3,234.2 L79.9,234.4 L80.6,234.3 L81.2,234.6 L81.8,234.8 L82.4,234.7 L83.1,234.6 L83.7,234.6 L84.3,234.4 L84.9,234.3 L85.6,234.0 L86.2,233.7 L86.8,233.7 L87.4,233.5 L88.0,233.1 L88.7,232.7 L89.3,232.3 L89.9,232.2 L90.5,231.5 L91.2,230.9 L91.8,230.3 L92.4,229.8 L93.0,228.8 L93.7,227.9 L94.3,226.7 L94.9,225.5 L95.5,224.1 L96.2,222.7 L96.8,221.6 L97.4,220.5 L98.0,219.4 L98.6,218.5 L99.3,217.7 L99.9,217.2 L100.5,216.4 L101.1,215.8 L101.8,214.8 L102.4,214.2 L103.0,213.4 L103.6,212.8 L104.3,211.9 L104.9,211.0 L105.5,210.5 L106.1,209.9 L106.8,209.4 L107.4,208.4 L108.0,207.8 L108.6,207.3 L109.2,206.8 L109.9,206.4 L110.5,205.7 L111.1,204.8 L111.7,204.1 L112.4,203.7 L113.0,203.0 L113.6,202.5 L114.2,201.8 L114.9,201.6 L115.5,201.0 L116.1,200.3 L116.7,199.5 L117.3,198.8 L118.0,198.3 L118.6,197.8 L119.2,197.5 L119.8,196.9 L120.5,196.4 L121.1,195.7 L121.7,195.1 L122.3,194.2 L123.0,193.6 L123.6,192.9 L124.2,192.2 L124.8,191.4 L125.5,191.0 L126.1,190.6 L126.7,190.0 L127.3,189.5 L127.9,188.8 L128.6,188.0 L129.2,187.3 L129.8,186.7 L130.4,186.3 L131.1,185.6 L131.7,185.0 L132.3,184.4 L132.9,183.5 L133.6,182.7 L134.2,181.8 L134.8,181.0 L135.4,180.3 L136.1,179.5 L136.7,179.2 L137.3,178.5 L137.9,177.7 L138.5,176.8 L139.2,176.2 L139.8,175.9 L140.4,175.2 L141.0,174.6 L141.7,173.8 L142.3,173.3 L142.9,172.7 L143.5,172.4 L144.2,171.9 L144.8,171.4 L145.4,171.1 L146.0,170.8 L146.7,170.5 L147.3,170.1 L147.9,169.7 L148.5,169.3 L149.1,168.8 L149.8,168.6 L150.4,168.5 L151.0,168.4 L151.6,168.1 L152.3,167.9 L152.9,167.7 L153.5,167.7 L154.1,167.5 L154.8,167.3 L155.4,166.7 L156.0,166.5 L156.6,166.3 L157.3,166.5 L157.9,166.3 L158.5,166.3 L159.1,165.9 L159.7,165.8 L160.4,165.5 L161.0,165.6 L161.6,165.6 L162.2,165.9 L162.9,166.0 L163.5,166.0 L164.1,165.7 L164.7,165.6 L165.4,165.3 L166.0,165.6 L166.6,165.6 L167.2,165.8 L167.9,165.2 L168.5,165.3 L169.1,165.2 L169.7,165.5 L170.3,165.6 L171.0,165.8 L171.6,166.0 L172.2,165.9 L172.8,166.0 L173.5,166.2 L174.1,166.5 L174.7,166.7 L175.3,167.1 L176.0,167.7 L176.6,168.0 L177.2,168.2 L177.8,168.2 L178.5,168.5 L179.1,168.8 L179.7,169.4 L180.3,169.8 L180.9,170.3 L181.6,170.7 L182.2,171.3 L182.8,171.4 L183.4,171.8 L184.1,172.4 L184.7,173.1 L185.3,173.4 L185.9,173.9 L186.6,174.4 L187.2,175.3 L187.8,176.0 L188.4,177.0 L189.1,177.3 L189.7,177.9 L190.3,178.0 L190.9,178.9 L191.5,179.7 L192.2,181.1 L192.8,182.2 L193.4,183.2 L194.0,183.7 L194.7,184.5 L195.3,185.7 L195.9,186.5 L196.5,187.1 L197.2,187.8 L197.8,188.8 L198.4,189.8 L199.0,190.5 L199.7,191.9 L200.3,193.0 L200.9,194.3 L201.5,194.8 L202.1,195.7 L202.8,196.6 L203.4,197.6 L204.0,198.3 L204.6,199.2 L205.3,200.1 L205.9,200.9 L206.5,201.3 L207.1,201.7 L207.8,202.4 L208.4,203.0 L209.0,203.4 L209.6,203.5 L210.3,203.8 L210.9,204.1 L211.5,204.3 L212.1,204.5 L212.7,205.0 L213.4,205.7 L214.0,205.9 L214.6,206.1 L215.2,206.3 L215.9,206.8 L216.5,207.1 L217.1,207.4 L217.7,207.7 L218.4,208.0 L219.0,208.7 L219.6,208.9 L220.2,209.5 L220.9,209.5 L221.5,209.7 L222.1,210.0 L222.7,210.6 L223.3,211.2 L224.0,211.4 L224.6,211.5 L225.2,211.8 L225.8,212.2 L226.5,212.5 L227.1,212.8 L227.7,213.4 L228.3,214.0 L229.0,214.4 L229.6,214.4 L230.2,214.6 L230.8,214.5 L231.5,214.9 L232.1,214.8 L232.7,215.3 L233.3,215.2 L233.9,215.6 L234.6,215.5 L235.2,215.6 L235.8,215.6 L236.4,215.8 L237.1,216.4 L237.7,216.9 L238.3,217.7 L238.9,217.6 L239.6,217.4 L240.2,217.0 L240.8,217.5 L241.4,217.4 L242.0,217.8 L242.7,217.7 L243.3,218.5 L243.9,218.6 L244.5,218.7 L245.2,218.4 L245.8,218.6 L246.4,219.0 L247.0,219.1 L247.7,219.3 L248.3,219.3 L248.9,219.8 L249.5,219.6 L250.2,219.9 L250.8,219.6 L251.4,219.9 L252.0,220.0 L252.6,220.3 L253.3,220.5 L253.9,220.6 L254.5,220.8 L255.1,220.8 L255.8,220.8 L256.4,220.8 L257.0,220.6 L257.6,220.7 L258.3,220.6 L258.9,221.1 L259.5,221.2 L260.1,221.2 L260.8,221.0 L261.4,220.9 L262.0,221.0 L262.6,221.5 L263.2,221.7 L263.9,221.9 L264.5,221.8 L265.1,222.1 L265.7,222.3 L266.4,222.4 L267.0,222.0 L267.6,221.9 L268.2,222.0 L268.9,222.5 L269.5,223.0 L270.1,223.0 L270.7,223.0 L271.4,222.7 L272.0,222.9 L272.6,222.9 L273.2,223.3 L273.8,223.1 L274.5,223.3 L275.1,223.5 L275.7,223.6 L276.3,223.5 L277.0,223.6 L277.6,223.7 L278.2,223.8 L278.8,223.6 L279.5,223.8 L280.1,223.8 L280.7,223.9 L281.3,224.0 L282.0,224.0 L282.6,224.1 L283.2,224.0 L283.8,224.2 L284.4,224.3 L285.1,224.4 L285.7,224.6 L286.3,225.1 L286.9,225.3 L287.6,225.4 L288.2,225.3 L288.8,225.1 L289.4,225.3 L290.1,225.5 L290.7,225.7 L291.3,225.7 L291.9,225.5 L292.6,225.8 L293.2,226.1 L293.8,226.4 L294.4,226.2 L295.0,226.1 L295.7,226.1 L296.3,226.3 L296.9,226.6 L297.5,226.8 L298.2,227.0 L298.8,227.0 L299.4,227.2 L300.0,227.5 L300.7,227.8 L301.3,227.7 L301.9,227.4 L302.5,227.5 L303.2,227.6 L303.8,228.0 L304.4,228.0 L305.0,228.1 L305.6,228.0 L306.3,228.2 L306.9,227.8 L307.5,227.7 L308.1,227.7 L308.8,228.1 L309.4,228.1 L310.0,227.9 L310.6,227.8 L311.3,228.3 L311.9,228.4 L312.5,228.4" stroke="rgb(57,108,199)" stroke-width="0.68"/>
<path d="M38.2,-519.3 L38.3,-11.0 L38.5,89.8 L38.6,121.7 L38.8,134.8 L38.9,142.4 L39.1,149.6 L39.3,155.3 L39.4,160.5 L39.6,165.2 L39.7,169.6 L39.9,173.6 L40.0,176.9 L40.2,180.2 L40.3,183.4 L40.5,186.8 L40.7,189.9 L40.8,193.0 L41.0,195.8 L41.1,198.7 L41.3,201.4 L41.4,204.1 L41.6,206.4 L41.8,208.6 L41.9,210.3 L42.1,211.7 L42.2,213.1 L42.4,214.6 L42.5,215.7 L42.7,216.9 L42.8,218.2 L43.0,219.7 L43.2,220.0 L43.3,220.1 L43.5,220.7 L43.6,221.4 L43.8,222.2 L43.9,222.5 L44.1,223.3 L44.2,223.5 L44.4,223.9 L45.0,224.7 L45.6,225.8 L46.3,226.1 L46.9,226.6 L47.5,227.4 L48.1,228.2 L48.8,228.8 L49.4,229.4 L50.0,229.8 L50.6,230.1 L51.3,230.2 L51.9,230.4 L52.5,230.8 L53.1,230.5 L53.8,230.5 L54.4,230.1 L55.0,230.1 L55.6,230.0 L56.2,230.2 L56.9,230.1 L57.5,230.1 L58.1,230.1 L58.7,229.9 L59.4,229.5 L60.0,228.8 L60.6,228.8 L61.2,228.8 L61.9,229.2 L62.5,229.6 L63.1,229.4 L63.7,228.9 L64.4,228.3 L65.0,228.3 L65.6,228.1 L66.2,228.0 L66.8,227.8 L67.5,228.1 L68.1,228.3 L68.7,228.6 L69.3,229.1 L70.0,229.5 L70.6,230.0 L71.2,229.9 L71.8,230.3 L72.5,230.4 L73.1,230.8 L73.7,230.7 L74.3,231.4 L75.0,231.7 L75.6,232.1 L76.2,232.5 L76.8,232.8 L77.4,233.2 L78.1,233.3 L78.7,233.5 L79.3,233.7 L79.9,233.7 L80.6,233.6 L81.2,233.6 L81.8,233.8 L82.4,233.7 L83.1,233.6 L83.7,233.3 L84.3,233.4 L84.9,233.4 L85.6,233.2 L86.2,233.1 L86.8,232.8 L87.4,232.9 L88.0,232.8 L88.7,232.4 L89.3,231.4 L89.9,230.6 L90.5,229.6 L91.2,229.2 L91.8,228.4 L92.4,227.9 L93.0,227.0 L93.7,225.8 L94.3,224.4 L94.9,223.4 L95.5,222.6 L96.2,221.3 L96.8,220.1 L97.4,218.7 L98.0,218.0 L98.6,216.9 L99.3,216.0 L99.9,215.0 L100.5,214.3 L101.1,213.7 L101.8,213.1 L102.4,212.4 L103.0,211.5 L103.6,210.6 L104.3,209.8 L104.9,209.5 L105.5,209.1 L106.1,208.4 L106.8,207.5 L107.4,207.0 L108.0,206.3 L108.6,205.2 L109.2,204.5 L109.9,204.0 L110.5,203.5 L111.1,202.7 L111.7,202.2 L112.4,201.7 L113.0,201.0 L113.6,200.3 L114.2,199.5 L114.9,199.3 L115.5,198.4 L116.1,197.9 L116.7,197.0 L117.3,196.4 L118.0,195.8 L118.6,194.9 L119.2,194.4 L119.8,193.7 L120.5,193.5 L121.1,193.0 L121.7,192.3 L122.3,191.7 L123.0,191.0 L123.6,190.6 L124.2,189.7 L124.8,188.9 L125.5,187.9 L126.1,187.4 L126.7,186.8 L127.3,186.1 L127.9,184.9 L128.6,183.9 L129.2,183.5 L129.8,183.1 L130.4,182.5 L131.1,181.4 L131.7,180.6 L132.3,179.9 L132.9,179.3 L133.6,178.7 L134.2,178.0 L134.8,177.2 L135.4,176.4 L136.1,175.5 L136.7,175.3 L137.3,174.6 L137.9,173.8 L138.5,172.5 L139.2,171.6 L139.8,171.2 L140.4,170.9 L141.0,170.7 L141.7,170.0 L142.3,169.7 L142.9,169.3 L143.5,169.4 L144.2,168.8 L144.8,168.3 L145.4,167.7 L146.0,167.4 L146.7,166.8 L147.3,166.5 L147.9,166.2 L148.5,166.3 L149.1,166.4 L149.8,166.1 L150.4,165.4 L151.0,165.0 L151.6,165.0 L152.3,165.2 L152.9,165.1 L153.5,164.9 L154.1,165.1 L154.8,164.9 L155.4,164.5 L156.0,163.9 L156.6,163.7 L157.3,163.8 L157.9,163.9 L158.5,163.8 L159.1,163.8 L159.7,163.8 L160.4,164.0 L161.0,163.8 L161.6,164.0 L162.2,163.8 L162.9,163.9 L163.5,163.7 L164.1,163.7 L164.7,163.9 L165.4,164.2 L166.0,164.4 L166.6,164.5 L167.2,164.6 L167.9,164.7 L168.5,164.8 L169.1,164.8 L169.7,164.8 L170.3,164.9 L171.0,164.8 L171.6,164.8 L172.2,164.7 L172.8,164.9 L173.5,165.2 L174.1,165.7 L174.7,165.7 L175.3,166.0 L176.0,166.3 L176.6,167.1 L177.2,167.7 L177.8,168.2 L178.5,168.6 L179.1,169.1 L179.7,169.5 L180.3,170.2 L180.9,170.9 L181.6,171.6 L182.2,172.1 L182.8,172.3 L183.4,172.8 L184.1,173.2 L184.7,174.1 L185.3,174.2 L185.9,174.7 L186.6,175.1 L187.2,175.9 L187.8,176.4 L188.4,176.8 L189.1,177.6 L189.7,178.4 L190.3,179.1 L190.9,180.1 L191.5,181.2 L192.2,182.3 L192.8,182.8 L193.4,183.2 L194.0,184.0 L194.7,184.7 L195.3,185.6 L195.9,186.5 L196.5,187.7 L197.2,188.9 L197.8,189.8 L198.4,190.5 L199.0,191.3 L199.7,192.5 L200.3,193.9 L200.9,194.9 L201.5,195.6 L202.1,196.4 L202.8,197.2 L203.4,197.8 L204.0,198.3 L204.6,199.1 L205.3,199.8 L205.9,200.6 L206.5,201.2 L207.1,202.1 L207.8,202.2 L208.4,202.2 L209.0,202.5 L209.6,203.1 L210.3,203.7 L210.9,203.9 L211.5,204.2 L212.1,204.5 L212.7,205.0 L213.4,205.6 L214.0,206.2 L214.6,206.9 L215.2,207.1 L215.9,207.4 L216.5,207.4 L217.1,207.7 L217.7,208.1 L218.4,208.5 L219.0,208.8 L219.6,209.0 L220.2,209.4 L220.9,210.0 L221.5,210.3 L222.1,210.5 L222.7,210.7 L223.3,211.2 L224.0,211.4 L224.6,211.8 L225.2,211.8 L225.8,212.3 L226.5,212.7 L227.1,213.1 L227.7,213.3 L228.3,213.6 L229.0,214.1 L229.6,214.6 L230.2,214.7 L230.8,215.0 L231.5,214.8 L232.1,215.2 L232.7,215.2 L233.3,215.4 L233.9,215.5 L234.6,215.8 L235.2,216.2 L235.8,216.4 L236.4,216.9 L237.1,217.1 L237.7,217.2 L238.3,217.1 L238.9,217.0 L239.6,217.3 L240.2,217.5 L240.8,217.9 L241.4,217.9 L242.0,217.9 L242.7,217.8 L243.3,217.9 L243.9,218.3 L244.5,218.5 L245.2,218.9 L245.8,219.2 L246.4,219.4 L247.0,219.3 L247.7,219.0 L248.3,219.1 L248.9,219.4 L249.5,219.8 L250.2,220.0 L250.8,219.9 L251.4,219.8 L252.0,220.1 L252.6,220.3 L253.3,220.3 L253.9,220.0 L254.5,220.2 L255.1,220.2 L255.8,220.6 L256.4,220.7 L257.0,220.9 L257.6,221.1 L258.3,221.1 L258.9,221.3 L259.5,221.1 L260.1,221.0 L260.8,221.3 L261.4,221.8 L262.0,221.9 L262.6,222.2 L263.2,222.3 L263.9,222.2 L264.5,221.9 L265.1,221.5 L265.7,221.7 L266.4,222.1 L267.0,222.3 L267.6,222.7 L268.2,222.5 L268.9,222.5 L269.5,222.4 L270.1,222.5 L270.7,222.8 L271.4,222.7 L272.0,223.3 L272.6,223.4 L273.2,223.3 L273.8,223.3 L274.5,223.5 L275.1,223.8 L275.7,223.8 L276.3,223.7 L277.0,223.7 L277.6,223.5 L278.2,223.6 L278.8,223.8 L279.5,223.4 L280.1,223.7 L280.7,223.8 L281.3,224.3 L282.0,224.3 L282.6,224.3 L283.2,224.7 L283.8,224.7 L284.4,224.6 L285.1,224.5 L285.7,224.6 L286.3,224.8 L286.9,224.8 L287.6,225.0 L288.2,224.9 L288.8,225.4 L289.4,225.4 L290.1,225.5 L290.7,225.1 L291.3,225.4 L291.9,225.3 L292.6,225.7 L293.2,225.5 L293.8,225.8 L294.4,225.9 L295.0,226.6 L295.7,226.9 L296.3,226.9 L296.9,226.6 L297.5,226.3 L298.2,226.6 L298.8,226.6 L299.4,226.9 L300.0,226.9 L300.7,226.9 L301.3,226.8 L301.9,226.9 L302.5,227.2 L303.2,227.4 L303.8,227.4 L304.4,227.5 L305.0,227.7 L305.6,227.7 L306.3,227.9 L306.9,228.0 L307.5,227.9 L308.1,227.6 L308.8,227.2 L309.4,227.4 L310.0,227.8 L310.6,228.0 L311.3,227.9 L311.9,227.9 L312.5,228.0" stroke="rgb(60,125,185)" stroke-width="0.68"/>
<path d="M38.2,-519.5 L38.3,-11.0 L38.5,89.6 L38.6,121.6 L38.8,134.3 L38.9,142.2 L39.1,149.6 L39.3,155.5 L39.4,161.0 L39.6,165.5 L39.7,169.7 L39.9,173.2 L40.0,176.7 L40.2,179.9 L40.3,183.0 L40.5,186.2 L40.7,189.5 L40.8,192.7 L41.0,195.5 L41.1,198.5 L41.3,201.0 L41.4,203.9 L41.6,205.8 L41.8,207.9 L41.9,209.2 L42.1,211.1 L42.2,213.0 L42.4,214.9 L42.5,216.2 L42.7,216.8 L42.8,217.6 L43.0,218.3 L43.2,219.5 L43.3,220.3 L43.5,221.1 L43.6,221.3 L43.8,221.7 L43.9,222.1 L44.1,222.5 L44.2,222.9 L44.4,223.2 L45.0,224.8 L45.6,225.6 L46.3,226.2 L46.9,226.4 L47.5,227.1 L48.1,228.1 L48.8,228.7 L49.4,228.7 L50.0,228.7 L50.6,228.9 L51.3,229.2 L51.9,229.4 L52.5,229.8 L53.1,229.8 L53.8,229.3 L54.4,229.1 L55.0,229.1 L55.6,229.2 L56.2,229.0 L56.9,229.0 L57.5,228.5 L58.1,228.2 L58.7,227.7 L59.4,227.7 L60.0,227.3 L60.6,227.0 L61.2,226.6 L61.9,226.5 L62.5,226.1 L63.1,225.8 L63.7,225.3 L64.4,225.3 L65.0,225.1 L65.6,225.2 L66.2,224.7 L66.8,224.7 L67.5,224.6 L68.1,225.4 L68.7,225.8 L69.3,226.5 L70.0,226.8 L70.6,227.2 L71.2,227.2 L71.8,227.8 L72.5,228.0 L73.1,228.7 L73.7,229.0 L74.3,229.7 L75.0,230.0 L75.6,230.5 L76.2,230.7 L76.8,230.9 L77.4,231.4 L78.1,231.5 L78.7,231.9 L79.3,231.8 L79.9,232.0 L80.6,232.0 L81.2,232.3 L81.8,232.2 L82.4,232.5 L83.1,232.4 L83.7,232.2 L84.3,231.6 L84.9,231.8 L85.6,231.6 L86.2,231.8 L86.8,231.0 L87.4,230.9 L88.0,230.6 L88.7,230.2 L89.3,229.7 L89.9,229.2 L90.5,228.9 L91.2,228.3 L91.8,227.3 L92.4,226.6 L93.0,225.5 L93.7,225.1 L94.3,223.8 L94.9,223.0 L95.5,221.3 L96.2,220.1 L96.8,218.7 L97.4,217.6 L98.0,216.7 L98.6,216.2 L99.3,215.5 L99.9,215.0 L100.5,213.8 L101.1,213.2 L101.8,212.2 L102.4,211.8 L103.0,210.9 L103.6,210.2 L104.3,209.3 L104.9,208.8 L105.5,208.0 L106.1,207.5 L106.8,206.7 L107.4,206.6 L108.0,205.8 L108.6,205.0 L109.2,203.7 L109.9,203.0 L110.5,202.5 L111.1,202.1 L111.7,201.6 L112.4,201.1 L113.0,200.3 L113.6,199.7 L114.2,199.1 L114.9,198.4 L115.5,197.5 L116.1,196.8 L116.7,196.3 L117.3,195.6 L118.0,194.9 L118.6,193.9 L119.2,193.2 L119.8,192.4 L120.5,192.2 L121.1,191.3 L121.7,191.0 L122.3,190.1 L123.0,189.8 L123.6,189.0 L124.2,188.3 L124.8,187.7 L125.5,186.9 L126.1,186.0 L126.7,185.0 L127.3,184.1 L127.9,183.1 L128.6,182.4 L129.2,181.9 L129.8,181.0 L130.4,180.2 L131.1,179.7 L131.7,179.1 L132.3,178.3 L132.9,177.2 L133.6,176.6 L134.2,175.7 L134.8,174.8 L135.4,173.8 L136.1,173.0 L136.7,171.9 L137.3,171.0 L137.9,170.0 L138.5,168.8 L139.2,168.0 L139.8,167.4 L140.4,166.9 L141.0,166.1 L141.7,165.1 L142.3,164.7 L142.9,164.4 L143.5,164.2 L144.2,163.6 L144.8,163.5 L145.4,163.2 L146.0,162.8 L146.7,162.1 L147.3,161.5 L147.9,161.2 L148.5,161.0 L149.1,160.8 L149.8,160.4 L150.4,160.6 L151.0,160.6 L151.6,160.5 L152.3,159.9 L152.9,159.8 L153.5,159.7 L154.1,160.3 L154.8,160.0 L155.4,160.3 L156.0,159.9 L156.6,160.3 L157.3,160.5 L157.9,160.6 L158.5,160.5 L159.1,160.6 L159.7,160.5 L160.4,160.7 L161.0,160.6 L161.6,160.9 L162.2,161.1 L162.9,161.3 L163.5,161.6 L164.1,161.5 L164.7,161.9 L165.4,161.8 L166.0,162.3 L166.6,162.4 L167.2,162.8 L167.9,162.6 L168.5,162.6 L169.1,162.8 L169.7,163.1 L170.3,163.6 L171.0,163.8 L171.6,164.0 L172.2,164.1 L172.8,164.6 L173.5,165.4 L174.1,166.1 L174.7,166.7 L175.3,166.9 L176.0,167.4 L176.6,167.6 L177.2,168.0 L177.8,168.5 L178.5,169.2 L179.1,169.6 L179.7,170.3 L180.3,170.7 L180.9,171.4 L181.6,171.8 L182.2,172.4 L182.8,173.0 L183.4,173.5 L184.1,174.1 L184.7,174.4 L185.3,174.7 L185.9,175.7 L186.6,176.3 L187.2,177.2 L187.8,177.3 L188.4,177.9 L189.1,178.7 L189.7,179.7 L190.3,180.6 L190.9,181.1 L191.5,181.9 L192.2,182.4 L192.8,183.4 L193.4,184.4 L194.0,185.3 L194.7,186.1 L195.3,186.3 L195.9,187.1 L196.5,188.0 L197.2,189.2 L197.8,189.9 L198.4,190.6 L199.0,191.4 L199.7,192.4 L200.3,193.6 L200.9,194.5 L201.5,195.5 L202.1,196.5 L202.8,197.6 L203.4,198.2 L204.0,198.8 L204.6,199.4 L205.3,200.3 L205.9,200.7 L206.5,201.1 L207.1,201.4 L207.8,201.9 L208.4,202.5 L209.0,202.9 L209.6,203.1 L210.3,203.1 L210.9,203.3 L211.5,203.6 L212.1,204.0 L212.7,204.4 L213.4,204.7 L214.0,205.1 L214.6,205.9 L215.2,206.4 L215.9,207.0 L216.5,207.3 L217.1,207.4 L217.7,207.6 L218.4,207.9 L219.0,208.8 L219.6,209.2 L220.2,209.5 L220.9,209.7 L221.5,210.1 L222.1,210.6 L222.7,210.7 L223.3,211.4 L224.0,211.9 L224.6,212.2 L225.2,212.4 L225.8,212.6 L226.5,213.2 L227.1,213.3 L227.7,213.3 L228.3,213.5 L229.0,213.6 L229.6,214.0 L230.2,214.3 L230.8,214.4 L231.5,214.5 L232.1,214.7 L232.7,215.2 L233.3,215.7 L233.9,216.1 L234.6,216.3 L235.2,216.1 L235.8,216.5 L236.4,216.8 L237.1,216.8 L237.7,216.2 L238.3,216.5 L238.9,217.0 L239.6,217.2 L240.2,217.4 L240.8,217.4 L241.4,217.9 L242.0,217.8 L242.7,217.9 L243.3,217.7 L243.9,218.0 L244.5,218.4 L245.2,218.9 L245.8,218.8 L246.4,218.8 L247.0,218.4 L247.7,218.7 L248.3,218.8 L248.9,219.1 L249.5,218.9 L250.2,219.0 L250.8,219.1 L251.4,219.7 L252.0,220.0 L252.6,220.1 L253.3,219.9 L253.9,219.8 L254.5,219.9 L255.1,220.0 L255.8,220.1 L256.4,220.4 L257.0,220.6 L257.6,220.9 L258.3,221.1 L258.9,221.3 L259.5,221.1 L260.1,220.7 L260.8,220.5 L261.4,220.4 L262.0,221.0 L262.6,221.3 L263.2,221.7 L263.9,221.5 L264.5,221.2 L265.1,221.1 L265.7,221.3 L266.4,221.7 L267.0,222.0 L267.6,222.1 L268.2,222.1 L268.9,222.1 L269.5,222.4 L270.1,222.6 L270.7,222.7 L271.4,222.8 L272.0,222.7 L272.6,222.8 L273.2,222.6 L273.8,223.1 L274.5,223.2 L275.1,223.5 L275.7,223.6 L276.3,223.6 L277.0,223.6 L277.6,223.7 L278.2,223.9 L278.8,223.9 L279.5,223.8 L280.1,223.5 L280.7,224.0 L281.3,223.9 L282.0,224.2 L282.6,223.9 L283.2,224.2 L283.8,224.5 L284.4,225.0 L285.1,224.9 L285.7,225.0 L286.3,224.9 L286.9,224.8 L287.6,225.0 L288.2,225.0 L288.8,225.3 L289.4,225.3 L290.1,225.3 L290.7,225.5 L291.3,225.5 L291.9,225.8 L292.6,226.2 L293.2,226.1 L293.8,226.0 L294.4,225.9 L295.0,226.3 L295.7,226.2 L296.3,226.3 L296.9,226.5 L297.5,226.6 L298.2,226.8 L298.8,226.8 L299.4,227.0 L300.0,227.1 L300.7,227.1 L301.3,227.1 L301.9,226.9 L302.5,227.1 L303.2,226.9 L303.8,227.1 L304.4,227.2 L305.0,227.5 L305.6,227.6 L306.3,228.0 L306.9,227.9 L307.5,228.1 L308.1,228.1 L308.8,228.3 L309.4,228.2 L310.0,227.8 L310.6,227.8 L311.3,227.6 L311.9,227.8 L312.5,228.1" stroke="rgb(50,137,163)" stroke-width="0.68"/>
<path d="M38.2,-519.3 L38.3,-10.9 L38.5,89.8 L38.6,121.7 L38.8,134.3 L38.9,141.9 L39.1,149.2 L39.3,155.1 L39.4,160.2 L39.6,164.8 L39.7,169.3 L39.9,173.2 L40.0,176.7 L40.2,179.8 L40.3,182.9 L40.5,185.7 L40.7,188.9 L40.8,192.1 L41.0,195.3 L41.1,198.0 L41.3,200.6 L41.4,203.1 L41.6,205.3 L41.8,207.3 L41.9,209.1 L42.1,211.1 L42.2,212.9 L42.4,214.5 L42.5,215.5 L42.7,216.7 L42.8,217.5 L43.0,218.5 L43.2,219.1 L43.3,219.9 L43.5,220.4 L43.6,220.8 L43.8,221.3 L43.9,221.6 L44.1,222.2 L44.2,222.4 L44.4,223.0 L45.0,224.1 L45.6,224.9 L46.3,225.6 L46.9,225.9 L47.5,226.5 L48.1,227.0 L48.8,227.6 L49.4,227.5 L50.0,227.6 L50.6,227.7 L51.3,227.7 L51.9,227.8 L52.5,227.9 L53.1,228.0 L53.8,227.9 L54.4,227.7 L55.0,227.3 L55.6,227.3 L56.2,227.1 L56.9,227.0 L57.5,227.0 L58.1,226.7 L58.7,226.5 L59.4,225.8 L60.0,225.4 L60.6,225.1 L61.2,224.7 L61.9,224.3 L62.5,223.7 L63.1,223.5 L63.7,222.9 L64.4,222.4 L65.0,222.1 L65.6,221.6 L66.2,221.4 L66.8,221.0 L67.5,221.3 L68.1,221.5 L68.7,222.3 L69.3,223.1 L70.0,223.7 L70.6,224.2 L71.2,224.7 L71.8,225.2 L72.5,226.1 L73.1,226.8 L73.7,227.2 L74.3,227.5 L75.0,227.8 L75.6,228.4 L76.2,228.6 L76.8,228.9 L77.4,229.5 L78.1,229.8 L78.7,230.2 L79.3,230.0 L79.9,230.3 L80.6,230.3 L81.2,230.7 L81.8,230.5 L82.4,230.5 L83.1,230.4 L83.7,230.6 L84.3,230.6 L84.9,230.8 L85.6,230.6 L86.2,230.4 L86.8,230.3 L87.4,230.3 L88.0,229.9 L88.7,229.4 L89.3,228.8 L89.9,228.5 L90.5,228.1 L91.2,227.4 L91.8,226.6 L92.4,225.7 L93.0,224.9 L93.7,223.8 L94.3,222.7 L94.9,221.6 L95.5,220.7 L96.2,219.5 L96.8,218.5 L97.4,217.2 L98.0,215.9 L98.6,215.2 L99.3,214.6 L99.9,214.1 L100.5,213.4 L101.1,212.1 L101.8,211.4 L102.4,210.1 L103.0,209.8 L103.6,208.8 L104.3,208.2 L104.9,207.5 L105.5,206.9 L106.1,206.4 L106.8,205.8 L107.4,204.9 L108.0,204.3 L108.6,203.7 L109.2,202.8 L109.9,202.1 L110.5,201.2 L111.1,200.7 L111.7,200.1 L112.4,199.5 L113.0,198.8 L113.6,198.0 L114.2,197.2 L114.9,196.8 L115.5,196.0 L116.1,195.6 L116.7,194.8 L117.3,194.0 L118.0,193.0 L118.6,192.3 L119.2,191.7 L119.8,190.8 L120.5,190.0 L121.1,189.3 L121.7,189.0 L122.3,188.5 L123.0,187.8 L123.6,187.2 L124.2,186.3 L124.8,185.6 L125.5,184.7 L126.1,183.8 L126.7,182.8 L127.3,181.9 L127.9,181.0 L128.6,180.4 L129.2,179.3 L129.8,178.6 L130.4,177.8 L131.1,177.1 L131.7,175.7 L132.3,174.3 L132.9,172.9 L133.6,171.8 L134.2,170.7 L134.8,169.7 L135.4,168.8 L136.1,167.7 L136.7,166.6 L137.3,165.3 L137.9,164.2 L138.5,163.1 L139.2,162.1 L139.8,161.0 L140.4,160.2 L141.0,159.6 L141.7,159.0 L142.3,158.5 L142.9,157.9 L143.5,156.9 L144.2,155.9 L144.8,155.1 L145.4,154.6 L146.0,154.1 L146.7,154.1 L147.3,153.9 L147.9,153.5 L148.5,152.6 L149.1,152.2 L149.8,151.9 L150.4,152.0 L151.0,152.0 L151.6,152.5 L152.3,153.0 L152.9,153.2 L153.5,153.2 L154.1,153.3 L154.8,153.5 L155.4,153.7 L156.0,154.0 L156.6,154.3 L157.3,154.6 L157.9,155.1 L158.5,155.6 L159.1,155.8 L159.7,155.7 L160.4,155.7 L161.0,156.1 L161.6,156.5 L162.2,156.9 L162.9,157.2 L163.5,157.9 L164.1,158.3 L164.7,158.6 L165.4,158.7 L166.0,158.8 L166.6,159.5 L167.2,160.2 L167.9,160.5 L168.5,160.9 L169.1,161.5 L169.7,162.5 L170.3,162.8 L171.0,163.0 L171.6,163.6 L172.2,164.1 L172.8,164.3 L173.5,164.8 L174.1,165.5 L174.7,166.6 L175.3,167.3 L176.0,167.6 L176.6,168.3 L177.2,169.2 L177.8,170.3 L178.5,170.6 L179.1,170.9 L179.7,171.5 L180.3,172.2 L180.9,172.6 L181.6,173.1 L182.2,173.3 L182.8,174.1 L183.4,174.6 L184.1,175.5 L184.7,175.7 L185.3,176.5 L185.9,177.1 L186.6,178.0 L187.2,178.6 L187.8,179.2 L188.4,179.8 L189.1,180.4 L189.7,180.7 L190.3,181.5 L190.9,181.9 L191.5,183.0 L192.2,183.8 L192.8,185.0 L193.4,185.5 L194.0,186.1 L194.7,186.4 L195.3,187.2 L195.9,187.7 L196.5,188.5 L197.2,188.8 L197.8,189.6 L198.4,190.7 L199.0,192.3 L199.7,193.1 L200.3,193.8 L200.9,194.2 L201.5,195.4 L202.1,196.3 L202.8,197.5 L203.4,198.0 L204.0,198.8 L204.6,199.2 L205.3,199.9 L205.9,200.4 L206.5,201.0 L207.1,201.2 L207.8,201.2 L208.4,201.2 L209.0,201.5 L209.6,202.1 L210.3,202.7 L210.9,203.1 L211.5,203.6 L212.1,203.9 L212.7,204.2 L213.4,204.5 L214.0,204.9 L214.6,205.5 L215.2,206.0 L215.9,206.5 L216.5,206.8 L217.1,207.2 L217.7,207.5 L218.4,208.0 L219.0,208.2 L219.6,208.6 L220.2,208.8 L220.9,209.3 L221.5,209.9 L222.1,210.5 L222.7,211.2 L223.3,211.6 L224.0,211.7 L224.6,211.8 L225.2,211.7 L225.8,212.4 L226.5,212.6 L227.1,213.4 L227.7,213.6 L228.3,214.2 L229.0,214.0 L229.6,214.0 L230.2,213.9 L230.8,214.3 L231.5,214.4 L232.1,214.7 L232.7,214.8 L233.3,215.1 L233.9,215.2 L234.6,215.5 L235.2,215.6 L235.8,216.0 L236.4,216.2 L237.1,216.7 L237.7,216.9 L238.3,216.7 L238.9,216.6 L239.6,216.8 L240.2,217.3 L240.8,217.3 L241.4,217.0 L242.0,217.4 L242.7,217.9 L243.3,218.6 L243.9,218.6 L244.5,218.6 L245.2,218.2 L245.8,218.1 L246.4,218.2 L247.0,218.1 L247.7,218.4 L248.3,218.4 L248.9,218.8 L249.5,218.9 L250.2,219.1 L250.8,219.3 L251.4,219.3 L252.0,219.3 L252.6,219.5 L253.3,219.6 L253.9,219.7 L254.5,219.9 L255.1,219.8 L255.8,220.1 L256.4,220.1 L257.0,220.2 L257.6,220.4 L258.3,220.6 L258.9,220.8 L259.5,220.4 L260.1,220.7 L260.8,220.6 L261.4,221.3 L262.0,221.4 L262.6,221.9 L263.2,221.6 L263.9,221.8 L264.5,221.4 L265.1,221.4 L265.7,221.2 L266.4,221.6 L267.0,222.2 L267.6,222.5 L268.2,222.3 L268.9,222.0 L269.5,221.8 L270.1,222.1 L270.7,222.4 L271.4,222.7 L272.0,222.6 L272.6,222.6 L273.2,222.9 L273.8,223.2 L274.5,223.0 L275.1,223.3 L275.7,223.1 L276.3,223.5 L277.0,223.0 L277.6,223.2 L278.2,223.4 L278.8,223.7 L279.5,224.0 L280.1,224.0 L280.7,224.3 L281.3,224.2 L282.0,224.5 L282.6,224.3 L283.2,224.3 L283.8,224.0 L284.4,223.9 L285.1,224.2 L285.7,224.2 L286.3,224.7 L286.9,224.9 L287.6,225.1 L288.2,225.1 L288.8,225.3 L289.4,225.7 L290.1,225.8 L290.7,225.7 L291.3,225.6 L291.9,226.0 L292.6,226.2 L293.2,226.5 L293.8,226.2 L294.4,226.4 L295.0,226.4 L295.7,226.7 L296.3,226.7 L296.9,226.7 L297.5,226.5 L298.2,226.7 L298.8,226.9 L299.4,227.2 L300.0,226.8 L300.7,226.8 L301.3,226.7 L301.9,226.8 L302.5,227.4 L303.2,227.6 L303.8,227.9 L304.4,227.5 L305.0,227.4 L305.6,227.6 L306.3,227.7 L306.9,227.8 L307.5,227.6 L308.1,227.3 L308.8,227.5 L309.4,227.7 L310.0,228.4 L310.6,228.4 L311.3,228.4 L311.9,228.3 L312.5,228.3" stroke="rgb(39,148,138)" stroke-width="0.68"/>
<path d="M38.2,-518.5 L38.3,-10.4 L38.5,89.4 L38.6,120.7 L38.8,133.7 L38.9,142.1 L39.1,149.5 L39.3,155.4 L39.4,160.5 L39.6,165.0 L39.7,169.2 L39.9,172.9 L40.0,176.3 L40.2,179.7 L40.3,183.0 L40.5,186.2 L40.7,189.2 L40.8,192.5 L41.0,195.3 L41.1,198.0 L41.3,200.3 L41.4,202.9 L41.6,204.9 L41.8,206.9 L41.9,208.5 L42.1,210.5 L42.2,212.5 L42.4,213.7 L42.5,215.0 L42.7,215.7 L42.8,217.2 L43.0,218.3 L43.2,219.4 L43.3,220.1 L43.5,220.5 L43.6,220.7 L43.8,220.8 L43.9,220.8 L44.1,221.4 L44.2,221.8 L44.4,222.7 L45.0,224.1 L45.6,225.0 L46.3,225.7 L46.9,226.1 L47.5,226.7 L48.1,227.2 L48.8,227.2 L49.4,227.8 L50.0,227.8 L50.6,228.1 L51.3,227.6 L51.9,227.6 L52.5,227.8 L53.1,227.5 L53.8,226.9 L54.4,226.5 L55.0,226.7 L55.6,226.8 L56.2,226.7 L56.9,226.4 L57.5,225.9 L58.1,225.2 L58.7,224.9 L59.4,224.5 L60.0,224.3 L60.6,223.9 L61.2,223.6 L61.9,222.9 L62.5,222.0 L63.1,221.7 L63.7,221.2 L64.4,221.0 L65.0,220.5 L65.6,220.5 L66.2,220.4 L66.8,220.2 L67.5,220.2 L68.1,220.6 L68.7,221.1 L69.3,221.7 L70.0,221.9 L70.6,222.3 L71.2,222.9 L71.8,223.7 L72.5,224.2 L73.1,224.8 L73.7,225.4 L74.3,226.2 L75.0,226.5 L75.6,226.8 L76.2,227.2 L76.8,227.7 L77.4,227.9 L78.1,228.1 L78.7,228.3 L79.3,228.8 L79.9,229.0 L80.6,229.0 L81.2,229.1 L81.8,229.0 L82.4,229.2 L83.1,228.9 L83.7,229.3 L84.3,229.0 L84.9,229.1 L85.6,228.7 L86.2,228.7 L86.8,228.3 L87.4,228.2 L88.0,227.9 L88.7,227.8 L89.3,227.5 L89.9,227.3 L90.5,227.0 L91.2,226.3 L91.8,225.4 L92.4,224.3 L93.0,223.2 L93.7,222.2 L94.3,221.4 L94.9,220.2 L95.5,219.1 L96.2,217.9 L96.8,217.3 L97.4,216.1 L98.0,215.3 L98.6,214.1 L99.3,213.4 L99.9,212.7 L100.5,212.2 L101.1,211.3 L101.8,210.6 L102.4,209.9 L103.0,209.8 L103.6,208.7 L104.3,207.7 L104.9,206.6 L105.5,206.0 L106.1,205.6 L106.8,204.9 L107.4,204.3 L108.0,203.4 L108.6,202.5 L109.2,202.1 L109.9,202.0 L110.5,201.3 L111.1,200.1 L111.7,199.2 L112.4,198.7 L113.0,198.1 L113.6,197.0 L114.2,196.3 L114.9,195.5 L115.5,195.0 L116.1,194.1 L116.7,193.5 L117.3,192.8 L118.0,192.2 L118.6,191.6 L119.2,190.7 L119.8,189.9 L120.5,189.0 L121.1,188.4 L121.7,187.6 L122.3,186.9 L123.0,186.3 L123.6,186.0 L124.2,185.3 L124.8,184.3 L125.5,182.7 L126.1,181.5 L126.7,180.5 L127.3,179.5 L127.9,178.8 L128.6,177.9 L129.2,177.1 L129.8,175.9 L130.4,174.9 L131.1,173.8 L131.7,172.6 L132.3,171.1 L132.9,170.2 L133.6,168.8 L134.2,167.5 L134.8,166.0 L135.4,164.8 L136.1,163.6 L136.7,162.1 L137.3,160.6 L137.9,159.5 L138.5,158.3 L139.2,157.2 L139.8,156.6 L140.4,155.7 L141.0,154.9 L141.7,153.9 L142.3,153.3 L142.9,152.4 L143.5,151.6 L144.2,150.6 L144.8,150.0 L145.4,149.2 L146.0,148.9 L146.7,148.6 L147.3,148.4 L147.9,148.1 L148.5,147.9 L149.1,147.6 L149.8,147.4 L150.4,147.4 L151.0,147.7 L151.6,147.8 L152.3,148.5 L152.9,148.8 L153.5,149.4 L154.1,149.8 L154.8,150.4 L155.4,150.5 L156.0,150.5 L156.6,150.5 L157.3,151.1 L157.9,151.4 L158.5,152.0 L159.1,152.4 L159.7,152.8 L160.4,153.2 L161.0,153.9 L161.6,154.4 L162.2,155.0 L162.9,154.9 L163.5,155.5 L164.1,155.9 L164.7,157.0 L165.4,157.3 L166.0,157.8 L166.6,158.2 L167.2,159.0 L167.9,159.9 L168.5,160.0 L169.1,160.7 L169.7,161.0 L170.3,162.1 L171.0,162.2 L171.6,162.8 L172.2,163.2 L172.8,164.3 L173.5,165.4 L174.1,166.2 L174.7,166.9 L175.3,167.8 L176.0,168.5 L176.6,169.2 L177.2,169.8 L177.8,170.6 L178.5,171.3 L179.1,171.7 L179.7,172.3 L180.3,172.9 L180.9,173.8 L181.6,174.1 L182.2,174.7 L182.8,175.2 L183.4,175.9 L184.1,176.7 L184.7,177.2 L185.3,178.3 L185.9,178.8 L186.6,179.6 L187.2,179.9 L187.8,180.2 L188.4,180.4 L189.1,181.0 L189.7,181.5 L190.3,182.0 L190.9,182.4 L191.5,183.4 L192.2,184.4 L192.8,185.0 L193.4,185.6 L194.0,186.0 L194.7,186.8 L195.3,186.8 L195.9,187.5 L196.5,188.1 L197.2,189.2 L197.8,190.1 L198.4,191.1 L199.0,192.1 L199.7,192.7 L200.3,193.4 L200.9,194.2 L201.5,195.2 L202.1,196.2 L202.8,197.2 L203.4,198.0 L204.0,198.7 L204.6,199.3 L205.3,199.9 L205.9,200.3 L206.5,200.8 L207.1,201.0 L207.8,200.8 L208.4,200.6 L209.0,200.7 L209.6,201.3 L210.3,202.0 L210.9,202.5 L211.5,202.9 L212.1,203.2 L212.7,203.8 L213.4,204.4 L214.0,205.0 L214.6,205.1 L215.2,205.6 L215.9,205.8 L216.5,206.5 L217.1,207.0 L217.7,207.6 L218.4,207.9 L219.0,208.3 L219.6,208.6 L220.2,209.2 L220.9,209.5 L221.5,210.1 L222.1,210.4 L222.7,210.7 L223.3,211.3 L224.0,211.7 L224.6,212.1 L225.2,212.2 L225.8,212.1 L226.5,212.4 L227.1,212.7 L227.7,213.1 L228.3,213.4 L229.0,213.8 L229.6,214.0 L230.2,214.3 L230.8,214.2 L231.5,214.8 L232.1,214.8 L232.7,214.9 L233.3,214.8 L233.9,214.8 L234.6,215.4 L235.2,215.7 L235.8,216.2 L236.4,216.1 L237.1,216.1 L237.7,216.2 L238.3,216.3 L238.9,216.6 L239.6,216.6 L240.2,216.6 L240.8,216.8 L241.4,217.2 L242.0,217.6 L242.7,217.8 L243.3,217.8 L243.9,217.8 L244.5,217.7 L245.2,218.1 L245.8,218.2 L246.4,218.4 L247.0,218.2 L247.7,218.3 L248.3,218.3 L248.9,218.5 L249.5,218.8 L250.2,219.0 L250.8,218.9 L251.4,218.7 L252.0,218.7 L252.6,219.3 L253.3,219.4 L253.9,219.5 L254.5,219.4 L255.1,219.8 L255.8,219.9 L256.4,220.1 L257.0,219.9 L257.6,220.1 L258.3,220.0 L258.9,220.0 L259.5,220.6 L260.1,220.9 L260.8,221.2 L261.4,221.0 L262.0,221.2 L262.6,220.9 L263.2,221.2 L263.9,221.0 L264.5,221.4 L265.1,221.2 L265.7,221.6 L266.4,221.7 L267.0,222.0 L267.6,221.9 L268.2,221.9 L268.9,221.9 L269.5,222.2 L270.1,222.3 L270.7,222.4 L271.4,222.5 L272.0,222.5 L272.6,222.3 L273.2,222.6 L273.8,223.1 L274.5,223.5 L275.1,223.2 L275.7,222.9 L276.3,222.9 L277.0,223.3 L277.6,223.7 L278.2,223.6 L278.8,223.5 L279.5,223.1 L280.1,223.6 L280.7,223.6 L281.3,223.8 L282.0,223.7 L282.6,224.1 L283.2,224.4 L283.8,224.7 L284.4,224.6 L285.1,225.0 L285.7,225.2 L286.3,225.3 L286.9,225.5 L287.6,225.4 L288.2,225.3 L288.8,225.2 L289.4,225.4 L290.1,225.6 L290.7,225.5 L291.3,225.5 L291.9,225.4 L292.6,225.6 L293.2,225.7 L293.8,225.9 L294.4,225.9 L295.0,225.6 L295.7,225.7 L296.3,226.0 L296.9,226.5 L297.5,226.9 L298.2,226.9 L298.8,226.8 L299.4,226.9 L300.0,227.1 L300.7,227.1 L301.3,226.9 L301.9,226.9 L302.5,226.7 L303.2,226.9 L303.8,226.9 L304.4,227.4 L305.0,227.4 L305.6,227.6 L306.3,227.6 L306.9,228.0 L307.5,227.9 L308.1,227.6 L308.8,227.4 L309.4,227.6 L310.0,228.0 L310.6,228.1 L311.3,228.0 L311.9,228.0 L312.5,228.0" stroke="rgb(36,156,120)" stroke-width="0.68"/>
<path d="M38.2,-519.6 L38.3,-11.4 L38.5,89.3 L38.6,121.2 L38.8,134.2 L38.9,142.1 L39.1,149.3 L39.3,155.5 L39.4,160.8 L39.6,165.7 L39.7,169.9 L39.9,173.7 L40.0,177.0 L40.2,179.9 L40.3,183.0 L40.5,186.0 L40.7,189.0 L40.8,191.6 L41.0,194.6 L41.1,197.4 L41.3,200.1 L41.4,202.3 L41.6,204.7 L41.8,206.7 L41.9,208.5 L42.1,210.3 L42.2,211.9 L42.4,213.8 L42.5,214.9 L42.7,216.4 L42.8,217.1 L43.0,218.1 L43.2,218.6 L43.3,219.6 L43.5,220.0 L43.6,220.4 L43.8,220.8 L43.9,221.2 L44.1,221.7 L44.2,222.0 L44.4,222.6 L45.0,223.8 L45.6,224.7 L46.3,225.1 L46.9,225.6 L47.5,225.8 L48.1,226.4 L48.8,226.8 L49.4,227.3 L50.0,227.3 L50.6,227.4 L51.3,227.4 L51.9,227.2 L52.5,227.1 L53.1,227.1 L53.8,227.0 L54.4,226.7 L55.0,226.5 L55.6,226.3 L56.2,225.8 L56.9,225.3 L57.5,224.9 L58.1,224.8 L58.7,224.1 L59.4,223.4 L60.0,223.1 L60.6,222.7 L61.2,222.4 L61.9,221.7 L62.5,221.5 L63.1,221.0 L63.7,220.6 L64.4,220.1 L65.0,219.5 L65.6,218.7 L66.2,218.2 L66.8,218.2 L67.5,218.8 L68.1,219.1 L68.7,219.6 L69.3,220.2 L70.0,220.6 L70.6,221.1 L71.2,221.6 L71.8,222.5 L72.5,223.1 L73.1,223.4 L73.7,223.6 L74.3,224.3 L75.0,224.8 L75.6,225.4 L76.2,226.0 L76.8,226.2 L77.4,226.2 L78.1,226.3 L78.7,226.9 L79.3,227.1 L79.9,227.5 L80.6,227.6 L81.2,227.9 L81.8,227.6 L82.4,227.8 L83.1,228.0 L83.7,228.2 L84.3,228.1 L84.9,227.7 L85.6,227.7 L86.2,227.5 L86.8,227.5 L87.4,227.3 L88.0,227.3 L88.7,226.7 L89.3,226.3 L89.9,225.4 L90.5,225.0 L91.2,224.6 L91.8,224.1 L92.4,223.5 L93.0,222.3 L93.7,221.3 L94.3,220.6 L94.9,219.8 L95.5,218.8 L96.2,217.2 L96.8,216.1 L97.4,214.8 L98.0,214.1 L98.6,213.1 L99.3,212.6 L99.9,212.0 L100.5,211.3 L101.1,210.4 L101.8,209.5 L102.4,209.0 L103.0,208.4 L103.6,207.6 L104.3,206.6 L104.9,205.9 L105.5,205.4 L106.1,204.5 L106.8,203.6 L107.4,203.0 L108.0,202.2 L108.6,201.5 L109.2,200.4 L109.9,200.1 L110.5,199.6 L111.1,199.1 L111.7,198.4 L112.4,197.7 L113.0,197.1 L113.6,196.1 L114.2,194.9 L114.9,193.8 L115.5,193.3 L116.1,192.8 L116.7,192.2 L117.3,191.5 L118.0,190.8 L118.6,190.0 L119.2,189.2 L119.8,188.4 L120.5,187.6 L121.1,186.8 L121.7,185.8 L122.3,185.1 L123.0,184.4 L123.6,183.7 L124.2,182.5 L124.8,181.2 L125.5,180.1 L126.1,179.5 L126.7,178.8 L127.3,178.1 L127.9,176.8 L128.6,175.5 L129.2,174.2 L129.8,172.8 L130.4,171.3 L131.1,169.7 L131.7,168.4 L132.3,167.4 L132.9,165.8 L133.6,164.4 L134.2,162.1 L134.8,160.4 L135.4,158.7 L136.1,157.5 L136.7,156.3 L137.3,155.0 L137.9,153.7 L138.5,152.6 L139.2,151.3 L139.8,150.3 L140.4,149.5 L141.0,148.6 L141.7,147.6 L142.3,146.3 L142.9,145.4 L143.5,144.7 L144.2,144.2 L144.8,143.9 L145.4,143.0 L146.0,141.9 L146.7,141.0 L147.3,140.9 L147.9,141.0 L148.5,141.2 L149.1,141.5 L149.8,141.7 L150.4,142.1 L151.0,142.2 L151.6,142.8 L152.3,142.9 L152.9,143.5 L153.5,144.0 L154.1,145.2 L154.8,145.9 L155.4,146.4 L156.0,146.4 L156.6,146.8 L157.3,147.0 L157.9,147.7 L158.5,148.5 L159.1,149.3 L159.7,150.0 L160.4,150.4 L161.0,151.3 L161.6,151.6 L162.2,152.4 L162.9,152.9 L163.5,154.0 L164.1,154.4 L164.7,155.4 L165.4,155.7 L166.0,156.4 L166.6,156.9 L167.2,157.7 L167.9,158.4 L168.5,159.0 L169.1,159.7 L169.7,160.5 L170.3,161.2 L171.0,162.0 L171.6,163.0 L172.2,164.2 L172.8,165.5 L173.5,166.6 L174.1,167.1 L174.7,167.7 L175.3,168.5 L176.0,169.4 L176.6,170.0 L177.2,170.6 L177.8,171.4 L178.5,172.1 L179.1,172.9 L179.7,173.5 L180.3,174.0 L180.9,174.1 L181.6,175.0 L182.2,175.9 L182.8,177.1 L183.4,177.5 L184.1,177.8 L184.7,177.8 L185.3,178.1 L185.9,179.1 L186.6,180.5 L187.2,181.6 L187.8,181.9 L188.4,182.0 L189.1,182.2 L189.7,182.7 L190.3,183.3 L190.9,183.6 L191.5,184.4 L192.2,184.8 L192.8,185.7 L193.4,186.1 L194.0,186.6 L194.7,186.9 L195.3,187.5 L195.9,188.2 L196.5,188.7 L197.2,189.5 L197.8,190.4 L198.4,191.2 L199.0,191.6 L199.7,192.4 L200.3,193.3 L200.9,194.4 L201.5,195.6 L202.1,196.5 L202.8,197.7 L203.4,198.1 L204.0,198.8 L204.6,199.4 L205.3,200.1 L205.9,200.4 L206.5,200.6 L207.1,200.8 L207.8,200.5 L208.4,200.6 L209.0,200.2 L209.6,200.5 L210.3,200.7 L210.9,201.4 L211.5,202.4 L212.1,202.8 L212.7,203.4 L213.4,203.7 L214.0,204.2 L214.6,204.5 L215.2,204.9 L215.9,205.4 L216.5,205.8 L217.1,206.6 L217.7,207.0 L218.4,207.9 L219.0,208.2 L219.6,209.3 L220.2,209.4 L220.9,209.5 L221.5,209.7 L222.1,210.3 L222.7,211.0 L223.3,211.2 L224.0,211.2 L224.6,211.7 L225.2,211.6 L225.8,211.9 L226.5,212.1 L227.1,212.5 L227.7,212.9 L228.3,213.2 L229.0,213.7 L229.6,213.7 L230.2,213.9 L230.8,214.1 L231.5,214.5 L232.1,214.9 L232.7,214.9 L233.3,215.1 L233.9,215.3 L234.6,215.6 L235.2,215.8 L235.8,216.0 L236.4,216.1 L237.1,216.3 L237.7,216.2 L238.3,216.5 L238.9,216.4 L239.6,216.7 L240.2,216.7 L240.8,216.8 L241.4,216.8 L242.0,216.8 L242.7,217.0 L243.3,217.4 L243.9,217.4 L244.5,217.5 L245.2,217.5 L245.8,218.1 L246.4,218.2 L247.0,218.5 L247.7,218.5 L248.3,218.5 L248.9,218.4 L249.5,218.1 L250.2,218.2 L250.8,218.0 L251.4,218.6 L252.0,219.0 L252.6,219.5 L253.3,219.4 L253.9,219.5 L254.5,219.4 L255.1,219.7 L255.8,219.4 L256.4,219.7 L257.0,219.8 L257.6,219.9 L258.3,220.2 L258.9,220.2 L259.5,220.4 L260.1,220.3 L260.8,220.5 L261.4,220.5 L262.0,220.4 L262.6,220.3 L263.2,220.4 L263.9,220.8 L264.5,221.0 L265.1,221.2 L265.7,220.9 L266.4,221.0 L267.0,221.1 L267.6,221.7 L268.2,221.9 L268.9,222.0 L269.5,222.0 L270.1,222.4 L270.7,222.6 L271.4,222.4 L272.0,222.3 L272.6,222.4 L273.2,222.7 L273.8,222.6 L274.5,222.7 L275.1,222.8 L275.7,223.4 L276.3,223.6 L277.0,224.0 L277.6,223.6 L278.2,223.6 L278.8,223.4 L279.5,224.0 L280.1,224.3 L280.7,224.5 L281.3,224.2 L282.0,223.8 L282.6,223.7 L283.2,224.0 L283.8,224.6 L284.4,225.1 L285.1,224.8 L285.7,224.6 L286.3,224.5 L286.9,224.7 L287.6,224.9 L288.2,225.1 L288.8,225.1 L289.4,225.6 L290.1,225.4 L290.7,225.8 L291.3,225.7 L291.9,225.8 L292.6,226.1 L293.2,225.8 L293.8,226.0 L294.4,226.3 L295.0,226.7 L295.7,226.8 L296.3,226.6 L296.9,226.7 L297.5,226.9 L298.2,226.9 L298.8,226.6 L299.4,226.6 L300.0,226.6 L300.7,226.8 L301.3,226.8 L301.9,226.9 L302.5,227.1 L303.2,227.2 L303.8,227.2 L304.4,227.2 L305.0,227.4 L305.6,227.4 L306.3,227.4 L306.9,227.8 L307.5,227.9 L308.1,228.0 L308.8,227.9 L309.4,228.1 L310.0,228.1 L310.6,228.1 L311.3,227.9 L311.9,228.0 L312.5,228.0" stroke="rgb(35,164,103)" stroke-width="0.68"/>
<path d="M38.2,-519.1 L38.3,-10.8 L38.5,89.5 L38.6,121.3 L38.8,134.0 L38.9,142.0 L39.1,149.4 L39.3,155.6 L39.4,160.9 L39.6,165.2 L39.7,169.4 L39.9,172.9 L40.0,176.5 L40.2,179.4 L40.3,182.6 L40.5,185.5 L40.7,188.6 L40.8,191.1 L41.0,193.8 L41.1,196.5 L41.3,199.8 L41.4,202.1 L41.6,204.5 L41.8,206.1 L41.9,207.8 L42.1,209.7 L42.2,211.5 L42.4,213.1 L42.5,214.1 L42.7,215.3 L42.8,216.9 L43.0,218.2 L43.2,219.1 L43.3,219.5 L43.5,219.8 L43.6,220.2 L43.8,220.6 L43.9,221.1 L44.1,221.6 L44.2,222.0 L44.4,222.7 L45.0,223.8 L45.6,224.6 L46.3,224.9 L46.9,225.1 L47.5,225.9 L48.1,226.3 L48.8,227.0 L49.4,227.0 L50.0,227.6 L50.6,227.5 L51.3,227.6 L51.9,227.4 L52.5,227.3 L53.1,226.8 L53.8,226.1 L54.4,225.6 L55.0,225.7 L55.6,225.6 L56.2,225.3 L56.9,224.5 L57.5,223.8 L58.1,223.1 L58.7,223.0 L59.4,222.5 L60.0,222.0 L60.6,221.4 L61.2,220.9 L61.9,220.4 L62.5,219.9 L63.1,219.5 L63.7,218.9 L64.4,218.4 L65.0,217.7 L65.6,217.4 L66.2,217.2 L66.8,217.1 L67.5,217.1 L68.1,217.0 L68.7,217.3 L69.3,217.8 L70.0,218.3 L70.6,218.8 L71.2,219.6 L71.8,220.2 L72.5,221.1 L73.1,221.7 L73.7,222.3 L74.3,222.7 L75.0,223.4 L75.6,223.9 L76.2,224.3 L76.8,224.2 L77.4,224.7 L78.1,225.3 L78.7,225.7 L79.3,225.9 L79.9,225.8 L80.6,226.2 L81.2,226.4 L81.8,226.7 L82.4,226.8 L83.1,226.9 L83.7,226.7 L84.3,226.8 L84.9,226.8 L85.6,226.8 L86.2,226.2 L86.8,226.3 L87.4,226.3 L88.0,226.7 L88.7,225.9 L89.3,225.4 L89.9,224.9 L90.5,224.3 L91.2,223.9 L91.8,222.7 L92.4,221.9 L93.0,220.7 L93.7,220.1 L94.3,219.1 L94.9,218.1 L95.5,217.2 L96.2,216.3 L96.8,215.3 L97.4,214.2 L98.0,213.3 L98.6,212.4 L99.3,211.7 L99.9,211.0 L100.5,210.1 L101.1,209.7 L101.8,209.0 L102.4,208.7 L103.0,207.5 L103.6,206.7 L104.3,205.6 L104.9,205.1 L105.5,204.1 L106.1,203.3 L106.8,202.3 L107.4,201.3 L108.0,200.4 L108.6,199.7 L109.2,199.4 L109.9,198.9 L110.5,198.0 L111.1,197.0 L111.7,195.9 L112.4,195.5 L113.0,194.5 L113.6,193.9 L114.2,192.9 L114.9,192.3 L115.5,191.5 L116.1,190.6 L116.7,189.5 L117.3,188.6 L118.0,187.7 L118.6,187.0 L119.2,186.3 L119.8,185.8 L120.5,184.9 L121.1,183.8 L121.7,182.4 L122.3,181.4 L123.0,180.6 L123.6,179.9 L124.2,178.7 L124.8,177.6 L125.5,176.3 L126.1,175.7 L126.7,174.6 L127.3,172.9 L127.9,171.1 L128.6,169.4 L129.2,168.2 L129.8,166.4 L130.4,164.7 L131.1,162.9 L131.7,161.2 L132.3,159.3 L132.9,157.0 L133.6,154.9 L134.2,152.8 L134.8,151.1 L135.4,149.2 L136.1,147.4 L136.7,146.0 L137.3,144.9 L137.9,143.9 L138.5,142.5 L139.2,141.0 L139.8,139.2 L140.4,138.0 L141.0,136.7 L141.7,135.9 L142.3,134.8 L142.9,134.0 L143.5,133.2 L144.2,132.5 L144.8,132.0 L145.4,131.5 L146.0,131.2 L146.7,130.7 L147.3,130.8 L147.9,131.2 L148.5,131.7 L149.1,132.2 L149.8,132.9 L150.4,133.6 L151.0,134.8 L151.6,135.5 L152.3,136.3 L152.9,137.1 L153.5,137.9 L154.1,138.6 L154.8,139.2 L155.4,139.8 L156.0,140.6 L156.6,141.0 L157.3,142.0 L157.9,143.0 L158.5,143.9 L159.1,144.6 L159.7,145.5 L160.4,146.7 L161.0,147.6 L161.6,148.4 L162.2,149.2 L162.9,150.4 L163.5,151.3 L164.1,152.7 L164.7,153.5 L165.4,154.6 L166.0,154.8 L166.6,155.6 L167.2,156.2 L167.9,157.3 L168.5,158.5 L169.1,159.7 L169.7,160.7 L170.3,161.6 L171.0,162.6 L171.6,163.3 L172.2,164.4 L172.8,165.5 L173.5,167.0 L174.1,167.8 L174.7,168.8 L175.3,169.8 L176.0,170.5 L176.6,171.3 L177.2,172.0 L177.8,172.9 L178.5,173.6 L179.1,174.4 L179.7,175.2 L180.3,175.9 L180.9,176.5 L181.6,177.3 L182.2,177.8 L182.8,178.6 L183.4,178.9 L184.1,179.3 L184.7,179.8 L185.3,180.4 L185.9,181.4 L186.6,182.3 L187.2,183.6 L187.8,184.5 L188.4,185.0 L189.1,185.1 L189.7,185.0 L190.3,185.4 L190.9,185.9 L191.5,186.6 L192.2,187.0 L192.8,187.3 L193.4,187.1 L194.0,187.4 L194.7,187.9 L195.3,188.5 L195.9,188.8 L196.5,189.3 L197.2,189.9 L197.8,190.4 L198.4,191.0 L199.0,192.1 L199.7,192.9 L200.3,193.7 L200.9,194.4 L201.5,195.1 L202.1,196.0 L202.8,197.1 L203.4,198.0 L204.0,198.9 L204.6,199.5 L205.3,200.1 L205.9,200.4 L206.5,200.2 L207.1,200.2 L207.8,199.7 L208.4,199.5 L209.0,199.0 L209.6,199.3 L210.3,199.8 L210.9,200.5 L211.5,201.3 L212.1,201.8 L212.7,202.6 L213.4,203.0 L214.0,203.5 L214.6,204.1 L215.2,204.8 L215.9,205.4 L216.5,206.0 L217.1,206.3 L217.7,207.0 L218.4,207.6 L219.0,208.2 L219.6,208.5 L220.2,208.9 L220.9,209.0 L221.5,209.5 L222.1,209.6 L222.7,210.1 L223.3,210.4 L224.0,210.9 L224.6,211.5 L225.2,212.2 L225.8,212.4 L226.5,212.6 L227.1,212.7 L227.7,213.0 L228.3,213.0 L229.0,213.4 L229.6,213.9 L230.2,214.1 L230.8,214.2 L231.5,214.4 L232.1,214.8 L232.7,214.7 L233.3,214.8 L233.9,214.7 L234.6,215.3 L235.2,215.5 L235.8,215.8 L236.4,215.9 L237.1,215.6 L237.7,215.8 L238.3,215.8 L238.9,216.0 L239.6,216.3 L240.2,216.6 L240.8,216.9 L241.4,216.8 L242.0,217.0 L242.7,216.9 L243.3,216.8 L243.9,216.9 L244.5,216.9 L245.2,217.2 L245.8,217.3 L246.4,217.6 L247.0,217.8 L247.7,218.2 L248.3,218.1 L248.9,218.0 L249.5,217.6 L250.2,217.7 L250.8,218.0 L251.4,218.2 L252.0,218.5 L252.6,218.6 L253.3,218.8 L253.9,218.7 L254.5,218.3 L255.1,218.4 L255.8,218.6 L256.4,219.1 L257.0,219.3 L257.6,219.5 L258.3,219.6 L258.9,219.3 L259.5,219.4 L260.1,219.2 L260.8,219.9 L261.4,220.0 L262.0,220.3 L262.6,220.5 L263.2,220.8 L263.9,220.8 L264.5,221.1 L265.1,220.7 L265.7,220.9 L266.4,220.9 L267.0,221.2 L267.6,221.3 L268.2,221.1 L268.9,221.7 L269.5,221.7 L270.1,222.1 L270.7,222.2 L271.4,222.4 L272.0,222.7 L272.6,222.7 L273.2,222.8 L273.8,222.9 L274.5,223.2 L275.1,223.2 L275.7,223.3 L276.3,223.0 L277.0,223.1 L277.6,223.2 L278.2,223.4 L278.8,223.6 L279.5,223.8 L280.1,223.8 L280.7,223.8 L281.3,223.8 L282.0,224.0 L282.6,224.1 L283.2,224.3 L283.8,224.5 L284.4,224.5 L285.1,224.5 L285.7,224.8 L286.3,225.1 L286.9,225.2 L287.6,225.2 L288.2,225.2 L288.8,225.1 L289.4,225.5 L290.1,225.8 L290.7,225.8 L291.3,225.9 L291.9,225.8 L292.6,226.3 L293.2,226.2 L293.8,226.1 L294.4,226.1 L295.0,226.2 L295.7,226.4 L296.3,226.4 L296.9,226.5 L297.5,226.5 L298.2,226.8 L298.8,226.7 L299.4,226.8 L300.0,226.6 L300.7,227.0 L301.3,227.3 L301.9,227.3 L302.5,227.1 L303.2,227.2 L303.8,227.5 L304.4,227.5 L305.0,227.5 L305.6,227.4 L306.3,227.5 L306.9,227.4 L307.5,227.5 L308.1,227.5 L308.8,227.6 L309.4,227.7 L310.0,227.8 L310.6,228.0 L311.3,228.2 L311.9,228.1 L312.5,228.0" stroke="rgb(35,177,80)" stroke-width="0.68"/>
<path d="M38.2,-519.3 L38.3,-10.9 L38.5,89.4 L38.6,121.3 L38.8,134.1 L38.9,142.1 L39.1,149.4 L39.3,155.4 L39.4,160.8 L39.6,165.4 L39.7,169.6 L39.9,173.4 L40.0,177.1 L40.2,180.0 L40.3,182.9 L40.5,185.6 L40.7,188.6 L40.8,191.3 L41.0,193.9 L41.1,196.4 L41.3,198.9 L41.4,200.9 L41.6,203.2 L41.8,205.4 L41.9,208.1 L42.1,210.1 L42.2,211.4 L42.4,212.2 L42.5,213.4 L42.7,215.1 L42.8,216.6 L43.0,218.0 L43.2,218.9 L43.3,219.6 L43.5,219.5 L43.6,220.1 L43.8,220.4 L43.9,221.0 L44.1,221.0 L44.2,221.5 L44.4,222.1 L45.0,223.7 L45.6,224.4 L46.3,224.8 L46.9,225.0 L47.5,225.6 L48.1,226.4 L48.8,226.7 L49.4,226.9 L50.0,226.9 L50.6,226.9 L51.3,226.7 L51.9,226.4 L52.5,226.3 L53.1,226.0 L53.8,225.6 L54.4,225.1 L55.0,224.9 L55.6,224.6 L56.2,224.2 L56.9,224.0 L57.5,223.5 L58.1,223.2 L58.7,222.4 L59.4,222.0 L60.0,221.2 L60.6,220.3 L61.2,219.6 L61.9,219.2 L62.5,218.8 L63.1,218.3 L63.7,218.0 L64.4,217.8 L65.0,217.5 L65.6,216.5 L66.2,216.0 L66.8,215.6 L67.5,215.6 L68.1,215.9 L68.7,216.1 L69.3,216.6 L70.0,216.9 L70.6,217.6 L71.2,218.7 L71.8,219.4 L72.5,220.4 L73.1,220.7 L73.7,221.2 L74.3,221.5 L75.0,221.9 L75.6,222.6 L76.2,222.9 L76.8,223.0 L77.4,223.1 L78.1,223.7 L78.7,224.3 L79.3,224.8 L79.9,224.8 L80.6,225.3 L81.2,225.4 L81.8,225.6 L82.4,225.7 L83.1,225.7 L83.7,225.4 L84.3,225.0 L84.9,225.4 L85.6,225.4 L86.2,225.4 L86.8,224.9 L87.4,224.8 L88.0,224.5 L88.7,224.1 L89.3,223.8 L89.9,223.4 L90.5,223.0 L91.2,222.5 L91.8,221.9 L92.4,221.2 L93.0,220.5 L93.7,219.6 L94.3,218.8 L94.9,217.4 L95.5,216.3 L96.2,214.8 L96.8,214.1 L97.4,212.9 L98.0,212.1 L98.6,211.2 L99.3,210.4 L99.9,209.9 L100.5,209.2 L101.1,208.8 L101.8,207.9 L102.4,206.9 L103.0,205.7 L103.6,205.1 L104.3,204.7 L104.9,204.1 L105.5,203.3 L106.1,202.4 L106.8,201.5 L107.4,200.2 L108.0,199.3 L108.6,198.5 L109.2,197.9 L109.9,196.9 L110.5,195.8 L111.1,194.9 L111.7,194.2 L112.4,193.2 L113.0,192.5 L113.6,191.7 L114.2,191.2 L114.9,190.3 L115.5,189.1 L116.1,188.4 L116.7,187.5 L117.3,186.8 L118.0,185.8 L118.6,185.2 L119.2,184.3 L119.8,183.5 L120.5,181.8 L121.1,180.9 L121.7,179.7 L122.3,178.8 L123.0,177.6 L123.6,176.4 L124.2,175.2 L124.8,173.5 L125.5,172.1 L126.1,170.7 L126.7,169.3 L127.3,167.9 L127.9,166.2 L128.6,164.4 L129.2,162.4 L129.8,160.3 L130.4,157.9 L131.1,155.9 L131.7,153.5 L132.3,151.4 L132.9,149.0 L133.6,146.6 L134.2,144.7 L134.8,142.7 L135.4,141.5 L136.1,140.0 L136.7,138.7 L137.3,136.9 L137.9,134.9 L138.5,133.4 L139.2,131.7 L139.8,130.4 L140.4,128.7 L141.0,127.5 L141.7,126.3 L142.3,125.4 L142.9,124.9 L143.5,124.1 L144.2,123.2 L144.8,122.4 L145.4,122.3 L146.0,122.5 L146.7,122.8 L147.3,123.6 L147.9,124.4 L148.5,125.4 L149.1,126.1 L149.8,126.7 L150.4,127.9 L151.0,129.1 L151.6,130.5 L152.3,131.6 L152.9,132.3 L153.5,133.0 L154.1,133.8 L154.8,134.9 L155.4,135.8 L156.0,136.8 L156.6,137.7 L157.3,138.9 L157.9,140.1 L158.5,141.2 L159.1,142.2 L159.7,143.3 L160.4,144.7 L161.0,145.5 L161.6,146.6 L162.2,147.6 L162.9,149.1 L163.5,150.2 L164.1,151.2 L164.7,152.2 L165.4,153.1 L166.0,154.1 L166.6,155.1 L167.2,156.3 L167.9,157.1 L168.5,158.3 L169.1,159.3 L169.7,161.0 L170.3,162.1 L171.0,163.0 L171.6,163.9 L172.2,165.1 L172.8,166.5 L173.5,167.4 L174.1,168.5 L174.7,169.7 L175.3,170.9 L176.0,171.9 L176.6,172.6 L177.2,173.7 L177.8,174.4 L178.5,175.1 L179.1,176.0 L179.7,176.7 L180.3,177.6 L180.9,177.9 L181.6,178.8 L182.2,179.4 L182.8,180.0 L183.4,180.7 L184.1,181.6 L184.7,182.2 L185.3,182.9 L185.9,183.2 L186.6,184.4 L187.2,185.1 L187.8,185.8 L188.4,185.8 L189.1,186.1 L189.7,186.1 L190.3,186.4 L190.9,186.6 L191.5,187.5 L192.2,187.7 L192.8,188.0 L193.4,187.9 L194.0,188.2 L194.7,188.5 L195.3,188.7 L195.9,189.1 L196.5,189.5 L197.2,190.0 L197.8,190.8 L198.4,191.2 L199.0,192.0 L199.7,192.5 L200.3,193.5 L200.9,194.4 L201.5,195.3 L202.1,195.8 L202.8,196.9 L203.4,198.0 L204.0,199.1 L204.6,199.3 L205.3,199.5 L205.9,199.4 L206.5,199.6 L207.1,199.6 L207.8,199.4 L208.4,198.8 L209.0,198.3 L209.6,198.2 L210.3,198.8 L210.9,199.6 L211.5,200.4 L212.1,201.3 L212.7,202.2 L213.4,202.9 L214.0,203.2 L214.6,203.6 L215.2,204.2 L215.9,204.4 L216.5,205.0 L217.1,205.4 L217.7,206.2 L218.4,206.8 L219.0,207.4 L219.6,208.0 L220.2,208.6 L220.9,209.1 L221.5,209.5 L222.1,210.0 L222.7,210.1 L223.3,210.5 L224.0,210.8 L224.6,211.8 L225.2,212.2 L225.8,212.4 L226.5,212.3 L227.1,212.6 L227.7,212.9 L228.3,213.4 L229.0,213.4 L229.6,213.8 L230.2,213.9 L230.8,214.0 L231.5,214.1 L232.1,214.0 L232.7,214.2 L233.3,214.2 L233.9,214.9 L234.6,215.0 L235.2,215.2 L235.8,214.8 L236.4,215.2 L237.1,215.3 L237.7,215.3 L238.3,215.3 L238.9,215.5 L239.6,215.9 L240.2,215.8 L240.8,216.0 L241.4,216.2 L242.0,216.7 L242.7,217.0 L243.3,217.2 L243.9,217.2 L244.5,217.3 L245.2,217.5 L245.8,217.6 L246.4,217.4 L247.0,217.2 L247.7,217.0 L248.3,217.2 L248.9,217.4 L249.5,217.8 L250.2,217.8 L250.8,217.8 L251.4,217.7 L252.0,218.0 L252.6,218.3 L253.3,218.6 L253.9,218.1 L254.5,218.1 L255.1,218.1 L255.8,218.7 L256.4,219.0 L257.0,218.8 L257.6,219.1 L258.3,219.2 L258.9,219.6 L259.5,219.8 L260.1,219.9 L260.8,220.2 L261.4,220.1 L262.0,220.2 L262.6,220.1 L263.2,220.1 L263.9,220.5 L264.5,220.7 L265.1,221.0 L265.7,220.9 L266.4,221.0 L267.0,221.1 L267.6,221.3 L268.2,221.8 L268.9,222.0 L269.5,221.9 L270.1,221.9 L270.7,221.7 L271.4,222.2 L272.0,222.1 L272.6,222.7 L273.2,222.3 L273.8,222.4 L274.5,222.3 L275.1,222.7 L275.7,223.0 L276.3,223.0 L277.0,223.1 L277.6,223.2 L278.2,223.6 L278.8,223.7 L279.5,224.1 L280.1,223.7 L280.7,223.6 L281.3,223.6 L282.0,224.2 L282.6,224.5 L283.2,224.3 L283.8,224.2 L284.4,224.5 L285.1,224.7 L285.7,224.9 L286.3,224.9 L286.9,224.9 L287.6,224.9 L288.2,224.8 L288.8,225.1 L289.4,225.3 L290.1,225.1 L290.7,225.3 L291.3,225.7 L291.9,226.2 L292.6,226.4 L293.2,226.1 L293.8,225.9 L294.4,225.9 L295.0,226.1 L295.7,226.4 L296.3,226.2 L296.9,226.2 L297.5,226.2 L298.2,226.4 L298.8,226.8 L299.4,227.3 L300.0,227.4 L300.7,227.4 L301.3,227.2 L301.9,227.1 L302.5,227.0 L303.2,227.0 L303.8,227.0 L304.4,227.4 L305.0,227.3 L305.6,227.7 L306.3,227.5 L306.9,227.5 L307.5,227.2 L308.1,227.3 L308.8,227.6 L309.4,227.7 L310.0,227.6 L310.6,227.6 L311.3,227.8 L311.9,228.1 L312.5,228.3" stroke="rgb(38,184,66)" stroke-width="0.68"/>
<path d="M38.2,-519.7 L38.3,-11.2 L38.5,89.4 L38.6,121.5 L38.8,133.8 L38.9,141.9 L39.1,148.9 L39.3,155.4 L39.4,160.3 L39.6,165.1 L39.7,169.1 L39.9,172.8 L40.0,176.1 L40.2,179.1 L40.3,182.1 L40.5,184.9 L40.7,187.6 L40.8,190.5 L41.0,193.4 L41.1,196.3 L41.3,199.1 L41.4,201.4 L41.6,203.8 L41.8,205.8 L41.9,207.9 L42.1,209.6 L42.2,211.0 L42.4,212.5 L42.5,214.1 L42.7,215.7 L42.8,216.8 L43.0,217.9 L43.2,218.7 L43.3,219.4 L43.5,219.7 L43.6,219.8 L43.8,220.1 L43.9,220.2 L44.1,221.0 L44.2,221.5 L44.4,222.2 L45.0,223.2 L45.6,223.9 L46.3,224.5 L46.9,225.0 L47.5,225.4 L48.1,225.9 L48.8,226.0 L49.4,226.3 L50.0,226.4 L50.6,226.5 L51.3,226.5 L51.9,226.3 L52.5,226.1 L53.1,225.8 L53.8,225.2 L54.4,225.0 L55.0,224.7 L55.6,224.9 L56.2,224.6 L56.9,224.2 L57.5,223.4 L58.1,222.8 L58.7,221.8 L59.4,221.4 L60.0,220.6 L60.6,219.8 L61.2,218.9 L61.9,218.6 L62.5,218.1 L63.1,217.7 L63.7,216.7 L64.4,216.1 L65.0,215.3 L65.6,215.0 L66.2,214.9 L66.8,215.0 L67.5,214.7 L68.1,214.8 L68.7,214.9 L69.3,215.2 L70.0,215.6 L70.6,216.4 L71.2,217.3 L71.8,217.9 L72.5,218.6 L73.1,219.2 L73.7,219.7 L74.3,219.9 L75.0,220.5 L75.6,220.7 L76.2,221.3 L76.8,221.5 L77.4,222.3 L78.1,222.6 L78.7,223.2 L79.3,223.5 L79.9,224.2 L80.6,224.6 L81.2,224.7 L81.8,224.7 L82.4,224.7 L83.1,224.2 L83.7,224.0 L84.3,223.7 L84.9,223.9 L85.6,223.6 L86.2,223.6 L86.8,223.6 L87.4,223.5 L88.0,223.0 L88.7,222.9 L89.3,222.6 L89.9,222.4 L90.5,221.9 L91.2,221.3 L91.8,220.8 L92.4,219.7 L93.0,218.8 L93.7,217.9 L94.3,217.0 L94.9,216.4 L95.5,215.1 L96.2,214.0 L96.8,212.9 L97.4,212.3 L98.0,211.6 L98.6,210.7 L99.3,209.8 L99.9,209.2 L100.5,208.4 L101.1,207.8 L101.8,206.9 L102.4,206.5 L103.0,205.7 L103.6,204.9 L104.3,203.9 L104.9,202.9 L105.5,202.0 L106.1,201.1 L106.8,199.9 L107.4,199.1 L108.0,197.6 L108.6,196.7 L109.2,195.5 L109.9,194.8 L110.5,194.2 L111.1,193.1 L111.7,192.0 L112.4,191.1 L113.0,190.2 L113.6,189.5 L114.2,188.4 L114.9,187.7 L115.5,187.0 L116.1,186.3 L116.7,185.4 L117.3,184.3 L118.0,183.5 L118.6,182.5 L119.2,181.9 L119.8,180.6 L120.5,179.5 L121.1,178.3 L121.7,176.9 L122.3,175.5 L123.0,174.2 L123.6,172.9 L124.2,171.5 L124.8,169.8 L125.5,167.9 L126.1,166.7 L126.7,164.7 L127.3,162.7 L127.9,160.0 L128.6,157.3 L129.2,155.0 L129.8,152.6 L130.4,150.3 L131.1,147.6 L131.7,144.7 L132.3,142.3 L132.9,140.1 L133.6,138.2 L134.2,136.1 L134.8,134.1 L135.4,132.4 L136.1,131.0 L136.7,129.4 L137.3,127.4 L137.9,125.5 L138.5,123.7 L139.2,121.8 L139.8,120.5 L140.4,119.3 L141.0,118.5 L141.7,117.3 L142.3,116.6 L142.9,115.3 L143.5,114.6 L144.2,113.9 L144.8,114.4 L145.4,115.0 L146.0,115.4 L146.7,116.2 L147.3,116.9 L147.9,118.4 L148.5,119.5 L149.1,120.5 L149.8,121.8 L150.4,123.7 L151.0,125.3 L151.6,126.6 L152.3,127.1 L152.9,128.1 L153.5,128.8 L154.1,129.9 L154.8,131.0 L155.4,132.1 L156.0,133.4 L156.6,134.8 L157.3,136.4 L157.9,137.9 L158.5,139.5 L159.1,140.7 L159.7,142.0 L160.4,143.1 L161.0,144.8 L161.6,146.3 L162.2,147.3 L162.9,148.2 L163.5,149.3 L164.1,150.6 L164.7,151.8 L165.4,153.0 L166.0,154.1 L166.6,155.2 L167.2,156.4 L167.9,157.8 L168.5,159.1 L169.1,160.1 L169.7,161.1 L170.3,162.3 L171.0,163.6 L171.6,165.1 L172.2,166.2 L172.8,167.4 L173.5,168.2 L174.1,169.6 L174.7,171.0 L175.3,172.3 L176.0,173.4 L176.6,174.1 L177.2,175.0 L177.8,175.7 L178.5,176.5 L179.1,176.9 L179.7,178.0 L180.3,178.6 L180.9,179.7 L181.6,180.1 L182.2,180.9 L182.8,181.3 L183.4,181.9 L184.1,182.7 L184.7,183.3 L185.3,184.2 L185.9,184.9 L186.6,186.0 L187.2,186.4 L187.8,187.1 L188.4,187.5 L189.1,188.1 L189.7,188.5 L190.3,188.5 L190.9,188.4 L191.5,188.4 L192.2,188.6 L192.8,189.2 L193.4,189.3 L194.0,189.4 L194.7,189.1 L195.3,189.5 L195.9,189.9 L196.5,190.3 L197.2,190.4 L197.8,190.9 L198.4,191.4 L199.0,191.9 L199.7,192.5 L200.3,193.3 L200.9,194.2 L201.5,195.3 L202.1,196.1 L202.8,197.1 L203.4,197.5 L204.0,198.4 L204.6,198.8 L205.3,199.4 L205.9,199.1 L206.5,198.9 L207.1,198.6 L207.8,198.4 L208.4,197.6 L209.0,196.8 L209.6,196.6 L210.3,197.1 L210.9,198.4 L211.5,199.2 L212.1,200.4 L212.7,201.1 L213.4,202.0 L214.0,202.6 L214.6,203.4 L215.2,204.1 L215.9,204.6 L216.5,205.2 L217.1,206.0 L217.7,206.8 L218.4,207.1 L219.0,207.3 L219.6,207.7 L220.2,208.1 L220.9,208.8 L221.5,209.4 L222.1,210.0 L222.7,209.9 L223.3,210.1 L224.0,210.8 L224.6,211.2 L225.2,211.5 L225.8,211.8 L226.5,212.6 L227.1,213.0 L227.7,213.2 L228.3,213.3 L229.0,213.6 L229.6,213.8 L230.2,213.9 L230.8,214.0 L231.5,213.9 L232.1,214.3 L232.7,214.6 L233.3,215.0 L233.9,214.8 L234.6,214.7 L235.2,214.9 L235.8,215.1 L236.4,215.2 L237.1,215.2 L237.7,215.2 L238.3,215.4 L238.9,215.5 L239.6,215.7 L240.2,215.8 L240.8,215.9 L241.4,215.9 L242.0,216.0 L242.7,216.1 L243.3,216.3 L243.9,216.0 L244.5,216.4 L245.2,216.4 L245.8,216.8 L246.4,216.9 L247.0,217.1 L247.7,217.1 L248.3,217.1 L248.9,217.0 L249.5,217.3 L250.2,217.2 L250.8,217.4 L251.4,217.5 L252.0,218.1 L252.6,218.2 L253.3,218.3 L253.9,218.8 L254.5,218.8 L255.1,218.8 L255.8,218.2 L256.4,218.3 L257.0,217.9 L257.6,218.1 L258.3,218.2 L258.9,218.6 L259.5,218.5 L260.1,218.8 L260.8,219.1 L261.4,219.4 L262.0,219.8 L262.6,219.9 L263.2,219.9 L263.9,219.8 L264.5,219.9 L265.1,220.5 L265.7,220.5 L266.4,221.1 L267.0,221.1 L267.6,221.3 L268.2,221.3 L268.9,221.3 L269.5,221.7 L270.1,221.8 L270.7,222.0 L271.4,222.0 L272.0,222.2 L272.6,222.4 L273.2,222.7 L273.8,222.8 L274.5,223.0 L275.1,223.0 L275.7,222.8 L276.3,222.4 L277.0,222.4 L277.6,222.6 L278.2,223.2 L278.8,223.5 L279.5,223.6 L280.1,223.4 L280.7,223.5 L281.3,223.8 L282.0,223.9 L282.6,223.7 L283.2,223.6 L283.8,224.0 L284.4,224.4 L285.1,224.6 L285.7,225.0 L286.3,225.0 L286.9,225.0 L287.6,224.8 L288.2,224.9 L288.8,225.3 L289.4,225.4 L290.1,225.5 L290.7,225.5 L291.3,225.6 L291.9,226.0 L292.6,226.1 L293.2,226.3 L293.8,226.3 L294.4,226.4 L295.0,226.7 L295.7,226.6 L296.3,226.4 L296.9,226.1 L297.5,226.2 L298.2,226.5 L298.8,226.7 L299.4,226.7 L300.0,226.9 L300.7,227.0 L301.3,227.1 L301.9,227.1 L302.5,227.0 L303.2,227.0 L303.8,227.1 L304.4,227.2 L305.0,227.4 L305.6,227.5 L306.3,227.8 L306.9,227.8 L307.5,227.6 L308.1,227.9 L308.8,227.8 L309.4,228.2 L310.0,228.1 L310.6,228.0 L311.3,228.0 L311.9,228.1 L312.5,228.3" stroke="rgb(42,190,54)" stroke-width="0.68"/>
<path d="M38.2,-519.3 L38.3,-11.1 L38.5,89.4 L38.6,121.2 L38.8,134.0 L38.9,141.8 L39.1,149.2 L39.3,155.2 L39.4,160.7 L39.6,165.0 L39.7,169.0 L39.9,172.5 L40.0,176.0 L40.2,179.2 L40.3,182.3 L40.5,185.2 L40.7,188.2 L40.8,190.8 L41.0,193.7 L41.1,196.3 L41.3,198.8 L41.4,201.0 L41.6,203.5 L41.8,205.6 L41.9,207.7 L42.1,209.4 L42.2,211.0 L42.4,212.3 L42.5,213.6 L42.7,215.1 L42.8,216.5 L43.0,217.8 L43.2,218.4 L43.3,218.8 L43.5,219.1 L43.6,219.5 L43.8,220.1 L43.9,220.3 L44.1,221.1 L44.2,221.8 L44.4,222.4 L45.0,223.2 L45.6,223.8 L46.3,224.4 L46.9,225.2 L47.5,225.7 L48.1,226.3 L48.8,226.3 L49.4,226.2 L50.0,226.4 L50.6,226.4 L51.3,226.5 L51.9,226.3 L52.5,226.3 L53.1,226.0 L53.8,225.8 L54.4,225.3 L55.0,225.0 L55.6,224.6 L56.2,224.1 L56.9,223.5 L57.5,222.8 L58.1,222.2 L58.7,221.4 L59.4,220.9 L60.0,220.1 L60.6,219.3 L61.2,218.6 L61.9,217.8 L62.5,217.1 L63.1,216.4 L63.7,216.3 L64.4,216.3 L65.0,215.8 L65.6,214.9 L66.2,214.2 L66.8,213.7 L67.5,213.9 L68.1,214.1 L68.7,214.4 L69.3,214.9 L70.0,215.3 L70.6,215.9 L71.2,216.4 L71.8,216.9 L72.5,217.6 L73.1,218.1 L73.7,218.5 L74.3,219.1 L75.0,219.7 L75.6,220.3 L76.2,220.3 L76.8,220.5 L77.4,220.8 L78.1,221.4 L78.7,221.8 L79.3,222.0 L79.9,222.4 L80.6,223.0 L81.2,223.3 L81.8,223.4 L82.4,223.3 L83.1,223.4 L83.7,223.5 L84.3,223.6 L84.9,223.4 L85.6,222.9 L86.2,222.4 L86.8,222.4 L87.4,222.3 L88.0,222.3 L88.7,222.0 L89.3,221.8 L89.9,221.4 L90.5,220.9 L91.2,220.1 L91.8,219.8 L92.4,219.0 L93.0,218.3 L93.7,217.2 L94.3,216.3 L94.9,215.3 L95.5,214.2 L96.2,213.2 L96.8,212.5 L97.4,211.2 L98.0,209.9 L98.6,208.7 L99.3,208.4 L99.9,208.0 L100.5,207.5 L101.1,206.9 L101.8,206.2 L102.4,205.4 L103.0,204.5 L103.6,203.8 L104.3,203.1 L104.9,202.0 L105.5,200.8 L106.1,199.6 L106.8,198.3 L107.4,197.2 L108.0,196.2 L108.6,195.4 L109.2,194.1 L109.9,193.2 L110.5,192.0 L111.1,191.2 L111.7,190.1 L112.4,189.5 L113.0,188.6 L113.6,187.7 L114.2,186.8 L114.9,185.8 L115.5,184.9 L116.1,183.8 L116.7,183.1 L117.3,182.2 L118.0,181.2 L118.6,180.1 L119.2,178.8 L119.8,177.5 L120.5,175.9 L121.1,174.4 L121.7,172.9 L122.3,171.5 L123.0,170.2 L123.6,168.6 L124.2,167.2 L124.8,165.4 L125.5,163.5 L126.1,161.3 L126.7,158.6 L127.3,156.3 L127.9,153.7 L128.6,151.4 L129.2,148.7 L129.8,145.7 L130.4,142.7 L131.1,139.5 L131.7,136.7 L132.3,134.1 L132.9,132.1 L133.6,130.0 L134.2,128.3 L134.8,126.7 L135.4,124.9 L136.1,123.1 L136.7,120.9 L137.3,119.2 L137.9,116.9 L138.5,115.1 L139.2,113.4 L139.8,111.9 L140.4,110.1 L141.0,108.9 L141.7,108.1 L142.3,107.6 L142.9,106.6 L143.5,106.5 L144.2,106.7 L144.8,107.6 L145.4,108.6 L146.0,109.5 L146.7,110.9 L147.3,111.9 L147.9,113.3 L148.5,114.6 L149.1,116.2 L149.8,117.9 L150.4,119.1 L151.0,120.3 L151.6,121.4 L152.3,122.7 L152.9,124.1 L153.5,125.0 L154.1,126.4 L154.8,127.9 L155.4,129.3 L156.0,130.9 L156.6,132.3 L157.3,133.9 L157.9,135.3 L158.5,136.8 L159.1,138.8 L159.7,140.4 L160.4,142.1 L161.0,143.2 L161.6,144.7 L162.2,145.9 L162.9,147.4 L163.5,148.8 L164.1,150.3 L164.7,152.0 L165.4,153.2 L166.0,154.5 L166.6,155.7 L167.2,156.9 L167.9,158.2 L168.5,159.3 L169.1,160.6 L169.7,161.9 L170.3,163.1 L171.0,164.4 L171.6,165.8 L172.2,167.3 L172.8,168.6 L173.5,169.7 L174.1,170.9 L174.7,172.3 L175.3,173.5 L176.0,174.3 L176.6,175.1 L177.2,176.0 L177.8,177.0 L178.5,178.0 L179.1,178.9 L179.7,179.7 L180.3,180.2 L180.9,181.3 L181.6,181.9 L182.2,182.5 L182.8,182.9 L183.4,183.5 L184.1,184.3 L184.7,184.9 L185.3,185.7 L185.9,186.4 L186.6,187.3 L187.2,188.1 L187.8,188.7 L188.4,189.1 L189.1,189.1 L189.7,189.3 L190.3,189.3 L190.9,189.6 L191.5,189.7 L192.2,189.8 L192.8,189.9 L193.4,189.9 L194.0,189.8 L194.7,189.8 L195.3,189.8 L195.9,189.6 L196.5,189.8 L197.2,190.2 L197.8,191.0 L198.4,191.7 L199.0,192.2 L199.7,192.7 L200.3,193.4 L200.9,194.3 L201.5,195.3 L202.1,195.8 L202.8,196.7 L203.4,197.5 L204.0,198.8 L204.6,199.3 L205.3,199.5 L205.9,199.5 L206.5,199.0 L207.1,199.0 L207.8,198.2 L208.4,197.6 L209.0,196.5 L209.6,196.3 L210.3,196.6 L210.9,197.7 L211.5,198.7 L212.1,199.8 L212.7,200.6 L213.4,201.6 L214.0,202.3 L214.6,203.2 L215.2,203.6 L215.9,203.9 L216.5,204.4 L217.1,204.8 L217.7,205.9 L218.4,206.6 L219.0,207.3 L219.6,207.6 L220.2,207.9 L220.9,208.2 L221.5,208.7 L222.1,209.1 L222.7,209.7 L223.3,210.5 L224.0,211.2 L224.6,211.7 L225.2,211.6 L225.8,211.7 L226.5,212.0 L227.1,212.1 L227.7,212.6 L228.3,212.8 L229.0,213.1 L229.6,213.3 L230.2,213.3 L230.8,213.5 L231.5,213.5 L232.1,213.9 L232.7,214.2 L233.3,214.3 L233.9,214.3 L234.6,214.3 L235.2,214.7 L235.8,215.2 L236.4,215.3 L237.1,215.7 L237.7,215.8 L238.3,216.0 L238.9,215.8 L239.6,215.4 L240.2,215.4 L240.8,214.9 L241.4,215.2 L242.0,215.1 L242.7,215.6 L243.3,215.7 L243.9,215.8 L244.5,215.9 L245.2,215.9 L245.8,216.3 L246.4,216.5 L247.0,216.5 L247.7,216.5 L248.3,216.4 L248.9,216.6 L249.5,216.6 L250.2,216.8 L250.8,216.8 L251.4,216.9 L252.0,216.8 L252.6,216.9 L253.3,217.3 L253.9,217.7 L254.5,217.8 L255.1,218.1 L255.8,218.2 L256.4,218.3 L257.0,218.2 L257.6,218.4 L258.3,218.5 L258.9,219.0 L259.5,219.0 L260.1,219.4 L260.8,219.3 L261.4,219.3 L262.0,219.1 L262.6,219.1 L263.2,219.3 L263.9,219.6 L264.5,220.0 L265.1,220.3 L265.7,220.7 L266.4,220.9 L267.0,221.0 L267.6,220.9 L268.2,220.9 L268.9,221.4 L269.5,221.6 L270.1,222.0 L270.7,221.7 L271.4,221.8 L272.0,221.9 L272.6,222.3 L273.2,222.5 L273.8,222.7 L274.5,222.8 L275.1,222.5 L275.7,222.6 L276.3,222.7 L277.0,223.3 L277.6,223.0 L278.2,223.2 L278.8,223.4 L279.5,223.6 L280.1,223.3 L280.7,223.3 L281.3,223.5 L282.0,224.3 L282.6,225.0 L283.2,225.0 L283.8,224.8 L284.4,224.1 L285.1,224.2 L285.7,224.4 L286.3,224.5 L286.9,224.4 L287.6,224.6 L288.2,224.7 L288.8,224.9 L289.4,225.1 L290.1,225.2 L290.7,225.5 L291.3,225.3 L291.9,225.4 L292.6,225.8 L293.2,226.1 L293.8,226.2 L294.4,225.9 L295.0,226.1 L295.7,226.4 L296.3,226.8 L296.9,226.6 L297.5,226.8 L298.2,226.6 L298.8,226.6 L299.4,226.2 L300.0,226.3 L300.7,226.3 L301.3,226.5 L301.9,226.7 L302.5,227.2 L303.2,227.3 L303.8,227.6 L304.4,227.7 L305.0,227.6 L305.6,227.5 L306.3,227.5 L306.9,227.7 L307.5,227.7 L308.1,227.5 L308.8,227.4 L309.4,227.6 L310.0,227.6 L310.6,228.0 L311.3,227.8 L311.9,227.9 L312.5,227.8" stroke="rgb(49,197,43)" stroke-width="0.68"/>
<path d="M38.2,-519.6 L38.3,-11.2 L38.5,89.1 L38.6,121.2 L38.8,134.3 L38.9,142.2 L39.1,149.3 L39.3,155.5 L39.4,161.1 L39.6,165.8 L39.7,169.4 L39.9,172.7 L40.0,175.8 L40.2,179.0 L40.3,182.0 L40.5,185.0 L40.7,187.7 L40.8,190.7 L41.0,193.5 L41.1,196.0 L41.3,198.4 L41.4,200.6 L41.6,203.1 L41.8,205.2 L41.9,207.2 L42.1,208.7 L42.2,210.1 L42.4,211.6 L42.5,213.4 L42.7,214.6 L42.8,215.8 L43.0,216.6 L43.2,217.9 L43.3,218.6 L43.5,219.2 L43.6,219.9 L43.8,220.4 L43.9,220.8 L44.1,220.6 L44.2,220.8 L44.4,221.3 L45.0,223.1 L45.6,223.9 L46.3,224.5 L46.9,224.9 L47.5,225.2 L48.1,225.5 L48.8,225.8 L49.4,226.4 L50.0,226.4 L50.6,226.1 L51.3,226.0 L51.9,226.2 L52.5,226.3 L53.1,225.7 L53.8,225.2 L54.4,225.0 L55.0,224.8 L55.6,224.3 L56.2,223.6 L56.9,223.0 L57.5,222.6 L58.1,222.0 L58.7,221.5 L59.4,221.0 L60.0,220.5 L60.6,220.0 L61.2,219.1 L61.9,218.2 L62.5,217.2 L63.1,216.6 L63.7,216.1 L64.4,215.6 L65.0,215.2 L65.6,214.7 L66.2,214.2 L66.8,214.2 L67.5,214.0 L68.1,213.9 L68.7,213.8 L69.3,214.2 L70.0,215.0 L70.6,215.6 L71.2,215.8 L71.8,216.3 L72.5,216.5 L73.1,217.3 L73.7,217.4 L74.3,218.0 L75.0,218.2 L75.6,218.6 L76.2,218.7 L76.8,219.4 L77.4,220.0 L78.1,220.7 L78.7,221.0 L79.3,221.4 L79.9,221.6 L80.6,221.8 L81.2,222.1 L81.8,222.4 L82.4,222.7 L83.1,222.5 L83.7,222.5 L84.3,222.3 L84.9,222.3 L85.6,221.8 L86.2,221.7 L86.8,221.2 L87.4,221.5 L88.0,221.3 L88.7,221.2 L89.3,220.4 L89.9,219.9 L90.5,219.3 L91.2,219.2 L91.8,218.5 L92.4,218.1 L93.0,217.4 L93.7,217.0 L94.3,215.9 L94.9,214.6 L95.5,213.3 L96.2,212.3 L96.8,211.2 L97.4,210.0 L98.0,209.2 L98.6,208.6 L99.3,208.2 L99.9,207.8 L100.5,207.2 L101.1,206.2 L101.8,205.3 L102.4,204.1 L103.0,203.4 L103.6,202.2 L104.3,201.4 L104.9,200.4 L105.5,199.4 L106.1,198.2 L106.8,197.2 L107.4,196.1 L108.0,195.4 L108.6,194.2 L109.2,192.7 L109.9,191.3 L110.5,190.5 L111.1,190.3 L111.7,189.5 L112.4,188.3 L113.0,187.2 L113.6,186.1 L114.2,185.2 L114.9,184.1 L115.5,183.2 L116.1,182.1 L116.7,181.2 L117.3,180.3 L118.0,179.2 L118.6,177.9 L119.2,176.7 L119.8,175.5 L120.5,174.1 L121.1,172.3 L121.7,170.3 L122.3,168.3 L123.0,166.6 L123.6,165.5 L124.2,163.8 L124.8,161.8 L125.5,159.2 L126.1,156.7 L126.7,153.8 L127.3,151.1 L127.9,148.6 L128.6,145.8 L129.2,142.8 L129.8,139.4 L130.4,136.1 L131.1,133.3 L131.7,130.5 L132.3,128.4 L132.9,126.2 L133.6,124.1 L134.2,122.3 L134.8,120.0 L135.4,118.6 L136.1,116.2 L136.7,114.3 L137.3,112.0 L137.9,110.1 L138.5,108.3 L139.2,106.3 L139.8,104.7 L140.4,103.6 L141.0,102.7 L141.7,101.9 L142.3,101.1 L142.9,100.9 L143.5,101.1 L144.2,101.8 L144.8,102.9 L145.4,104.1 L146.0,105.5 L146.7,106.8 L147.3,108.2 L147.9,109.7 L148.5,111.3 L149.1,113.1 L149.8,114.6 L150.4,116.2 L151.0,117.6 L151.6,118.8 L152.3,120.0 L152.9,121.4 L153.5,123.1 L154.1,124.3 L154.8,125.9 L155.4,127.3 L156.0,129.2 L156.6,130.9 L157.3,132.8 L157.9,134.6 L158.5,136.5 L159.1,138.1 L159.7,139.7 L160.4,141.1 L161.0,142.7 L161.6,144.5 L162.2,145.9 L162.9,147.5 L163.5,148.8 L164.1,150.5 L164.7,152.0 L165.4,153.3 L166.0,154.3 L166.6,155.6 L167.2,157.2 L167.9,158.9 L168.5,159.9 L169.1,161.1 L169.7,162.1 L170.3,163.9 L171.0,165.4 L171.6,167.2 L172.2,168.5 L172.8,169.6 L173.5,170.7 L174.1,172.0 L174.7,173.4 L175.3,174.7 L176.0,175.6 L176.6,176.2 L177.2,176.9 L177.8,177.7 L178.5,178.6 L179.1,179.8 L179.7,180.6 L180.3,181.7 L180.9,182.3 L181.6,183.0 L182.2,183.3 L182.8,183.9 L183.4,184.7 L184.1,185.7 L184.7,186.7 L185.3,187.6 L185.9,188.7 L186.6,189.4 L187.2,190.1 L187.8,190.5 L188.4,190.9 L189.1,191.1 L189.7,191.1 L190.3,190.9 L190.9,190.8 L191.5,190.5 L192.2,190.4 L192.8,190.5 L193.4,190.7 L194.0,190.5 L194.7,190.5 L195.3,190.5 L195.9,190.6 L196.5,190.4 L197.2,190.6 L197.8,191.1 L198.4,191.7 L199.0,192.1 L199.7,192.8 L200.3,193.3 L200.9,194.1 L201.5,195.2 L202.1,196.2 L202.8,197.1 L203.4,197.6 L204.0,198.5 L204.6,199.1 L205.3,199.3 L205.9,199.1 L206.5,198.8 L207.1,198.3 L207.8,197.6 L208.4,196.5 L209.0,196.0 L209.6,195.7 L210.3,196.4 L210.9,197.3 L211.5,198.3 L212.1,199.0 L212.7,200.1 L213.4,201.3 L214.0,202.1 L214.6,202.4 L215.2,203.0 L215.9,203.8 L216.5,204.4 L217.1,204.8 L217.7,205.3 L218.4,206.3 L219.0,207.0 L219.6,207.7 L220.2,208.1 L220.9,208.6 L221.5,208.7 L222.1,209.1 L222.7,209.8 L223.3,210.1 L224.0,210.5 L224.6,210.9 L225.2,211.8 L225.8,212.1 L226.5,212.3 L227.1,212.3 L227.7,212.8 L228.3,213.1 L229.0,213.2 L229.6,213.0 L230.2,212.9 L230.8,213.1 L231.5,213.5 L232.1,213.5 L232.7,214.0 L233.3,214.1 L233.9,214.1 L234.6,213.9 L235.2,213.8 L235.8,213.9 L236.4,214.1 L237.1,214.6 L237.7,214.9 L238.3,214.9 L238.9,215.0 L239.6,215.4 L240.2,215.7 L240.8,216.0 L241.4,216.0 L242.0,215.9 L242.7,215.6 L243.3,215.5 L243.9,215.6 L244.5,216.0 L245.2,216.1 L245.8,215.9 L246.4,215.9 L247.0,216.2 L247.7,216.4 L248.3,216.8 L248.9,216.7 L249.5,216.8 L250.2,216.8 L250.8,216.8 L251.4,216.7 L252.0,216.9 L252.6,216.8 L253.3,217.0 L253.9,216.9 L254.5,217.3 L255.1,217.4 L255.8,217.6 L256.4,217.5 L257.0,217.8 L257.6,217.8 L258.3,218.3 L258.9,218.4 L259.5,218.6 L260.1,218.1 L260.8,218.6 L261.4,219.0 L262.0,219.6 L262.6,219.5 L263.2,219.7 L263.9,219.7 L264.5,220.0 L265.1,220.0 L265.7,220.5 L266.4,220.6 L267.0,220.8 L267.6,220.5 L268.2,220.6 L268.9,220.5 L269.5,220.9 L270.1,221.3 L270.7,221.5 L271.4,221.9 L272.0,222.2 L272.6,222.5 L273.2,222.3 L273.8,222.1 L274.5,222.4 L275.1,222.7 L275.7,222.8 L276.3,222.7 L277.0,223.0 L277.6,223.3 L278.2,223.2 L278.8,223.1 L279.5,223.3 L280.1,223.3 L280.7,223.3 L281.3,223.5 L282.0,223.8 L282.6,223.8 L283.2,223.8 L283.8,224.0 L284.4,224.2 L285.1,224.2 L285.7,224.1 L286.3,224.2 L286.9,224.2 L287.6,224.3 L288.2,224.7 L288.8,225.0 L289.4,225.6 L290.1,225.7 L290.7,225.9 L291.3,225.8 L291.9,225.7 L292.6,225.4 L293.2,225.4 L293.8,225.5 L294.4,225.8 L295.0,225.9 L295.7,226.2 L296.3,226.4 L296.9,226.7 L297.5,226.8 L298.2,226.7 L298.8,226.6 L299.4,226.6 L300.0,226.5 L300.7,226.4 L301.3,226.4 L301.9,226.8 L302.5,226.8 L303.2,227.2 L303.8,227.1 L304.4,227.2 L305.0,226.9 L305.6,227.3 L306.3,227.5 L306.9,227.5 L307.5,227.2 L308.1,227.5 L308.8,227.8 L309.4,228.2 L310.0,228.0 L310.6,227.7 L311.3,227.7 L311.9,228.0 L312.5,228.2" stroke="rgb(64,203,34)" stroke-width="0.68"/>
<path d="M38.2,-519.3 L38.3,-11.1 L38.5,89.3 L38.6,121.4 L38.8,134.1 L38.9,142.2 L39.1,149.1 L39.3,155.2 L39.4,160.3 L39.6,165.1 L39.7,169.4 L39.9,172.9 L40.0,176.2 L40.2,179.1 L40.3,182.1 L40.5,184.9 L40.7,187.7 L40.8,190.4 L41.0,193.1 L41.1,195.7 L41.3,198.2 L41.4,200.7 L41.6,203.0 L41.8,205.0 L41.9,206.7 L42.1,208.5 L42.2,210.3 L42.4,211.7 L42.5,213.3 L42.7,214.7 L42.8,216.2 L43.0,217.0 L43.2,217.8 L43.3,218.6 L43.5,218.8 L43.6,219.1 L43.8,219.6 L43.9,220.3 L44.1,220.9 L44.2,221.3 L44.4,221.5 L45.0,222.9 L45.6,223.6 L46.3,224.4 L46.9,224.8 L47.5,225.2 L48.1,225.4 L48.8,225.9 L49.4,226.1 L50.0,226.2 L50.6,226.0 L51.3,225.8 L51.9,225.9 L52.5,225.8 L53.1,225.8 L53.8,225.5 L54.4,224.9 L55.0,224.5 L55.6,223.6 L56.2,223.5 L56.9,223.1 L57.5,222.5 L58.1,221.9 L58.7,220.9 L59.4,220.6 L60.0,219.7 L60.6,219.0 L61.2,218.3 L61.9,217.8 L62.5,217.4 L63.1,216.6 L63.7,215.8 L64.4,215.0 L65.0,214.6 L65.6,214.1 L66.2,213.8 L66.8,213.5 L67.5,213.2 L68.1,213.1 L68.7,213.4 L69.3,213.8 L70.0,214.1 L70.6,214.0 L71.2,214.7 L71.8,215.4 L72.5,216.1 L73.1,216.2 L73.7,216.6 L74.3,216.9 L75.0,217.4 L75.6,217.6 L76.2,218.0 L76.8,218.3 L77.4,218.9 L78.1,219.3 L78.7,219.8 L79.3,220.0 L79.9,220.1 L80.6,220.4 L81.2,220.9 L81.8,221.4 L82.4,221.5 L83.1,221.7 L83.7,221.6 L84.3,221.5 L84.9,221.0 L85.6,220.9 L86.2,220.6 L86.8,220.5 L87.4,220.3 L88.0,220.3 L88.7,220.2 L89.3,219.9 L89.9,219.3 L90.5,218.9 L91.2,218.5 L91.8,218.2 L92.4,217.2 L93.0,216.3 L93.7,215.3 L94.3,214.7 L94.9,213.6 L95.5,212.7 L96.2,211.6 L96.8,211.0 L97.4,210.2 L98.0,209.3 L98.6,208.2 L99.3,207.5 L99.9,206.9 L100.5,206.3 L101.1,204.9 L101.8,204.3 L102.4,203.6 L103.0,203.3 L103.6,202.0 L104.3,200.7 L104.9,199.4 L105.5,198.1 L106.1,196.8 L106.8,195.6 L107.4,194.6 L108.0,193.7 L108.6,192.7 L109.2,191.7 L109.9,190.7 L110.5,189.8 L111.1,188.8 L111.7,187.6 L112.4,186.6 L113.0,185.7 L113.6,185.0 L114.2,183.8 L114.9,182.7 L115.5,181.3 L116.1,180.4 L116.7,179.4 L117.3,178.3 L118.0,177.0 L118.6,175.2 L119.2,173.7 L119.8,172.6 L120.5,171.4 L121.1,169.8 L121.7,167.7 L122.3,165.9 L123.0,164.0 L123.6,161.6 L124.2,158.9 L124.8,156.5 L125.5,153.9 L126.1,151.0 L126.7,147.9 L127.3,144.7 L127.9,141.9 L128.6,138.3 L129.2,134.9 L129.8,131.4 L130.4,128.4 L131.1,125.6 L131.7,123.3 L132.3,120.9 L132.9,118.6 L133.6,116.3 L134.2,114.5 L134.8,112.6 L135.4,110.7 L136.1,108.5 L136.7,106.4 L137.3,104.0 L137.9,102.1 L138.5,100.0 L139.2,98.6 L139.8,96.9 L140.4,95.6 L141.0,94.3 L141.7,93.6 L142.3,93.7 L142.9,94.5 L143.5,95.6 L144.2,96.5 L144.8,97.4 L145.4,98.9 L146.0,100.2 L146.7,102.3 L147.3,104.1 L147.9,106.3 L148.5,108.0 L149.1,109.6 L149.8,111.4 L150.4,112.8 L151.0,114.3 L151.6,115.4 L152.3,117.0 L152.9,118.4 L153.5,120.2 L154.1,122.2 L154.8,124.1 L155.4,126.0 L156.0,127.9 L156.6,129.9 L157.3,131.6 L157.9,133.2 L158.5,134.8 L159.1,136.7 L159.7,138.7 L160.4,140.6 L161.0,142.6 L161.6,144.6 L162.2,146.3 L162.9,147.8 L163.5,148.8 L164.1,150.6 L164.7,152.0 L165.4,153.7 L166.0,155.2 L166.6,156.8 L167.2,158.0 L167.9,159.3 L168.5,160.7 L169.1,162.4 L169.7,163.7 L170.3,165.0 L171.0,166.4 L171.6,167.8 L172.2,169.4 L172.8,170.5 L173.5,172.1 L174.1,173.1 L174.7,174.3 L175.3,175.4 L176.0,176.5 L176.6,177.7 L177.2,178.5 L177.8,179.7 L178.5,180.3 L179.1,181.2 L179.7,181.7 L180.3,182.4 L180.9,182.9 L181.6,184.0 L182.2,185.1 L182.8,186.0 L183.4,186.2 L184.1,186.8 L184.7,187.2 L185.3,188.2 L185.9,189.1 L186.6,190.3 L187.2,191.1 L187.8,191.4 L188.4,191.6 L189.1,192.0 L189.7,192.0 L190.3,192.1 L190.9,191.8 L191.5,191.7 L192.2,191.4 L192.8,191.4 L193.4,190.9 L194.0,190.9 L194.7,190.8 L195.3,191.2 L195.9,191.3 L196.5,191.4 L197.2,191.3 L197.8,191.4 L198.4,191.6 L199.0,192.4 L199.7,193.1 L200.3,193.8 L200.9,194.2 L201.5,194.9 L202.1,195.7 L202.8,196.5 L203.4,197.2 L204.0,198.3 L204.6,198.9 L205.3,199.4 L205.9,199.1 L206.5,198.7 L207.1,198.2 L207.8,197.0 L208.4,195.9 L209.0,194.6 L209.6,194.4 L210.3,194.6 L210.9,196.0 L211.5,197.2 L212.1,198.5 L212.7,199.6 L213.4,200.7 L214.0,201.4 L214.6,202.2 L215.2,202.6 L215.9,203.5 L216.5,204.3 L217.1,205.3 L217.7,205.8 L218.4,206.3 L219.0,206.7 L219.6,207.6 L220.2,208.0 L220.9,208.4 L221.5,208.6 L222.1,209.0 L222.7,209.6 L223.3,210.4 L224.0,211.1 L224.6,211.2 L225.2,211.3 L225.8,211.3 L226.5,211.8 L227.1,212.0 L227.7,212.6 L228.3,212.7 L229.0,213.2 L229.6,213.2 L230.2,213.4 L230.8,213.3 L231.5,213.4 L232.1,213.7 L232.7,213.8 L233.3,213.7 L233.9,213.9 L234.6,214.2 L235.2,214.5 L235.8,214.4 L236.4,214.5 L237.1,214.5 L237.7,214.7 L238.3,214.9 L238.9,214.9 L239.6,214.9 L240.2,215.3 L240.8,215.6 L241.4,215.6 L242.0,215.5 L242.7,215.6 L243.3,215.8 L243.9,215.7 L244.5,215.8 L245.2,215.7 L245.8,215.6 L246.4,215.4 L247.0,215.3 L247.7,215.6 L248.3,215.7 L248.9,215.9 L249.5,215.8 L250.2,216.3 L250.8,216.2 L251.4,216.5 L252.0,216.5 L252.6,216.6 L253.3,216.7 L253.9,216.9 L254.5,217.2 L255.1,217.2 L255.8,217.1 L256.4,217.1 L257.0,217.5 L257.6,217.9 L258.3,218.0 L258.9,218.0 L259.5,218.2 L260.1,218.5 L260.8,218.7 L261.4,218.6 L262.0,218.7 L262.6,219.1 L263.2,219.3 L263.9,219.5 L264.5,219.4 L265.1,220.1 L265.7,220.4 L266.4,220.7 L267.0,220.5 L267.6,220.7 L268.2,221.1 L268.9,221.6 L269.5,221.7 L270.1,221.5 L270.7,221.4 L271.4,221.8 L272.0,222.1 L272.6,222.3 L273.2,222.0 L273.8,221.9 L274.5,222.0 L275.1,222.5 L275.7,222.6 L276.3,222.8 L277.0,222.6 L277.6,223.0 L278.2,223.2 L278.8,223.4 L279.5,223.4 L280.1,223.7 L280.7,223.6 L281.3,223.6 L282.0,223.6 L282.6,224.0 L283.2,224.4 L283.8,224.4 L284.4,224.2 L285.1,224.2 L285.7,224.1 L286.3,224.6 L286.9,224.8 L287.6,225.4 L288.2,225.4 L288.8,225.3 L289.4,225.1 L290.1,225.2 L290.7,225.3 L291.3,225.4 L291.9,225.1 L292.6,225.2 L293.2,225.4 L293.8,225.6 L294.4,225.7 L295.0,225.9 L295.7,226.2 L296.3,226.5 L296.9,226.7 L297.5,226.6 L298.2,226.3 L298.8,226.2 L299.4,226.7 L300.0,226.8 L300.7,226.9 L301.3,226.5 L301.9,226.8 L302.5,227.0 L303.2,227.3 L303.8,227.5 L304.4,227.1 L305.0,227.5 L305.6,227.5 L306.3,227.9 L306.9,227.9 L307.5,227.8 L308.1,227.7 L308.8,227.3 L309.4,227.3 L310.0,227.5 L310.6,227.5 L311.3,227.7 L311.9,227.7 L312.5,227.9" stroke="rgb(87,211,24)" stroke-width="0.68"/>
<path d="M38.2,-519.1 L38.3,-11.2 L38.5,89.1 L38.6,120.7 L38.8,133.9 L38.9,142.1 L39.1,149.4 L39.3,155.5 L39.4,160.8 L39.6,165.2 L39.7,169.2 L39.9,172.6 L40.0,176.1 L40.2,179.3 L40.3,182.3 L40.5,185.0 L40.7,187.7 L40.8,190.1 L41.0,193.0 L41.1,195.4 L41.3,198.0 L41.4,200.3 L41.6,202.4 L41.8,204.5 L41.9,206.2 L42.1,208.0 L42.2,209.6 L42.4,211.5 L42.5,213.3 L42.7,214.7 L42.8,216.0 L43.0,217.0 L43.2,218.0 L43.3,218.5 L43.5,219.2 L43.6,219.8 L43.8,220.2 L43.9,220.5 L44.1,221.1 L44.2,221.4 L44.4,221.8 L45.0,222.8 L45.6,223.5 L46.3,224.4 L46.9,224.8 L47.5,225.3 L48.1,225.5 L48.8,226.1 L49.4,226.2 L50.0,226.4 L50.6,226.3 L51.3,226.6 L51.9,226.6 L52.5,226.5 L53.1,226.4 L53.8,226.0 L54.4,225.5 L55.0,225.2 L55.6,224.9 L56.2,224.5 L56.9,223.8 L57.5,223.1 L58.1,222.6 L58.7,222.2 L59.4,222.1 L60.0,221.6 L60.6,220.5 L61.2,219.6 L61.9,218.8 L62.5,218.5 L63.1,217.7 L63.7,217.3 L64.4,216.5 L65.0,216.1 L65.6,215.7 L66.2,215.2 L66.8,214.9 L67.5,214.3 L68.1,214.4 L68.7,214.1 L69.3,214.6 L70.0,214.8 L70.6,215.2 L71.2,215.3 L71.8,215.5 L72.5,215.6 L73.1,216.0 L73.7,216.1 L74.3,216.4 L75.0,216.2 L75.6,216.7 L76.2,217.0 L76.8,217.7 L77.4,218.2 L78.1,218.8 L78.7,219.2 L79.3,219.5 L79.9,219.7 L80.6,220.1 L81.2,220.5 L81.8,220.4 L82.4,220.4 L83.1,220.1 L83.7,220.1 L84.3,220.2 L84.9,220.2 L85.6,220.3 L86.2,220.2 L86.8,220.0 L87.4,219.6 L88.0,219.4 L88.7,218.8 L89.3,218.6 L89.9,217.9 L90.5,217.8 L91.2,217.5 L91.8,217.4 L92.4,216.9 L93.0,215.9 L93.7,214.8 L94.3,213.5 L94.9,212.6 L95.5,211.5 L96.2,210.6 L96.8,209.6 L97.4,208.8 L98.0,207.8 L98.6,207.0 L99.3,206.3 L99.9,205.9 L100.5,205.4 L101.1,204.8 L101.8,203.9 L102.4,203.3 L103.0,202.3 L103.6,201.3 L104.3,200.0 L104.9,198.7 L105.5,197.1 L106.1,195.8 L106.8,194.7 L107.4,193.8 L108.0,192.4 L108.6,191.1 L109.2,189.8 L109.9,188.9 L110.5,187.7 L111.1,186.9 L111.7,185.7 L112.4,184.8 L113.0,183.6 L113.6,182.5 L114.2,181.8 L114.9,180.6 L115.5,179.3 L116.1,177.8 L116.7,176.9 L117.3,175.9 L118.0,174.4 L118.6,172.8 L119.2,171.3 L119.8,169.9 L120.5,168.3 L121.1,166.4 L121.7,164.4 L122.3,162.3 L123.0,160.0 L123.6,157.5 L124.2,154.5 L124.8,152.0 L125.5,148.8 L126.1,145.5 L126.7,142.1 L127.3,139.2 L127.9,136.2 L128.6,132.4 L129.2,128.6 L129.8,124.7 L130.4,121.7 L131.1,119.1 L131.7,116.8 L132.3,114.5 L132.9,112.3 L133.6,110.1 L134.2,108.0 L134.8,105.4 L135.4,103.3 L136.1,100.7 L136.7,98.5 L137.3,96.0 L137.9,93.9 L138.5,92.1 L139.2,90.8 L139.8,89.8 L140.4,88.5 L141.0,87.7 L141.7,87.4 L142.3,88.0 L142.9,88.9 L143.5,90.1 L144.2,91.0 L144.8,92.6 L145.4,94.4 L146.0,96.6 L146.7,98.6 L147.3,100.7 L147.9,102.6 L148.5,104.6 L149.1,106.2 L149.8,107.8 L150.4,109.3 L151.0,110.8 L151.6,112.5 L152.3,113.9 L152.9,115.8 L153.5,117.5 L154.1,119.7 L154.8,121.7 L155.4,124.2 L156.0,126.4 L156.6,128.8 L157.3,130.8 L157.9,133.0 L158.5,134.8 L159.1,136.9 L159.7,138.6 L160.4,140.4 L161.0,141.8 L161.6,143.8 L162.2,145.8 L162.9,147.5 L163.5,149.1 L164.1,150.2 L164.7,152.1 L165.4,154.1 L166.0,155.9 L166.6,157.6 L167.2,159.0 L167.9,160.7 L168.5,162.2 L169.1,163.4 L169.7,164.9 L170.3,166.5 L171.0,167.8 L171.6,169.1 L172.2,170.3 L172.8,171.7 L173.5,172.8 L174.1,174.1 L174.7,175.3 L175.3,176.4 L176.0,177.2 L176.6,178.7 L177.2,179.8 L177.8,181.1 L178.5,181.7 L179.1,182.5 L179.7,182.8 L180.3,183.7 L180.9,184.3 L181.6,185.2 L182.2,185.8 L182.8,186.8 L183.4,187.4 L184.1,188.0 L184.7,188.7 L185.3,189.8 L185.9,190.7 L186.6,191.6 L187.2,192.2 L187.8,192.7 L188.4,192.8 L189.1,193.1 L189.7,193.3 L190.3,193.4 L190.9,193.6 L191.5,193.5 L192.2,193.1 L192.8,192.4 L193.4,192.2 L194.0,192.0 L194.7,191.9 L195.3,191.4 L195.9,191.3 L196.5,191.2 L197.2,191.3 L197.8,191.5 L198.4,191.7 L199.0,192.3 L199.7,192.6 L200.3,193.3 L200.9,194.0 L201.5,195.1 L202.1,196.1 L202.8,196.7 L203.4,197.4 L204.0,198.1 L204.6,198.7 L205.3,199.1 L205.9,198.8 L206.5,198.4 L207.1,197.5 L207.8,196.9 L208.4,195.6 L209.0,194.7 L209.6,193.8 L210.3,194.0 L210.9,195.4 L211.5,196.8 L212.1,198.0 L212.7,199.0 L213.4,200.0 L214.0,201.1 L214.6,202.1 L215.2,202.9 L215.9,203.7 L216.5,204.3 L217.1,204.9 L217.7,205.4 L218.4,206.2 L219.0,207.2 L219.6,207.8 L220.2,208.1 L220.9,208.2 L221.5,208.6 L222.1,209.0 L222.7,209.5 L223.3,209.9 L224.0,210.5 L224.6,210.8 L225.2,211.0 L225.8,211.0 L226.5,211.6 L227.1,212.1 L227.7,212.5 L228.3,212.7 L229.0,213.1 L229.6,213.4 L230.2,213.7 L230.8,213.7 L231.5,214.1 L232.1,214.0 L232.7,214.0 L233.3,214.1 L233.9,214.4 L234.6,214.6 L235.2,214.6 L235.8,214.7 L236.4,214.7 L237.1,214.7 L237.7,214.6 L238.3,214.8 L238.9,214.9 L239.6,215.3 L240.2,215.2 L240.8,214.8 L241.4,214.7 L242.0,214.7 L242.7,215.2 L243.3,215.0 L243.9,215.0 L244.5,214.9 L245.2,215.2 L245.8,215.7 L246.4,215.3 L247.0,215.3 L247.7,215.3 L248.3,215.9 L248.9,216.0 L249.5,216.2 L250.2,216.0 L250.8,215.9 L251.4,216.1 L252.0,216.3 L252.6,216.7 L253.3,216.7 L253.9,217.2 L254.5,217.0 L255.1,217.1 L255.8,217.0 L256.4,217.3 L257.0,217.4 L257.6,217.5 L258.3,217.5 L258.9,217.7 L259.5,217.6 L260.1,217.9 L260.8,218.0 L261.4,218.3 L262.0,218.7 L262.6,219.1 L263.2,219.2 L263.9,219.7 L264.5,219.6 L265.1,219.7 L265.7,219.6 L266.4,219.9 L267.0,220.3 L267.6,220.6 L268.2,220.6 L268.9,220.5 L269.5,220.6 L270.1,221.0 L270.7,221.4 L271.4,221.6 L272.0,221.9 L272.6,222.1 L273.2,222.6 L273.8,222.6 L274.5,222.6 L275.1,222.4 L275.7,222.2 L276.3,222.5 L277.0,222.9 L277.6,223.1 L278.2,223.3 L278.8,223.1 L279.5,223.4 L280.1,223.5 L280.7,223.6 L281.3,223.6 L282.0,223.6 L282.6,224.0 L283.2,224.4 L283.8,224.6 L284.4,224.7 L285.1,224.5 L285.7,224.6 L286.3,224.6 L286.9,224.5 L287.6,224.6 L288.2,225.1 L288.8,225.0 L289.4,225.2 L290.1,225.1 L290.7,225.6 L291.3,225.8 L291.9,225.8 L292.6,225.6 L293.2,225.8 L293.8,226.3 L294.4,226.8 L295.0,226.7 L295.7,226.6 L296.3,226.4 L296.9,226.4 L297.5,226.5 L298.2,226.6 L298.8,226.8 L299.4,226.6 L300.0,226.4 L300.7,226.5 L301.3,226.7 L301.9,227.0 L302.5,227.1 L303.2,227.0 L303.8,227.1 L304.4,227.1 L305.0,227.1 L305.6,227.4 L306.3,227.3 L306.9,227.3 L307.5,227.1 L308.1,227.3 L308.8,227.7 L309.4,228.0 L310.0,228.1 L310.6,227.9 L311.3,227.4 L311.9,227.6 L312.5,227.8" stroke="rgb(150,223,12)" stroke-width="0.68"/>
<path d="M38.2,-519.2 L38.3,-11.1 L38.5,89.0 L38.6,120.8 L38.8,133.8 L38.9,142.2 L39.1,149.6 L39.3,155.7 L39.4,160.7 L39.6,165.3 L39.7,169.6 L39.9,172.9 L40.0,176.0 L40.2,178.6 L40.3,181.9 L40.5,184.8 L40.7,187.6 L40.8,190.0 L41.0,192.7 L41.1,195.4 L41.3,198.1 L41.4,200.5 L41.6,202.7 L41.8,204.7 L41.9,206.8 L42.1,208.1 L42.2,210.0 L42.4,211.5 L42.5,213.2 L42.7,214.6 L42.8,215.9 L43.0,217.1 L43.2,217.5 L43.3,218.2 L43.5,218.6 L43.6,219.5 L43.8,219.6 L43.9,220.1 L44.1,220.2 L44.2,220.9 L44.4,221.2 L45.0,222.4 L45.6,223.1 L46.3,224.3 L46.9,225.0 L47.5,225.7 L48.1,225.8 L48.8,226.4 L49.4,227.0 L50.0,227.2 L50.6,227.1 L51.3,226.8 L51.9,227.0 L52.5,226.9 L53.1,226.9 L53.8,226.8 L54.4,226.7 L55.0,226.3 L55.6,226.0 L56.2,225.6 L56.9,225.3 L57.5,224.5 L58.1,223.6 L58.7,222.8 L59.4,222.1 L60.0,221.8 L60.6,221.4 L61.2,220.7 L61.9,220.0 L62.5,219.3 L63.1,219.1 L63.7,218.4 L64.4,218.1 L65.0,217.5 L65.6,217.1 L66.2,216.4 L66.8,215.8 L67.5,215.3 L68.1,214.9 L68.7,214.9 L69.3,215.1 L70.0,215.4 L70.6,215.6 L71.2,215.9 L71.8,215.8 L72.5,216.1 L73.1,215.9 L73.7,216.3 L74.3,216.4 L75.0,216.2 L75.6,216.2 L76.2,216.3 L76.8,216.5 L77.4,216.9 L78.1,217.2 L78.7,217.8 L79.3,218.3 L79.9,218.7 L80.6,219.2 L81.2,219.2 L81.8,219.4 L82.4,219.8 L83.1,220.1 L83.7,219.9 L84.3,219.3 L84.9,218.8 L85.6,218.7 L86.2,218.7 L86.8,219.1 L87.4,219.0 L88.0,218.9 L88.7,218.1 L89.3,217.9 L89.9,217.4 L90.5,217.2 L91.2,216.7 L91.8,216.1 L92.4,215.1 L93.0,214.1 L93.7,213.3 L94.3,212.7 L94.9,211.7 L95.5,210.6 L96.2,209.5 L96.8,208.9 L97.4,208.4 L98.0,207.5 L98.6,206.5 L99.3,205.8 L99.9,205.3 L100.5,204.5 L101.1,203.8 L101.8,203.0 L102.4,202.5 L103.0,201.4 L103.6,200.2 L104.3,199.0 L104.9,198.2 L105.5,196.9 L106.1,195.3 L106.8,193.5 L107.4,192.2 L108.0,191.3 L108.6,190.1 L109.2,189.1 L109.9,187.5 L110.5,186.6 L111.1,185.5 L111.7,184.8 L112.4,183.9 L113.0,182.7 L113.6,181.5 L114.2,180.1 L114.9,179.0 L115.5,177.7 L116.1,176.7 L116.7,175.5 L117.3,174.2 L118.0,172.7 L118.6,170.8 L119.2,168.7 L119.8,166.8 L120.5,165.1 L121.1,163.1 L121.7,160.8 L122.3,158.4 L123.0,156.3 L123.6,153.4 L124.2,150.6 L124.8,147.2 L125.5,144.3 L126.1,141.0 L126.7,137.7 L127.3,134.1 L127.9,130.3 L128.6,126.3 L129.2,122.6 L129.8,119.2 L130.4,116.1 L131.1,113.2 L131.7,110.3 L132.3,108.3 L132.9,106.1 L133.6,104.4 L134.2,101.9 L134.8,99.5 L135.4,96.9 L136.1,94.3 L136.7,92.0 L137.3,89.8 L137.9,87.6 L138.5,85.8 L139.2,84.6 L139.8,83.5 L140.4,83.1 L141.0,82.4 L141.7,82.6 L142.3,82.9 L142.9,84.2 L143.5,85.8 L144.2,87.6 L144.8,89.4 L145.4,91.3 L146.0,93.2 L146.7,95.3 L147.3,97.8 L147.9,99.7 L148.5,101.7 L149.1,103.3 L149.8,105.1 L150.4,106.8 L151.0,108.7 L151.6,110.8 L152.3,112.7 L152.9,114.2 L153.5,115.9 L154.1,118.1 L154.8,120.5 L155.4,122.8 L156.0,125.1 L156.6,127.3 L157.3,129.9 L157.9,132.1 L158.5,134.5 L159.1,136.0 L159.7,138.3 L160.4,140.1 L161.0,142.1 L161.6,143.8 L162.2,145.5 L162.9,147.6 L163.5,149.0 L164.1,150.8 L164.7,152.5 L165.4,154.4 L166.0,156.1 L166.6,157.5 L167.2,159.3 L167.9,160.8 L168.5,162.3 L169.1,163.6 L169.7,165.0 L170.3,166.6 L171.0,168.1 L171.6,169.7 L172.2,171.0 L172.8,172.4 L173.5,173.9 L174.1,175.0 L174.7,176.3 L175.3,177.3 L176.0,178.3 L176.6,179.4 L177.2,180.5 L177.8,181.6 L178.5,182.4 L179.1,183.3 L179.7,184.2 L180.3,185.2 L180.9,185.8 L181.6,186.1 L182.2,186.7 L182.8,187.3 L183.4,188.3 L184.1,189.0 L184.7,189.9 L185.3,190.7 L185.9,191.7 L186.6,192.7 L187.2,193.5 L187.8,194.0 L188.4,194.2 L189.1,194.4 L189.7,194.4 L190.3,194.2 L190.9,193.7 L191.5,193.5 L192.2,193.3 L192.8,193.2 L193.4,192.5 L194.0,192.1 L194.7,192.0 L195.3,192.1 L195.9,191.6 L196.5,191.4 L197.2,191.1 L197.8,191.5 L198.4,191.8 L199.0,192.3 L199.7,192.7 L200.3,193.2 L200.9,194.1 L201.5,195.2 L202.1,195.8 L202.8,196.5 L203.4,197.1 L204.0,198.1 L204.6,198.7 L205.3,199.0 L205.9,198.9 L206.5,198.2 L207.1,197.4 L207.8,196.4 L208.4,194.7 L209.0,193.7 L209.6,193.3 L210.3,194.3 L210.9,195.6 L211.5,196.4 L212.1,197.4 L212.7,198.5 L213.4,199.9 L214.0,200.6 L214.6,201.3 L215.2,201.9 L215.9,202.8 L216.5,203.8 L217.1,204.7 L217.7,205.6 L218.4,206.1 L219.0,206.8 L219.6,207.3 L220.2,207.8 L220.9,208.3 L221.5,208.6 L222.1,209.0 L222.7,209.5 L223.3,209.9 L224.0,210.0 L224.6,210.1 L225.2,210.7 L225.8,211.2 L226.5,211.5 L227.1,211.7 L227.7,212.2 L228.3,212.8 L229.0,213.0 L229.6,213.2 L230.2,213.3 L230.8,213.4 L231.5,213.3 L232.1,213.4 L232.7,213.7 L233.3,213.9 L233.9,214.3 L234.6,214.5 L235.2,214.7 L235.8,214.6 L236.4,214.4 L237.1,214.7 L237.7,214.7 L238.3,215.0 L238.9,214.9 L239.6,215.3 L240.2,215.1 L240.8,215.1 L241.4,215.0 L242.0,215.0 L242.7,214.9 L243.3,214.7 L243.9,214.7 L244.5,214.8 L245.2,215.2 L245.8,215.1 L246.4,215.2 L247.0,215.2 L247.7,215.5 L248.3,215.7 L248.9,215.6 L249.5,215.6 L250.2,215.6 L250.8,215.9 L251.4,216.1 L252.0,216.1 L252.6,215.9 L253.3,216.0 L253.9,216.6 L254.5,216.9 L255.1,216.9 L255.8,216.8 L256.4,216.8 L257.0,216.9 L257.6,217.3 L258.3,217.6 L258.9,218.1 L259.5,218.0 L260.1,218.2 L260.8,218.0 L261.4,218.1 L262.0,218.3 L262.6,218.5 L263.2,218.7 L263.9,219.2 L264.5,219.4 L265.1,219.7 L265.7,219.7 L266.4,219.8 L267.0,219.9 L267.6,220.1 L268.2,220.4 L268.9,220.9 L269.5,220.9 L270.1,221.5 L270.7,221.3 L271.4,221.2 L272.0,221.1 L272.6,221.5 L273.2,222.2 L273.8,222.3 L274.5,222.3 L275.1,222.2 L275.7,222.4 L276.3,222.6 L277.0,222.7 L277.6,222.6 L278.2,222.7 L278.8,222.9 L279.5,223.2 L280.1,223.2 L280.7,223.4 L281.3,223.7 L282.0,224.1 L282.6,224.0 L283.2,224.4 L283.8,224.4 L284.4,224.8 L285.1,224.8 L285.7,225.1 L286.3,225.1 L286.9,224.9 L287.6,224.5 L288.2,224.9 L288.8,225.0 L289.4,225.2 L290.1,225.1 L290.7,225.2 L291.3,225.3 L291.9,225.9 L292.6,226.0 L293.2,226.1 L293.8,225.9 L294.4,226.3 L295.0,226.6 L295.7,226.5 L296.3,226.2 L296.9,226.3 L297.5,226.4 L298.2,226.6 L298.8,226.5 L299.4,226.8 L300.0,226.7 L300.7,226.6 L301.3,226.2 L301.9,226.2 L302.5,226.3 L303.2,226.6 L303.8,227.0 L304.4,227.2 L305.0,227.2 L305.6,227.2 L306.3,227.3 L306.9,227.4 L307.5,227.4 L308.1,227.4 L308.8,227.2 L309.4,227.4 L310.0,227.6 L310.6,227.7 L311.3,227.6 L311.9,227.7 L312.5,227.9" stroke="rgb(205,231,4)" stroke-width="0.95"/>
<path d="M38.2,-519.1 L38.3,-10.7 L38.5,89.5 L38.6,121.2 L38.8,134.0 L38.9,141.9 L39.1,149.4 L39.3,155.7 L39.4,161.0 L39.6,165.3 L39.7,169.1 L39.9,172.7 L40.0,176.2 L40.2,179.0 L40.3,181.9 L40.5,184.6 L40.7,187.8 L40.8,190.3 L41.0,192.8 L41.1,195.3 L41.3,197.8 L41.4,200.1 L41.6,202.2 L41.8,204.5 L41.9,206.5 L42.1,208.2 L42.2,209.9 L42.4,211.7 L42.5,213.3 L42.7,214.5 L42.8,215.7 L43.0,216.8 L43.2,217.5 L43.3,218.3 L43.5,218.9 L43.6,219.6 L43.8,219.8 L43.9,220.4 L44.1,220.8 L44.2,221.1 L44.4,221.4 L45.0,222.9 L45.6,224.0 L46.3,224.5 L46.9,225.0 L47.5,225.8 L48.1,226.5 L48.8,226.7 L49.4,226.7 L50.0,226.7 L50.6,227.0 L51.3,227.0 L51.9,227.3 L52.5,227.1 L53.1,227.2 L53.8,227.1 L54.4,227.1 L55.0,226.5 L55.6,226.2 L56.2,225.4 L56.9,225.4 L57.5,224.8 L58.1,224.6 L58.7,223.9 L59.4,223.4 L60.0,222.9 L60.6,222.4 L61.2,222.0 L61.9,221.1 L62.5,220.4 L63.1,220.0 L63.7,219.7 L64.4,219.4 L65.0,218.6 L65.6,217.8 L66.2,217.5 L66.8,217.4 L67.5,217.2 L68.1,216.7 L68.7,216.0 L69.3,215.9 L70.0,216.0 L70.6,216.0 L71.2,216.1 L71.8,215.9 L72.5,215.8 L73.1,215.4 L73.7,215.2 L74.3,215.3 L75.0,215.6 L75.6,215.6 L76.2,215.5 L76.8,215.3 L77.4,215.9 L78.1,216.6 L78.7,217.3 L79.3,217.8 L79.9,218.0 L80.6,218.2 L81.2,218.4 L81.8,218.6 L82.4,219.0 L83.1,219.4 L83.7,219.2 L84.3,218.9 L84.9,218.6 L85.6,218.2 L86.2,218.2 L86.8,217.8 L87.4,217.8 L88.0,217.6 L88.7,217.3 L89.3,217.0 L89.9,216.5 L90.5,216.5 L91.2,216.3 L91.8,216.0 L92.4,215.1 L93.0,214.2 L93.7,213.1 L94.3,212.3 L94.9,211.3 L95.5,210.4 L96.2,209.1 L96.8,208.6 L97.4,207.7 L98.0,207.2 L98.6,206.2 L99.3,205.8 L99.9,205.1 L100.5,204.3 L101.1,203.4 L101.8,202.3 L102.4,201.5 L103.0,200.8 L103.6,199.7 L104.3,198.4 L104.9,196.6 L105.5,195.3 L106.1,194.1 L106.8,192.8 L107.4,191.7 L108.0,190.3 L108.6,189.2 L109.2,187.8 L109.9,186.6 L110.5,185.6 L111.1,184.5 L111.7,183.2 L112.4,181.9 L113.0,180.8 L113.6,179.8 L114.2,178.5 L114.9,177.5 L115.5,176.5 L116.1,175.3 L116.7,173.6 L117.3,172.1 L118.0,170.7 L118.6,168.9 L119.2,167.0 L119.8,164.6 L120.5,162.9 L121.1,160.3 L121.7,158.3 L122.3,155.9 L123.0,153.4 L123.6,150.2 L124.2,146.8 L124.8,143.2 L125.5,139.8 L126.1,136.4 L126.7,133.0 L127.3,129.2 L127.9,125.0 L128.6,121.0 L129.2,117.0 L129.8,113.5 L130.4,110.6 L131.1,108.0 L131.7,105.9 L132.3,103.5 L132.9,101.0 L133.6,98.5 L134.2,95.8 L134.8,93.3 L135.4,90.4 L136.1,88.4 L136.7,86.4 L137.3,84.7 L137.9,82.3 L138.5,80.6 L139.2,79.1 L139.8,78.2 L140.4,77.3 L141.0,77.3 L141.7,77.8 L142.3,79.0 L142.9,80.3 L143.5,82.0 L144.2,84.1 L144.8,86.1 L145.4,88.1 L146.0,90.2 L146.7,92.4 L147.3,94.8 L147.9,97.0 L148.5,99.0 L149.1,101.0 L149.8,102.5 L150.4,104.6 L151.0,106.3 L151.6,108.7 L152.3,110.6 L152.9,112.8 L153.5,114.9 L154.1,117.1 L154.8,119.3 L155.4,121.4 L156.0,124.0 L156.6,126.4 L157.3,129.2 L157.9,131.6 L158.5,133.9 L159.1,135.7 L159.7,137.7 L160.4,139.6 L161.0,141.3 L161.6,143.2 L162.2,145.1 L162.9,147.4 L163.5,149.3 L164.1,151.1 L164.7,152.8 L165.4,154.7 L166.0,156.6 L166.6,158.2 L167.2,159.9 L167.9,161.6 L168.5,163.4 L169.1,164.9 L169.7,166.5 L170.3,167.8 L171.0,168.9 L171.6,170.2 L172.2,171.8 L172.8,173.4 L173.5,174.9 L174.1,176.1 L174.7,177.2 L175.3,178.0 L176.0,178.8 L176.6,180.1 L177.2,181.0 L177.8,182.3 L178.5,183.1 L179.1,184.0 L179.7,184.9 L180.3,185.7 L180.9,186.4 L181.6,187.2 L182.2,187.8 L182.8,188.5 L183.4,189.1 L184.1,190.0 L184.7,190.8 L185.3,191.7 L185.9,192.7 L186.6,194.1 L187.2,195.4 L187.8,195.7 L188.4,195.8 L189.1,195.4 L189.7,195.2 L190.3,194.8 L190.9,194.7 L191.5,194.5 L192.2,194.2 L192.8,193.8 L193.4,193.3 L194.0,192.8 L194.7,192.6 L195.3,192.1 L195.9,191.9 L196.5,191.2 L197.2,191.2 L197.8,191.3 L198.4,192.1 L199.0,192.5 L199.7,192.7 L200.3,193.0 L200.9,193.8 L201.5,194.8 L202.1,195.7 L202.8,196.8 L203.4,197.7 L204.0,198.4 L204.6,198.7 L205.3,199.1 L205.9,198.7 L206.5,198.2 L207.1,197.2 L207.8,196.3 L208.4,194.5 L209.0,193.1 L209.6,192.4 L210.3,192.9 L210.9,194.5 L211.5,196.1 L212.1,197.4 L212.7,198.5 L213.4,199.5 L214.0,200.5 L214.6,201.2 L215.2,202.0 L215.9,202.6 L216.5,203.4 L217.1,204.4 L217.7,205.2 L218.4,206.1 L219.0,206.6 L219.6,207.1 L220.2,207.3 L220.9,207.5 L221.5,208.3 L222.1,208.9 L222.7,210.0 L223.3,210.3 L224.0,210.9 L224.6,210.9 L225.2,211.1 L225.8,211.4 L226.5,211.8 L227.1,212.1 L227.7,212.0 L228.3,212.5 L229.0,212.6 L229.6,213.0 L230.2,213.0 L230.8,213.2 L231.5,213.2 L232.1,213.3 L232.7,213.4 L233.3,213.4 L233.9,213.2 L234.6,213.4 L235.2,213.6 L235.8,214.3 L236.4,214.3 L237.1,214.8 L237.7,214.6 L238.3,214.7 L238.9,214.6 L239.6,214.6 L240.2,215.0 L240.8,214.6 L241.4,214.7 L242.0,214.4 L242.7,214.7 L243.3,214.7 L243.9,215.0 L244.5,215.2 L245.2,215.1 L245.8,214.7 L246.4,214.5 L247.0,214.9 L247.7,215.3 L248.3,215.3 L248.9,215.4 L249.5,215.3 L250.2,215.4 L250.8,215.3 L251.4,215.6 L252.0,215.5 L252.6,215.9 L253.3,216.2 L253.9,216.5 L254.5,216.5 L255.1,216.4 L255.8,216.6 L256.4,216.9 L257.0,217.2 L257.6,216.9 L258.3,217.1 L258.9,217.3 L259.5,217.9 L260.1,217.8 L260.8,217.8 L261.4,218.0 L262.0,218.1 L262.6,218.7 L263.2,219.4 L263.9,219.8 L264.5,219.7 L265.1,219.5 L265.7,219.7 L266.4,220.0 L267.0,220.2 L267.6,220.4 L268.2,220.3 L268.9,220.6 L269.5,220.8 L270.1,220.9 L270.7,221.1 L271.4,221.2 L272.0,221.8 L272.6,222.1 L273.2,222.4 L273.8,222.4 L274.5,222.5 L275.1,222.3 L275.7,222.5 L276.3,222.7 L277.0,222.9 L277.6,223.2 L278.2,222.9 L278.8,222.8 L279.5,222.9 L280.1,223.5 L280.7,223.8 L281.3,223.9 L282.0,223.7 L282.6,223.9 L283.2,224.2 L283.8,224.2 L284.4,224.2 L285.1,224.3 L285.7,224.5 L286.3,224.7 L286.9,224.6 L287.6,224.8 L288.2,224.9 L288.8,225.3 L289.4,225.3 L290.1,225.4 L290.7,225.4 L291.3,225.8 L291.9,226.1 L292.6,226.0 L293.2,225.9 L293.8,225.8 L294.4,226.1 L295.0,226.4 L295.7,226.5 L296.3,226.4 L296.9,226.4 L297.5,226.6 L298.2,226.4 L298.8,226.5 L299.4,226.6 L300.0,226.8 L300.7,226.6 L301.3,226.8 L301.9,227.3 L302.5,227.3 L303.2,226.9 L303.8,226.9 L304.4,227.2 L305.0,227.4 L305.6,227.2 L306.3,227.6 L306.9,227.9 L307.5,228.0 L308.1,227.7 L308.8,227.5 L309.4,227.5 L310.0,227.4 L310.6,227.4 L311.3,227.5 L311.9,227.6 L312.5,227.7" stroke="rgb(243,233,0)" stroke-width="0.95"/>
<path d="M38.2,-519.3 L38.3,-10.8 L38.5,89.6 L38.6,121.3 L38.8,133.8 L38.9,142.4 L39.1,150.0 L39.3,156.2 L39.4,160.8 L39.6,165.3 L39.7,169.1 L39.9,172.7 L40.0,175.7 L40.2,179.0 L40.3,182.1 L40.5,184.9 L40.7,187.3 L40.8,189.8 L41.0,192.5 L41.1,195.1 L41.3,197.7 L41.4,199.9 L41.6,202.0 L41.8,204.1 L41.9,206.0 L42.1,208.2 L42.2,209.9 L42.4,211.8 L42.5,212.9 L42.7,214.5 L42.8,215.7 L43.0,217.1 L43.2,218.0 L43.3,218.7 L43.5,219.2 L43.6,219.4 L43.8,219.7 L43.9,220.4 L44.1,221.0 L44.2,221.4 L44.4,221.9 L45.0,223.0 L45.6,223.9 L46.3,224.6 L46.9,225.0 L47.5,225.6 L48.1,226.1 L48.8,226.5 L49.4,227.0 L50.0,227.2 L50.6,227.9 L51.3,228.1 L51.9,227.9 L52.5,227.8 L53.1,227.8 L53.8,228.1 L54.4,227.9 L55.0,227.8 L55.6,227.7 L56.2,227.3 L56.9,226.5 L57.5,225.8 L58.1,225.0 L58.7,224.9 L59.4,224.6 L60.0,224.4 L60.6,223.7 L61.2,223.2 L61.9,222.9 L62.5,222.3 L63.1,221.9 L63.7,221.1 L64.4,220.8 L65.0,220.4 L65.6,220.0 L66.2,219.6 L66.8,219.3 L67.5,218.8 L68.1,218.2 L68.7,217.5 L69.3,217.3 L70.0,217.5 L70.6,217.4 L71.2,217.1 L71.8,216.6 L72.5,216.5 L73.1,216.3 L73.7,216.0 L74.3,215.5 L75.0,215.2 L75.6,215.0 L76.2,215.1 L76.8,215.3 L77.4,215.5 L78.1,216.1 L78.7,216.6 L79.3,216.9 L79.9,217.0 L80.6,217.3 L81.2,217.7 L81.8,218.2 L82.4,218.2 L83.1,218.0 L83.7,217.7 L84.3,217.7 L84.9,217.7 L85.6,217.6 L86.2,217.3 L86.8,217.5 L87.4,217.4 L88.0,217.1 L88.7,216.5 L89.3,216.3 L89.9,216.2 L90.5,215.7 L91.2,215.1 L91.8,214.6 L92.4,214.1 L93.0,213.5 L93.7,212.8 L94.3,211.9 L94.9,210.9 L95.5,209.8 L96.2,208.8 L96.8,208.0 L97.4,207.2 L98.0,206.7 L98.6,205.8 L99.3,204.9 L99.9,204.2 L100.5,204.0 L101.1,203.4 L101.8,202.3 L102.4,201.2 L103.0,200.4 L103.6,199.0 L104.3,197.7 L104.9,196.1 L105.5,194.9 L106.1,193.3 L106.8,191.7 L107.4,190.2 L108.0,189.1 L108.6,188.1 L109.2,186.9 L109.9,185.5 L110.5,184.4 L111.1,183.4 L111.7,182.4 L112.4,181.2 L113.0,180.0 L113.6,178.6 L114.2,177.1 L114.9,175.8 L115.5,174.5 L116.1,173.2 L116.7,171.8 L117.3,170.1 L118.0,168.5 L118.6,166.7 L119.2,164.7 L119.8,162.6 L120.5,160.3 L121.1,158.1 L121.7,155.6 L122.3,153.0 L123.0,150.0 L123.6,146.9 L124.2,143.6 L124.8,140.1 L125.5,136.2 L126.1,132.4 L126.7,128.3 L127.3,124.3 L127.9,120.3 L128.6,116.3 L129.2,112.6 L129.8,109.0 L130.4,106.0 L131.1,103.5 L131.7,101.0 L132.3,98.5 L132.9,96.2 L133.6,93.7 L134.2,91.1 L134.8,88.3 L135.4,85.9 L136.1,83.4 L136.7,81.1 L137.3,79.2 L137.9,77.5 L138.5,76.1 L139.2,74.5 L139.8,73.3 L140.4,72.5 L141.0,72.7 L141.7,73.6 L142.3,75.0 L142.9,76.7 L143.5,78.3 L144.2,80.5 L144.8,82.5 L145.4,85.0 L146.0,87.4 L146.7,90.1 L147.3,92.8 L147.9,95.0 L148.5,96.7 L149.1,98.3 L149.8,100.3 L150.4,102.2 L151.0,104.5 L151.6,106.4 L152.3,108.5 L152.9,110.3 L153.5,112.8 L154.1,115.3 L154.8,117.7 L155.4,120.3 L156.0,122.9 L156.6,125.6 L157.3,127.8 L157.9,130.5 L158.5,132.6 L159.1,134.8 L159.7,136.6 L160.4,138.9 L161.0,141.5 L161.6,143.7 L162.2,146.1 L162.9,147.8 L163.5,149.7 L164.1,151.2 L164.7,153.1 L165.4,154.9 L166.0,156.8 L166.6,158.7 L167.2,160.5 L167.9,161.8 L168.5,163.2 L169.1,164.8 L169.7,166.4 L170.3,167.9 L171.0,169.2 L171.6,171.1 L172.2,172.8 L172.8,173.9 L173.5,175.0 L174.1,176.3 L174.7,177.6 L175.3,178.8 L176.0,180.1 L176.6,181.5 L177.2,182.7 L177.8,183.6 L178.5,184.5 L179.1,185.4 L179.7,186.1 L180.3,186.7 L180.9,187.3 L181.6,188.0 L182.2,188.6 L182.8,189.3 L183.4,190.0 L184.1,191.1 L184.7,192.0 L185.3,192.9 L185.9,194.1 L186.6,195.0 L187.2,195.7 L187.8,196.0 L188.4,195.7 L189.1,195.6 L189.7,195.6 L190.3,195.4 L190.9,195.3 L191.5,194.7 L192.2,194.6 L192.8,194.2 L193.4,193.9 L194.0,193.3 L194.7,193.0 L195.3,192.7 L195.9,192.4 L196.5,192.3 L197.2,192.2 L197.8,192.1 L198.4,192.2 L199.0,192.6 L199.7,192.9 L200.3,193.5 L200.9,194.0 L201.5,194.9 L202.1,195.4 L202.8,196.3 L203.4,197.3 L204.0,198.2 L204.6,198.9 L205.3,199.6 L205.9,199.0 L206.5,198.1 L207.1,196.8 L207.8,195.9 L208.4,194.1 L209.0,192.8 L209.6,192.2 L210.3,192.9 L210.9,193.9 L211.5,195.2 L212.1,196.1 L212.7,197.5 L213.4,198.6 L214.0,199.7 L214.6,200.7 L215.2,201.8 L215.9,202.8 L216.5,203.6 L217.1,204.1 L217.7,204.8 L218.4,205.6 L219.0,206.3 L219.6,207.2 L220.2,207.6 L220.9,208.1 L221.5,208.2 L222.1,208.8 L222.7,209.3 L223.3,209.8 L224.0,210.2 L224.6,210.4 L225.2,210.8 L225.8,211.3 L226.5,211.5 L227.1,212.0 L227.7,212.3 L228.3,212.6 L229.0,212.3 L229.6,212.6 L230.2,212.7 L230.8,213.0 L231.5,213.2 L232.1,213.7 L232.7,214.1 L233.3,213.9 L233.9,214.0 L234.6,213.7 L235.2,213.8 L235.8,213.7 L236.4,213.8 L237.1,214.1 L237.7,214.3 L238.3,214.5 L238.9,214.3 L239.6,214.4 L240.2,214.5 L240.8,214.7 L241.4,214.8 L242.0,214.8 L242.7,214.6 L243.3,214.7 L243.9,214.8 L244.5,214.8 L245.2,214.5 L245.8,214.5 L246.4,214.6 L247.0,215.0 L247.7,215.4 L248.3,215.6 L248.9,215.6 L249.5,215.5 L250.2,215.4 L250.8,215.3 L251.4,215.1 L252.0,215.5 L252.6,215.8 L253.3,216.5 L253.9,216.6 L254.5,216.8 L255.1,216.9 L255.8,217.0 L256.4,217.1 L257.0,217.3 L257.6,217.2 L258.3,217.1 L258.9,217.1 L259.5,217.3 L260.1,217.9 L260.8,218.2 L261.4,218.4 L262.0,218.4 L262.6,218.5 L263.2,218.9 L263.9,219.1 L264.5,219.1 L265.1,219.1 L265.7,219.4 L266.4,219.9 L267.0,220.4 L267.6,220.4 L268.2,220.3 L268.9,220.4 L269.5,220.6 L270.1,220.9 L270.7,221.0 L271.4,221.5 L272.0,221.5 L272.6,221.7 L273.2,221.8 L273.8,222.0 L274.5,222.4 L275.1,222.2 L275.7,222.1 L276.3,222.1 L277.0,222.7 L277.6,223.3 L278.2,223.4 L278.8,223.5 L279.5,223.0 L280.1,223.3 L280.7,223.5 L281.3,223.8 L282.0,223.4 L282.6,223.6 L283.2,223.7 L283.8,224.1 L284.4,224.0 L285.1,224.5 L285.7,224.8 L286.3,224.9 L286.9,224.8 L287.6,224.7 L288.2,224.8 L288.8,225.3 L289.4,225.6 L290.1,225.8 L290.7,225.8 L291.3,225.7 L291.9,225.6 L292.6,225.4 L293.2,225.6 L293.8,226.2 L294.4,226.3 L295.0,226.1 L295.7,226.0 L296.3,226.1 L296.9,226.3 L297.5,226.4 L298.2,226.7 L298.8,226.5 L299.4,226.4 L300.0,226.1 L300.7,226.4 L301.3,226.6 L301.9,227.1 L302.5,227.2 L303.2,227.4 L303.8,227.3 L304.4,227.5 L305.0,227.8 L305.6,227.6 L306.3,227.5 L306.9,227.2 L307.5,227.4 L308.1,227.4 L308.8,227.2 L309.4,227.2 L310.0,227.3 L310.6,228.0 L311.3,227.7 L311.9,227.6 L312.5,227.2" stroke="rgb(254,226,0)" stroke-width="0.95"/>
<path d="M38.2,-519.5 L38.3,-11.2 L38.5,89.3 L38.6,121.1 L38.8,133.7 L38.9,142.1 L39.1,149.3 L39.3,155.7 L39.4,160.6 L39.6,165.0 L39.7,168.8 L39.9,172.5 L40.0,176.0 L40.2,179.1 L40.3,181.9 L40.5,184.9 L40.7,187.8 L40.8,190.4 L41.0,192.8 L41.1,195.2 L41.3,197.6 L41.4,200.0 L41.6,202.2 L41.8,204.1 L41.9,205.7 L42.1,207.4 L42.2,209.2 L42.4,211.2 L42.5,213.0 L42.7,214.6 L42.8,216.1 L43.0,217.3 L43.2,218.3 L43.3,218.5 L43.5,219.1 L43.6,219.2 L43.8,219.9 L43.9,219.9 L44.1,220.6 L44.2,220.9 L44.4,221.3 L45.0,222.9 L45.6,223.9 L46.3,224.7 L46.9,225.2 L47.5,225.8 L48.1,226.7 L48.8,226.9 L49.4,227.4 L50.0,227.5 L50.6,227.9 L51.3,228.0 L51.9,228.4 L52.5,228.6 L53.1,228.3 L53.8,228.2 L54.4,227.8 L55.0,227.8 L55.6,227.4 L56.2,227.5 L56.9,227.3 L57.5,227.2 L58.1,226.7 L58.7,226.3 L59.4,226.2 L60.0,226.0 L60.6,225.9 L61.2,225.1 L61.9,224.4 L62.5,223.7 L63.1,223.3 L63.7,223.0 L64.4,222.5 L65.0,222.1 L65.6,221.5 L66.2,221.0 L66.8,220.5 L67.5,220.0 L68.1,219.0 L68.7,218.4 L69.3,217.8 L70.0,217.7 L70.6,217.4 L71.2,217.6 L71.8,217.6 L72.5,217.1 L73.1,216.2 L73.7,215.6 L74.3,215.3 L75.0,214.8 L75.6,214.6 L76.2,214.4 L76.8,214.7 L77.4,215.3 L78.1,215.5 L78.7,216.3 L79.3,216.5 L79.9,217.2 L80.6,217.4 L81.2,217.4 L81.8,217.1 L82.4,216.9 L83.1,216.9 L83.7,217.4 L84.3,217.1 L84.9,217.1 L85.6,216.5 L86.2,216.6 L86.8,216.3 L87.4,216.5 L88.0,216.4 L88.7,216.2 L89.3,215.9 L89.9,215.5 L90.5,215.4 L91.2,215.1 L91.8,214.6 L92.4,214.0 L93.0,212.7 L93.7,211.8 L94.3,210.7 L94.9,209.9 L95.5,208.7 L96.2,208.2 L96.8,207.3 L97.4,206.8 L98.0,205.7 L98.6,205.2 L99.3,204.5 L99.9,204.0 L100.5,203.2 L101.1,202.6 L101.8,201.7 L102.4,200.8 L103.0,199.6 L103.6,198.5 L104.3,197.0 L104.9,195.5 L105.5,193.9 L106.1,192.4 L106.8,191.0 L107.4,189.6 L108.0,188.5 L108.6,187.0 L109.2,185.8 L109.9,184.6 L110.5,183.6 L111.1,182.5 L111.7,181.4 L112.4,180.1 L113.0,178.9 L113.6,177.6 L114.2,176.2 L114.9,175.1 L115.5,173.6 L116.1,172.3 L116.7,170.6 L117.3,168.9 L118.0,167.2 L118.6,165.1 L119.2,163.2 L119.8,161.0 L120.5,158.9 L121.1,156.0 L121.7,153.2 L122.3,150.2 L123.0,147.4 L123.6,144.1 L124.2,140.5 L124.8,136.8 L125.5,133.2 L126.1,129.2 L126.7,125.1 L127.3,120.8 L127.9,116.8 L128.6,112.5 L129.2,108.6 L129.8,104.9 L130.4,102.3 L131.1,99.8 L131.7,97.6 L132.3,95.0 L132.9,92.3 L133.6,89.5 L134.2,86.5 L134.8,83.6 L135.4,81.2 L136.1,79.0 L136.7,76.8 L137.3,74.7 L137.9,72.8 L138.5,71.4 L139.2,69.8 L139.8,68.7 L140.4,68.3 L141.0,69.0 L141.7,70.3 L142.3,71.7 L142.9,73.2 L143.5,75.2 L144.2,77.2 L144.8,79.5 L145.4,82.1 L146.0,85.2 L146.7,87.5 L147.3,89.6 L147.9,91.8 L148.5,94.3 L149.1,96.2 L149.8,98.0 L150.4,99.8 L151.0,102.2 L151.6,104.3 L152.3,106.7 L152.9,109.4 L153.5,112.2 L154.1,114.7 L154.8,116.9 L155.4,119.7 L156.0,122.6 L156.6,125.2 L157.3,127.7 L157.9,129.9 L158.5,132.0 L159.1,134.2 L159.7,136.6 L160.4,139.3 L161.0,141.3 L161.6,143.3 L162.2,145.0 L162.9,147.2 L163.5,149.4 L164.1,151.7 L164.7,153.7 L165.4,155.3 L166.0,157.1 L166.6,158.8 L167.2,160.7 L167.9,162.4 L168.5,164.0 L169.1,165.6 L169.7,167.1 L170.3,168.9 L171.0,170.3 L171.6,171.8 L172.2,173.1 L172.8,174.4 L173.5,175.7 L174.1,176.8 L174.7,178.4 L175.3,179.4 L176.0,180.8 L176.6,181.5 L177.2,182.6 L177.8,183.5 L178.5,184.7 L179.1,185.7 L179.7,186.4 L180.3,187.1 L180.9,188.0 L181.6,189.0 L182.2,189.6 L182.8,190.3 L183.4,190.9 L184.1,191.5 L184.7,192.3 L185.3,193.4 L185.9,194.8 L186.6,196.0 L187.2,196.8 L187.8,197.3 L188.4,197.0 L189.1,196.8 L189.7,196.4 L190.3,196.8 L190.9,196.5 L191.5,196.3 L192.2,195.3 L192.8,195.0 L193.4,194.2 L194.0,193.6 L194.7,192.9 L195.3,192.7 L195.9,192.5 L196.5,192.1 L197.2,192.0 L197.8,191.9 L198.4,192.1 L199.0,192.3 L199.7,192.6 L200.3,193.1 L200.9,193.7 L201.5,194.6 L202.1,195.7 L202.8,196.8 L203.4,197.4 L204.0,198.1 L204.6,198.2 L205.3,198.7 L205.9,198.2 L206.5,197.8 L207.1,196.8 L207.8,195.5 L208.4,193.6 L209.0,192.1 L209.6,191.2 L210.3,191.9 L210.9,193.8 L211.5,195.7 L212.1,196.8 L212.7,197.6 L213.4,198.6 L214.0,199.4 L214.6,200.1 L215.2,201.0 L215.9,201.7 L216.5,203.1 L217.1,203.9 L217.7,205.0 L218.4,205.5 L219.0,206.4 L219.6,206.8 L220.2,207.6 L220.9,207.8 L221.5,208.5 L222.1,208.9 L222.7,209.4 L223.3,209.8 L224.0,210.2 L224.6,210.9 L225.2,211.0 L225.8,211.2 L226.5,211.3 L227.1,211.8 L227.7,212.2 L228.3,212.5 L229.0,212.8 L229.6,213.0 L230.2,213.0 L230.8,213.1 L231.5,213.1 L232.1,213.4 L232.7,213.7 L233.3,213.9 L233.9,214.0 L234.6,213.8 L235.2,213.8 L235.8,213.5 L236.4,213.7 L237.1,213.8 L237.7,214.2 L238.3,214.6 L238.9,214.4 L239.6,214.5 L240.2,214.4 L240.8,214.8 L241.4,214.7 L242.0,214.7 L242.7,214.5 L243.3,214.6 L243.9,214.8 L244.5,215.0 L245.2,214.9 L245.8,214.8 L246.4,214.8 L247.0,214.9 L247.7,214.8 L248.3,215.0 L248.9,215.2 L249.5,215.4 L250.2,215.4 L250.8,215.6 L251.4,215.9 L252.0,215.8 L252.6,215.9 L253.3,215.7 L253.9,216.0 L254.5,216.0 L255.1,216.1 L255.8,216.0 L256.4,216.6 L257.0,216.8 L257.6,217.1 L258.3,216.8 L258.9,217.2 L259.5,217.5 L260.1,217.9 L260.8,217.9 L261.4,218.1 L262.0,218.2 L262.6,218.2 L263.2,218.2 L263.9,218.5 L264.5,219.0 L265.1,219.3 L265.7,219.3 L266.4,219.6 L267.0,219.9 L267.6,219.9 L268.2,219.8 L268.9,220.1 L269.5,220.4 L270.1,220.7 L270.7,220.9 L271.4,221.2 L272.0,221.7 L272.6,221.8 L273.2,222.1 L273.8,221.8 L274.5,222.0 L275.1,222.1 L275.7,222.6 L276.3,222.7 L277.0,222.6 L277.6,222.6 L278.2,222.8 L278.8,223.0 L279.5,223.1 L280.1,223.0 L280.7,223.5 L281.3,223.4 L282.0,223.7 L282.6,223.6 L283.2,223.9 L283.8,224.1 L284.4,224.0 L285.1,224.2 L285.7,224.2 L286.3,224.6 L286.9,224.7 L287.6,225.1 L288.2,224.7 L288.8,224.8 L289.4,224.5 L290.1,224.7 L290.7,224.9 L291.3,225.7 L291.9,225.9 L292.6,226.0 L293.2,225.7 L293.8,226.0 L294.4,226.2 L295.0,226.5 L295.7,226.6 L296.3,226.4 L296.9,226.2 L297.5,226.1 L298.2,226.3 L298.8,226.5 L299.4,226.8 L300.0,226.4 L300.7,226.3 L301.3,226.1 L301.9,226.6 L302.5,227.0 L303.2,227.3 L303.8,227.4 L304.4,227.2 L305.0,227.3 L305.6,226.9 L306.3,227.0 L306.9,226.7 L307.5,227.1 L308.1,227.4 L308.8,227.8 L309.4,227.9 L310.0,227.6 L310.6,227.5 L311.3,227.4 L311.9,227.5 L312.5,227.6" stroke="rgb(255,191,0)" stroke-width="0.95"/>
<path d="M38.2,-519.3 L38.3,-10.9 L38.5,89.5 L38.6,121.7 L38.8,134.4 L38.9,142.3 L39.1,149.1 L39.3,155.5 L39.4,160.7 L39.6,165.4 L39.7,169.3 L39.9,173.0 L40.0,176.4 L40.2,179.0 L40.3,181.7 L40.5,184.0 L40.7,186.9 L40.8,189.5 L41.0,192.3 L41.1,195.2 L41.3,197.6 L41.4,199.9 L41.6,201.9 L41.8,204.0 L41.9,206.1 L42.1,208.0 L42.2,209.7 L42.4,211.3 L42.5,213.1 L42.7,214.5 L42.8,215.7 L43.0,216.5 L43.2,217.6 L43.3,218.4 L43.5,219.0 L43.6,219.4 L43.8,219.5 L43.9,220.1 L44.1,220.4 L44.2,221.1 L44.4,221.6 L45.0,223.1 L45.6,223.9 L46.3,225.0 L46.9,225.7 L47.5,226.7 L48.1,227.0 L48.8,227.3 L49.4,227.4 L50.0,227.6 L50.6,228.2 L51.3,228.4 L51.9,228.5 L52.5,228.4 L53.1,228.3 L53.8,228.8 L54.4,228.8 L55.0,228.7 L55.6,228.4 L56.2,228.4 L56.9,228.5 L57.5,228.4 L58.1,227.9 L58.7,227.5 L59.4,227.1 L60.0,226.9 L60.6,226.5 L61.2,226.0 L61.9,225.4 L62.5,224.9 L63.1,224.3 L63.7,223.6 L64.4,223.1 L65.0,222.9 L65.6,222.5 L66.2,222.0 L66.8,221.2 L67.5,220.7 L68.1,220.0 L68.7,219.5 L69.3,219.2 L70.0,218.6 L70.6,218.3 L71.2,217.8 L71.8,217.4 L72.5,216.9 L73.1,216.2 L73.7,215.6 L74.3,214.9 L75.0,214.4 L75.6,214.0 L76.2,213.8 L76.8,213.9 L77.4,214.4 L78.1,215.0 L78.7,215.4 L79.3,215.5 L79.9,215.8 L80.6,216.0 L81.2,216.7 L81.8,216.6 L82.4,216.6 L83.1,216.2 L83.7,216.5 L84.3,216.5 L84.9,216.5 L85.6,216.4 L86.2,216.4 L86.8,216.5 L87.4,216.1 L88.0,215.9 L88.7,215.6 L89.3,215.5 L89.9,215.0 L90.5,214.7 L91.2,214.5 L91.8,214.1 L92.4,213.3 L93.0,212.3 L93.7,211.2 L94.3,210.4 L94.9,209.2 L95.5,208.7 L96.2,208.1 L96.8,207.5 L97.4,206.5 L98.0,205.4 L98.6,204.7 L99.3,204.0 L99.9,203.2 L100.5,202.7 L101.1,202.0 L101.8,201.4 L102.4,200.4 L103.0,199.3 L103.6,197.9 L104.3,196.7 L104.9,195.3 L105.5,193.8 L106.1,192.2 L106.8,190.7 L107.4,189.5 L108.0,188.1 L108.6,187.1 L109.2,185.6 L109.9,184.4 L110.5,182.9 L111.1,181.8 L111.7,180.6 L112.4,179.5 L113.0,178.4 L113.6,176.9 L114.2,175.7 L114.9,174.3 L115.5,172.8 L116.1,171.3 L116.7,169.5 L117.3,168.0 L118.0,165.8 L118.6,163.8 L119.2,161.5 L119.8,159.4 L120.5,157.3 L121.1,154.6 L121.7,151.6 L122.3,148.6 L123.0,145.6 L123.6,142.3 L124.2,138.5 L124.8,134.6 L125.5,130.7 L126.1,126.8 L126.7,122.8 L127.3,118.6 L127.9,113.8 L128.6,109.4 L129.2,105.2 L129.8,102.3 L130.4,99.4 L131.1,96.8 L131.7,94.2 L132.3,91.7 L132.9,89.1 L133.6,86.2 L134.2,83.4 L134.8,80.5 L135.4,78.0 L136.1,75.9 L136.7,73.4 L137.3,71.4 L137.9,69.4 L138.5,67.9 L139.2,66.3 L139.8,65.2 L140.4,65.4 L141.0,66.1 L141.7,67.6 L142.3,69.0 L142.9,70.7 L143.5,72.8 L144.2,75.6 L144.8,77.9 L145.4,80.3 L146.0,82.5 L146.7,85.2 L147.3,87.7 L147.9,89.8 L148.5,92.0 L149.1,94.1 L149.8,96.4 L150.4,98.7 L151.0,100.8 L151.6,103.3 L152.3,105.7 L152.9,108.3 L153.5,110.6 L154.1,113.3 L154.8,115.9 L155.4,119.1 L156.0,122.0 L156.6,124.4 L157.3,126.4 L157.9,128.6 L158.5,131.1 L159.1,133.7 L159.7,135.8 L160.4,138.5 L161.0,140.7 L161.6,143.1 L162.2,145.2 L162.9,147.3 L163.5,149.3 L164.1,151.3 L164.7,153.4 L165.4,155.1 L166.0,157.0 L166.6,159.2 L167.2,161.4 L167.9,163.4 L168.5,164.7 L169.1,165.9 L169.7,167.4 L170.3,169.0 L171.0,170.5 L171.6,171.8 L172.2,173.3 L172.8,174.7 L173.5,176.4 L174.1,177.8 L174.7,178.9 L175.3,179.7 L176.0,180.9 L176.6,182.3 L177.2,183.5 L177.8,184.3 L178.5,185.3 L179.1,186.0 L179.7,187.0 L180.3,187.9 L180.9,188.7 L181.6,189.4 L182.2,190.0 L182.8,190.7 L183.4,191.5 L184.1,192.3 L184.7,192.9 L185.3,193.7 L185.9,194.9 L186.6,196.1 L187.2,197.4 L187.8,197.9 L188.4,197.8 L189.1,197.3 L189.7,197.0 L190.3,196.8 L190.9,196.8 L191.5,196.1 L192.2,195.9 L192.8,194.9 L193.4,194.6 L194.0,193.9 L194.7,193.6 L195.3,193.2 L195.9,192.5 L196.5,191.8 L197.2,191.6 L197.8,191.8 L198.4,192.3 L199.0,192.4 L199.7,192.8 L200.3,193.2 L200.9,193.9 L201.5,194.8 L202.1,195.7 L202.8,196.5 L203.4,197.4 L204.0,198.3 L204.6,199.0 L205.3,199.2 L205.9,198.4 L206.5,197.4 L207.1,196.2 L207.8,195.3 L208.4,193.4 L209.0,191.7 L209.6,190.7 L210.3,191.2 L210.9,193.0 L211.5,194.7 L212.1,196.1 L212.7,197.4 L213.4,198.6 L214.0,199.6 L214.6,200.3 L215.2,201.2 L215.9,202.2 L216.5,203.5 L217.1,204.2 L217.7,204.8 L218.4,205.3 L219.0,206.1 L219.6,206.6 L220.2,207.4 L220.9,207.9 L221.5,208.4 L222.1,208.8 L222.7,209.2 L223.3,209.7 L224.0,210.0 L224.6,209.9 L225.2,210.2 L225.8,211.0 L226.5,211.6 L227.1,212.0 L227.7,211.8 L228.3,212.4 L229.0,212.4 L229.6,213.0 L230.2,212.7 L230.8,213.0 L231.5,212.9 L232.1,213.4 L232.7,213.7 L233.3,213.9 L233.9,213.6 L234.6,213.5 L235.2,213.6 L235.8,214.1 L236.4,213.9 L237.1,213.7 L237.7,213.7 L238.3,214.0 L238.9,214.3 L239.6,214.3 L240.2,214.3 L240.8,214.3 L241.4,214.5 L242.0,214.4 L242.7,214.2 L243.3,214.1 L243.9,214.1 L244.5,214.2 L245.2,214.4 L245.8,214.7 L246.4,214.9 L247.0,214.6 L247.7,214.4 L248.3,214.2 L248.9,214.5 L249.5,214.6 L250.2,214.5 L250.8,214.7 L251.4,214.7 L252.0,215.3 L252.6,215.2 L253.3,215.3 L253.9,215.6 L254.5,216.1 L255.1,216.5 L255.8,216.6 L256.4,216.7 L257.0,216.5 L257.6,216.5 L258.3,216.3 L258.9,216.7 L259.5,216.8 L260.1,217.4 L260.8,217.3 L261.4,217.5 L262.0,217.5 L262.6,218.0 L263.2,218.4 L263.9,218.9 L264.5,219.2 L265.1,219.3 L265.7,219.2 L266.4,219.5 L267.0,219.8 L267.6,220.3 L268.2,220.3 L268.9,220.8 L269.5,220.9 L270.1,221.1 L270.7,221.0 L271.4,221.3 L272.0,221.3 L272.6,221.5 L273.2,221.4 L273.8,221.6 L274.5,221.8 L275.1,222.0 L275.7,222.4 L276.3,222.5 L277.0,222.9 L277.6,223.0 L278.2,222.8 L278.8,222.5 L279.5,222.8 L280.1,223.3 L280.7,223.6 L281.3,223.5 L282.0,223.6 L282.6,223.9 L283.2,224.0 L283.8,223.9 L284.4,223.9 L285.1,224.0 L285.7,224.0 L286.3,224.2 L286.9,224.4 L287.6,224.8 L288.2,224.8 L288.8,225.2 L289.4,225.3 L290.1,225.4 L290.7,225.4 L291.3,225.4 L291.9,225.5 L292.6,225.7 L293.2,226.0 L293.8,226.0 L294.4,225.9 L295.0,226.1 L295.7,226.1 L296.3,225.7 L296.9,226.0 L297.5,226.5 L298.2,226.7 L298.8,226.6 L299.4,226.3 L300.0,226.6 L300.7,226.6 L301.3,227.2 L301.9,227.1 L302.5,227.4 L303.2,227.3 L303.8,227.2 L304.4,226.9 L305.0,227.0 L305.6,227.3 L306.3,227.6 L306.9,227.7 L307.5,227.9 L308.1,227.9 L308.8,227.8 L309.4,227.5 L310.0,227.7 L310.6,227.9 L311.3,228.1 L311.9,228.1 L312.5,227.9" stroke="rgb(255,123,0)" stroke-width="0.95"/>
<path d="M38.2,-518.9 L38.3,-10.4 L38.5,89.6 L38.6,121.5 L38.8,134.4 L38.9,142.6 L39.1,149.6 L39.3,155.7 L39.4,161.0 L39.6,165.6 L39.7,169.4 L39.9,172.7 L40.0,176.0 L40.2,179.1 L40.3,182.1 L40.5,184.8 L40.7,187.3 L40.8,189.7 L41.0,192.3 L41.1,194.6 L41.3,197.0 L41.4,199.3 L41.6,201.7 L41.8,203.9 L41.9,206.0 L42.1,207.9 L42.2,209.3 L42.4,211.1 L42.5,212.9 L42.7,214.7 L42.8,215.9 L43.0,217.1 L43.2,218.3 L43.3,219.0 L43.5,219.2 L43.6,219.5 L43.8,219.8 L43.9,220.4 L44.1,220.6 L44.2,221.2 L44.4,221.7 L45.0,222.9 L45.6,223.8 L46.3,224.9 L46.9,225.7 L47.5,226.1 L48.1,226.4 L48.8,227.0 L49.4,227.8 L50.0,228.1 L50.6,228.5 L51.3,228.7 L51.9,228.7 L52.5,228.9 L53.1,228.8 L53.8,228.9 L54.4,229.3 L55.0,229.3 L55.6,229.6 L56.2,229.1 L56.9,229.0 L57.5,228.6 L58.1,228.2 L58.7,228.1 L59.4,227.7 L60.0,227.3 L60.6,226.9 L61.2,226.4 L61.9,226.3 L62.5,225.7 L63.1,225.5 L63.7,225.0 L64.4,224.8 L65.0,224.0 L65.6,223.5 L66.2,222.8 L66.8,222.3 L67.5,221.4 L68.1,220.6 L68.7,220.1 L69.3,219.5 L70.0,218.9 L70.6,218.4 L71.2,217.8 L71.8,217.5 L72.5,216.9 L73.1,216.3 L73.7,215.4 L74.3,214.6 L75.0,214.4 L75.6,214.2 L76.2,214.2 L76.8,214.1 L77.4,214.2 L78.1,214.7 L78.7,215.3 L79.3,215.2 L79.9,215.1 L80.6,215.0 L81.2,215.6 L81.8,216.0 L82.4,216.5 L83.1,216.2 L83.7,216.2 L84.3,216.1 L84.9,216.1 L85.6,216.1 L86.2,216.1 L86.8,216.1 L87.4,215.8 L88.0,215.5 L88.7,215.2 L89.3,214.9 L89.9,214.8 L90.5,214.3 L91.2,214.1 L91.8,213.6 L92.4,213.2 L93.0,212.4 L93.7,211.5 L94.3,210.0 L94.9,208.8 L95.5,207.6 L96.2,207.0 L96.8,206.1 L97.4,205.4 L98.0,204.6 L98.6,203.9 L99.3,203.5 L99.9,202.9 L100.5,202.5 L101.1,202.0 L101.8,201.0 L102.4,200.3 L103.0,199.0 L103.6,198.0 L104.3,196.4 L104.9,195.2 L105.5,193.3 L106.1,191.9 L106.8,190.2 L107.4,189.0 L108.0,187.7 L108.6,186.4 L109.2,184.8 L109.9,183.5 L110.5,182.3 L111.1,181.2 L111.7,180.0 L112.4,178.5 L113.0,177.3 L113.6,176.3 L114.2,175.1 L114.9,173.9 L115.5,172.0 L116.1,170.1 L116.7,168.7 L117.3,167.3 L118.0,165.3 L118.6,163.0 L119.2,160.4 L119.8,158.2 L120.5,156.0 L121.1,153.5 L121.7,151.0 L122.3,147.8 L123.0,144.3 L123.6,140.6 L124.2,136.9 L124.8,133.6 L125.5,129.4 L126.1,125.1 L126.7,120.7 L127.3,116.4 L127.9,111.9 L128.6,107.7 L129.2,103.8 L129.8,100.6 L130.4,97.2 L131.1,94.8 L131.7,92.1 L132.3,90.2 L132.9,87.6 L133.6,84.8 L134.2,81.2 L134.8,78.1 L135.4,75.2 L136.1,73.2 L136.7,71.1 L137.3,69.0 L137.9,66.8 L138.5,65.3 L139.2,63.6 L139.8,62.8 L140.4,62.7 L141.0,63.6 L141.7,65.1 L142.3,66.8 L142.9,68.7 L143.5,71.3 L144.2,73.6 L144.8,75.9 L145.4,78.2 L146.0,80.8 L146.7,83.5 L147.3,86.7 L147.9,89.0 L148.5,91.3 L149.1,92.9 L149.8,95.1 L150.4,96.8 L151.0,99.1 L151.6,101.5 L152.3,104.2 L152.9,106.9 L153.5,109.5 L154.1,112.4 L154.8,115.2 L155.4,118.1 L156.0,120.6 L156.6,123.8 L157.3,126.4 L157.9,129.1 L158.5,130.6 L159.1,133.6 L159.7,136.0 L160.4,138.7 L161.0,140.5 L161.6,142.5 L162.2,144.8 L162.9,146.8 L163.5,149.5 L164.1,151.5 L164.7,153.4 L165.4,154.8 L166.0,156.7 L166.6,158.5 L167.2,160.3 L167.9,162.2 L168.5,164.1 L169.1,166.3 L169.7,168.0 L170.3,169.7 L171.0,170.9 L171.6,172.2 L172.2,173.9 L172.8,175.6 L173.5,176.9 L174.1,178.1 L174.7,179.0 L175.3,180.1 L176.0,181.4 L176.6,182.7 L177.2,184.0 L177.8,184.9 L178.5,185.8 L179.1,186.8 L179.7,187.8 L180.3,188.6 L180.9,189.3 L181.6,190.2 L182.2,190.9 L182.8,191.4 L183.4,191.7 L184.1,192.6 L184.7,193.8 L185.3,194.6 L185.9,195.6 L186.6,196.2 L187.2,197.4 L187.8,197.9 L188.4,198.2 L189.1,198.3 L189.7,198.1 L190.3,197.6 L190.9,197.1 L191.5,196.8 L192.2,196.4 L192.8,195.7 L193.4,194.9 L194.0,194.2 L194.7,193.9 L195.3,193.3 L195.9,192.7 L196.5,192.3 L197.2,192.3 L197.8,192.1 L198.4,192.1 L199.0,192.5 L199.7,193.1 L200.3,193.4 L200.9,193.7 L201.5,194.6 L202.1,195.6 L202.8,196.7 L203.4,197.5 L204.0,198.2 L204.6,198.5 L205.3,199.1 L205.9,198.9 L206.5,198.2 L207.1,196.7 L207.8,194.8 L208.4,192.8 L209.0,191.2 L209.6,191.0 L210.3,191.9 L210.9,193.5 L211.5,194.6 L212.1,195.9 L212.7,197.1 L213.4,198.6 L214.0,199.8 L214.6,200.7 L215.2,201.5 L215.9,202.4 L216.5,203.5 L217.1,204.2 L217.7,204.9 L218.4,205.4 L219.0,206.2 L219.6,206.8 L220.2,207.3 L220.9,207.6 L221.5,208.3 L222.1,208.8 L222.7,209.6 L223.3,210.0 L224.0,210.7 L224.6,210.3 L225.2,210.5 L225.8,210.5 L226.5,211.0 L227.1,211.4 L227.7,211.7 L228.3,211.9 L229.0,212.1 L229.6,212.6 L230.2,213.0 L230.8,213.5 L231.5,213.5 L232.1,213.4 L232.7,213.2 L233.3,213.6 L233.9,213.5 L234.6,213.8 L235.2,213.9 L235.8,214.0 L236.4,214.1 L237.1,214.1 L237.7,214.2 L238.3,214.1 L238.9,214.1 L239.6,214.1 L240.2,214.1 L240.8,214.1 L241.4,214.0 L242.0,214.3 L242.7,214.5 L243.3,214.6 L243.9,214.5 L244.5,214.3 L245.2,214.3 L245.8,214.3 L246.4,214.6 L247.0,214.7 L247.7,214.8 L248.3,214.7 L248.9,214.6 L249.5,214.7 L250.2,214.4 L250.8,214.8 L251.4,214.9 L252.0,215.1 L252.6,215.0 L253.3,215.2 L253.9,215.5 L254.5,215.7 L255.1,215.7 L255.8,216.1 L256.4,216.2 L257.0,216.4 L257.6,216.4 L258.3,216.5 L258.9,216.9 L259.5,217.1 L260.1,217.7 L260.8,218.0 L261.4,218.3 L262.0,218.1 L262.6,218.0 L263.2,218.2 L263.9,218.4 L264.5,218.5 L265.1,218.5 L265.7,218.8 L266.4,219.5 L267.0,219.9 L267.6,220.2 L268.2,220.3 L268.9,220.2 L269.5,220.5 L270.1,220.7 L270.7,220.9 L271.4,221.1 L272.0,221.3 L272.6,221.5 L273.2,221.6 L273.8,222.0 L274.5,222.2 L275.1,222.3 L275.7,221.9 L276.3,222.2 L277.0,222.1 L277.6,222.5 L278.2,222.4 L278.8,222.8 L279.5,222.8 L280.1,223.2 L280.7,223.3 L281.3,223.4 L282.0,223.5 L282.6,223.4 L283.2,223.9 L283.8,223.8 L284.4,223.9 L285.1,223.6 L285.7,224.0 L286.3,224.3 L286.9,225.0 L287.6,224.9 L288.2,225.4 L288.8,225.1 L289.4,225.4 L290.1,225.3 L290.7,225.4 L291.3,225.7 L291.9,225.5 L292.6,225.4 L293.2,225.2 L293.8,225.5 L294.4,226.0 L295.0,226.1 L295.7,226.2 L296.3,226.4 L296.9,226.4 L297.5,226.6 L298.2,226.5 L298.8,226.9 L299.4,226.7 L300.0,226.9 L300.7,227.0 L301.3,227.4 L301.9,227.0 L302.5,227.0 L303.2,226.8 L303.8,227.1 L304.4,227.3 L305.0,227.1 L305.6,227.2 L306.3,227.5 L306.9,227.8 L307.5,227.9 L308.1,227.8 L308.8,227.6 L309.4,227.6 L310.0,227.2 L310.6,227.2 L311.3,227.1 L311.9,227.2 L312.5,227.5" stroke="rgb(255,60,0)" stroke-width="0.95"/>
<path d="M38.2,-519.1 L38.3,-10.7 L38.5,89.4 L38.6,121.5 L38.8,134.2 L38.9,142.3 L39.1,149.6 L39.3,156.1 L39.4,161.6 L39.6,166.0 L39.7,169.5 L39.9,172.6 L40.0,175.7 L40.2,178.9 L40.3,181.6 L40.5,184.1 L40.7,186.8 L40.8,189.8 L41.0,192.6 L41.1,194.9 L41.3,197.1 L41.4,199.4 L41.6,201.6 L41.8,203.7 L41.9,205.6 L42.1,207.6 L42.2,209.5 L42.4,211.1 L42.5,212.7 L42.7,214.3 L42.8,216.0 L43.0,217.1 L43.2,218.0 L43.3,218.4 L43.5,218.6 L43.6,219.2 L43.8,219.9 L43.9,220.8 L44.1,221.3 L44.2,221.7 L44.4,221.7 L45.0,222.8 L45.6,223.7 L46.3,224.9 L46.9,225.6 L47.5,226.5 L48.1,226.9 L48.8,227.3 L49.4,227.7 L50.0,228.1 L50.6,228.8 L51.3,229.2 L51.9,229.3 L52.5,229.4 L53.1,229.7 L53.8,230.1 L54.4,230.0 L55.0,229.7 L55.6,229.4 L56.2,229.3 L56.9,229.1 L57.5,228.8 L58.1,228.6 L58.7,228.2 L59.4,227.8 L60.0,227.2 L60.6,226.9 L61.2,226.6 L61.9,226.5 L62.5,226.3 L63.1,226.0 L63.7,225.5 L64.4,224.9 L65.0,224.2 L65.6,223.5 L66.2,223.0 L66.8,222.5 L67.5,222.3 L68.1,221.8 L68.7,221.4 L69.3,220.6 L70.0,220.0 L70.6,219.3 L71.2,218.8 L71.8,218.3 L72.5,217.5 L73.1,216.7 L73.7,215.5 L74.3,215.0 L75.0,214.5 L75.6,214.6 L76.2,214.0 L76.8,213.9 L77.4,213.8 L78.1,214.6 L78.7,215.0 L79.3,215.4 L79.9,215.7 L80.6,216.1 L81.2,216.4 L81.8,216.6 L82.4,216.8 L83.1,216.4 L83.7,216.2 L84.3,215.9 L84.9,215.9 L85.6,215.9 L86.2,215.8 L86.8,215.6 L87.4,215.4 L88.0,215.0 L88.7,214.9 L89.3,214.5 L89.9,214.5 L90.5,214.1 L91.2,213.8 L91.8,213.0 L92.4,212.2 L93.0,211.7 L93.7,211.1 L94.3,210.1 L94.9,209.1 L95.5,208.2 L96.2,207.4 L96.8,206.4 L97.4,205.5 L98.0,205.1 L98.6,204.4 L99.3,203.7 L99.9,203.1 L100.5,202.8 L101.1,201.8 L101.8,201.2 L102.4,200.1 L103.0,199.1 L103.6,197.5 L104.3,196.0 L104.9,194.6 L105.5,193.0 L106.1,191.5 L106.8,189.7 L107.4,188.6 L108.0,187.3 L108.6,186.2 L109.2,184.8 L109.9,183.3 L110.5,182.1 L111.1,180.9 L111.7,180.0 L112.4,178.7 L113.0,177.2 L113.6,176.0 L114.2,174.7 L114.9,173.2 L115.5,171.7 L116.1,170.2 L116.7,168.3 L117.3,166.2 L118.0,164.3 L118.6,162.5 L119.2,160.2 L119.8,157.7 L120.5,155.1 L121.1,152.7 L121.7,150.1 L122.3,146.9 L123.0,143.8 L123.6,140.0 L124.2,136.5 L124.8,132.4 L125.5,128.6 L126.1,124.5 L126.7,120.0 L127.3,115.3 L127.9,110.6 L128.6,105.9 L129.2,102.2 L129.8,98.7 L130.4,96.1 L131.1,93.1 L131.7,90.7 L132.3,87.9 L132.9,85.4 L133.6,82.4 L134.2,79.2 L134.8,75.9 L135.4,73.2 L136.1,70.9 L136.7,68.6 L137.3,66.5 L137.9,64.7 L138.5,63.2 L139.2,62.2 L139.8,61.3 L140.4,60.9 L141.0,61.5 L141.7,63.1 L142.3,65.2 L142.9,67.1 L143.5,69.5 L144.2,72.0 L144.8,74.1 L145.4,76.8 L146.0,79.5 L146.7,82.7 L147.3,85.4 L147.9,87.9 L148.5,90.2 L149.1,92.0 L149.8,94.0 L150.4,96.1 L151.0,98.6 L151.6,100.6 L152.3,102.9 L152.9,105.6 L153.5,108.7 L154.1,111.7 L154.8,114.7 L155.4,117.4 L156.0,120.7 L156.6,123.4 L157.3,126.3 L157.9,128.3 L158.5,130.9 L159.1,133.0 L159.7,135.2 L160.4,137.4 L161.0,140.1 L161.6,142.7 L162.2,145.1 L162.9,147.2 L163.5,149.4 L164.1,151.1 L164.7,152.9 L165.4,154.8 L166.0,157.2 L166.6,159.3 L167.2,161.1 L167.9,162.7 L168.5,164.4 L169.1,166.1 L169.7,168.0 L170.3,169.7 L171.0,171.5 L171.6,172.9 L172.2,174.0 L172.8,175.3 L173.5,176.5 L174.1,177.9 L174.7,178.9 L175.3,180.4 L176.0,181.8 L176.6,183.2 L177.2,183.9 L177.8,184.7 L178.5,185.7 L179.1,186.9 L179.7,187.9 L180.3,188.2 L180.9,188.9 L181.6,189.5 L182.2,190.7 L182.8,191.6 L183.4,192.4 L184.1,193.2 L184.7,194.1 L185.3,195.0 L185.9,196.0 L186.6,197.1 L187.2,198.0 L187.8,198.4 L188.4,198.1 L189.1,198.2 L189.7,198.1 L190.3,198.3 L190.9,198.1 L191.5,197.5 L192.2,196.6 L192.8,195.6 L193.4,195.1 L194.0,194.5 L194.7,194.0 L195.3,193.4 L195.9,192.8 L196.5,192.5 L197.2,192.1 L197.8,191.8 L198.4,191.6 L199.0,191.8 L199.7,192.4 L200.3,192.9 L200.9,193.6 L201.5,194.3 L202.1,195.4 L202.8,196.6 L203.4,197.6 L204.0,197.9 L204.6,198.4 L205.3,198.7 L205.9,198.8 L206.5,197.9 L207.1,196.7 L207.8,195.1 L208.4,193.2 L209.0,191.6 L209.6,190.9 L210.3,191.5 L210.9,192.9 L211.5,194.7 L212.1,196.0 L212.7,197.2 L213.4,198.1 L214.0,199.3 L214.6,200.4 L215.2,201.5 L215.9,202.3 L216.5,203.1 L217.1,203.8 L217.7,204.6 L218.4,205.3 L219.0,205.9 L219.6,206.4 L220.2,207.1 L220.9,207.7 L221.5,208.2 L222.1,208.7 L222.7,209.3 L223.3,210.0 L224.0,210.5 L224.6,210.7 L225.2,211.0 L225.8,211.0 L226.5,211.2 L227.1,211.4 L227.7,211.7 L228.3,211.8 L229.0,212.2 L229.6,212.6 L230.2,213.0 L230.8,213.1 L231.5,213.0 L232.1,212.6 L232.7,212.6 L233.3,212.9 L233.9,213.5 L234.6,213.7 L235.2,213.6 L235.8,213.7 L236.4,213.7 L237.1,213.9 L237.7,213.7 L238.3,213.4 L238.9,213.6 L239.6,213.7 L240.2,214.3 L240.8,214.4 L241.4,214.6 L242.0,214.4 L242.7,214.3 L243.3,214.1 L243.9,214.0 L244.5,214.2 L245.2,214.5 L245.8,214.7 L246.4,214.7 L247.0,214.7 L247.7,214.8 L248.3,214.7 L248.9,214.9 L249.5,214.8 L250.2,215.0 L250.8,214.9 L251.4,214.9 L252.0,215.1 L252.6,215.2 L253.3,215.1 L253.9,215.1 L254.5,215.5 L255.1,215.6 L255.8,216.0 L256.4,215.9 L257.0,216.5 L257.6,216.5 L258.3,216.8 L258.9,216.7 L259.5,216.9 L260.1,217.3 L260.8,217.9 L261.4,218.2 L262.0,218.1 L262.6,218.0 L263.2,217.9 L263.9,218.1 L264.5,218.1 L265.1,218.7 L265.7,219.3 L266.4,219.9 L267.0,219.8 L267.6,219.9 L268.2,219.9 L268.9,220.0 L269.5,220.2 L270.1,220.5 L270.7,221.1 L271.4,221.1 L272.0,221.0 L272.6,221.0 L273.2,221.4 L273.8,221.7 L274.5,221.9 L275.1,221.8 L275.7,222.1 L276.3,222.4 L277.0,222.6 L277.6,222.5 L278.2,222.5 L278.8,222.8 L279.5,222.9 L280.1,223.0 L280.7,223.4 L281.3,223.8 L282.0,223.9 L282.6,223.8 L283.2,223.7 L283.8,224.2 L284.4,224.1 L285.1,224.3 L285.7,224.2 L286.3,224.5 L286.9,224.7 L287.6,224.8 L288.2,225.3 L288.8,225.5 L289.4,225.5 L290.1,225.3 L290.7,225.4 L291.3,225.6 L291.9,225.4 L292.6,225.4 L293.2,225.5 L293.8,225.9 L294.4,226.3 L295.0,226.2 L295.7,226.3 L296.3,226.0 L296.9,226.2 L297.5,225.9 L298.2,226.2 L298.8,226.2 L299.4,226.7 L300.0,226.9 L300.7,227.4 L301.3,227.3 L301.9,227.3 L302.5,226.7 L303.2,226.7 L303.8,226.3 L304.4,226.8 L305.0,226.8 L305.6,227.1 L306.3,227.4 L306.9,227.7 L307.5,227.6 L308.1,227.4 L308.8,227.3 L309.4,227.6 L310.0,227.6 L310.6,227.5 L311.3,227.2 L311.9,227.7 L312.5,227.9" stroke="rgb(255,20,0)" stroke-width="1.15"/>
</g>
<path d="M37.8,26.8 H313.20000000000005 M37.8,248.0 H313.20000000000005 M38.4,247.8 h-2.4 M312.6,247.8 h-2.4 M38.4,234.8 h-4.5 M312.6,234.8 h-4.5 M38.4,221.8 h-2.4 M312.6,221.8 h-2.4 M38.4,208.8 h-4.5 M312.6,208.8 h-4.5 M38.4,195.8 h-2.4 M312.6,195.8 h-2.4 M38.4,182.8 h-4.5 M312.6,182.8 h-4.5 M38.4,169.8 h-2.4 M312.6,169.8 h-2.4 M38.4,156.8 h-4.5 M312.6,156.8 h-4.5 M38.4,143.8 h-2.4 M312.6,143.8 h-2.4 M38.4,130.8 h-4.5 M312.6,130.8 h-4.5 M38.4,117.8 h-2.4 M312.6,117.8 h-2.4 M38.4,104.8 h-4.5 M312.6,104.8 h-4.5 M38.4,91.8 h-2.4 M312.6,91.8 h-2.4 M38.4,78.8 h-4.5 M312.6,78.8 h-4.5 M38.4,65.8 h-2.4 M312.6,65.8 h-2.4 M38.4,52.8 h-4.5 M312.6,52.8 h-4.5 M38.4,39.8 h-2.4 M312.6,39.8 h-2.4 M38.4,26.8 h-4.5 M312.6,26.8 h-4.5" stroke="#707070" stroke-width="1.45" fill="none"/>
<path d="M38.4,26.3 V248.5 M312.6,26.3 V248.5 M44.4,248.0 v4.3 M44.4,26.8 v4.3 M75.6,248.0 v2.2 M75.6,26.8 v2.2 M106.8,248.0 v4.3 M106.8,26.8 v4.3 M137.9,248.0 v2.2 M137.9,26.8 v2.2 M169.1,248.0 v4.3 M169.1,26.8 v4.3 M200.3,248.0 v2.2 M200.3,26.8 v2.2 M231.5,248.0 v4.3 M231.5,26.8 v4.3 M262.6,248.0 v2.2 M262.6,26.8 v2.2 M293.8,248.0 v4.3 M293.8,26.8 v4.3" stroke="#404040" stroke-width="1.15" fill="none"/>
<g font-size="10" fill="#111" stroke="#111" stroke-width="0.18">
<text transform="translate(44.4,263) scale(0.94,1)" text-anchor="middle">2</text>
<text transform="translate(106.8,263) scale(0.94,1)" text-anchor="middle">12</text>
<text transform="translate(169.1,263) scale(0.94,1)" text-anchor="middle">22</text>
<text transform="translate(231.5,263) scale(0.94,1)" text-anchor="middle">32</text>
<text transform="translate(293.8,263) scale(0.94,1)" text-anchor="middle">42</text>
<text transform="translate(31.3,238.4) scale(0.94,1)" text-anchor="end">2</text>
<text transform="translate(31.3,212.4) scale(0.94,1)" text-anchor="end">4</text>
<text transform="translate(31.3,186.4) scale(0.94,1)" text-anchor="end">6</text>
<text transform="translate(31.3,160.4) scale(0.94,1)" text-anchor="end">8</text>
<text transform="translate(31.3,134.4) scale(0.94,1)" text-anchor="end">10</text>
<text transform="translate(31.3,108.4) scale(0.94,1)" text-anchor="end">12</text>
<text transform="translate(31.3,82.4) scale(0.94,1)" text-anchor="end">14</text>
<text transform="translate(31.3,56.4) scale(0.94,1)" text-anchor="end">16</text>
<text transform="translate(31.3,30.4) scale(0.94,1)" text-anchor="end">18</text>
</g>
<text x="175.6" y="280.5" font-size="11.6" text-anchor="middle" fill="#111" stroke="#111" stroke-width="0.25">E (eV)</text>
<text transform="translate(12.3,136.7) rotate(-90)" font-size="11.5" text-anchor="middle" fill="#111" stroke="#111" stroke-width="0.25">Counts (1000s)</text>
<g fill="#111">
<text x="53" y="201.7" font-size="11" stroke="#111" stroke-width="0.2">SP</text>
<text x="79.6" y="201.7" font-size="11" font-family="'Liberation Serif', 'DejaVu Serif', serif">π</text>
<path d="M63.2,203.5 L64.3,207.1" stroke="#222" stroke-width="0.75" fill="none"/><path d="M65.9,212.1 L63.0,207.6 L65.7,206.7 Z" fill="#000"/>
<path d="M81.2,203.5 L79.3,207.9" stroke="#222" stroke-width="0.75" fill="none"/><path d="M77.2,212.7 L78.0,207.4 L80.6,208.5 Z" fill="#000"/>
<text x="114.7" y="243" font-size="10.8" stroke="#111" stroke-width="0.2">E<tspan font-size="8" dy="2.9" dx="0.2">g</tspan></text>
<path d="M112.7,237.0 L105.8,233.9" stroke="#222" stroke-width="0.75" fill="none"/><path d="M101.1,231.7 L106.4,232.6 L105.2,235.1 Z" fill="#000"/>
<text x="208.3" y="176.1" font-size="11.4" stroke="#111" stroke-width="0.2">P<tspan font-size="7.2" dy="3.1" dx="0.6">SiO2</tspan></text>
<path d="M205.0,172.0 L196.3,172.0" stroke="#222" stroke-width="0.75" fill="none"/><path d="M191.1,172.0 L196.3,170.6 L196.3,173.4 Z" fill="#000"/>
<g font-size="12" stroke="#111" stroke-width="0.15"><text x="92.8" y="66.6" font-family="'Liberation Serif', 'DejaVu Serif', serif">π</text><text x="102.4" y="66.8" font-size="11.5">+</text><text x="112.2" y="66.6" font-family="'Liberation Serif', 'DejaVu Serif', serif">σ</text></g>
<path d="M121.0,63.1 L128.3,63.1" stroke="#222" stroke-width="0.75" fill="none"/><path d="M133.5,63.1 L128.3,64.5 L128.3,61.7 Z" fill="#000"/>
</g>
<rect x="193.6" y="33.6" width="109.9" height="89.30000000000001" fill="#fff"/>
<g clip-path="url(#ci)" fill="none" stroke-width="0.85" stroke-linejoin="round">
<path d="M193.1,94.1 L193.7,94.9 L194.3,95.5 L194.9,96.4 L195.5,96.7 L196.2,96.9 L196.8,97.8 L197.4,98.0 L198.0,98.5 L198.6,99.1 L199.3,99.9 L199.9,100.4 L200.5,100.5 L201.1,100.7 L201.7,101.6 L202.4,102.4 L203.0,101.9 L203.6,101.7 L204.2,101.9 L204.8,102.5 L205.5,102.8 L206.1,102.7 L206.7,103.6 L207.3,103.8 L207.9,103.3 L208.6,103.4 L209.2,103.2 L209.8,103.4 L210.4,103.5 L211.0,103.2 L211.7,103.3 L212.3,103.4 L212.9,103.3 L213.5,102.9 L214.1,103.3 L214.8,104.2 L215.4,104.1 L216.0,103.4 L216.6,103.5 L217.2,104.3 L217.9,104.5 L218.5,104.8 L219.1,105.0 L219.7,103.9 L220.3,103.9 L221.0,105.1 L221.6,105.0 L222.2,104.5 L222.8,104.8 L223.4,105.2 L224.1,105.0 L224.7,104.6 L225.3,105.0 L225.9,105.2 L226.5,104.4 L227.2,104.8 L227.8,105.7 L228.4,105.4 L229.0,105.0 L229.6,105.3 L230.3,105.6 L230.9,105.4 L231.5,105.2 L232.1,105.5 L232.7,105.6 L233.4,106.2 L234.0,106.5 L234.6,106.4 L235.2,106.4 L235.8,106.3 L236.5,106.2 L237.1,106.3 L237.7,107.0 L238.3,107.2 L238.9,107.4 L239.6,107.8 L240.2,108.7 L240.8,109.3 L241.4,109.1 L242.0,108.7 L242.7,109.4 L243.3,110.0 L243.9,110.4 L244.5,110.7 L245.1,110.7 L245.8,111.2 L246.4,110.9 L247.0,110.6 L247.6,111.3 L248.2,112.4 L248.9,112.9 L249.5,112.7 L250.1,112.7 L250.7,113.2 L251.3,113.7 L252.0,113.8 L252.6,113.9 L253.2,113.8 L253.8,113.9 L254.4,113.9 L255.1,113.7 L255.7,114.1 L256.3,114.4 L256.9,115.1 L257.5,115.1 L258.2,114.5 L258.8,114.9 L259.4,115.8 L260.0,116.2 L260.6,116.3 L261.3,116.4 L261.9,115.7 L262.5,115.5 L263.1,115.8 L263.7,116.1 L264.4,116.2 L265.0,115.9 L265.6,116.0 L266.2,116.4 L266.8,116.7 L267.5,116.8 L268.1,117.2 L268.7,117.3 L269.3,116.9 L269.9,116.7 L270.6,116.8 L271.2,116.9 L271.8,116.3 L272.4,115.9 L273.0,115.8 L273.7,115.8 L274.3,115.9 L274.9,115.7 L275.5,115.6 L276.1,115.8 L276.8,115.6 L277.4,115.3 L278.0,115.4 L278.6,115.6 L279.2,115.5 L279.9,115.1 L280.5,114.6 L281.1,114.0 L281.7,113.9 L282.3,113.9 L283.0,112.8 L283.6,111.8 L284.2,112.5 L284.8,112.6 L285.4,111.9 L286.1,111.7 L286.7,110.6 L287.3,109.7 L287.9,108.5 L288.5,107.9 L289.2,107.5 L289.8,106.3 L290.4,105.2 L291.0,104.5 L291.6,103.4 L292.3,102.6 L292.9,102.2 L293.5,100.8 L294.1,99.3 L294.7,98.2 L295.4,97.1 L296.0,95.3 L296.6,94.8 L297.2,94.4 L297.8,93.4 L298.5,93.7 L299.1,93.7 L299.7,92.7 L300.3,92.0 L300.9,92.1 L301.6,92.1 L302.2,91.6 L302.8,91.5 L303.4,91.5 L304.0,91.7 L304.7,91.8" stroke="#7a30b0"/>
<path d="M193.1,86.2 L193.7,87.0 L194.3,87.4 L194.9,87.4 L195.5,88.1 L196.2,89.2 L196.8,89.8 L197.4,89.4 L198.0,89.6 L198.6,90.7 L199.3,91.0 L199.9,90.8 L200.5,90.8 L201.1,90.6 L201.7,90.9 L202.4,92.1 L203.0,91.7 L203.6,91.4 L204.2,91.8 L204.8,92.2 L205.5,92.7 L206.1,92.1 L206.7,92.3 L207.3,92.9 L207.9,92.9 L208.6,92.3 L209.2,91.9 L209.8,92.6 L210.4,92.5 L211.0,91.8 L211.7,92.3 L212.3,93.1 L212.9,92.7 L213.5,92.4 L214.1,92.8 L214.8,93.0 L215.4,92.6 L216.0,92.1 L216.6,92.4 L217.2,92.4 L217.9,91.7 L218.5,91.1 L219.1,91.8 L219.7,92.3 L220.3,91.6 L221.0,90.9 L221.6,91.0 L222.2,91.4 L222.8,90.8 L223.4,90.4 L224.1,90.2 L224.7,90.6 L225.3,90.0 L225.9,89.6 L226.5,89.9 L227.2,89.2 L227.8,89.2 L228.4,89.2 L229.0,89.3 L229.6,89.4 L230.3,88.9 L230.9,89.2 L231.5,89.2 L232.1,88.9 L232.7,88.4 L233.4,88.3 L234.0,89.1 L234.6,89.0 L235.2,88.7 L235.8,88.0 L236.5,87.5 L237.1,88.4 L237.7,89.4 L238.3,88.9 L238.9,88.9 L239.6,90.3 L240.2,90.5 L240.8,90.7 L241.4,90.7 L242.0,90.4 L242.7,91.4 L243.3,92.1 L243.9,92.8 L244.5,92.5 L245.1,92.3 L245.8,93.0 L246.4,93.1 L247.0,93.9 L247.6,94.9 L248.2,95.4 L248.9,95.6 L249.5,96.2 L250.1,96.8 L250.7,96.8 L251.3,97.1 L252.0,97.7 L252.6,98.5 L253.2,98.9 L253.8,98.8 L254.4,98.6 L255.1,98.8 L255.7,99.7 L256.3,100.3 L256.9,100.4 L257.5,100.5 L258.2,101.2 L258.8,101.6 L259.4,101.5 L260.0,102.2 L260.6,101.7 L261.3,101.3 L261.9,102.8 L262.5,103.5 L263.1,103.0 L263.7,102.9 L264.4,103.6 L265.0,104.0 L265.6,103.7 L266.2,104.2 L266.8,104.2 L267.5,104.2 L268.1,104.5 L268.7,104.7 L269.3,104.6 L269.9,104.1 L270.6,104.3 L271.2,104.7 L271.8,104.6 L272.4,104.2 L273.0,104.1 L273.7,104.2 L274.3,103.9 L274.9,103.9 L275.5,104.1 L276.1,103.4 L276.8,103.6 L277.4,104.0 L278.0,103.6 L278.6,103.7 L279.2,104.1 L279.9,104.1 L280.5,104.2 L281.1,103.8 L281.7,103.0 L282.3,102.5 L283.0,101.7 L283.6,101.6 L284.2,101.7 L284.8,101.3 L285.4,101.1 L286.1,101.3 L286.7,101.0 L287.3,100.0 L287.9,99.3 L288.5,98.9 L289.2,98.6 L289.8,98.0 L290.4,97.3 L291.0,96.6 L291.6,96.1 L292.3,95.4 L292.9,94.1 L293.5,92.5 L294.1,91.5 L294.7,90.9 L295.4,89.5 L296.0,88.8 L296.6,88.5 L297.2,88.3 L297.8,87.4 L298.5,85.5 L299.1,84.9 L299.7,84.7 L300.3,84.0 L300.9,83.4 L301.6,83.3 L302.2,82.8 L302.8,82.1 L303.4,82.4 L304.0,83.4 L304.7,82.9" stroke="#3038e0"/>
<path d="M193.1,82.0 L193.7,82.2 L194.3,82.4 L194.9,82.8 L195.5,82.9 L196.2,83.0 L196.8,83.3 L197.4,83.7 L198.0,84.2 L198.6,84.3 L199.3,84.2 L199.9,84.3 L200.5,84.0 L201.1,84.9 L201.7,85.0 L202.4,84.8 L203.0,85.6 L203.6,85.6 L204.2,85.3 L204.8,85.0 L205.5,84.3 L206.1,85.1 L206.7,85.9 L207.3,85.3 L207.9,85.3 L208.6,85.7 L209.2,85.4 L209.8,84.7 L210.4,84.3 L211.0,84.1 L211.7,83.6 L212.3,83.1 L212.9,83.0 L213.5,83.1 L214.1,83.7 L214.8,82.9 L215.4,81.7 L216.0,81.4 L216.6,81.1 L217.2,80.9 L217.9,80.6 L218.5,79.8 L219.1,79.5 L219.7,79.4 L220.3,78.8 L221.0,78.2 L221.6,77.1 L222.2,76.9 L222.8,76.4 L223.4,75.8 L224.1,76.1 L224.7,75.8 L225.3,75.1 L225.9,74.0 L226.5,74.1 L227.2,74.2 L227.8,73.5 L228.4,73.2 L229.0,73.0 L229.6,72.3 L230.3,71.5 L230.9,71.1 L231.5,71.2 L232.1,70.9 L232.7,70.2 L233.4,69.9 L234.0,69.6 L234.6,69.6 L235.2,69.4 L235.8,68.9 L236.5,69.1 L237.1,69.2 L237.7,69.1 L238.3,69.0 L238.9,68.9 L239.6,69.0 L240.2,69.2 L240.8,69.5 L241.4,69.6 L242.0,70.1 L242.7,70.5 L243.3,71.1 L243.9,71.7 L244.5,71.2 L245.1,71.3 L245.8,71.6 L246.4,72.1 L247.0,72.9 L247.6,73.2 L248.2,73.1 L248.9,73.3 L249.5,73.1 L250.1,72.8 L250.7,73.4 L251.3,74.4 L252.0,75.0 L252.6,75.2 L253.2,75.7 L253.8,76.0 L254.4,76.1 L255.1,76.3 L255.7,76.6 L256.3,77.3 L256.9,77.7 L257.5,77.3 L258.2,77.2 L258.8,78.1 L259.4,78.4 L260.0,78.3 L260.6,79.0 L261.3,79.2 L261.9,78.9 L262.5,79.2 L263.1,79.0 L263.7,79.3 L264.4,79.8 L265.0,79.6 L265.6,79.5 L266.2,79.8 L266.8,79.7 L267.5,79.5 L268.1,78.9 L268.7,78.5 L269.3,79.1 L269.9,78.9 L270.6,79.1 L271.2,79.3 L271.8,78.4 L272.4,78.9 L273.0,78.9 L273.7,78.1 L274.3,78.4 L274.9,78.2 L275.5,78.3 L276.1,78.1 L276.8,77.7 L277.4,77.5 L278.0,77.7 L278.6,77.7 L279.2,77.0 L279.9,77.3 L280.5,77.0 L281.1,76.9 L281.7,76.6 L282.3,75.5 L283.0,76.2 L283.6,76.1 L284.2,75.6 L284.8,75.7 L285.4,75.5 L286.1,75.9 L286.7,75.7 L287.3,74.9 L287.9,74.4 L288.5,74.6 L289.2,74.3 L289.8,72.9 L290.4,72.7 L291.0,72.3 L291.6,71.5 L292.3,71.2 L292.9,70.8 L293.5,70.0 L294.1,70.0 L294.7,69.5 L295.4,68.5 L296.0,68.1 L296.6,67.5 L297.2,67.1 L297.8,66.2 L298.5,65.4 L299.1,65.2 L299.7,65.3 L300.3,64.6 L300.9,63.6 L301.6,62.7 L302.2,62.7 L302.8,62.8 L303.4,62.3 L304.0,62.8 L304.7,62.6" stroke="#18b828"/>
<path d="M193.1,73.8 L193.7,74.5 L194.3,74.8 L194.9,75.3 L195.5,76.3 L196.2,76.3 L196.8,76.0 L197.4,76.1 L198.0,76.4 L198.6,76.8 L199.3,77.5 L199.9,77.7 L200.5,77.6 L201.1,77.9 L201.7,78.5 L202.4,78.7 L203.0,78.6 L203.6,79.0 L204.2,79.3 L204.8,79.3 L205.5,78.8 L206.1,78.3 L206.7,78.8 L207.3,78.7 L207.9,78.6 L208.6,79.0 L209.2,79.0 L209.8,78.9 L210.4,77.8 L211.0,78.0 L211.7,79.8 L212.3,79.3 L212.9,78.8 L213.5,79.4 L214.1,78.6 L214.8,78.3 L215.4,79.0 L216.0,78.6 L216.6,78.4 L217.2,78.0 L217.9,77.6 L218.5,77.6 L219.1,76.7 L219.7,75.9 L220.3,76.7 L221.0,77.2 L221.6,76.4 L222.2,75.8 L222.8,75.5 L223.4,75.8 L224.1,75.0 L224.7,74.1 L225.3,74.2 L225.9,74.9 L226.5,74.7 L227.2,74.2 L227.8,73.3 L228.4,72.5 L229.0,72.6 L229.6,72.2 L230.3,71.8 L230.9,72.1 L231.5,71.9 L232.1,71.1 L232.7,71.8 L233.4,71.3 L234.0,70.1 L234.6,70.2 L235.2,69.9 L235.8,69.9 L236.5,69.4 L237.1,69.0 L237.7,69.4 L238.3,68.5 L238.9,67.6 L239.6,67.9 L240.2,67.8 L240.8,67.5 L241.4,66.9 L242.0,66.6 L242.7,66.4 L243.3,66.6 L243.9,67.0 L244.5,66.5 L245.1,65.9 L245.8,65.8 L246.4,65.9 L247.0,65.8 L247.6,65.1 L248.2,64.5 L248.9,64.9 L249.5,64.7 L250.1,64.1 L250.7,64.1 L251.3,63.8 L252.0,63.8 L252.6,63.5 L253.2,63.7 L253.8,64.5 L254.4,64.2 L255.1,63.8 L255.7,64.2 L256.3,64.2 L256.9,63.8 L257.5,64.3 L258.2,64.5 L258.8,63.8 L259.4,63.4 L260.0,64.1 L260.6,64.1 L261.3,63.8 L261.9,63.5 L262.5,63.7 L263.1,64.2 L263.7,64.8 L264.4,64.8 L265.0,64.5 L265.6,65.2 L266.2,65.5 L266.8,65.5 L267.5,65.7 L268.1,65.6 L268.7,65.6 L269.3,65.9 L269.9,64.9 L270.6,64.8 L271.2,65.5 L271.8,65.3 L272.4,65.4 L273.0,65.3 L273.7,65.6 L274.3,65.3 L274.9,64.8 L275.5,64.8 L276.1,65.1 L276.8,64.7 L277.4,64.6 L278.0,64.8 L278.6,64.4 L279.2,64.6 L279.9,63.8 L280.5,62.7 L281.1,62.6 L281.7,62.7 L282.3,63.0 L283.0,62.6 L283.6,62.1 L284.2,62.3 L284.8,61.6 L285.4,60.4 L286.1,60.6 L286.7,60.7 L287.3,60.2 L287.9,59.5 L288.5,58.4 L289.2,58.0 L289.8,58.4 L290.4,57.9 L291.0,57.4 L291.6,57.4 L292.3,56.4 L292.9,55.7 L293.5,55.7 L294.1,55.4 L294.7,54.6 L295.4,54.3 L296.0,53.9 L296.6,53.1 L297.2,52.6 L297.8,52.5 L298.5,51.8 L299.1,50.6 L299.7,50.2 L300.3,50.6 L300.9,50.6 L301.6,49.9 L302.2,49.2 L302.8,49.1 L303.4,48.7 L304.0,48.0 L304.7,48.2" stroke="#ffcc00"/>
<path d="M193.1,68.6 L193.7,69.4 L194.3,69.4 L194.9,69.5 L195.5,70.6 L196.2,71.3 L196.8,71.9 L197.4,72.7 L198.0,72.6 L198.6,73.1 L199.3,73.0 L199.9,73.9 L200.5,74.9 L201.1,74.7 L201.7,74.9 L202.4,74.9 L203.0,75.5 L203.6,75.3 L204.2,75.4 L204.8,75.7 L205.5,75.2 L206.1,75.8 L206.7,75.8 L207.3,75.5 L207.9,76.0 L208.6,75.9 L209.2,75.4 L209.8,75.3 L210.4,75.7 L211.0,76.3 L211.7,76.6 L212.3,76.3 L212.9,76.1 L213.5,76.5 L214.1,76.7 L214.8,76.8 L215.4,76.8 L216.0,76.3 L216.6,76.3 L217.2,76.6 L217.9,76.5 L218.5,76.4 L219.1,76.3 L219.7,75.7 L220.3,74.7 L221.0,74.9 L221.6,75.2 L222.2,75.1 L222.8,74.8 L223.4,74.9 L224.1,74.7 L224.7,73.7 L225.3,73.8 L225.9,74.0 L226.5,73.5 L227.2,73.4 L227.8,72.8 L228.4,72.4 L229.0,71.9 L229.6,71.5 L230.3,71.8 L230.9,71.7 L231.5,71.5 L232.1,70.7 L232.7,70.1 L233.4,69.5 L234.0,69.1 L234.6,69.0 L235.2,68.5 L235.8,68.7 L236.5,68.2 L237.1,67.4 L237.7,67.4 L238.3,67.2 L238.9,66.4 L239.6,65.9 L240.2,65.4 L240.8,65.0 L241.4,64.4 L242.0,64.1 L242.7,64.2 L243.3,63.8 L243.9,63.1 L244.5,62.7 L245.1,62.7 L245.8,62.3 L246.4,61.1 L247.0,60.2 L247.6,59.6 L248.2,59.0 L248.9,58.9 L249.5,58.2 L250.1,57.4 L250.7,57.0 L251.3,57.3 L252.0,57.8 L252.6,57.0 L253.2,57.1 L253.8,56.8 L254.4,56.3 L255.1,56.5 L255.7,56.5 L256.3,56.0 L256.9,55.6 L257.5,56.3 L258.2,57.0 L258.8,56.3 L259.4,55.6 L260.0,56.0 L260.6,55.8 L261.3,55.7 L261.9,56.2 L262.5,56.2 L263.1,56.5 L263.7,57.3 L264.4,57.2 L265.0,57.3 L265.6,58.0 L266.2,57.9 L266.8,58.1 L267.5,59.1 L268.1,59.2 L268.7,59.0 L269.3,59.3 L269.9,59.3 L270.6,58.9 L271.2,58.7 L271.8,58.5 L272.4,58.1 L273.0,58.5 L273.7,58.2 L274.3,57.6 L274.9,57.9 L275.5,58.3 L276.1,58.1 L276.8,57.8 L277.4,58.1 L278.0,57.2 L278.6,57.0 L279.2,57.2 L279.9,56.6 L280.5,56.7 L281.1,56.5 L281.7,56.3 L282.3,56.5 L283.0,56.7 L283.6,55.6 L284.2,54.9 L284.8,54.5 L285.4,54.1 L286.1,54.3 L286.7,54.1 L287.3,53.7 L287.9,53.6 L288.5,53.2 L289.2,52.2 L289.8,51.6 L290.4,51.5 L291.0,51.0 L291.6,50.4 L292.3,50.2 L292.9,50.6 L293.5,50.4 L294.1,49.1 L294.7,48.7 L295.4,48.0 L296.0,47.8 L296.6,47.5 L297.2,46.5 L297.8,45.6 L298.5,45.4 L299.1,45.2 L299.7,44.7 L300.3,44.2 L300.9,43.4 L301.6,43.0 L302.2,42.6 L302.8,41.9 L303.4,41.0 L304.0,40.9 L304.7,40.6" stroke="#e82828"/>
</g>
<path d="M193.2,33.6 H303.9 M193.2,122.9 H303.9 M193.6,114.6 h-2.6 M303.5,114.6 h-2.6 M193.6,106.5 h-1.5 M303.5,106.5 h-1.5 M193.6,98.4 h-2.6 M303.5,98.4 h-2.6 M193.6,90.3 h-1.5 M303.5,90.3 h-1.5 M193.6,82.2 h-2.6 M303.5,82.2 h-2.6 M193.6,74.1 h-1.5 M303.5,74.1 h-1.5 M193.6,66.0 h-2.6 M303.5,66.0 h-2.6 M193.6,57.9 h-1.5 M303.5,57.9 h-1.5 M193.6,49.8 h-2.6 M303.5,49.8 h-2.6 M193.6,41.7 h-1.5 M303.5,41.7 h-1.5 M193.6,33.6 h-2.6 M303.5,33.6 h-2.6" stroke="#999" stroke-width="1.2" fill="none"/>
<path d="M193.6,33.6 V122.9 M303.5,33.6 V122.9 M203.6,122.9 v1.5 M203.6,33.6 v1.5 M216.0,122.9 v2.6 M216.0,33.6 v2.6 M228.4,122.9 v1.5 M228.4,33.6 v1.5 M240.8,122.9 v2.6 M240.8,33.6 v2.6 M253.2,122.9 v1.5 M253.2,33.6 v1.5 M265.6,122.9 v2.6 M265.6,33.6 v2.6 M278.0,122.9 v1.5 M278.0,33.6 v1.5 M290.4,122.9 v2.6 M290.4,33.6 v2.6 M302.8,122.9 v1.5 M302.8,33.6 v1.5" stroke="#6a6a6a" stroke-width="0.9" fill="none"/>
<g font-size="7.6" fill="#111" stroke="#111" stroke-width="0.2">
<text x="216.0" y="131.6" text-anchor="middle">4</text>
<text x="240.8" y="131.6" text-anchor="middle">6</text>
<text x="265.6" y="131.6" text-anchor="middle">8</text>
<text x="290.4" y="131.6" text-anchor="middle">10</text>
<text x="189.9" y="117.3" text-anchor="end">1</text>
<text x="189.9" y="101.1" text-anchor="end">2</text>
<text x="189.9" y="84.9" text-anchor="end">3</text>
<text x="189.9" y="68.7" text-anchor="end">4</text>
<text x="189.9" y="52.5" text-anchor="end">5</text>
<text x="189.9" y="36.3" text-anchor="end">6</text>
</g>
<text x="251" y="140.6" font-size="9.8" text-anchor="middle" fill="#111" stroke="#111" stroke-width="0.2">E (eV)</text>
<text transform="translate(180.8,78) rotate(-90)" font-size="9.8" text-anchor="middle" fill="#111" stroke="#111" stroke-width="0.2">Counts (1000s)</text>
<g fill="#111" font-size="9.9">
<text x="245.4" y="46.0">1(6 nm)</text>
<path d="M265.5,47.5 L269.5,54.5" stroke="#222" stroke-width="0.75" fill="none"/><path d="M272.0,58.8 L268.3,55.1 L270.7,53.8 Z" fill="#000"/>
<text x="278.4" y="73.6">2</text>
<path d="M277.5,69.8 L274.7,67.9" stroke="#222" stroke-width="0.75" fill="none"/><path d="M270.5,65.2 L275.4,66.8 L273.9,69.1 Z" fill="#000"/>
<text x="277.6" y="95.3">3</text>
<path d="M277.4,88.5 L275.0,84.2" stroke="#222" stroke-width="0.75" fill="none"/><path d="M272.6,79.8 L276.2,83.5 L273.8,84.8 Z" fill="#000"/>
<text x="255.4" y="95.3">4</text>
<path d="M262.0,94.5 L267.5,100.0" stroke="#222" stroke-width="0.75" fill="none"/><path d="M271.0,103.6 L266.5,101.0 L268.4,99.1 Z" fill="#000"/>
<text x="197.6" y="120.3">5 (-6 nm)</text>
<path d="M240.3,117.3 L252.5,116.5" stroke="#222" stroke-width="0.75" fill="none"/><path d="M257.5,116.2 L252.6,117.9 L252.4,115.2 Z" fill="#000"/>
</g>
<text x="1.2" y="21.5" font-size="19.5" textLength="8.6" lengthAdjust="spacingAndGlyphs" fill="#000">a</text>
<text x="341.4" y="21.5" font-size="19" textLength="9.6" lengthAdjust="spacingAndGlyphs" fill="#000">b</text>
<defs><linearGradient id="gst" gradientUnits="userSpaceOnUse" x1="0" x2="13.29" y1="0" y2="0"><stop offset="0.000" stop-color="rgb(237,237,237)"/><stop offset="0.025" stop-color="rgb(227,227,227)"/><stop offset="0.050" stop-color="rgb(202,202,202)"/><stop offset="0.075" stop-color="rgb(179,179,179)"/><stop offset="0.100" stop-color="rgb(167,167,167)"/><stop offset="0.125" stop-color="rgb(163,163,163)"/><stop offset="0.150" stop-color="rgb(163,163,163)"/><stop offset="0.175" stop-color="rgb(163,163,163)"/><stop offset="0.200" stop-color="rgb(163,163,163)"/><stop offset="0.225" stop-color="rgb(163,163,163)"/><stop offset="0.250" stop-color="rgb(163,163,163)"/><stop offset="0.275" stop-color="rgb(166,166,166)"/><stop offset="0.300" stop-color="rgb(178,178,178)"/><stop offset="0.325" stop-color="rgb(200,200,200)"/><stop offset="0.350" stop-color="rgb(225,225,225)"/><stop offset="0.375" stop-color="rgb(237,237,237)"/><stop offset="0.400" stop-color="rgb(225,225,225)"/><stop offset="0.425" stop-color="rgb(197,197,197)"/><stop offset="0.450" stop-color="rgb(171,171,171)"/><stop offset="0.475" stop-color="rgb(156,156,156)"/><stop offset="0.500" stop-color="rgb(148,148,148)"/><stop offset="0.525" stop-color="rgb(145,145,145)"/><stop offset="0.550" stop-color="rgb(143,143,143)"/><stop offset="0.575" stop-color="rgb(141,141,141)"/><stop offset="0.600" stop-color="rgb(139,139,139)"/><stop offset="0.625" stop-color="rgb(137,137,137)"/><stop offset="0.650" stop-color="rgb(136,136,136)"/><stop offset="0.675" stop-color="rgb(135,135,135)"/><stop offset="0.700" stop-color="rgb(135,135,135)"/><stop offset="0.725" stop-color="rgb(136,136,136)"/><stop offset="0.750" stop-color="rgb(137,137,137)"/><stop offset="0.775" stop-color="rgb(139,139,139)"/><stop offset="0.800" stop-color="rgb(141,141,141)"/><stop offset="0.825" stop-color="rgb(143,143,143)"/><stop offset="0.850" stop-color="rgb(145,145,145)"/><stop offset="0.875" stop-color="rgb(148,148,148)"/><stop offset="0.900" stop-color="rgb(155,155,155)"/><stop offset="0.925" stop-color="rgb(170,170,170)"/><stop offset="0.950" stop-color="rgb(195,195,195)"/><stop offset="0.975" stop-color="rgb(222,222,222)"/><stop offset="1.000" stop-color="rgb(234,234,234)"/></linearGradient>
<pattern id="pst" patternUnits="userSpaceOnUse" x="529.9" y="38" width="13.29" height="64"><rect x="0" y="0" width="13.4" height="64" fill="url(#gst)"/></pattern>
<linearGradient id="genv" gradientUnits="userSpaceOnUse" x1="514" x2="682" y1="0" y2="0"><stop offset="0" stop-color="#000" stop-opacity="1"/><stop offset="0.026" stop-color="#000" stop-opacity="0.97"/><stop offset="0.061" stop-color="#000" stop-opacity="0.82"/><stop offset="0.087" stop-color="#000" stop-opacity="0.56"/><stop offset="0.113" stop-color="#000" stop-opacity="0.38"/><stop offset="0.18" stop-color="#000" stop-opacity="0.27"/><stop offset="0.3" stop-color="#000" stop-opacity="0.18"/><stop offset="0.5" stop-color="#000" stop-opacity="0.09"/><stop offset="1" stop-color="#000" stop-opacity="0"/></linearGradient>
<filter id="fn1" x="0" y="0" width="100%" height="100%" color-interpolation-filters="sRGB"><feTurbulence type="fractalNoise" baseFrequency="0.75" numOctaves="1" seed="7" result="t"/><feColorMatrix in="t" type="matrix" values="2.6 0 0 0 -0.8  2.6 0 0 0 -0.8  2.6 0 0 0 -0.8  0 0 0 0 1" result="n"/><feComposite in="SourceGraphic" in2="n" operator="arithmetic" k1="0.34" k2="0.86" k3="0" k4="0"/></filter>
<filter id="fn2" x="0" y="0" width="100%" height="100%" color-interpolation-filters="sRGB"><feTurbulence type="fractalNoise" baseFrequency="0.4" numOctaves="2" seed="11" result="t"/><feColorMatrix in="t" type="matrix" values="1.6 0 0 0 -0.3  0 1.6 0 0 -0.3  0 0 1.6 0 -0.3  0 0 0 0 1" result="n"/><feComposite in="SourceGraphic" in2="n" operator="arithmetic" k1="0.14" k2="0.96" k3="0" k4="0"/></filter>
</defs>
<clipPath id="ch"><rect x="361.1" y="46.4" width="320.69999999999993" height="45.2"/></clipPath>
<g clip-path="url(#ch)"><g filter="url(#fn1)">
<rect x="355" y="40" width="161" height="60" fill="#000"/>
<rect x="514" y="40" width="175" height="60" fill="url(#pst)"/>
<rect x="513" y="40" width="176" height="60" fill="url(#genv)"/>
</g></g>
<rect x="361.1" y="120.1" width="320.69999999999993" height="45.2" fill="url(#gpi)" filter="url(#fn2)"/>
<rect x="361.1" y="192.7" width="320.69999999999993" height="44.9" fill="url(#gps)" filter="url(#fn2)"/>
<text x="440.7" y="39.0" font-size="16.4" text-anchor="middle" fill="#000">5</text>
<path d="M438.35,40.9 h2.5 v5.5 h2.45 L439.60,53.3 L435.90,46.4 h2.45 Z" fill="#ff0000"/>
<text x="492.9" y="39.0" font-size="16.4" text-anchor="middle" fill="#000">4</text>
<path d="M491.55,40.9 h2.5 v5.5 h2.45 L492.80,53.3 L489.10,46.4 h2.45 Z" fill="#ff0000"/>
<text x="519.3" y="39.0" font-size="16.4" text-anchor="middle" fill="#000">3</text>
<path d="M518.15,40.9 h2.5 v5.5 h2.45 L519.40,53.3 L515.70,46.4 h2.45 Z" fill="#ff0000"/>
<text x="545.9" y="39.0" font-size="16.4" text-anchor="middle" fill="#000">2</text>
<path d="M544.55,40.9 h2.5 v5.5 h2.45 L545.80,53.3 L542.10,46.4 h2.45 Z" fill="#ff0000"/>
<text x="598.8" y="39.0" font-size="16.4" text-anchor="middle" fill="#000">1</text>
<path d="M597.75,40.9 h2.5 v5.5 h2.45 L599.00,53.3 L595.30,46.4 h2.45 Z" fill="#ff0000"/>
<text x="412.6" y="15.6" font-size="17.4" textLength="55.9" lengthAdjust="spacingAndGlyphs" fill="#000">(-6 nm)</text>
<text x="572.4" y="15.6" font-size="17.4" textLength="51.4" lengthAdjust="spacingAndGlyphs" fill="#000">(6 nm)</text>
<text x="629.6" y="37.2" font-size="16.6" textLength="53.3" lengthAdjust="spacingAndGlyphs" fill="#000">HAADF</text>
<text x="385.2" y="77.9" font-size="18.4" fill="#fff">SiO<tspan font-size="12.5" dy="4.6">2</tspan></text>
<text x="616.4" y="75.0" font-size="18" fill="#000">Bi<tspan font-size="12.5" dy="4.4">2</tspan><tspan dy="-4.4">Se</tspan><tspan font-size="12.5" dy="4.4">3</tspan></text>
<text x="590.8" y="112.5" font-size="17.4" textLength="92.6" lengthAdjust="spacingAndGlyphs" fill="#000">π - plasmon</text>
<text x="570.6" y="184.6" font-size="17.4" textLength="112.8" lengthAdjust="spacingAndGlyphs" fill="#000">π+σ - plasmon</text>
<text x="441.8" y="148.9" font-size="18.4" textLength="56.4" lengthAdjust="spacingAndGlyphs" fill="#fff" stroke="#3c3c3c" stroke-width="1.5" stroke-linejoin="round" paint-order="stroke">5.6 eV</text>
<text x="617.3" y="149.3" font-size="17.8" textLength="38.6" lengthAdjust="spacingAndGlyphs" fill="#fff" stroke="#3c3c3c" stroke-width="1.5" stroke-linejoin="round" paint-order="stroke">7 eV</text>
<text x="368.2" y="222.0" font-size="18.2" textLength="49.6" lengthAdjust="spacingAndGlyphs" fill="#fff" stroke="#3c3c3c" stroke-width="1.5" stroke-linejoin="round" paint-order="stroke">23 eV</text>
<text x="607.2" y="222.0" font-size="18.2" textLength="66.6" lengthAdjust="spacingAndGlyphs" fill="#fff" stroke="#3c3c3c" stroke-width="1.5" stroke-linejoin="round" paint-order="stroke">17.3 eV</text>
</svg>
</body></html>
